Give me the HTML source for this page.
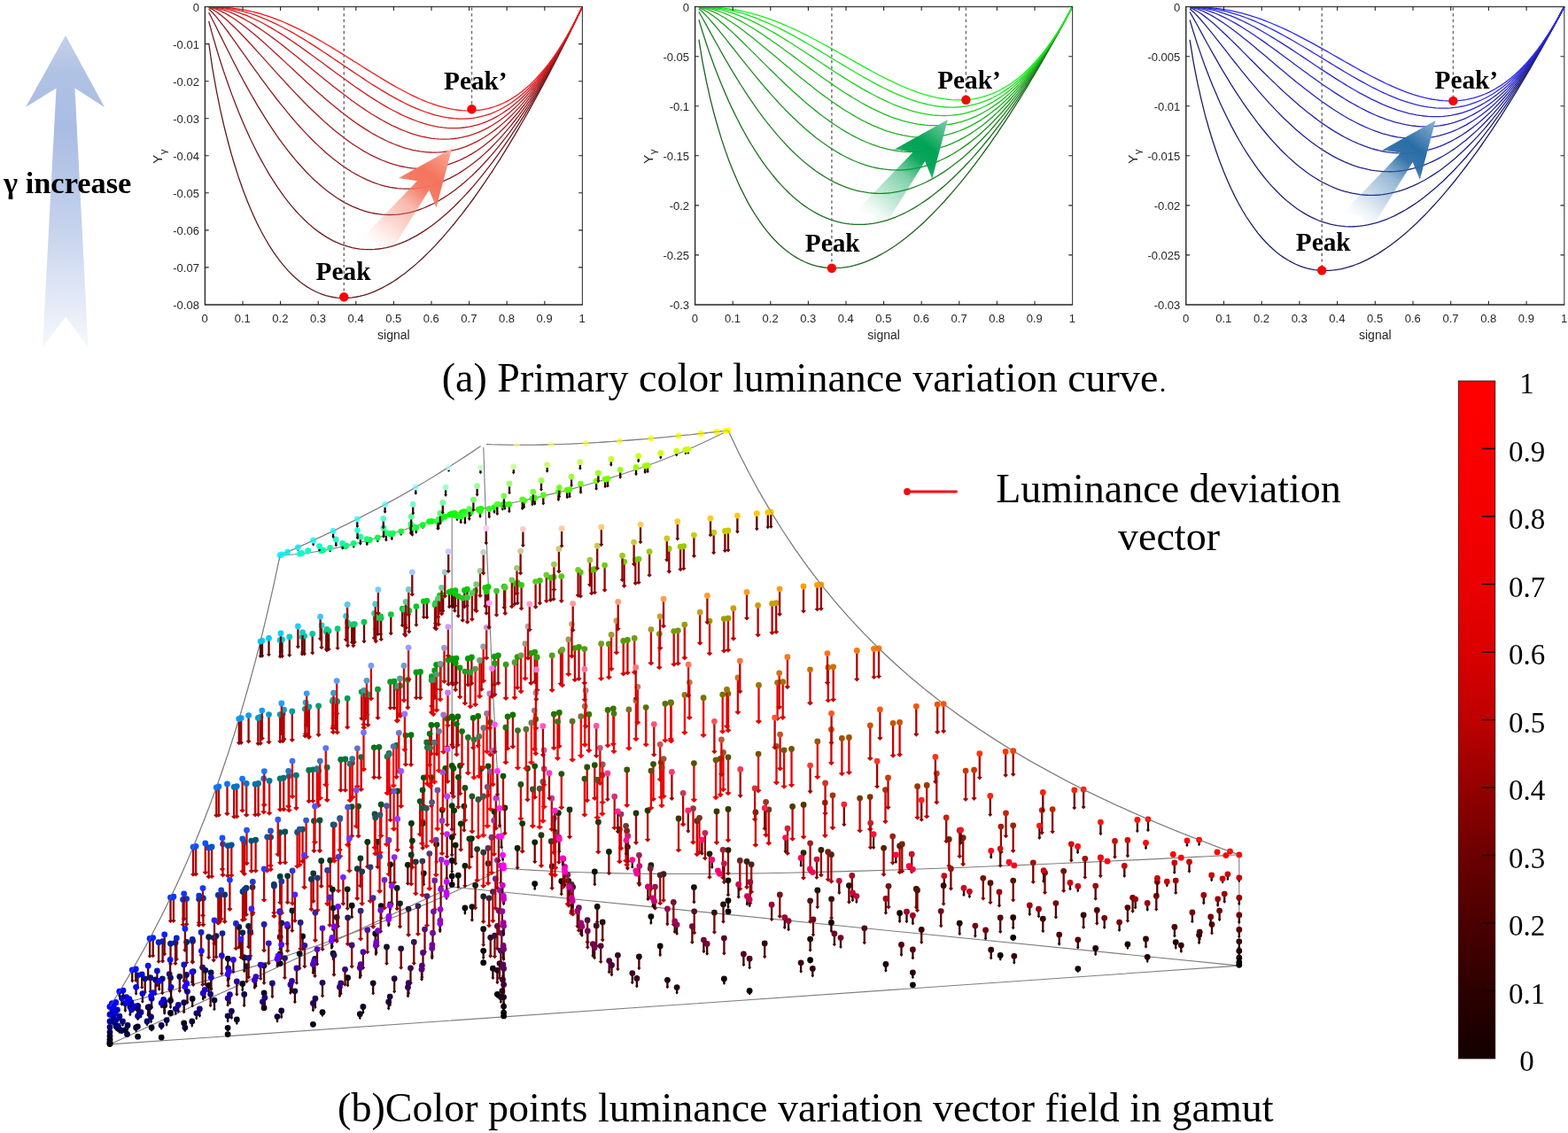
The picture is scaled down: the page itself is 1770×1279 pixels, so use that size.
<!DOCTYPE html>
<html lang="en">
<head>
<meta charset="utf-8">
<title>Luminance variation</title>
<style>html,body{margin:0;padding:0;background:#fff}body{width:1770px;height:1279px;overflow:hidden}svg{display:block}</style>
</head>
<body>
<svg width="1770" height="1279" viewBox="0 0 1770 1279" role="img" aria-label="Primary color luminance variation curves and luminance deviation vector field in gamut">
<defs>
<linearGradient id="gA" gradientUnits="userSpaceOnUse" x1="0" y1="40" x2="0" y2="392"><stop offset="0" stop-color="#c3d1ea"/><stop offset="0.12" stop-color="#b0c2e4"/><stop offset="0.3" stop-color="#a9bce3"/><stop offset="0.6" stop-color="#c4d1ec"/><stop offset="0.85" stop-color="#e3e9f6"/><stop offset="1" stop-color="#f6f8fc"/></linearGradient>
<linearGradient id="gar" gradientUnits="userSpaceOnUse" x1="420.5" y1="282.8" x2="510.2" y2="167.6"><stop offset="0" stop-color="#f4745c" stop-opacity="0"/><stop offset="0.1" stop-color="#f4745c" stop-opacity="0.06"/><stop offset="0.45" stop-color="#f4745c" stop-opacity="0.5"/><stop offset="0.62" stop-color="#f4745c" stop-opacity="0.95"/><stop offset="0.74" stop-color="#f4745c" stop-opacity="1"/><stop offset="1" stop-color="#f9b0a0" stop-opacity="1"/></linearGradient>
<linearGradient id="gag" gradientUnits="userSpaceOnUse" x1="980.2" y1="250.3" x2="1069.9" y2="135.1"><stop offset="0" stop-color="#00a254" stop-opacity="0"/><stop offset="0.1" stop-color="#00a254" stop-opacity="0.06"/><stop offset="0.45" stop-color="#00a254" stop-opacity="0.5"/><stop offset="0.62" stop-color="#00a254" stop-opacity="0.95"/><stop offset="0.74" stop-color="#00a254" stop-opacity="1"/><stop offset="1" stop-color="#7fcfa6" stop-opacity="1"/></linearGradient>
<linearGradient id="gab" gradientUnits="userSpaceOnUse" x1="1530.8" y1="251.2" x2="1620.5" y2="136"><stop offset="0" stop-color="#2a6da6" stop-opacity="0"/><stop offset="0.1" stop-color="#2a6da6" stop-opacity="0.06"/><stop offset="0.45" stop-color="#2a6da6" stop-opacity="0.5"/><stop offset="0.62" stop-color="#2a6da6" stop-opacity="0.95"/><stop offset="0.74" stop-color="#2a6da6" stop-opacity="1"/><stop offset="1" stop-color="#8fb3d2" stop-opacity="1"/></linearGradient>
<linearGradient id="gC" x1="0" y1="1" x2="0" y2="0"><stop offset="0" stop-color="rgb(18,0,0)"/><stop offset="0.1" stop-color="rgb(45,0,0)"/><stop offset="0.2" stop-color="rgb(75,0,0)"/><stop offset="0.3" stop-color="rgb(108,0,0)"/><stop offset="0.4" stop-color="rgb(148,0,0)"/><stop offset="0.5" stop-color="rgb(190,0,0)"/><stop offset="0.6" stop-color="rgb(218,0,0)"/><stop offset="0.7" stop-color="rgb(234,0,0)"/><stop offset="0.8" stop-color="rgb(244,0,0)"/><stop offset="0.9" stop-color="rgb(250,0,0)"/><stop offset="1" stop-color="rgb(255,0,0)"/></linearGradient>
</defs>
<rect width="1770" height="1279" fill="#fff"/>
<path d="M74,40 L118,121 L84.5,99.5 L99.5,392 L74,357.5 L48,392 L63.5,99.5 L29,121 Z" fill="url(#gA)"/>
<text x="4" y="218" font-family="'Liberation Serif', serif" font-weight="bold" font-size="34.4">γ increase</text>
<g>
<polyline points="235.7,48.77 239.9,77.55 244.2,101.64 248.4,122.7 252.7,141.51 257,158.51 261.2,174.01 265.5,188.24 269.7,201.34 274,213.45 278.3,224.66 282.5,235.06 286.8,244.71 291,253.67 295.3,262 299.6,269.73 303.8,276.9 308.1,283.54 312.3,289.69 316.6,295.36 320.9,300.59 325.1,305.39 329.4,309.79 333.6,313.8 337.9,317.43 342.2,320.71 346.4,323.64 350.7,326.24 354.9,328.53 359.2,330.5 363.5,332.18 367.7,333.56 372,334.67 376.2,335.51 380.5,336.08 384.8,336.4 389,336.47 393.3,336.3 397.5,335.89 401.8,335.26 406.1,334.4 410.3,333.32 414.6,332.03 418.8,330.53 423.1,328.83 427.4,326.93 431.6,324.84 435.9,322.55 440.1,320.08 444.4,317.43 448.7,314.6 452.9,311.59 457.2,308.41 461.4,305.06 465.7,301.55 470,297.87 474.2,294.04 478.5,290.05 482.7,285.9 487,281.6 491.3,277.15 495.5,272.56 499.8,267.82 504,262.94 508.3,257.92 512.6,252.77 516.8,247.47 521.1,242.05 525.3,236.49 529.6,230.8 533.9,224.99 538.1,219.05 542.4,212.98 546.6,206.8 550.9,200.49 555.2,194.06 559.4,187.51 563.7,180.85 567.9,174.08 572.2,167.19 576.5,160.19 580.7,153.08 585,145.86 589.2,138.53 593.5,131.1 597.8,123.56 602,115.91 606.3,108.17 610.5,100.32 614.8,92.37 619.1,84.32 623.3,76.18 627.6,67.94 631.8,59.6 636.1,51.16 640.4,42.63 644.6,34.01 648.9,25.3 653.1,16.49 657.4,7.6" fill="none" stroke="rgb(98,26,30)" stroke-width="1.3"/>
<polyline points="235.7,23.99 239.9,39.59 244.2,54.24 248.4,68.07 252.7,81.15 257,93.57 261.2,105.37 265.5,116.6 269.7,127.29 274,137.48 278.3,147.19 282.5,156.45 286.8,165.27 291,173.67 295.3,181.67 299.6,189.29 303.8,196.54 308.1,203.43 312.3,209.96 316.6,216.16 320.9,222.04 325.1,227.59 329.4,232.83 333.6,237.77 337.9,242.41 342.2,246.76 346.4,250.83 350.7,254.62 354.9,258.14 359.2,261.4 363.5,264.4 367.7,267.14 372,269.63 376.2,271.87 380.5,273.87 384.8,275.64 389,277.17 393.3,278.47 397.5,279.54 401.8,280.39 406.1,281.03 410.3,281.44 414.6,281.64 418.8,281.63 423.1,281.42 427.4,281 431.6,280.38 435.9,279.55 440.1,278.54 444.4,277.32 448.7,275.92 452.9,274.32 457.2,272.54 461.4,270.57 465.7,268.42 470,266.09 474.2,263.58 478.5,260.89 482.7,258.03 487,254.99 491.3,251.78 495.5,248.4 499.8,244.85 504,241.14 508.3,237.26 512.6,233.22 516.8,229.01 521.1,224.64 525.3,220.12 529.6,215.44 533.9,210.6 538.1,205.6 542.4,200.45 546.6,195.15 550.9,189.7 555.2,184.1 559.4,178.35 563.7,172.45 567.9,166.41 572.2,160.22 576.5,153.89 580.7,147.42 585,140.8 589.2,134.04 593.5,127.15 597.8,120.11 602,112.94 606.3,105.63 610.5,98.18 614.8,90.6 619.1,82.89 623.3,75.04 627.6,67.07 631.8,58.96 636.1,50.72 640.4,42.35 644.6,33.85 648.9,25.23 653.1,16.48 657.4,7.6" fill="none" stroke="rgb(113,26,30)" stroke-width="1.3"/>
<polyline points="235.7,14.12 239.9,22.23 244.2,30.73 248.4,39.36 252.7,48 257,56.57 261.2,65.04 265.5,73.37 269.7,81.55 274,89.55 278.3,97.37 282.5,105 286.8,112.44 291,119.68 295.3,126.71 299.6,133.54 303.8,140.16 308.1,146.57 312.3,152.77 316.6,158.76 320.9,164.54 325.1,170.11 329.4,175.47 333.6,180.62 337.9,185.55 342.2,190.28 346.4,194.79 350.7,199.1 354.9,203.2 359.2,207.09 363.5,210.77 367.7,214.25 372,217.52 376.2,220.58 380.5,223.44 384.8,226.1 389,228.56 393.3,230.81 397.5,232.86 401.8,234.72 406.1,236.37 410.3,237.82 414.6,239.08 418.8,240.14 423.1,241 427.4,241.67 431.6,242.15 435.9,242.43 440.1,242.51 444.4,242.41 448.7,242.11 452.9,241.63 457.2,240.95 461.4,240.08 465.7,239.03 470,237.79 474.2,236.36 478.5,234.75 482.7,232.95 487,230.96 491.3,228.8 495.5,226.45 499.8,223.91 504,221.2 508.3,218.3 512.6,215.22 516.8,211.97 521.1,208.53 525.3,204.92 529.6,201.13 533.9,197.16 538.1,193.01 542.4,188.69 546.6,184.19 550.9,179.52 555.2,174.67 559.4,169.66 563.7,164.46 567.9,159.1 572.2,153.56 576.5,147.85 580.7,141.98 585,135.93 589.2,129.71 593.5,123.32 597.8,116.77 602,110.04 606.3,103.15 610.5,96.1 614.8,88.87 619.1,81.48 623.3,73.93 627.6,66.21 631.8,58.33 636.1,50.28 640.4,42.07 644.6,33.69 648.9,25.16 653.1,16.46 657.4,7.6" fill="none" stroke="rgb(129,26,30)" stroke-width="1.3"/>
<polyline points="235.7,10.2 239.9,14.29 244.2,19.07 248.4,24.29 252.7,29.79 257,35.5 261.2,41.35 265.5,47.29 269.7,53.28 274,59.31 278.3,65.33 282.5,71.34 286.8,77.31 291,83.24 295.3,89.1 299.6,94.89 303.8,100.6 308.1,106.22 312.3,111.74 316.6,117.16 320.9,122.46 325.1,127.65 329.4,132.72 333.6,137.65 337.9,142.46 342.2,147.13 346.4,151.67 350.7,156.06 354.9,160.3 359.2,164.4 363.5,168.34 367.7,172.14 372,175.77 376.2,179.25 380.5,182.57 384.8,185.72 389,188.71 393.3,191.54 397.5,194.2 401.8,196.69 406.1,199 410.3,201.15 414.6,203.13 418.8,204.93 423.1,206.55 427.4,208 431.6,209.27 435.9,210.37 440.1,211.28 444.4,212.01 448.7,212.56 452.9,212.94 457.2,213.12 461.4,213.13 465.7,212.95 470,212.59 474.2,212.04 478.5,211.3 482.7,210.38 487,209.27 491.3,207.98 495.5,206.49 499.8,204.82 504,202.96 508.3,200.91 512.6,198.67 516.8,196.24 521.1,193.62 525.3,190.8 529.6,187.8 533.9,184.61 538.1,181.22 542.4,177.64 546.6,173.87 550.9,169.91 555.2,165.75 559.4,161.4 563.7,156.86 567.9,152.12 572.2,147.19 576.5,142.07 580.7,136.75 585,131.23 589.2,125.53 593.5,119.62 597.8,113.52 602,107.23 606.3,100.74 610.5,94.06 614.8,87.18 619.1,80.1 623.3,72.83 627.6,65.36 631.8,57.7 636.1,49.84 640.4,41.79 644.6,33.53 648.9,25.09 653.1,16.44 657.4,7.6" fill="none" stroke="rgb(145,26,30)" stroke-width="1.3"/>
<polyline points="235.7,8.63 239.9,10.66 244.2,13.29 248.4,16.36 252.7,19.79 257,23.49 261.2,27.43 265.5,31.55 269.7,35.82 274,40.22 278.3,44.73 282.5,49.31 286.8,53.96 291,58.65 295.3,63.37 299.6,68.11 303.8,72.85 308.1,77.59 312.3,82.31 316.6,87.01 320.9,91.67 325.1,96.29 329.4,100.85 333.6,105.36 337.9,109.81 342.2,114.18 346.4,118.48 350.7,122.69 354.9,126.81 359.2,130.84 363.5,134.78 367.7,138.61 372,142.33 376.2,145.94 380.5,149.43 384.8,152.8 389,156.05 393.3,159.18 397.5,162.17 401.8,165.02 406.1,167.74 410.3,170.32 414.6,172.76 418.8,175.05 423.1,177.19 427.4,179.17 431.6,181.01 435.9,182.68 440.1,184.2 444.4,185.55 448.7,186.74 452.9,187.76 457.2,188.62 461.4,189.3 465.7,189.81 470,190.14 474.2,190.3 478.5,190.27 482.7,190.07 487,189.69 491.3,189.11 495.5,188.36 499.8,187.41 504,186.28 508.3,184.95 512.6,183.43 516.8,181.72 521.1,179.81 525.3,177.7 529.6,175.39 533.9,172.89 538.1,170.18 542.4,167.27 546.6,164.15 550.9,160.83 555.2,157.3 559.4,153.57 563.7,149.62 567.9,145.47 572.2,141.1 576.5,136.52 580.7,131.72 585,126.71 589.2,121.48 593.5,116.04 597.8,110.38 602,104.49 606.3,98.39 610.5,92.07 614.8,85.52 619.1,78.75 623.3,71.75 627.6,64.53 631.8,57.09 636.1,49.41 640.4,41.51 644.6,33.38 648.9,25.02 653.1,16.42 657.4,7.6" fill="none" stroke="rgb(161,26,30)" stroke-width="1.3"/>
<polyline points="235.7,8.01 239.9,9 244.2,10.42 248.4,12.2 252.7,14.3 257,16.65 261.2,19.25 265.5,22.05 269.7,25.04 274,28.18 278.3,31.48 282.5,34.89 286.8,38.42 291,42.05 295.3,45.76 299.6,49.54 303.8,53.38 308.1,57.27 312.3,61.2 316.6,65.15 320.9,69.13 325.1,73.11 329.4,77.1 333.6,81.09 337.9,85.06 342.2,89.01 346.4,92.93 350.7,96.82 354.9,100.67 359.2,104.47 363.5,108.22 367.7,111.91 372,115.53 376.2,119.09 380.5,122.57 384.8,125.97 389,129.28 393.3,132.51 397.5,135.64 401.8,138.66 406.1,141.59 410.3,144.4 414.6,147.11 418.8,149.69 423.1,152.16 427.4,154.49 431.6,156.7 435.9,158.78 440.1,160.72 444.4,162.52 448.7,164.17 452.9,165.68 457.2,167.03 461.4,168.23 465.7,169.27 470,170.15 474.2,170.87 478.5,171.42 482.7,171.8 487,172 491.3,172.03 495.5,171.88 499.8,171.54 504,171.02 508.3,170.31 512.6,169.41 516.8,168.32 521.1,167.02 525.3,165.53 529.6,163.84 533.9,161.95 538.1,159.84 542.4,157.53 546.6,155 550.9,152.27 555.2,149.31 559.4,146.13 563.7,142.74 567.9,139.12 572.2,135.27 576.5,131.2 580.7,126.89 585,122.35 589.2,117.58 593.5,112.57 597.8,107.32 602,101.83 606.3,96.1 610.5,90.12 614.8,83.89 619.1,77.42 623.3,70.69 627.6,63.71 631.8,56.48 636.1,48.98 640.4,41.23 644.6,33.22 648.9,24.95 653.1,16.41 657.4,7.6" fill="none" stroke="rgb(176,26,30)" stroke-width="1.3"/>
<polyline points="235.7,7.76 239.9,8.24 244.2,9 248.4,10.02 252.7,11.28 257,12.76 261.2,14.44 265.5,16.32 269.7,18.37 274,20.59 278.3,22.95 282.5,25.46 286.8,28.1 291,30.85 295.3,33.71 299.6,36.67 303.8,39.72 308.1,42.85 312.3,46.05 316.6,49.31 320.9,52.63 325.1,56 329.4,59.4 333.6,62.84 337.9,66.3 342.2,69.78 346.4,73.27 350.7,76.77 354.9,80.26 359.2,83.74 363.5,87.21 367.7,90.65 372,94.07 376.2,97.45 380.5,100.8 384.8,104.09 389,107.34 393.3,110.53 397.5,113.66 401.8,116.72 406.1,119.7 410.3,122.61 414.6,125.44 418.8,128.18 423.1,130.82 427.4,133.36 431.6,135.8 435.9,138.14 440.1,140.36 444.4,142.46 448.7,144.44 452.9,146.3 457.2,148.02 461.4,149.61 465.7,151.05 470,152.36 474.2,153.51 478.5,154.51 482.7,155.35 487,156.03 491.3,156.55 495.5,156.9 499.8,157.07 504,157.07 508.3,156.88 512.6,156.51 516.8,155.94 521.1,155.19 525.3,154.24 529.6,153.08 533.9,151.73 538.1,150.16 542.4,148.38 546.6,146.39 550.9,144.18 555.2,141.74 559.4,139.08 563.7,136.19 567.9,133.06 572.2,129.7 576.5,126.1 580.7,122.25 585,118.16 589.2,113.81 593.5,109.21 597.8,104.36 602,99.24 606.3,93.87 610.5,88.22 614.8,82.3 619.1,76.11 623.3,69.65 627.6,62.9 631.8,55.88 636.1,48.56 640.4,40.96 644.6,33.07 648.9,24.88 653.1,16.39 657.4,7.6" fill="none" stroke="rgb(192,26,30)" stroke-width="1.3"/>
<polyline points="235.7,7.67 239.9,7.89 244.2,8.29 248.4,8.87 252.7,9.62 257,10.54 261.2,11.62 265.5,12.86 269.7,14.26 274,15.79 278.3,17.47 282.5,19.29 286.8,21.23 291,23.29 295.3,25.47 299.6,27.75 303.8,30.14 308.1,32.61 312.3,35.18 316.6,37.83 320.9,40.56 325.1,43.35 329.4,46.21 333.6,49.12 337.9,52.09 342.2,55.1 346.4,58.14 350.7,61.22 354.9,64.32 359.2,67.45 363.5,70.58 367.7,73.73 372,76.87 376.2,80.01 380.5,83.15 384.8,86.26 389,89.35 393.3,92.42 397.5,95.45 401.8,98.45 406.1,101.39 410.3,104.29 414.6,107.14 418.8,109.92 423.1,112.63 427.4,115.27 431.6,117.84 435.9,120.32 440.1,122.71 444.4,125 448.7,127.2 452.9,129.29 457.2,131.27 461.4,133.14 465.7,134.89 470,136.51 474.2,137.99 478.5,139.35 482.7,140.56 487,141.62 491.3,142.53 495.5,143.28 499.8,143.88 504,144.3 508.3,144.56 512.6,144.63 516.8,144.53 521.1,144.23 525.3,143.75 529.6,143.07 533.9,142.19 538.1,141.1 542.4,139.8 546.6,138.28 550.9,136.54 555.2,134.58 559.4,132.38 563.7,129.95 567.9,127.28 572.2,124.37 576.5,121.21 580.7,117.79 585,114.11 589.2,110.17 593.5,105.96 597.8,101.48 602,96.73 606.3,91.69 610.5,86.36 614.8,80.75 619.1,74.83 623.3,68.62 627.6,62.11 631.8,55.28 636.1,48.14 640.4,40.69 644.6,32.91 648.9,24.81 653.1,16.37 657.4,7.6" fill="none" stroke="rgb(208,26,30)" stroke-width="1.3"/>
<polyline points="235.7,7.63 239.9,7.73 244.2,7.94 248.4,8.27 252.7,8.71 257,9.27 261.2,9.96 265.5,10.78 269.7,11.71 274,12.77 278.3,13.95 282.5,15.25 286.8,16.66 291,18.19 295.3,19.83 299.6,21.57 303.8,23.41 308.1,25.35 312.3,27.39 316.6,29.51 320.9,31.72 325.1,34.01 329.4,36.38 333.6,38.81 337.9,41.32 342.2,43.88 346.4,46.5 350.7,49.17 354.9,51.88 359.2,54.64 363.5,57.43 367.7,60.25 372,63.1 376.2,65.96 380.5,68.84 384.8,71.72 389,74.61 393.3,77.5 397.5,80.37 401.8,83.23 406.1,86.08 410.3,88.89 414.6,91.68 418.8,94.42 423.1,97.13 427.4,99.78 431.6,102.39 435.9,104.93 440.1,107.4 444.4,109.81 448.7,112.13 452.9,114.37 457.2,116.53 461.4,118.59 465.7,120.54 470,122.39 474.2,124.13 478.5,125.75 482.7,127.24 487,128.6 491.3,129.83 495.5,130.91 499.8,131.85 504,132.63 508.3,133.25 512.6,133.7 516.8,133.99 521.1,134.09 525.3,134.01 529.6,133.74 533.9,133.28 538.1,132.61 542.4,131.73 546.6,130.64 550.9,129.33 555.2,127.8 559.4,126.03 563.7,124.02 567.9,121.77 572.2,119.27 576.5,116.52 580.7,113.5 585,110.22 589.2,106.66 593.5,102.82 597.8,98.69 602,94.28 606.3,89.57 610.5,84.55 614.8,79.22 619.1,73.58 623.3,67.61 627.6,61.32 631.8,54.7 636.1,47.73 640.4,40.42 644.6,32.76 648.9,24.74 653.1,16.35 657.4,7.6" fill="none" stroke="rgb(224,26,30)" stroke-width="1.3"/>
<polyline points="235.7,7.61 239.9,7.66 244.2,7.77 248.4,7.95 252.7,8.21 257,8.55 261.2,8.99 265.5,9.52 269.7,10.14 274,10.86 278.3,11.68 282.5,12.61 286.8,13.63 291,14.75 295.3,15.97 299.6,17.28 303.8,18.69 308.1,20.2 312.3,21.8 316.6,23.48 320.9,25.25 325.1,27.11 329.4,29.05 333.6,31.06 337.9,33.15 342.2,35.31 346.4,37.54 350.7,39.82 354.9,42.17 359.2,44.57 363.5,47.02 367.7,49.52 372,52.06 376.2,54.63 380.5,57.24 384.8,59.87 389,62.53 393.3,65.2 397.5,67.88 401.8,70.57 406.1,73.26 410.3,75.94 414.6,78.62 418.8,81.28 423.1,83.91 427.4,86.52 431.6,89.1 435.9,91.64 440.1,94.13 444.4,96.58 448.7,98.96 452.9,101.28 457.2,103.54 461.4,105.72 465.7,107.81 470,109.82 474.2,111.74 478.5,113.55 482.7,115.26 487,116.85 491.3,118.32 495.5,119.67 499.8,120.88 504,121.95 508.3,122.88 512.6,123.65 516.8,124.26 521.1,124.7 525.3,124.97 529.6,125.06 533.9,124.95 538.1,124.66 542.4,124.16 546.6,123.45 550.9,122.52 555.2,121.38 559.4,120 563.7,118.38 567.9,116.51 572.2,114.4 576.5,112.02 580.7,109.38 585,106.46 589.2,103.26 593.5,99.77 597.8,95.99 602,91.9 606.3,87.5 610.5,82.77 614.8,77.73 619.1,72.34 623.3,66.62 627.6,60.55 631.8,54.12 636.1,47.32 640.4,40.15 644.6,32.6 648.9,24.67 653.1,16.34 657.4,7.6" fill="none" stroke="rgb(240,26,30)" stroke-width="1.3"/>
<path d="M510.2,167.6 L492.5,234.3 L484.4,214.6 L435,294 L426.7,274.9 L406.1,271.6 L470.9,204.2 L449.9,201.1Z" fill="url(#gar)"/>
<line x1="388.3" y1="8.6" x2="388.3" y2="335.3" stroke="#6e6e6e" stroke-width="1.5" stroke-dasharray="3.2 3.4"/>
<line x1="532.5" y1="8.6" x2="532.5" y2="123.3" stroke="#6e6e6e" stroke-width="1.5" stroke-dasharray="3.2 3.4"/>
<circle cx="388.3" cy="335.3" r="5.2" fill="#f60505"/>
<circle cx="532.5" cy="123.3" r="5.2" fill="#f60505"/>
<text x="356.6" y="315.8" font-family="'Liberation Serif', serif" font-weight="bold" font-size="29.3">Peak</text>
<text x="501" y="100.8" font-family="'Liberation Serif', serif" font-weight="bold" font-size="29.3">Peak’</text>
<path d="M231.4,7.6H657.4V344" fill="none" stroke="#3a3a3a" stroke-width="1.1"/>
<path d="M231.4,7.1V344H657.9" fill="none" stroke="#262626" stroke-width="1.4"/>
<path d="M274,344v-4.3M274,7.6v4.3M316.6,344v-4.3M316.6,7.6v4.3M359.2,344v-4.3M359.2,7.6v4.3M401.8,344v-4.3M401.8,7.6v4.3M444.4,344v-4.3M444.4,7.6v4.3M487,344v-4.3M487,7.6v4.3M529.6,344v-4.3M529.6,7.6v4.3M572.2,344v-4.3M572.2,7.6v4.3M614.8,344v-4.3M614.8,7.6v4.3M231.4,49.6h4.3M657.4,49.6h-4.3M231.4,91.7h4.3M657.4,91.7h-4.3M231.4,133.8h4.3M657.4,133.8h-4.3M231.4,175.8h4.3M657.4,175.8h-4.3M231.4,217.8h4.3M657.4,217.8h-4.3M231.4,259.9h4.3M657.4,259.9h-4.3M231.4,301.9h4.3M657.4,301.9h-4.3" stroke="#262626" stroke-width="1.1" fill="none"/>
<g font-family="'Liberation Sans', sans-serif" font-size="13" fill="#262626">
<text x="231.2" y="363.6" text-anchor="middle">0</text>
<text x="273.8" y="363.6" text-anchor="middle">0.1</text>
<text x="316.4" y="363.6" text-anchor="middle">0.2</text>
<text x="359" y="363.6" text-anchor="middle">0.3</text>
<text x="401.6" y="363.6" text-anchor="middle">0.4</text>
<text x="444.2" y="363.6" text-anchor="middle">0.5</text>
<text x="486.8" y="363.6" text-anchor="middle">0.6</text>
<text x="529.4" y="363.6" text-anchor="middle">0.7</text>
<text x="572" y="363.6" text-anchor="middle">0.8</text>
<text x="614.6" y="363.6" text-anchor="middle">0.9</text>
<text x="657.2" y="363.6" text-anchor="middle">1</text>
<text x="224.9" y="13" text-anchor="end">0</text>
<text x="224.9" y="55" text-anchor="end">-0.01</text>
<text x="224.9" y="97.1" text-anchor="end">-0.02</text>
<text x="224.9" y="139.2" text-anchor="end">-0.03</text>
<text x="224.9" y="181.2" text-anchor="end">-0.04</text>
<text x="224.9" y="223.2" text-anchor="end">-0.05</text>
<text x="224.9" y="265.3" text-anchor="end">-0.06</text>
<text x="224.9" y="307.3" text-anchor="end">-0.07</text>
<text x="224.9" y="349.4" text-anchor="end">-0.08</text>
</g>
<text x="444.4" y="383" text-anchor="middle" font-family="'Liberation Sans', sans-serif" font-size="14" fill="#262626">signal</text>
<text transform="translate(183.4,184.8) rotate(-90)" font-family="'Liberation Sans', sans-serif" font-size="15" fill="#262626">Y<tspan dy="4.5" dx="0.5" font-size="11.5">γ</tspan></text>
</g>
<g>
<polyline points="788.9,44.53 793.1,70.35 797.4,91.97 801.6,110.86 805.9,127.73 810.2,142.98 814.4,156.89 818.7,169.65 822.9,181.4 827.2,192.26 831.5,202.32 835.7,211.65 840,220.31 844.2,228.35 848.5,235.82 852.8,242.75 857,249.18 861.3,255.14 865.5,260.66 869.8,265.75 874.1,270.44 878.3,274.75 882.6,278.69 886.8,282.28 891.1,285.54 895.4,288.48 899.6,291.12 903.9,293.45 908.1,295.5 912.4,297.27 916.7,298.77 920.9,300.02 925.2,301.01 929.4,301.76 933.7,302.28 938,302.56 942.2,302.63 946.5,302.47 950.7,302.11 955,301.54 959.3,300.77 963.5,299.8 967.8,298.64 972,297.3 976.3,295.77 980.6,294.07 984.8,292.19 989.1,290.14 993.3,287.92 997.6,285.54 1001.9,283 1006.1,280.31 1010.4,277.45 1014.6,274.45 1018.9,271.3 1023.2,268 1027.4,264.56 1031.7,260.98 1035.9,257.26 1040.2,253.4 1044.5,249.41 1048.7,245.29 1053,241.04 1057.2,236.66 1061.5,232.16 1065.8,227.53 1070,222.79 1074.3,217.92 1078.5,212.93 1082.8,207.83 1087.1,202.62 1091.3,197.29 1095.6,191.85 1099.8,186.29 1104.1,180.64 1108.4,174.87 1112.6,169 1116.9,163.02 1121.1,156.94 1125.4,150.76 1129.7,144.48 1133.9,138.11 1138.2,131.63 1142.4,125.06 1146.7,118.39 1151,111.62 1155.2,104.77 1159.5,97.82 1163.7,90.78 1168,83.65 1172.3,76.43 1176.5,69.12 1180.8,61.73 1185,54.25 1189.3,46.68 1193.6,39.03 1197.8,31.29 1202.1,23.48 1206.3,15.58 1210.6,7.6" fill="none" stroke="rgb(28,98,30)" stroke-width="1.3"/>
<polyline points="788.9,22.3 793.1,36.29 797.4,49.44 801.6,61.84 805.9,73.58 810.2,84.72 814.4,95.31 818.7,105.38 822.9,114.97 827.2,124.11 831.5,132.82 835.7,141.13 840,149.04 844.2,156.58 848.5,163.76 852.8,170.59 857,177.09 861.3,183.27 865.5,189.14 869.8,194.7 874.1,199.97 878.3,204.95 882.6,209.65 886.8,214.08 891.1,218.24 895.4,222.15 899.6,225.8 903.9,229.2 908.1,232.36 912.4,235.28 916.7,237.97 920.9,240.43 925.2,242.66 929.4,244.67 933.7,246.47 938,248.05 942.2,249.42 946.5,250.59 950.7,251.56 955,252.32 959.3,252.89 963.5,253.26 967.8,253.44 972,253.43 976.3,253.24 980.6,252.86 984.8,252.3 989.1,251.57 993.3,250.65 997.6,249.56 1001.9,248.3 1006.1,246.87 1010.4,245.28 1014.6,243.51 1018.9,241.58 1023.2,239.49 1027.4,237.24 1031.7,234.82 1035.9,232.26 1040.2,229.53 1044.5,226.65 1048.7,223.62 1053,220.44 1057.2,217.1 1061.5,213.62 1065.8,210 1070,206.22 1074.3,202.31 1078.5,198.25 1082.8,194.05 1087.1,189.7 1091.3,185.22 1095.6,180.61 1099.8,175.85 1104.1,170.96 1108.4,165.94 1112.6,160.78 1116.9,155.49 1121.1,150.07 1125.4,144.52 1129.7,138.84 1133.9,133.03 1138.2,127.09 1142.4,121.03 1146.7,114.84 1151,108.53 1155.2,102.1 1159.5,95.54 1163.7,88.86 1168,82.06 1172.3,75.14 1176.5,68.1 1180.8,60.95 1185,53.67 1189.3,46.28 1193.6,38.77 1197.8,31.15 1202.1,23.41 1206.3,15.56 1210.6,7.6" fill="none" stroke="rgb(28,113,30)" stroke-width="1.3"/>
<polyline points="788.9,13.45 793.1,20.72 797.4,28.35 801.6,36.09 805.9,43.84 810.2,51.53 814.4,59.13 818.7,66.6 822.9,73.94 827.2,81.12 831.5,88.13 835.7,94.98 840,101.65 844.2,108.14 848.5,114.45 852.8,120.58 857,126.52 861.3,132.27 865.5,137.83 869.8,143.21 874.1,148.39 878.3,153.39 882.6,158.19 886.8,162.81 891.1,167.24 895.4,171.48 899.6,175.53 903.9,179.39 908.1,183.07 912.4,186.56 916.7,189.86 920.9,192.98 925.2,195.91 929.4,198.66 933.7,201.23 938,203.61 942.2,205.82 946.5,207.84 950.7,209.68 955,211.34 959.3,212.82 963.5,214.13 967.8,215.26 972,216.21 976.3,216.98 980.6,217.58 984.8,218.01 989.1,218.26 993.3,218.34 997.6,218.24 1001.9,217.98 1006.1,217.54 1010.4,216.93 1014.6,216.16 1018.9,215.21 1023.2,214.1 1027.4,212.82 1031.7,211.37 1035.9,209.76 1040.2,207.98 1044.5,206.03 1048.7,203.92 1053,201.65 1057.2,199.21 1061.5,196.62 1065.8,193.86 1070,190.93 1074.3,187.85 1078.5,184.61 1082.8,181.21 1087.1,177.65 1091.3,173.93 1095.6,170.05 1099.8,166.02 1104.1,161.83 1108.4,157.48 1112.6,152.98 1116.9,148.32 1121.1,143.51 1125.4,138.54 1129.7,133.42 1133.9,128.15 1138.2,122.72 1142.4,117.14 1146.7,111.41 1151,105.53 1155.2,99.5 1159.5,93.32 1163.7,86.99 1168,80.51 1172.3,73.88 1176.5,67.1 1180.8,60.18 1185,53.11 1189.3,45.89 1193.6,38.52 1197.8,31.01 1202.1,23.35 1206.3,15.55 1210.6,7.6" fill="none" stroke="rgb(28,129,30)" stroke-width="1.3"/>
<polyline points="788.9,9.93 793.1,13.6 797.4,17.89 801.6,22.57 805.9,27.51 810.2,32.63 814.4,37.87 818.7,43.2 822.9,48.58 827.2,53.99 831.5,59.39 835.7,64.78 840,70.14 844.2,75.45 848.5,80.71 852.8,85.91 857,91.03 861.3,96.07 865.5,101.03 869.8,105.88 874.1,110.64 878.3,115.3 882.6,119.84 886.8,124.27 891.1,128.58 895.4,132.77 899.6,136.84 903.9,140.78 908.1,144.59 912.4,148.26 916.7,151.8 920.9,155.2 925.2,158.46 929.4,161.58 933.7,164.56 938,167.39 942.2,170.07 946.5,172.61 950.7,174.99 955,177.23 959.3,179.31 963.5,181.23 967.8,183 972,184.62 976.3,186.08 980.6,187.38 984.8,188.52 989.1,189.5 993.3,190.32 997.6,190.97 1001.9,191.47 1006.1,191.8 1010.4,191.97 1014.6,191.98 1018.9,191.82 1023.2,191.49 1027.4,191 1031.7,190.34 1035.9,189.51 1040.2,188.52 1044.5,187.35 1048.7,186.02 1053,184.52 1057.2,182.85 1061.5,181.01 1065.8,179 1070,176.82 1074.3,174.47 1078.5,171.95 1082.8,169.26 1087.1,166.39 1091.3,163.35 1095.6,160.14 1099.8,156.76 1104.1,153.2 1108.4,149.48 1112.6,145.57 1116.9,141.5 1121.1,137.25 1125.4,132.82 1129.7,128.23 1133.9,123.46 1138.2,118.51 1142.4,113.39 1146.7,108.09 1151,102.62 1155.2,96.98 1159.5,91.16 1163.7,85.16 1168,78.99 1172.3,72.64 1176.5,66.12 1180.8,59.42 1185,52.55 1189.3,45.49 1193.6,38.27 1197.8,30.87 1202.1,23.29 1206.3,15.53 1210.6,7.6" fill="none" stroke="rgb(28,145,30)" stroke-width="1.3"/>
<polyline points="788.9,8.53 793.1,10.34 797.4,12.7 801.6,15.46 805.9,18.53 810.2,21.86 814.4,25.39 818.7,29.08 822.9,32.92 827.2,36.87 831.5,40.91 835.7,45.02 840,49.19 844.2,53.39 848.5,57.63 852.8,61.88 857,66.14 861.3,70.39 865.5,74.62 869.8,78.83 874.1,83.02 878.3,87.16 882.6,91.26 886.8,95.3 891.1,99.29 895.4,103.21 899.6,107.06 903.9,110.84 908.1,114.54 912.4,118.16 916.7,121.69 920.9,125.12 925.2,128.46 929.4,131.7 933.7,134.83 938,137.86 942.2,140.77 946.5,143.58 950.7,146.26 955,148.82 959.3,151.26 963.5,153.58 967.8,155.76 972,157.81 976.3,159.73 980.6,161.52 984.8,163.16 989.1,164.66 993.3,166.02 997.6,167.24 1001.9,168.3 1006.1,169.22 1010.4,169.99 1014.6,170.6 1018.9,171.05 1023.2,171.35 1027.4,171.49 1031.7,171.47 1035.9,171.29 1040.2,170.95 1044.5,170.43 1048.7,169.75 1053,168.91 1057.2,167.89 1061.5,166.7 1065.8,165.34 1070,163.8 1074.3,162.08 1078.5,160.19 1082.8,158.13 1087.1,155.88 1091.3,153.45 1095.6,150.84 1099.8,148.04 1104.1,145.06 1108.4,141.9 1112.6,138.55 1116.9,135.01 1121.1,131.28 1125.4,127.36 1129.7,123.25 1133.9,118.95 1138.2,114.45 1142.4,109.76 1146.7,104.88 1151,99.8 1155.2,94.52 1159.5,89.05 1163.7,83.37 1168,77.5 1172.3,71.43 1176.5,65.15 1180.8,58.67 1185,51.99 1189.3,45.11 1193.6,38.02 1197.8,30.72 1202.1,23.22 1206.3,15.52 1210.6,7.6" fill="none" stroke="rgb(28,161,30)" stroke-width="1.3"/>
<polyline points="788.9,7.97 793.1,8.85 797.4,10.13 801.6,11.73 805.9,13.61 810.2,15.72 814.4,18.05 818.7,20.56 822.9,23.24 827.2,26.07 831.5,29.02 835.7,32.09 840,35.25 844.2,38.5 848.5,41.83 852.8,45.22 857,48.67 861.3,52.16 865.5,55.68 869.8,59.23 874.1,62.8 878.3,66.37 882.6,69.95 886.8,73.52 891.1,77.09 895.4,80.63 899.6,84.15 903.9,87.64 908.1,91.09 912.4,94.5 916.7,97.86 920.9,101.17 925.2,104.43 929.4,107.61 933.7,110.74 938,113.79 942.2,116.76 946.5,119.65 950.7,122.46 955,125.18 959.3,127.8 963.5,130.32 967.8,132.75 972,135.07 976.3,137.28 980.6,139.38 984.8,141.36 989.1,143.22 993.3,144.96 997.6,146.57 1001.9,148.06 1006.1,149.41 1010.4,150.62 1014.6,151.7 1018.9,152.63 1023.2,153.42 1027.4,154.07 1031.7,154.56 1035.9,154.9 1040.2,155.08 1044.5,155.11 1048.7,154.97 1053,154.67 1057.2,154.2 1061.5,153.56 1065.8,152.76 1070,151.78 1074.3,150.62 1078.5,149.28 1082.8,147.76 1087.1,146.06 1091.3,144.17 1095.6,142.1 1099.8,139.83 1104.1,137.38 1108.4,134.73 1112.6,131.88 1116.9,128.83 1121.1,125.58 1125.4,122.13 1129.7,118.48 1133.9,114.61 1138.2,110.54 1142.4,106.26 1146.7,101.77 1151,97.06 1155.2,92.13 1159.5,86.99 1163.7,81.63 1168,76.04 1172.3,70.23 1176.5,64.2 1180.8,57.94 1185,51.45 1189.3,44.73 1193.6,37.77 1197.8,30.58 1202.1,23.16 1206.3,15.5 1210.6,7.6" fill="none" stroke="rgb(28,176,30)" stroke-width="1.3"/>
<polyline points="788.9,7.75 793.1,8.17 797.4,8.86 801.6,9.77 805.9,10.9 810.2,12.23 814.4,13.74 818.7,15.42 822.9,17.26 827.2,19.25 831.5,21.37 835.7,23.62 840,25.99 844.2,28.46 848.5,31.02 852.8,33.68 857,36.41 861.3,39.22 865.5,42.09 869.8,45.02 874.1,48 878.3,51.02 882.6,54.07 886.8,57.15 891.1,60.26 895.4,63.38 899.6,66.51 903.9,69.65 908.1,72.78 912.4,75.9 916.7,79.01 920.9,82.1 925.2,85.17 929.4,88.2 933.7,91.2 938,94.16 942.2,97.08 946.5,99.94 950.7,102.74 955,105.49 959.3,108.17 963.5,110.78 967.8,113.31 972,115.77 976.3,118.14 980.6,120.42 984.8,122.61 989.1,124.7 993.3,126.7 997.6,128.58 1001.9,130.36 1006.1,132.02 1010.4,133.57 1014.6,134.99 1018.9,136.29 1023.2,137.46 1027.4,138.49 1031.7,139.39 1035.9,140.15 1040.2,140.76 1044.5,141.22 1048.7,141.53 1053,141.69 1057.2,141.68 1061.5,141.52 1065.8,141.18 1070,140.68 1074.3,140 1078.5,139.15 1082.8,138.11 1087.1,136.89 1091.3,135.49 1095.6,133.89 1099.8,132.11 1104.1,130.12 1108.4,127.94 1112.6,125.55 1116.9,122.95 1121.1,120.15 1125.4,117.13 1129.7,113.9 1133.9,110.45 1138.2,106.78 1142.4,102.88 1146.7,98.76 1151,94.4 1155.2,89.81 1159.5,84.99 1163.7,79.92 1168,74.62 1172.3,69.06 1176.5,63.26 1180.8,57.21 1185,50.91 1189.3,44.35 1193.6,37.53 1197.8,30.44 1202.1,23.1 1206.3,15.48 1210.6,7.6" fill="none" stroke="rgb(28,192,30)" stroke-width="1.3"/>
<polyline points="788.9,7.66 793.1,7.86 797.4,8.22 801.6,8.74 805.9,9.41 810.2,10.24 814.4,11.21 818.7,12.32 822.9,13.57 827.2,14.95 831.5,16.46 835.7,18.09 840,19.83 844.2,21.68 848.5,23.63 852.8,25.68 857,27.82 861.3,30.04 865.5,32.34 869.8,34.72 874.1,37.17 878.3,39.67 882.6,42.24 886.8,44.85 891.1,47.51 895.4,50.21 899.6,52.94 903.9,55.7 908.1,58.49 912.4,61.29 916.7,64.1 920.9,66.92 925.2,69.74 929.4,72.56 933.7,75.37 938,78.17 942.2,80.94 946.5,83.69 950.7,86.41 955,89.1 959.3,91.74 963.5,94.34 967.8,96.89 972,99.39 976.3,101.82 980.6,104.19 984.8,106.49 989.1,108.72 993.3,110.86 997.6,112.92 1001.9,114.89 1006.1,116.77 1010.4,118.55 1014.6,120.22 1018.9,121.79 1023.2,123.24 1027.4,124.57 1031.7,125.79 1035.9,126.87 1040.2,127.83 1044.5,128.64 1048.7,129.32 1053,129.85 1057.2,130.23 1061.5,130.46 1065.8,130.53 1070,130.43 1074.3,130.17 1078.5,129.74 1082.8,129.13 1087.1,128.33 1091.3,127.36 1095.6,126.19 1099.8,124.83 1104.1,123.27 1108.4,121.51 1112.6,119.54 1116.9,117.36 1121.1,114.97 1125.4,112.35 1129.7,109.51 1133.9,106.45 1138.2,103.15 1142.4,99.62 1146.7,95.84 1151,91.82 1155.2,87.55 1159.5,83.03 1163.7,78.26 1168,73.22 1172.3,67.91 1176.5,62.34 1180.8,56.5 1185,50.37 1189.3,43.97 1193.6,37.28 1197.8,30.31 1202.1,23.04 1206.3,15.47 1210.6,7.6" fill="none" stroke="rgb(28,208,30)" stroke-width="1.3"/>
<polyline points="788.9,7.62 793.1,7.72 797.4,7.91 801.6,8.2 805.9,8.6 810.2,9.1 814.4,9.72 818.7,10.45 822.9,11.29 827.2,12.24 831.5,13.3 835.7,14.46 840,15.73 844.2,17.1 848.5,18.57 852.8,20.13 857,21.78 861.3,23.53 865.5,25.35 869.8,27.26 874.1,29.24 878.3,31.29 882.6,33.42 886.8,35.6 891.1,37.85 895.4,40.15 899.6,42.49 903.9,44.89 908.1,47.33 912.4,49.8 916.7,52.3 920.9,54.83 925.2,57.38 929.4,59.95 933.7,62.54 938,65.12 942.2,67.72 946.5,70.3 950.7,72.88 955,75.45 959.3,78 963.5,80.53 967.8,83.02 972,85.49 976.3,87.91 980.6,90.3 984.8,92.63 989.1,94.91 993.3,97.13 997.6,99.29 1001.9,101.37 1006.1,103.39 1010.4,105.32 1014.6,107.16 1018.9,108.92 1023.2,110.58 1027.4,112.14 1031.7,113.59 1035.9,114.93 1040.2,116.15 1044.5,117.25 1048.7,118.22 1053,119.06 1057.2,119.76 1061.5,120.32 1065.8,120.73 1070,120.98 1074.3,121.07 1078.5,121 1082.8,120.76 1087.1,120.34 1091.3,119.74 1095.6,118.96 1099.8,117.98 1104.1,116.8 1108.4,115.43 1112.6,113.84 1116.9,112.04 1121.1,110.02 1125.4,107.78 1129.7,105.31 1133.9,102.6 1138.2,99.65 1142.4,96.46 1146.7,93.02 1151,89.32 1155.2,85.36 1159.5,81.13 1163.7,76.63 1168,71.85 1172.3,66.79 1176.5,61.44 1180.8,55.79 1185,49.85 1189.3,43.6 1193.6,37.04 1197.8,30.17 1202.1,22.97 1206.3,15.45 1210.6,7.6" fill="none" stroke="rgb(28,224,30)" stroke-width="1.3"/>
<polyline points="788.9,7.61 793.1,7.65 797.4,7.75 801.6,7.91 805.9,8.15 810.2,8.46 814.4,8.85 818.7,9.32 822.9,9.88 827.2,10.53 831.5,11.26 835.7,12.09 840,13.01 844.2,14.01 848.5,15.1 852.8,16.28 857,17.55 861.3,18.9 865.5,20.33 869.8,21.85 874.1,23.44 878.3,25.1 882.6,26.84 886.8,28.65 891.1,30.52 895.4,32.46 899.6,34.46 903.9,36.51 908.1,38.61 912.4,40.77 916.7,42.97 920.9,45.21 925.2,47.48 929.4,49.79 933.7,52.13 938,54.49 942.2,56.87 946.5,59.27 950.7,61.68 955,64.09 959.3,66.5 963.5,68.91 967.8,71.31 972,73.69 976.3,76.06 980.6,78.4 984.8,80.71 989.1,82.99 993.3,85.23 997.6,87.42 1001.9,89.56 1006.1,91.64 1010.4,93.66 1014.6,95.62 1018.9,97.5 1023.2,99.3 1027.4,101.02 1031.7,102.65 1035.9,104.18 1040.2,105.61 1044.5,106.93 1048.7,108.14 1053,109.22 1057.2,110.18 1061.5,111.01 1065.8,111.71 1070,112.25 1074.3,112.65 1078.5,112.89 1082.8,112.97 1087.1,112.88 1091.3,112.61 1095.6,112.16 1099.8,111.53 1104.1,110.7 1108.4,109.67 1112.6,108.43 1116.9,106.98 1121.1,105.31 1125.4,103.41 1129.7,101.28 1133.9,98.9 1138.2,96.29 1142.4,93.42 1146.7,90.29 1151,86.89 1155.2,83.22 1159.5,79.27 1163.7,75.04 1168,70.51 1172.3,65.68 1176.5,60.55 1180.8,55.1 1185,49.33 1189.3,43.23 1193.6,36.8 1197.8,30.03 1202.1,22.91 1206.3,15.44 1210.6,7.6" fill="none" stroke="rgb(28,240,30)" stroke-width="1.3"/>
<path d="M1069.9,135.1 L1052.2,201.8 L1044.1,182.1 L994.7,261.5 L986.4,242.4 L965.8,239.1 L1030.6,171.7 L1009.6,168.6Z" fill="url(#gag)"/>
<line x1="938.9" y1="8.6" x2="938.9" y2="302.7" stroke="#6e6e6e" stroke-width="1.5" stroke-dasharray="3.2 3.4"/>
<line x1="1090.4" y1="8.6" x2="1090.4" y2="112.7" stroke="#6e6e6e" stroke-width="1.5" stroke-dasharray="3.2 3.4"/>
<circle cx="938.9" cy="302.7" r="5.2" fill="#f60505"/>
<circle cx="1090.4" cy="112.7" r="5.2" fill="#f60505"/>
<text x="908.8" y="284" font-family="'Liberation Serif', serif" font-weight="bold" font-size="29.3">Peak</text>
<text x="1058.2" y="99.8" font-family="'Liberation Serif', serif" font-weight="bold" font-size="29.3">Peak’</text>
<path d="M784.6,7.6H1210.6V344" fill="none" stroke="#3a3a3a" stroke-width="1.1"/>
<path d="M784.6,7.1V344H1211.1" fill="none" stroke="#262626" stroke-width="1.4"/>
<path d="M827.2,344v-4.3M827.2,7.6v4.3M869.8,344v-4.3M869.8,7.6v4.3M912.4,344v-4.3M912.4,7.6v4.3M955,344v-4.3M955,7.6v4.3M997.6,344v-4.3M997.6,7.6v4.3M1040.2,344v-4.3M1040.2,7.6v4.3M1082.8,344v-4.3M1082.8,7.6v4.3M1125.4,344v-4.3M1125.4,7.6v4.3M1168,344v-4.3M1168,7.6v4.3M784.6,63.7h4.3M1210.6,63.7h-4.3M784.6,119.7h4.3M1210.6,119.7h-4.3M784.6,175.8h4.3M1210.6,175.8h-4.3M784.6,231.9h4.3M1210.6,231.9h-4.3M784.6,287.9h4.3M1210.6,287.9h-4.3" stroke="#262626" stroke-width="1.1" fill="none"/>
<g font-family="'Liberation Sans', sans-serif" font-size="13" fill="#262626">
<text x="784.4" y="363.6" text-anchor="middle">0</text>
<text x="827" y="363.6" text-anchor="middle">0.1</text>
<text x="869.6" y="363.6" text-anchor="middle">0.2</text>
<text x="912.2" y="363.6" text-anchor="middle">0.3</text>
<text x="954.8" y="363.6" text-anchor="middle">0.4</text>
<text x="997.4" y="363.6" text-anchor="middle">0.5</text>
<text x="1040" y="363.6" text-anchor="middle">0.6</text>
<text x="1082.6" y="363.6" text-anchor="middle">0.7</text>
<text x="1125.2" y="363.6" text-anchor="middle">0.8</text>
<text x="1167.8" y="363.6" text-anchor="middle">0.9</text>
<text x="1210.4" y="363.6" text-anchor="middle">1</text>
<text x="778.1" y="13" text-anchor="end">0</text>
<text x="778.1" y="69.1" text-anchor="end">-0.05</text>
<text x="778.1" y="125.1" text-anchor="end">-0.1</text>
<text x="778.1" y="181.2" text-anchor="end">-0.15</text>
<text x="778.1" y="237.3" text-anchor="end">-0.2</text>
<text x="778.1" y="293.3" text-anchor="end">-0.25</text>
<text x="778.1" y="349.4" text-anchor="end">-0.3</text>
</g>
<text x="997.6" y="383" text-anchor="middle" font-family="'Liberation Sans', sans-serif" font-size="14" fill="#262626">signal</text>
<text transform="translate(736.6,184.8) rotate(-90)" font-family="'Liberation Sans', sans-serif" font-size="15" fill="#262626">Y<tspan dy="4.5" dx="0.5" font-size="11.5">γ</tspan></text>
</g>
<g>
<polyline points="1343.1,44.88 1347.3,70.94 1351.6,92.77 1355.9,111.84 1360.1,128.87 1364.4,144.26 1368.7,158.31 1373,171.19 1377.2,183.05 1381.5,194.02 1385.8,204.17 1390,213.59 1394.3,222.33 1398.6,230.45 1402.8,237.99 1407.1,244.99 1411.4,251.48 1415.7,257.49 1419.9,263.06 1424.2,268.2 1428.5,272.94 1432.7,277.29 1437,281.27 1441.3,284.9 1445.5,288.19 1449.8,291.15 1454.1,293.81 1458.4,296.17 1462.6,298.23 1466.9,300.02 1471.2,301.54 1475.4,302.8 1479.7,303.8 1484,304.56 1488.2,305.08 1492.5,305.37 1496.8,305.43 1501.1,305.28 1505.3,304.91 1509.6,304.33 1513.9,303.55 1518.1,302.58 1522.4,301.41 1526.7,300.05 1531,298.51 1535.2,296.79 1539.5,294.9 1543.8,292.83 1548,290.59 1552.3,288.19 1556.6,285.62 1560.8,282.9 1565.1,280.02 1569.4,276.99 1573.7,273.81 1577.9,270.48 1582.2,267 1586.5,263.39 1590.7,259.63 1595,255.74 1599.3,251.71 1603.5,247.55 1607.8,243.26 1612.1,238.84 1616.3,234.3 1620.6,229.63 1624.9,224.83 1629.2,219.92 1633.4,214.89 1637.7,209.74 1642,204.47 1646.2,199.09 1650.5,193.6 1654.8,187.99 1659,182.28 1663.3,176.46 1667.6,170.53 1671.9,164.5 1676.1,158.36 1680.4,152.13 1684.7,145.79 1688.9,139.35 1693.2,132.81 1697.5,126.17 1701.8,119.44 1706,112.61 1710.3,105.69 1714.6,98.67 1718.8,91.57 1723.1,84.37 1727.4,77.08 1731.6,69.71 1735.9,62.24 1740.2,54.69 1744.4,47.05 1748.7,39.33 1753,31.52 1757.3,23.63 1761.5,15.66 1765.8,7.6" fill="none" stroke="rgb(30,30,100)" stroke-width="1.3"/>
<polyline points="1343.1,22.44 1347.3,36.57 1351.6,49.84 1355.9,62.36 1360.1,74.21 1364.4,85.46 1368.7,96.14 1373,106.31 1377.2,116 1381.5,125.22 1385.8,134.02 1390,142.4 1394.3,150.38 1398.6,158 1402.8,165.24 1407.1,172.14 1411.4,178.71 1415.7,184.94 1419.9,190.86 1424.2,196.48 1428.5,201.8 1432.7,206.82 1437,211.57 1441.3,216.04 1445.5,220.25 1449.8,224.19 1454.1,227.87 1458.4,231.31 1462.6,234.5 1466.9,237.44 1471.2,240.16 1475.4,242.64 1479.7,244.89 1484,246.93 1488.2,248.74 1492.5,250.34 1496.8,251.72 1501.1,252.9 1505.3,253.87 1509.6,254.65 1513.9,255.22 1518.1,255.59 1522.4,255.78 1526.7,255.77 1531,255.57 1535.2,255.19 1539.5,254.63 1543.8,253.89 1548,252.96 1552.3,251.87 1556.6,250.59 1560.8,249.15 1565.1,247.53 1569.4,245.75 1573.7,243.81 1577.9,241.69 1582.2,239.42 1586.5,236.98 1590.7,234.39 1595,231.64 1599.3,228.73 1603.5,225.67 1607.8,222.46 1612.1,219.1 1616.3,215.58 1620.6,211.92 1624.9,208.11 1629.2,204.16 1633.4,200.06 1637.7,195.82 1642,191.44 1646.2,186.91 1650.5,182.25 1654.8,177.45 1659,172.51 1663.3,167.44 1667.6,162.24 1671.9,156.89 1676.1,151.42 1680.4,145.82 1684.7,140.08 1688.9,134.22 1693.2,128.23 1697.5,122.11 1701.8,115.86 1706,109.49 1710.3,103 1714.6,96.38 1718.8,89.63 1723.1,82.77 1727.4,75.78 1731.6,68.68 1735.9,61.45 1740.2,54.11 1744.4,46.65 1748.7,39.07 1753,31.37 1757.3,23.56 1761.5,15.64 1765.8,7.6" fill="none" stroke="rgb(31,31,115)" stroke-width="1.3"/>
<polyline points="1343.1,13.51 1347.3,20.85 1351.6,28.55 1355.9,36.36 1360.1,44.19 1364.4,51.95 1368.7,59.62 1373,67.16 1377.2,74.57 1381.5,81.81 1385.8,88.9 1390,95.81 1394.3,102.54 1398.6,109.1 1402.8,115.47 1407.1,121.65 1411.4,127.65 1415.7,133.45 1419.9,139.07 1424.2,144.5 1428.5,149.73 1432.7,154.77 1437,159.62 1441.3,164.28 1445.5,168.75 1449.8,173.03 1454.1,177.12 1458.4,181.02 1462.6,184.74 1466.9,188.26 1471.2,191.59 1475.4,194.74 1479.7,197.7 1484,200.48 1488.2,203.07 1492.5,205.48 1496.8,207.7 1501.1,209.74 1505.3,211.6 1509.6,213.28 1513.9,214.78 1518.1,216.09 1522.4,217.23 1526.7,218.19 1531,218.97 1535.2,219.58 1539.5,220.01 1543.8,220.26 1548,220.34 1552.3,220.25 1556.6,219.98 1560.8,219.54 1565.1,218.92 1569.4,218.14 1573.7,217.19 1577.9,216.06 1582.2,214.77 1586.5,213.31 1590.7,211.68 1595,209.88 1599.3,207.92 1603.5,205.79 1607.8,203.5 1612.1,201.04 1616.3,198.41 1620.6,195.63 1624.9,192.68 1629.2,189.57 1633.4,186.29 1637.7,182.86 1642,179.27 1646.2,175.51 1650.5,171.6 1654.8,167.52 1659,163.29 1663.3,158.91 1667.6,154.36 1671.9,149.66 1676.1,144.8 1680.4,139.79 1684.7,134.62 1688.9,129.29 1693.2,123.82 1697.5,118.18 1701.8,112.4 1706,106.46 1710.3,100.38 1714.6,94.14 1718.8,87.74 1723.1,81.2 1727.4,74.51 1731.6,67.67 1735.9,60.68 1740.2,53.54 1744.4,46.25 1748.7,38.81 1753,31.23 1757.3,23.5 1761.5,15.62 1765.8,7.6" fill="none" stroke="rgb(33,33,130)" stroke-width="1.3"/>
<polyline points="1343.1,9.95 1347.3,13.66 1351.6,17.99 1355.9,22.71 1360.1,27.7 1364.4,32.87 1368.7,38.16 1373,43.54 1377.2,48.97 1381.5,54.43 1385.8,59.88 1390,65.32 1394.3,70.73 1398.6,76.1 1402.8,81.41 1407.1,86.65 1411.4,91.83 1415.7,96.91 1419.9,101.91 1424.2,106.82 1428.5,111.62 1432.7,116.32 1437,120.91 1441.3,125.38 1445.5,129.73 1449.8,133.96 1454.1,138.07 1458.4,142.04 1462.6,145.89 1466.9,149.6 1471.2,153.17 1475.4,156.61 1479.7,159.9 1484,163.05 1488.2,166.05 1492.5,168.91 1496.8,171.62 1501.1,174.18 1505.3,176.58 1509.6,178.84 1513.9,180.94 1518.1,182.88 1522.4,184.67 1526.7,186.3 1531,187.77 1535.2,189.09 1539.5,190.24 1543.8,191.23 1548,192.05 1552.3,192.72 1556.6,193.22 1560.8,193.55 1565.1,193.72 1569.4,193.73 1573.7,193.57 1577.9,193.24 1582.2,192.74 1586.5,192.07 1590.7,191.24 1595,190.24 1599.3,189.06 1603.5,187.72 1607.8,186.2 1612.1,184.52 1616.3,182.66 1620.6,180.63 1624.9,178.43 1629.2,176.06 1633.4,173.51 1637.7,170.79 1642,167.9 1646.2,164.83 1650.5,161.59 1654.8,158.18 1659,154.59 1663.3,150.82 1667.6,146.88 1671.9,142.77 1676.1,138.48 1680.4,134.02 1684.7,129.37 1688.9,124.56 1693.2,119.56 1697.5,114.39 1701.8,109.05 1706,103.53 1710.3,97.83 1714.6,91.95 1718.8,85.9 1723.1,79.67 1727.4,73.26 1731.6,66.67 1735.9,59.91 1740.2,52.97 1744.4,45.86 1748.7,38.56 1753,31.09 1757.3,23.44 1761.5,15.61 1765.8,7.6" fill="none" stroke="rgb(34,34,146)" stroke-width="1.3"/>
<polyline points="1343.1,8.54 1347.3,10.37 1351.6,12.75 1355.9,15.54 1360.1,18.64 1364.4,21.99 1368.7,25.56 1373,29.29 1377.2,33.16 1381.5,37.15 1385.8,41.22 1390,45.37 1394.3,49.58 1398.6,53.83 1402.8,58.1 1407.1,62.4 1411.4,66.69 1415.7,70.98 1419.9,75.26 1424.2,79.51 1428.5,83.73 1432.7,87.91 1437,92.05 1441.3,96.13 1445.5,100.16 1449.8,104.12 1454.1,108.01 1458.4,111.83 1462.6,115.56 1466.9,119.21 1471.2,122.77 1475.4,126.24 1479.7,129.61 1484,132.88 1488.2,136.04 1492.5,139.1 1496.8,142.04 1501.1,144.87 1505.3,147.58 1509.6,150.17 1513.9,152.63 1518.1,154.96 1522.4,157.17 1526.7,159.24 1531,161.18 1535.2,162.98 1539.5,164.64 1543.8,166.16 1548,167.53 1552.3,168.75 1556.6,169.83 1560.8,170.76 1565.1,171.53 1569.4,172.15 1573.7,172.61 1577.9,172.91 1582.2,173.05 1586.5,173.03 1590.7,172.85 1595,172.5 1599.3,171.98 1603.5,171.3 1607.8,170.44 1612.1,169.41 1616.3,168.21 1620.6,166.83 1624.9,165.28 1629.2,163.55 1633.4,161.65 1637.7,159.56 1642,157.29 1646.2,154.84 1650.5,152.2 1654.8,149.38 1659,146.37 1663.3,143.17 1667.6,139.79 1671.9,136.22 1676.1,132.45 1680.4,128.5 1684.7,124.35 1688.9,120.01 1693.2,115.47 1697.5,110.73 1701.8,105.8 1706,100.68 1710.3,95.35 1714.6,89.82 1718.8,84.09 1723.1,78.16 1727.4,72.03 1731.6,65.7 1735.9,59.16 1740.2,52.41 1744.4,45.46 1748.7,38.31 1753,30.94 1757.3,23.37 1761.5,15.59 1765.8,7.6" fill="none" stroke="rgb(36,36,161)" stroke-width="1.3"/>
<polyline points="1343.1,7.97 1347.3,8.87 1351.6,10.16 1355.9,11.77 1360.1,13.66 1364.4,15.8 1368.7,18.15 1373,20.69 1377.2,23.39 1381.5,26.24 1385.8,29.22 1390,32.32 1394.3,35.51 1398.6,38.8 1402.8,42.16 1407.1,45.58 1411.4,49.06 1415.7,52.58 1419.9,56.14 1424.2,59.72 1428.5,63.32 1432.7,66.93 1437,70.54 1441.3,74.15 1445.5,77.75 1449.8,81.32 1454.1,84.88 1458.4,88.4 1462.6,91.88 1466.9,95.33 1471.2,98.72 1475.4,102.06 1479.7,105.35 1484,108.57 1488.2,111.72 1492.5,114.8 1496.8,117.8 1501.1,120.72 1505.3,123.55 1509.6,126.29 1513.9,128.94 1518.1,131.49 1522.4,133.94 1526.7,136.28 1531,138.51 1535.2,140.63 1539.5,142.63 1543.8,144.51 1548,146.26 1552.3,147.89 1556.6,149.39 1560.8,150.76 1565.1,151.98 1569.4,153.07 1573.7,154.01 1577.9,154.81 1582.2,155.46 1586.5,155.96 1590.7,156.3 1595,156.48 1599.3,156.51 1603.5,156.37 1607.8,156.07 1612.1,155.59 1616.3,154.95 1620.6,154.14 1624.9,153.15 1629.2,151.98 1633.4,150.63 1637.7,149.09 1642,147.38 1646.2,145.47 1650.5,143.38 1654.8,141.09 1659,138.61 1663.3,135.93 1667.6,133.06 1671.9,129.98 1676.1,126.7 1680.4,123.22 1684.7,119.53 1688.9,115.63 1693.2,111.52 1697.5,107.2 1701.8,102.66 1706,97.91 1710.3,92.94 1714.6,87.75 1718.8,82.33 1723.1,76.69 1727.4,70.83 1731.6,64.74 1735.9,58.42 1740.2,51.86 1744.4,45.08 1748.7,38.06 1753,30.8 1757.3,23.31 1761.5,15.57 1765.8,7.6" fill="none" stroke="rgb(37,37,176)" stroke-width="1.3"/>
<polyline points="1343.1,7.75 1347.3,8.18 1351.6,8.87 1355.9,9.79 1360.1,10.93 1364.4,12.27 1368.7,13.8 1373,15.5 1377.2,17.36 1381.5,19.36 1385.8,21.51 1390,23.78 1394.3,26.16 1398.6,28.66 1402.8,31.25 1407.1,33.93 1411.4,36.69 1415.7,39.52 1419.9,42.42 1424.2,45.38 1428.5,48.38 1432.7,51.43 1437,54.51 1441.3,57.63 1445.5,60.76 1449.8,63.91 1454.1,67.07 1458.4,70.24 1462.6,73.4 1466.9,76.55 1471.2,79.69 1475.4,82.81 1479.7,85.91 1484,88.97 1488.2,92 1492.5,94.99 1496.8,97.93 1501.1,100.81 1505.3,103.65 1509.6,106.42 1513.9,109.12 1518.1,111.76 1522.4,114.32 1526.7,116.79 1531,119.19 1535.2,121.49 1539.5,123.7 1543.8,125.82 1548,127.83 1552.3,129.73 1556.6,131.53 1560.8,133.21 1565.1,134.77 1569.4,136.2 1573.7,137.51 1577.9,138.69 1582.2,139.74 1586.5,140.64 1590.7,141.41 1595,142.02 1599.3,142.49 1603.5,142.81 1607.8,142.96 1612.1,142.96 1616.3,142.79 1620.6,142.45 1624.9,141.94 1629.2,141.26 1633.4,140.4 1637.7,139.35 1642,138.12 1646.2,136.71 1650.5,135.1 1654.8,133.29 1659,131.29 1663.3,129.08 1667.6,126.67 1671.9,124.05 1676.1,121.22 1680.4,118.17 1684.7,114.91 1688.9,111.43 1693.2,107.72 1697.5,103.79 1701.8,99.62 1706,95.23 1710.3,90.59 1714.6,85.72 1718.8,80.61 1723.1,75.25 1727.4,69.65 1731.6,63.79 1735.9,57.68 1740.2,51.32 1744.4,44.7 1748.7,37.81 1753,30.66 1757.3,23.25 1761.5,15.56 1765.8,7.6" fill="none" stroke="rgb(39,39,192)" stroke-width="1.3"/>
<polyline points="1343.1,7.66 1347.3,7.86 1351.6,8.23 1355.9,8.75 1360.1,9.43 1364.4,10.26 1368.7,11.24 1373,12.37 1377.2,13.63 1381.5,15.02 1385.8,16.54 1390,18.19 1394.3,19.94 1398.6,21.81 1402.8,23.78 1407.1,25.85 1411.4,28.01 1415.7,30.25 1419.9,32.58 1424.2,34.98 1428.5,37.45 1432.7,39.98 1437,42.57 1441.3,45.2 1445.5,47.89 1449.8,50.61 1454.1,53.37 1458.4,56.16 1462.6,58.97 1466.9,61.8 1471.2,64.64 1475.4,67.49 1479.7,70.33 1484,73.18 1488.2,76.01 1492.5,78.84 1496.8,81.64 1501.1,84.41 1505.3,87.16 1509.6,89.87 1513.9,92.54 1518.1,95.17 1522.4,97.74 1526.7,100.26 1531,102.72 1535.2,105.11 1539.5,107.43 1543.8,109.68 1548,111.84 1552.3,113.92 1556.6,115.91 1560.8,117.81 1565.1,119.6 1569.4,121.29 1573.7,122.87 1577.9,124.34 1582.2,125.69 1586.5,126.91 1590.7,128.01 1595,128.97 1599.3,129.79 1603.5,130.48 1607.8,131.01 1612.1,131.4 1616.3,131.63 1620.6,131.7 1624.9,131.6 1629.2,131.34 1633.4,130.9 1637.7,130.28 1642,129.48 1646.2,128.5 1650.5,127.32 1654.8,125.94 1659,124.37 1663.3,122.59 1667.6,120.6 1671.9,118.4 1676.1,115.99 1680.4,113.35 1684.7,110.48 1688.9,107.39 1693.2,104.06 1697.5,100.49 1701.8,96.68 1706,92.62 1710.3,88.31 1714.6,83.75 1718.8,78.93 1723.1,73.84 1727.4,68.49 1731.6,62.86 1735.9,56.96 1740.2,50.78 1744.4,44.32 1748.7,37.57 1753,30.52 1757.3,23.18 1761.5,15.54 1765.8,7.6" fill="none" stroke="rgb(40,40,207)" stroke-width="1.3"/>
<polyline points="1343.1,7.62 1347.3,7.72 1351.6,7.91 1355.9,8.2 1360.1,8.6 1364.4,9.12 1368.7,9.74 1373,10.48 1377.2,11.32 1381.5,12.28 1385.8,13.35 1390,14.53 1394.3,15.81 1398.6,17.19 1402.8,18.67 1407.1,20.25 1411.4,21.92 1415.7,23.68 1419.9,25.52 1424.2,27.44 1428.5,29.44 1432.7,31.52 1437,33.66 1441.3,35.87 1445.5,38.13 1449.8,40.45 1454.1,42.83 1458.4,45.24 1462.6,47.7 1466.9,50.2 1471.2,52.73 1475.4,55.28 1479.7,57.86 1484,60.45 1488.2,63.06 1492.5,65.67 1496.8,68.29 1501.1,70.9 1505.3,73.5 1509.6,76.1 1513.9,78.67 1518.1,81.22 1522.4,83.74 1526.7,86.23 1531,88.68 1535.2,91.08 1539.5,93.44 1543.8,95.74 1548,97.98 1552.3,100.16 1556.6,102.27 1560.8,104.3 1565.1,106.25 1569.4,108.11 1573.7,109.88 1577.9,111.56 1582.2,113.13 1586.5,114.6 1590.7,115.95 1595,117.18 1599.3,118.29 1603.5,119.27 1607.8,120.12 1612.1,120.83 1616.3,121.39 1620.6,121.8 1624.9,122.06 1629.2,122.15 1633.4,122.08 1637.7,121.84 1642,121.41 1646.2,120.81 1650.5,120.01 1654.8,119.03 1659,117.84 1663.3,116.45 1667.6,114.85 1671.9,113.03 1676.1,111 1680.4,108.73 1684.7,106.24 1688.9,103.5 1693.2,100.53 1697.5,97.31 1701.8,93.83 1706,90.1 1710.3,86.1 1714.6,81.83 1718.8,77.28 1723.1,72.46 1727.4,67.35 1731.6,61.95 1735.9,56.25 1740.2,50.25 1744.4,43.94 1748.7,37.32 1753,30.38 1757.3,23.12 1761.5,15.53 1765.8,7.6" fill="none" stroke="rgb(42,42,222)" stroke-width="1.3"/>
<polyline points="1343.1,7.61 1347.3,7.66 1351.6,7.75 1355.9,7.92 1360.1,8.15 1364.4,8.46 1368.7,8.86 1373,9.34 1377.2,9.9 1381.5,10.55 1385.8,11.3 1390,12.13 1394.3,13.06 1398.6,14.07 1402.8,15.18 1407.1,16.37 1411.4,17.65 1415.7,19.01 1419.9,20.46 1424.2,21.98 1428.5,23.59 1432.7,25.27 1437,27.02 1441.3,28.85 1445.5,30.74 1449.8,32.7 1454.1,34.71 1458.4,36.78 1462.6,38.91 1466.9,41.08 1471.2,43.3 1475.4,45.56 1479.7,47.86 1484,50.19 1488.2,52.56 1492.5,54.94 1496.8,57.34 1501.1,59.76 1505.3,62.19 1509.6,64.63 1513.9,67.06 1518.1,69.49 1522.4,71.91 1526.7,74.32 1531,76.71 1535.2,79.07 1539.5,81.41 1543.8,83.71 1548,85.97 1552.3,88.18 1556.6,90.34 1560.8,92.44 1565.1,94.48 1569.4,96.46 1573.7,98.35 1577.9,100.17 1582.2,101.91 1586.5,103.55 1590.7,105.1 1595,106.54 1599.3,107.87 1603.5,109.09 1607.8,110.19 1612.1,111.16 1616.3,112 1620.6,112.7 1624.9,113.25 1629.2,113.65 1633.4,113.89 1637.7,113.97 1642,113.88 1646.2,113.61 1650.5,113.16 1654.8,112.52 1659,111.68 1663.3,110.64 1667.6,109.39 1671.9,107.92 1676.1,106.23 1680.4,104.32 1684.7,102.17 1688.9,99.77 1693.2,97.13 1697.5,94.23 1701.8,91.07 1706,87.65 1710.3,83.94 1714.6,79.95 1718.8,75.68 1723.1,71.11 1727.4,66.23 1731.6,61.05 1735.9,55.55 1740.2,49.73 1744.4,43.57 1748.7,37.08 1753,30.24 1757.3,23.06 1761.5,15.51 1765.8,7.6" fill="none" stroke="rgb(44,44,238)" stroke-width="1.3"/>
<path d="M1620.5,136 L1602.8,202.7 L1594.7,183 L1545.3,262.4 L1537,243.3 L1516.4,240 L1581.2,172.6 L1560.2,169.5Z" fill="url(#gab)"/>
<line x1="1492.2" y1="8.6" x2="1492.2" y2="305.3" stroke="#6e6e6e" stroke-width="1.5" stroke-dasharray="3.2 3.4"/>
<line x1="1640.4" y1="8.6" x2="1640.4" y2="113.9" stroke="#6e6e6e" stroke-width="1.5" stroke-dasharray="3.2 3.4"/>
<circle cx="1492.2" cy="305.3" r="5.2" fill="#f60505"/>
<circle cx="1640.4" cy="113.9" r="5.2" fill="#f60505"/>
<text x="1462.8" y="282.8" font-family="'Liberation Serif', serif" font-weight="bold" font-size="29.3">Peak</text>
<text x="1619.5" y="99.8" font-family="'Liberation Serif', serif" font-weight="bold" font-size="29.3">Peak’</text>
<path d="M1338.8,7.6H1765.8V344" fill="none" stroke="#3a3a3a" stroke-width="1.1"/>
<path d="M1338.8,7.1V344H1766.3" fill="none" stroke="#262626" stroke-width="1.4"/>
<path d="M1381.5,344v-4.3M1381.5,7.6v4.3M1424.2,344v-4.3M1424.2,7.6v4.3M1466.9,344v-4.3M1466.9,7.6v4.3M1509.6,344v-4.3M1509.6,7.6v4.3M1552.3,344v-4.3M1552.3,7.6v4.3M1595,344v-4.3M1595,7.6v4.3M1637.7,344v-4.3M1637.7,7.6v4.3M1680.4,344v-4.3M1680.4,7.6v4.3M1723.1,344v-4.3M1723.1,7.6v4.3M1338.8,63.7h4.3M1765.8,63.7h-4.3M1338.8,119.7h4.3M1765.8,119.7h-4.3M1338.8,175.8h4.3M1765.8,175.8h-4.3M1338.8,231.9h4.3M1765.8,231.9h-4.3M1338.8,287.9h4.3M1765.8,287.9h-4.3" stroke="#262626" stroke-width="1.1" fill="none"/>
<g font-family="'Liberation Sans', sans-serif" font-size="13" fill="#262626">
<text x="1338.6" y="363.6" text-anchor="middle">0</text>
<text x="1381.3" y="363.6" text-anchor="middle">0.1</text>
<text x="1424" y="363.6" text-anchor="middle">0.2</text>
<text x="1466.7" y="363.6" text-anchor="middle">0.3</text>
<text x="1509.4" y="363.6" text-anchor="middle">0.4</text>
<text x="1552.1" y="363.6" text-anchor="middle">0.5</text>
<text x="1594.8" y="363.6" text-anchor="middle">0.6</text>
<text x="1637.5" y="363.6" text-anchor="middle">0.7</text>
<text x="1680.2" y="363.6" text-anchor="middle">0.8</text>
<text x="1722.9" y="363.6" text-anchor="middle">0.9</text>
<text x="1765.6" y="363.6" text-anchor="middle">1</text>
<text x="1332.3" y="13" text-anchor="end">0</text>
<text x="1332.3" y="69.1" text-anchor="end">-0.005</text>
<text x="1332.3" y="125.1" text-anchor="end">-0.01</text>
<text x="1332.3" y="181.2" text-anchor="end">-0.015</text>
<text x="1332.3" y="237.3" text-anchor="end">-0.02</text>
<text x="1332.3" y="293.3" text-anchor="end">-0.025</text>
<text x="1332.3" y="349.4" text-anchor="end">-0.03</text>
</g>
<text x="1552.3" y="383" text-anchor="middle" font-family="'Liberation Sans', sans-serif" font-size="14" fill="#262626">signal</text>
<text transform="translate(1283.8,184.8) rotate(-90)" font-family="'Liberation Sans', sans-serif" font-size="15" fill="#262626">Y<tspan dy="4.5" dx="0.5" font-size="11.5">γ</tspan></text>
</g>
<text x="498.8" y="441.5" font-family="'Liberation Serif', serif" font-size="46">(a) Primary color luminance variation curve<tspan font-size="30" dx="1.5">.</tspan></text>
<text x="909.3" y="1265.7" text-anchor="middle" font-family="'Liberation Serif', serif" font-size="46">(b)Color points luminance variation vector field in gamut</text>
<line x1="1024" y1="555" x2="1079.5" y2="555" stroke="#f40a14" stroke-width="2.8" stroke-linecap="round"/>
<circle cx="1024" cy="555" r="3.9" fill="#f40a14"/>
<text x="1319" y="567" text-anchor="middle" font-family="'Liberation Serif', serif" font-size="46">Luminance deviation</text>
<text x="1319.5" y="621.2" text-anchor="middle" font-family="'Liberation Serif', serif" font-size="46">vector</text>
<rect x="1646.4" y="430.0" width="41.4" height="765" fill="url(#gC)" stroke="#2a0000" stroke-width="0.8"/>
<path d="M1687.8,1118.5h-15M1687.8,1042h-15M1687.8,965.5h-15M1687.8,889h-15M1687.8,812.5h-15M1687.8,736h-15M1687.8,659.5h-15M1687.8,583h-15M1687.8,506.5h-15" stroke="#120000" stroke-width="1.3" fill="none"/>
<g font-family="'Liberation Serif', serif" font-size="33" fill="#000">
<text x="1723.5" y="1209.2" text-anchor="middle">0</text>
<text x="1723.5" y="1132.7" text-anchor="middle">0.1</text>
<text x="1723.5" y="1056.2" text-anchor="middle">0.2</text>
<text x="1723.5" y="979.7" text-anchor="middle">0.3</text>
<text x="1723.5" y="903.2" text-anchor="middle">0.4</text>
<text x="1723.5" y="826.7" text-anchor="middle">0.5</text>
<text x="1723.5" y="750.2" text-anchor="middle">0.6</text>
<text x="1723.5" y="673.7" text-anchor="middle">0.7</text>
<text x="1723.5" y="597.2" text-anchor="middle">0.8</text>
<text x="1723.5" y="520.7" text-anchor="middle">0.9</text>
<text x="1723.5" y="444.2" text-anchor="middle">1</text>
</g>
<g fill="none" stroke="#7e7e7e" stroke-width="1.1"><path d="M124,1178.9 L510.2,1001.2 L1398.8,1090.1 Z"/><path d="M1398.8,1090.1 L1398.8,964.9"/><path d="M510.2,1001.2 L510.2,580"/><path d="M124,1178.9 L124,1136.4"/><polyline points="510.2,580 510.1,580 509.7,580.2 508.9,580.4 507.8,580.8 506.2,581.4 504.3,582.1 502,582.9 499.2,583.8 496.1,584.9 492.6,586.1 488.7,587.4 484.5,588.8 479.9,590.3 475,591.9 469.9,593.6 464.4,595.4 458.8,597.2 452.9,599 446.9,600.9 440.6,602.7 434.3,604.6 427.9,606.4 421.4,608.3 414.8,610.1 408.2,611.8 401.6,613.5 395,615.1 388.4,616.6 381.9,618 375.4,619.4 369,620.7 362.7,621.8 356.5,622.8 350.4,623.8 344.4,624.6 338.5,625.2 332.7,625.8 327.1,626.2 321.6,626.5 316.2,626.7"/><polyline points="510.2,580 510.3,580 510.9,579.9 511.8,579.7 513.2,579.5 515.1,579.2 517.5,578.8 520.5,578.3 523.9,577.7 527.9,577.1 532.4,576.3 537.4,575.4 542.9,574.4 549,573.3 555.5,572.1 562.4,570.7 569.9,569.3 577.8,567.7 586,566 594.7,564.1 603.7,562.1 613.1,559.9 622.8,557.6 632.8,555.2 643,552.6 653.5,549.8 664.1,546.8 675,543.7 686,540.4 697.1,537 708.4,533.3 719.7,529.5 731.1,525.4 742.5,521.2 754,516.8 765.4,512.2 776.8,507.3 788.2,502.3 799.5,497.1 810.8,491.6 822,485.9"/><polyline points="1398.8,964.9 1398.1,964.9 1395.5,965 1390.9,965.3 1383.9,965.6 1374.7,966.1 1363.2,966.7 1349.3,967.4 1333.3,968.2 1315.2,969.1 1295.2,970.1 1273.4,971.1 1250,972.2 1225.3,973.4 1199.4,974.5 1172.5,975.7 1144.8,976.9 1116.6,978 1088,979.2 1059.3,980.2 1030.4,981.3 1001.7,982.2 973.2,983.1 945,983.9 917.3,984.6 890.1,985.2 863.5,985.7 837.6,986.1 812.3,986.3 787.8,986.5 764.1,986.5 741.1,986.4 718.9,986.2 697.5,985.9 676.8,985.4 656.9,984.8 637.8,984.2 619.5,983.3 601.8,982.4 584.9,981.3 568.6,980.2"/><polyline points="568.6,980.2 552.6,988.1 536.5,995.8 520.3,1003.3 504,1010.6 487.7,1017.7 471.4,1024.6 455,1031.3 438.7,1037.8 422.5,1044.1 406.3,1050.2 390.2,1056.1 374.3,1061.8 358.6,1067.3 343.2,1072.6 327.9,1077.6 313,1082.5 298.4,1087.2 284.2,1091.6 270.4,1095.8 257.1,1099.8 244.2,1103.7 231.9,1107.2 220.1,1110.6 208.9,1113.8 198.3,1116.7 188.4,1119.5 179.1,1122 170.6,1124.3 162.7,1126.4 155.6,1128.2 149.2,1129.9 143.5,1131.4 138.6,1132.6 134.5,1133.7 131,1134.6 128.3,1135.3 126.3,1135.8 125,1136.1 124.2,1136.3 124,1136.4"/><polyline points="568.6,980.2 568.6,980 568.5,979.5 568.5,978.4 568.4,976.9 568.2,974.9 568,972.2 567.8,969.1 567.5,965.3 567.2,960.9 566.9,955.9 566.5,950.2 566,944 565.6,937.1 565.1,929.5 564.5,921.3 564,912.5 563.4,902.9 562.7,892.8 562.1,881.9 561.4,870.4 560.7,858.3 560,845.5 559.2,832 558.5,817.8 557.7,803 556.9,787.5 556.1,771.4 555.3,754.6 554.5,737.2 553.7,719 552.9,700.3 552.1,680.8 551.3,660.7 550.4,639.9 549.6,618.5 548.8,596.4 548,573.7 547.2,550.2 546.5,526.2 545.7,501.4"/><polyline points="124,1136.4 124.2,1136.2 124.6,1135.6 125.3,1134.4 126.4,1132.6 127.9,1130.2 129.8,1127.2 132.1,1123.5 134.8,1119.2 137.9,1114.2 141.4,1108.5 145.2,1102 149.3,1094.9 153.8,1087.1 158.6,1078.6 163.7,1069.4 169.1,1059.5 174.6,1049 180.4,1037.7 186.4,1025.8 192.5,1013.2 198.8,999.9 205.2,986 211.6,971.4 218.1,956.2 224.6,940.3 231.2,923.8 237.7,906.6 244.3,888.9 250.7,870.5 257.2,851.4 263.5,831.8 269.8,811.5 276,790.6 282.1,769 288.1,746.9 294,724.1 299.7,700.7 305.3,676.7 310.8,652 316.2,626.7"/><polyline points="316.2,626.7 316.3,626.7 316.6,626.5 317.2,626.3 318.1,625.9 319.2,625.4 320.7,624.8 322.5,624 324.6,623.1 327,622 329.8,620.8 333,619.4 336.4,617.8 340.2,616.1 344.4,614.3 348.9,612.2 353.7,610 358.8,607.6 364.3,605.1 370,602.3 376.1,599.4 382.5,596.3 389.1,593.1 396.1,589.6 403.3,586 410.7,582.1 418.4,578.1 426.4,573.9 434.6,569.5 442.9,564.9 451.5,560.2 460.3,555.2 469.3,550 478.4,544.6 487.6,539.1 497,533.3 506.6,527.3 516.2,521.1 526,514.8 535.8,508.2 545.7,501.4"/><polyline points="545.7,501.4 554.9,501.8 564.3,502 573.8,502.2 583.3,502.3 592.9,502.3 602.6,502.2 612.4,502.1 622.2,501.8 632,501.5 641.8,501.2 651.6,500.7 661.3,500.2 671,499.7 680.6,499.1 690.1,498.5 699.4,497.8 708.6,497.1 717.6,496.4 726.4,495.7 734.9,495 743.1,494.2 751.1,493.5 758.7,492.7 766,492 772.8,491.3 779.3,490.7 785.4,490 791.1,489.4 796.2,488.9 801,488.3 805.2,487.9 809,487.4 812.2,487.1 815,486.7 817.3,486.5 819.1,486.3 820.4,486.1 821.4,486 821.8,486 822,485.9"/><polyline points="822,485.9 833.3,509.9 845.2,533.2 857.5,555.9 870.3,577.9 883.7,599.3 897.6,620.1 912,640.3 926.9,659.8 942.4,678.8 958.4,697.1 975,714.9 992,732 1009.6,748.5 1027.7,764.5 1046.2,779.8 1065.1,794.6 1084.4,808.7 1103.9,822.3 1123.8,835.3 1143.7,847.7 1163.7,859.5 1183.7,870.6 1203.5,881.2 1223.1,891.2 1242.3,900.5 1260.9,909.2 1278.8,917.3 1296,924.8 1312.1,931.6 1327.2,937.7 1341,943.3 1353.6,948.1 1364.6,952.3 1374.2,955.9 1382.2,958.9 1388.5,961.2 1393.3,962.9 1396.5,964.1 1398.3,964.7 1398.8,964.9"/></g>
<g stroke-width="2.3" stroke-linecap="butt">
<path d="M510.2,909.6V936.71" stroke="rgb(144,0,0)"/><path d="M507.37,935.74q2.83,-1.95 5.66,0l-2.83,2.93z" fill="rgb(144,0,0)"/><circle cx="510.2" cy="909.6" r="3.4" fill="rgb(0,55,0)"/>
<path d="M510.2,809V841.26" stroke="rgb(173,0,0)"/><path d="M507.08,840.23q3.12,-2.07 6.24,0l-3.12,3.11z" fill="rgb(173,0,0)"/><circle cx="510.2" cy="809" r="3.4" fill="rgb(0,116,0)"/>
<path d="M510.2,998.6V1000.11" stroke="rgb(6,0,0)"/><circle cx="510.2" cy="998.6" r="3.4" fill="rgb(0,2,0)"/>
<path d="M510.2,989V994.78" stroke="rgb(29,0,0)"/><path d="M508.8,994.06q1.4,-1.44 2.8,0l-1.4,2.16z" fill="rgb(29,0,0)"/><circle cx="510.2" cy="989" r="3.4" fill="rgb(0,7,0)"/>
<path d="M510.2,971.4V984.27" stroke="rgb(64,0,0)"/><path d="M508.19,983.46q2.01,-1.63 4.02,0l-2.01,2.44z" fill="rgb(64,0,0)"/><circle cx="510.2" cy="971.4" r="3.4" fill="rgb(0,18,0)"/>
<path d="M510.2,945.1V965.58" stroke="rgb(105,0,0)"/><path d="M507.76,964.68q2.45,-1.8 4.89,0l-2.45,2.7z" fill="rgb(105,0,0)"/><circle cx="510.2" cy="945.1" r="3.4" fill="rgb(0,34,0)"/>
<path d="M510.2,864.3V895.86" stroke="rgb(169,0,0)"/><path d="M507.12,894.83q3.08,-2.06 6.16,0l-3.08,3.08z" fill="rgb(169,0,0)"/><circle cx="510.2" cy="864.3" r="3.4" fill="rgb(0,83,0)"/>
<path d="M510.2,743.4V771.26" stroke="rgb(148,0,0)"/><path d="M507.33,770.28q2.87,-1.97 5.74,0l-2.87,2.96z" fill="rgb(148,0,0)"/><circle cx="510.2" cy="743.4" r="3.4" fill="rgb(0,156,0)"/>
<path d="M510.2,667.1V684.26" stroke="rgb(87,0,0)"/><path d="M507.95,683.4q2.26,-1.72 4.51,0l-2.26,2.59z" fill="rgb(87,0,0)"/><circle cx="510.2" cy="667.1" r="3.4" fill="rgb(0,202,0)"/>
<circle cx="510.2" cy="580" r="3.4" fill="rgb(0,255,0)"/>
<circle cx="513.2" cy="579.5" r="3.4" fill="rgb(2,255,0)"/>
<path d="M514,666.7V684.4" stroke="rgb(90,0,0)"/><path d="M511.72,683.54q2.29,-1.74 4.57,0l-2.29,2.61z" fill="rgb(90,0,0)"/><circle cx="514" cy="666.7" r="3.4" fill="rgb(2,202,0)"/>
<path d="M515.1,743.1V771.52" stroke="rgb(151,0,0)"/><path d="M512.22,770.53q2.9,-1.98 5.8,0l-2.9,2.98z" fill="rgb(151,0,0)"/><circle cx="515.1" cy="743.1" r="3.4" fill="rgb(2,156,0)"/>
<path d="M516.8,808.9V841.69" stroke="rgb(177,0,0)"/><path d="M513.64,840.64q3.15,-2.08 6.3,0l-3.15,3.13z" fill="rgb(177,0,0)"/><circle cx="516.8" cy="808.9" r="3.4" fill="rgb(2,116,0)"/>
<path d="M519.4,864.4V896.54" stroke="rgb(173,0,0)"/><path d="M516.32,895.51q3.11,-2.07 6.23,0l-3.11,3.1z" fill="rgb(173,0,0)"/><circle cx="519.4" cy="864.4" r="3.4" fill="rgb(2,83,0)"/>
<circle cx="507.8" cy="580.8" r="3.4" fill="rgb(0,255,2)"/>
<path d="M523.9,910.1V937.85" stroke="rgb(147,0,0)"/><path d="M521.05,936.87q2.86,-1.97 5.72,0l-2.86,2.95z" fill="rgb(147,0,0)"/><circle cx="523.9" cy="910.1" r="3.4" fill="rgb(2,55,0)"/>
<path d="M523.9,577.7V579.44" stroke="rgb(7,0,0)"/><circle cx="523.9" cy="577.7" r="3.4" fill="rgb(7,255,0)"/>
<path d="M507.1,668.3V685.59" stroke="rgb(88,0,0)"/><path d="M504.86,684.73q2.27,-1.73 4.53,0l-2.27,2.59z" fill="rgb(88,0,0)"/><circle cx="507.1" cy="668.3" r="3.4" fill="rgb(0,202,2)"/>
<circle cx="510.8" cy="580.3" r="3.4" fill="rgb(2,255,2)"/>
<path d="M527.4,665.2V684.44" stroke="rgb(99,0,0)"/><path d="M525.04,683.55q2.37,-1.77 4.75,0l-2.37,2.66z" fill="rgb(99,0,0)"/><circle cx="527.4" cy="665.2" r="3.4" fill="rgb(7,202,0)"/>
<path d="M510.9,667.9V685.73" stroke="rgb(91,0,0)"/><path d="M508.62,684.86q2.3,-1.74 4.6,0l-2.3,2.61z" fill="rgb(91,0,0)"/><circle cx="510.9" cy="667.9" r="3.4" fill="rgb(2,202,2)"/>
<path d="M506.2,745V773.01" stroke="rgb(149,0,0)"/><path d="M503.34,772.03q2.88,-1.98 5.76,0l-2.88,2.96z" fill="rgb(149,0,0)"/><circle cx="506.2" cy="745" r="3.4" fill="rgb(0,156,2)"/>
<path d="M532.4,946.6V967.56" stroke="rgb(109,0,0)"/><path d="M529.91,966.65q2.48,-1.81 4.96,0l-2.48,2.72z" fill="rgb(109,0,0)"/><circle cx="532.4" cy="946.6" r="3.4" fill="rgb(2,34,0)"/>
<path d="M532.4,742V771.94" stroke="rgb(160,0,0)"/><path d="M529.39,770.93q2.99,-2.02 5.98,0l-2.99,3.03z" fill="rgb(160,0,0)"/><circle cx="532.4" cy="742" r="3.4" fill="rgb(7,156,0)"/>
<path d="M511.1,744.7V773.26" stroke="rgb(152,0,0)"/><path d="M508.21,772.26q2.91,-1.99 5.83,0l-2.91,2.98z" fill="rgb(152,0,0)"/><circle cx="511.1" cy="744.7" r="3.4" fill="rgb(2,156,2)"/>
<path d="M504.9,811.2V843.63" stroke="rgb(175,0,0)"/><path d="M501.75,842.59q3.13,-2.08 6.26,0l-3.13,3.11z" fill="rgb(175,0,0)"/><circle cx="504.9" cy="811.2" r="3.4" fill="rgb(0,116,2)"/>
<path d="M521.4,578.6V580.42" stroke="rgb(8,0,0)"/><circle cx="521.4" cy="578.6" r="3.4" fill="rgb(7,255,2)"/>
<path d="M539.7,808.4V842.67" stroke="rgb(186,0,0)"/><path d="M536.47,841.61q3.24,-2.12 6.48,0l-3.24,3.18z" fill="rgb(186,0,0)"/><circle cx="539.7" cy="808.4" r="3.4" fill="rgb(7,116,0)"/>
<path d="M511.4,811.1V844.02" stroke="rgb(178,0,0)"/><path d="M508.26,842.98q3.16,-2.09 6.33,0l-3.16,3.13z" fill="rgb(178,0,0)"/><circle cx="511.4" cy="811.1" r="3.4" fill="rgb(2,116,2)"/>
<path d="M524.3,666.3V685.73" stroke="rgb(100,0,0)"/><path d="M521.88,684.84q2.39,-1.78 4.77,0l-2.39,2.66z" fill="rgb(100,0,0)"/><circle cx="524.3" cy="666.3" r="3.4" fill="rgb(7,202,2)"/>
<path d="M542.9,574.4V577.84" stroke="rgb(16,0,0)"/><path d="M541.99,577.41q0.94,-0.86 1.88,0l-0.94,1.29z" fill="rgb(16,0,0)"/><circle cx="542.9" cy="574.4" r="3.4" fill="rgb(18,255,0)"/>
<path d="M502.8,867.5V899.19" stroke="rgb(170,0,0)"/><path d="M499.69,898.16q3.09,-2.06 6.18,0l-3.09,3.09z" fill="rgb(170,0,0)"/><circle cx="502.8" cy="867.5" r="3.4" fill="rgb(0,83,2)"/>
<path d="M528.3,743.5V773.62" stroke="rgb(161,0,0)"/><path d="M525.28,772.61q3,-2.02 6,0l-3,3.04z" fill="rgb(161,0,0)"/><circle cx="528.3" cy="743.5" r="3.4" fill="rgb(7,156,2)"/>
<path d="M551.1,864.8V898.4" stroke="rgb(182,0,0)"/><path d="M547.87,897.35q3.2,-2.1 6.4,0l-3.2,3.16z" fill="rgb(182,0,0)"/><circle cx="551.1" cy="864.8" r="3.4" fill="rgb(7,83,0)"/>
<path d="M551.1,662.4V683.69" stroke="rgb(110,0,0)"/><path d="M548.58,682.78q2.5,-1.82 4.99,0l-2.5,2.73z" fill="rgb(110,0,0)"/><circle cx="551.1" cy="662.4" r="3.4" fill="rgb(18,202,0)"/>
<path d="M551.1,974.7V988.12" stroke="rgb(67,0,0)"/><path d="M549.03,987.3q2.04,-1.64 4.08,0l-2.04,2.46z" fill="rgb(67,0,0)"/><circle cx="551.1" cy="974.7" r="3.4" fill="rgb(2,18,0)"/>
<path d="M511.9,867.5V899.83" stroke="rgb(174,0,0)"/><path d="M508.78,898.79q3.12,-2.07 6.25,0l-3.12,3.11z" fill="rgb(174,0,0)"/><circle cx="511.9" cy="867.5" r="3.4" fill="rgb(2,83,2)"/>
<path d="M540.4,575.2V578.79" stroke="rgb(17,0,0)"/><path d="M539.4,578.34q0.97,-0.9 1.94,0l-0.97,1.35z" fill="rgb(17,0,0)"/><circle cx="540.4" cy="575.2" r="3.4" fill="rgb(18,255,2)"/>
<path d="M499.2,914.3V941.69" stroke="rgb(145,0,0)"/><path d="M496.38,940.71q2.84,-1.96 5.68,0l-2.84,2.94z" fill="rgb(145,0,0)"/><circle cx="499.2" cy="914.3" r="3.4" fill="rgb(0,55,2)"/>
<circle cx="499.2" cy="583.8" r="3.4" fill="rgb(0,255,7)"/>
<path d="M562.4,739.8V771.83" stroke="rgb(172,0,0)"/><path d="M559.34,770.8q3.11,-2.07 6.22,0l-3.11,3.1z" fill="rgb(172,0,0)"/><circle cx="562.4" cy="739.8" r="3.4" fill="rgb(18,156,0)"/>
<path d="M534.2,810.4V844.92" stroke="rgb(187,0,0)"/><path d="M530.92,843.85q3.25,-2.12 6.5,0l-3.25,3.19z" fill="rgb(187,0,0)"/><circle cx="534.2" cy="810.4" r="3.4" fill="rgb(7,116,2)"/>
<path d="M502.2,583.3V584.33" stroke="rgb(4,0,0)"/><circle cx="502.2" cy="583.3" r="3.4" fill="rgb(2,255,7)"/>
<path d="M547.8,663.4V684.93" stroke="rgb(111,0,0)"/><path d="M545.32,684.01q2.51,-1.82 5.01,0l-2.51,2.74z" fill="rgb(111,0,0)"/><circle cx="547.8" cy="663.4" r="3.4" fill="rgb(18,202,2)"/>
<path d="M569.9,569.3V574.57" stroke="rgb(26,0,0)"/><path d="M568.58,573.9q1.31,-1.32 2.62,0l-1.31,1.98z" fill="rgb(26,0,0)"/><circle cx="569.9" cy="569.3" r="3.4" fill="rgb(34,255,0)"/>
<path d="M569.9,911.9V941.14" stroke="rgb(156,0,0)"/><path d="M566.93,940.14q2.95,-2 5.9,0l-2.95,3z" fill="rgb(156,0,0)"/><circle cx="569.9" cy="911.9" r="3.4" fill="rgb(7,55,0)"/>
<path d="M512.7,581.4V583.72" stroke="rgb(10,0,0)"/><circle cx="512.7" cy="581.4" r="3.4" fill="rgb(7,255,7)"/>
<path d="M512.7,914.8V942.71" stroke="rgb(148,0,0)"/><path d="M509.84,941.72q2.87,-1.97 5.75,0l-2.87,2.96z" fill="rgb(148,0,0)"/><circle cx="512.7" cy="914.8" r="3.4" fill="rgb(2,55,2)"/>
<path d="M496.5,672.2V690.06" stroke="rgb(91,0,0)"/><path d="M494.17,689.19q2.3,-1.74 4.59,0l-2.3,2.61z" fill="rgb(91,0,0)"/><circle cx="496.5" cy="672.2" r="3.4" fill="rgb(0,202,7)"/>
<path d="M500.2,671.8V690.16" stroke="rgb(94,0,0)"/><path d="M497.86,689.29q2.33,-1.75 4.66,0l-2.33,2.63z" fill="rgb(94,0,0)"/><circle cx="500.2" cy="671.8" r="3.4" fill="rgb(2,202,7)"/>
<path d="M578.9,807V843.47" stroke="rgb(199,0,0)"/><path d="M575.55,842.39q3.36,-2.17 6.72,0l-3.36,3.25z" fill="rgb(199,0,0)"/><circle cx="578.9" cy="807" r="3.4" fill="rgb(18,116,0)"/>
<path d="M558.2,741.2V773.42" stroke="rgb(174,0,0)"/><path d="M555.08,772.39q3.12,-2.07 6.24,0l-3.12,3.11z" fill="rgb(174,0,0)"/><circle cx="558.2" cy="741.2" r="3.4" fill="rgb(18,156,2)"/>
<path d="M567.3,570V575.47" stroke="rgb(27,0,0)"/><path d="M565.91,574.78q1.34,-1.36 2.68,0l-1.34,2.04z" fill="rgb(27,0,0)"/><circle cx="567.3" cy="570" r="3.4" fill="rgb(34,255,2)"/>
<path d="M543.2,867.7V901.5" stroke="rgb(183,0,0)"/><path d="M540.02,900.45q3.21,-2.11 6.42,0l-3.21,3.16z" fill="rgb(183,0,0)"/><circle cx="543.2" cy="867.7" r="3.4" fill="rgb(7,83,2)"/>
<path d="M584.2,657.9V681.44" stroke="rgb(123,0,0)"/><path d="M581.53,680.5q2.63,-1.87 5.25,0l-2.63,2.81z" fill="rgb(123,0,0)"/><circle cx="584.2" cy="657.9" r="3.4" fill="rgb(34,202,0)"/>
<path d="M513.3,670.1V690.06" stroke="rgb(102,0,0)"/><path d="M510.92,689.16q2.42,-1.79 4.83,0l-2.42,2.68z" fill="rgb(102,0,0)"/><circle cx="513.3" cy="670.1" r="3.4" fill="rgb(7,202,7)"/>
<path d="M531.4,577.9V581.97" stroke="rgb(19,0,0)"/><path d="M530.39,581.46q1.05,-1 2.11,0l-1.05,1.51z" fill="rgb(19,0,0)"/><circle cx="531.4" cy="577.9" r="3.4" fill="rgb(18,255,7)"/>
<path d="M492.6,953V973.6" stroke="rgb(107,0,0)"/><path d="M490.12,972.7q2.46,-1.81 4.91,0l-2.46,2.71z" fill="rgb(107,0,0)"/><circle cx="492.6" cy="953" r="3.4" fill="rgb(0,34,2)"/>
<path d="M492.6,750.3V778.85" stroke="rgb(152,0,0)"/><path d="M489.67,777.85q2.91,-1.99 5.82,0l-2.91,2.98z" fill="rgb(152,0,0)"/><circle cx="492.6" cy="750.3" r="3.4" fill="rgb(0,156,7)"/>
<path d="M497.4,749.9V779.04" stroke="rgb(155,0,0)"/><path d="M494.43,778.04q2.94,-2 5.89,0l-2.94,3z" fill="rgb(155,0,0)"/><circle cx="497.4" cy="749.9" r="3.4" fill="rgb(2,156,7)"/>
<path d="M580.8,658.8V682.6" stroke="rgb(124,0,0)"/><path d="M578.16,681.66q2.64,-1.88 5.27,0l-2.64,2.82z" fill="rgb(124,0,0)"/><circle cx="580.8" cy="658.8" r="3.4" fill="rgb(34,202,2)"/>
<path d="M573.1,809V845.56" stroke="rgb(200,0,0)"/><path d="M569.75,844.48q3.37,-2.17 6.74,0l-3.37,3.26z" fill="rgb(200,0,0)"/><circle cx="573.1" cy="809" r="3.4" fill="rgb(18,116,2)"/>
<path d="M603.7,997.6V1003.87" stroke="rgb(31,0,0)"/><path d="M602.24,1003.13q1.49,-1.47 2.98,0l-1.49,2.21z" fill="rgb(31,0,0)"/><circle cx="603.7" cy="997.6" r="3.4" fill="rgb(2,7,0)"/>
<path d="M603.7,950.8V973.38" stroke="rgb(117,0,0)"/><path d="M601.16,972.46q2.57,-1.85 5.13,0l-2.57,2.77z" fill="rgb(117,0,0)"/><circle cx="603.7" cy="950.8" r="3.4" fill="rgb(7,34,0)"/>
<path d="M603.7,864.8V900.55" stroke="rgb(195,0,0)"/><path d="M600.41,899.47q3.32,-2.15 6.64,0l-3.32,3.23z" fill="rgb(195,0,0)"/><circle cx="603.7" cy="864.8" r="3.4" fill="rgb(18,83,0)"/>
<path d="M603.7,562.1V569.24" stroke="rgb(36,0,0)"/><path d="M602.1,568.5q1.63,-1.49 3.27,0l-1.63,2.24z" fill="rgb(36,0,0)"/><circle cx="603.7" cy="562.1" r="3.4" fill="rgb(55,255,0)"/>
<path d="M603.7,736.1V770.4" stroke="rgb(186,0,0)"/><path d="M600.49,769.34q3.24,-2.12 6.48,0l-3.24,3.18z" fill="rgb(186,0,0)"/><circle cx="603.7" cy="736.1" r="3.4" fill="rgb(34,156,0)"/>
<path d="M536.6,667V689.06" stroke="rgb(114,0,0)"/><path d="M534.01,688.15q2.54,-1.84 5.07,0l-2.54,2.76z" fill="rgb(114,0,0)"/><circle cx="536.6" cy="667" r="3.4" fill="rgb(18,202,7)"/>
<path d="M514.2,954.1V975.29" stroke="rgb(110,0,0)"/><path d="M511.71,974.39q2.49,-1.82 4.98,0l-2.49,2.73z" fill="rgb(110,0,0)"/><circle cx="514.2" cy="954.1" r="3.4" fill="rgb(2,34,2)"/>
<path d="M514.2,748.6V779.23" stroke="rgb(164,0,0)"/><path d="M511.17,778.21q3.03,-2.04 6.06,0l-3.03,3.05z" fill="rgb(164,0,0)"/><circle cx="514.2" cy="748.6" r="3.4" fill="rgb(7,156,7)"/>
<path d="M601,562.8V570.12" stroke="rgb(37,0,0)"/><path d="M599.35,569.37q1.67,-1.5 3.33,0l-1.67,2.25z" fill="rgb(37,0,0)"/><circle cx="601" cy="562.8" r="3.4" fill="rgb(55,255,2)"/>
<path d="M558,916.2V945.62" stroke="rgb(157,0,0)"/><path d="M555.08,944.62q2.96,-2.01 5.92,0l-2.96,3.01z" fill="rgb(157,0,0)"/><circle cx="558" cy="916.2" r="3.4" fill="rgb(7,55,2)"/>
<path d="M558,572.6V578.48" stroke="rgb(29,0,0)"/><path d="M556.61,577.75q1.42,-1.47 2.85,0l-1.42,2.2z" fill="rgb(29,0,0)"/><circle cx="558" cy="572.6" r="3.4" fill="rgb(34,255,7)"/>
<path d="M486.9,818.5V851.44" stroke="rgb(178,0,0)"/><path d="M483.77,850.4q3.16,-2.09 6.32,0l-3.16,3.13z" fill="rgb(178,0,0)"/><circle cx="486.9" cy="818.5" r="3.4" fill="rgb(0,116,7)"/>
<path d="M599.3,737.4V771.87" stroke="rgb(187,0,0)"/><path d="M596.05,770.81q3.25,-2.12 6.5,0l-3.25,3.19z" fill="rgb(187,0,0)"/><circle cx="599.3" cy="737.4" r="3.4" fill="rgb(34,156,2)"/>
<path d="M493.3,818.3V851.76" stroke="rgb(181,0,0)"/><path d="M490.09,850.7q3.19,-2.1 6.39,0l-3.19,3.15z" fill="rgb(181,0,0)"/><circle cx="493.3" cy="818.3" r="3.4" fill="rgb(2,116,7)"/>
<path d="M625,651.4V676.94" stroke="rgb(135,0,0)"/><path d="M622.24,675.98q2.74,-1.92 5.48,0l-2.74,2.88z" fill="rgb(135,0,0)"/><circle cx="625" cy="651.4" r="3.4" fill="rgb(55,202,0)"/>
<path d="M484.5,588.8V589.99" stroke="rgb(5,0,0)"/><circle cx="484.5" cy="588.8" r="3.4" fill="rgb(0,255,18)"/>
<path d="M487.4,588.3V589.9" stroke="rgb(7,0,0)"/><circle cx="487.4" cy="588.3" r="3.4" fill="rgb(2,255,18)"/>
<path d="M631.3,804.5V843.15" stroke="rgb(212,0,0)"/><path d="M627.82,842.04q3.49,-2.22 6.98,0l-3.49,3.33z" fill="rgb(212,0,0)"/><circle cx="631.3" cy="804.5" r="3.4" fill="rgb(34,116,0)"/>
<path d="M595.5,867.4V903.37" stroke="rgb(196,0,0)"/><path d="M592.13,902.29q3.33,-2.16 6.67,0l-3.33,3.24z" fill="rgb(196,0,0)"/><circle cx="595.5" cy="867.4" r="3.4" fill="rgb(18,83,2)"/>
<path d="M621.5,652.2V678.01" stroke="rgb(136,0,0)"/><path d="M618.75,677.05q2.75,-1.92 5.5,0l-2.75,2.88z" fill="rgb(136,0,0)"/><circle cx="621.5" cy="652.2" r="3.4" fill="rgb(55,202,2)"/>
<path d="M543.6,746V778.73" stroke="rgb(177,0,0)"/><path d="M540.42,777.69q3.15,-2.08 6.3,0l-3.15,3.13z" fill="rgb(177,0,0)"/><circle cx="543.6" cy="746" r="3.4" fill="rgb(18,156,7)"/>
<path d="M497.6,586.3V589.17" stroke="rgb(13,0,0)"/><circle cx="497.6" cy="586.3" r="3.4" fill="rgb(7,255,18)"/>
<path d="M569.1,662.2V686.48" stroke="rgb(127,0,0)"/><path d="M566.44,685.54q2.67,-1.89 5.33,0l-2.67,2.83z" fill="rgb(127,0,0)"/><circle cx="569.1" cy="662.2" r="3.4" fill="rgb(34,202,7)"/>
<path d="M515.4,817.3V852.35" stroke="rgb(190,0,0)"/><path d="M512.16,851.28q3.28,-2.14 6.56,0l-3.28,3.2z" fill="rgb(190,0,0)"/><circle cx="515.4" cy="817.3" r="3.4" fill="rgb(7,116,7)"/>
<path d="M643,552.6V561.02" stroke="rgb(42,0,0)"/><path d="M641.23,560.26q1.76,-1.52 3.52,0l-1.76,2.29z" fill="rgb(42,0,0)"/><circle cx="643" cy="552.6" r="3.4" fill="rgb(83,255,0)"/>
<path d="M643,914V945.33" stroke="rgb(168,0,0)"/><path d="M639.92,944.31q3.07,-2.05 6.14,0l-3.07,3.08z" fill="rgb(168,0,0)"/><circle cx="643" cy="914" r="3.4" fill="rgb(18,55,0)"/>
<path d="M591.5,565.1V573.01" stroke="rgb(39,0,0)"/><path d="M589.77,572.26q1.73,-1.51 3.45,0l-1.73,2.27z" fill="rgb(39,0,0)"/><circle cx="591.5" cy="565.1" r="3.4" fill="rgb(55,255,7)"/>
<path d="M625.3,806.2V845.05" stroke="rgb(214,0,0)"/><path d="M621.77,843.93q3.5,-2.22 7,0l-3.5,3.34z" fill="rgb(214,0,0)"/><circle cx="625.3" cy="806.2" r="3.4" fill="rgb(34,116,2)"/>
<path d="M640.2,553.2V561.83" stroke="rgb(43,0,0)"/><path d="M638.42,561.06q1.77,-1.53 3.54,0l-1.77,2.29z" fill="rgb(43,0,0)"/><circle cx="640.2" cy="553.2" r="3.4" fill="rgb(83,255,2)"/>
<path d="M653.5,730.5V766.79" stroke="rgb(198,0,0)"/><path d="M650.1,765.71q3.36,-2.17 6.71,0l-3.36,3.25z" fill="rgb(198,0,0)"/><circle cx="653.5" cy="730.5" r="3.4" fill="rgb(55,156,0)"/>
<path d="M516,582.6V587.22" stroke="rgb(22,0,0)"/><path d="M514.8,586.64q1.17,-1.15 2.34,0l-1.17,1.73z" fill="rgb(22,0,0)"/><circle cx="516" cy="582.6" r="3.4" fill="rgb(18,255,18)"/>
<path d="M478.3,985.8V998.87" stroke="rgb(65,0,0)"/><path d="M476.29,998.05q2.02,-1.63 4.04,0l-2.02,2.44z" fill="rgb(65,0,0)"/><circle cx="478.3" cy="985.8" r="3.4" fill="rgb(0,18,2)"/>
<path d="M478.3,877.8V910.01" stroke="rgb(174,0,0)"/><path d="M475.19,908.97q3.12,-2.07 6.24,0l-3.12,3.11z" fill="rgb(174,0,0)"/><circle cx="478.3" cy="877.8" r="3.4" fill="rgb(0,83,7)"/>
<path d="M478.3,678.8V697.35" stroke="rgb(95,0,0)"/><path d="M475.97,696.47q2.34,-1.76 4.67,0l-2.34,2.64z" fill="rgb(95,0,0)"/><circle cx="478.3" cy="678.8" r="3.4" fill="rgb(0,202,18)"/>
<path d="M481.9,678.3V697.41" stroke="rgb(98,0,0)"/><path d="M479.56,696.52q2.37,-1.77 4.74,0l-2.37,2.65z" fill="rgb(98,0,0)"/><circle cx="481.9" cy="678.3" r="3.4" fill="rgb(2,202,18)"/>
<path d="M487.1,877.7V910.48" stroke="rgb(177,0,0)"/><path d="M483.93,909.44q3.15,-2.08 6.31,0l-3.15,3.13z" fill="rgb(177,0,0)"/><circle cx="487.1" cy="877.7" r="3.4" fill="rgb(2,83,7)"/>
<path d="M648.9,731.6V768.13" stroke="rgb(199,0,0)"/><path d="M645.51,767.04q3.37,-2.17 6.73,0l-3.37,3.26z" fill="rgb(199,0,0)"/><circle cx="648.9" cy="731.6" r="3.4" fill="rgb(55,156,2)"/>
<path d="M494.7,676.5V697.13" stroke="rgb(106,0,0)"/><path d="M492.24,696.23q2.46,-1.8 4.91,0l-2.46,2.71z" fill="rgb(106,0,0)"/><circle cx="494.7" cy="676.5" r="3.4" fill="rgb(7,202,18)"/>
<path d="M671.3,983.9V998.84" stroke="rgb(75,0,0)"/><path d="M669.21,998q2.13,-1.67 4.26,0l-2.13,2.51z" fill="rgb(75,0,0)"/><circle cx="671.3" cy="983.9" r="3.4" fill="rgb(7,18,0)"/>
<path d="M671.3,863.7V901.75" stroke="rgb(208,0,0)"/><path d="M667.89,900.65q3.45,-2.2 6.9,0l-3.45,3.31z" fill="rgb(208,0,0)"/><circle cx="671.3" cy="863.7" r="3.4" fill="rgb(34,83,0)"/>
<path d="M671.3,642.5V669.43" stroke="rgb(142,0,0)"/><path d="M668.53,668.45q2.81,-1.95 5.63,0l-2.81,2.92z" fill="rgb(142,0,0)"/><circle cx="671.3" cy="642.5" r="3.4" fill="rgb(83,202,0)"/>
<path d="M584.1,957.5V980.21" stroke="rgb(118,0,0)"/><path d="M581.48,979.28q2.58,-1.85 5.15,0l-2.58,2.78z" fill="rgb(118,0,0)"/><circle cx="584.1" cy="957.5" r="3.4" fill="rgb(7,34,2)"/>
<path d="M584.1,741.7V776.78" stroke="rgb(190,0,0)"/><path d="M580.77,775.71q3.28,-2.14 6.56,0l-3.28,3.2z" fill="rgb(190,0,0)"/><circle cx="584.1" cy="741.7" r="3.4" fill="rgb(34,156,7)"/>
<path d="M553.5,815.4V852.49" stroke="rgb(203,0,0)"/><path d="M550.09,851.4q3.4,-2.18 6.8,0l-3.4,3.28z" fill="rgb(203,0,0)"/><circle cx="553.5" cy="815.4" r="3.4" fill="rgb(18,116,7)"/>
<path d="M609.4,655.3V681.59" stroke="rgb(139,0,0)"/><path d="M606.6,680.62q2.78,-1.93 5.56,0l-2.78,2.9z" fill="rgb(139,0,0)"/><circle cx="609.4" cy="655.3" r="3.4" fill="rgb(55,202,7)"/>
<path d="M542,577V583.58" stroke="rgb(33,0,0)"/><path d="M540.5,582.84q1.54,-1.48 3.08,0l-1.54,2.22z" fill="rgb(33,0,0)"/><circle cx="542" cy="577" r="3.4" fill="rgb(34,255,18)"/>
<path d="M667.8,643.3V670.4" stroke="rgb(143,0,0)"/><path d="M664.94,669.43q2.83,-1.95 5.65,0l-2.83,2.93z" fill="rgb(143,0,0)"/><circle cx="667.8" cy="643.3" r="3.4" fill="rgb(83,202,2)"/>
<path d="M630.4,917.7V949.25" stroke="rgb(169,0,0)"/><path d="M627.3,948.22q3.08,-2.06 6.16,0l-3.08,3.08z" fill="rgb(169,0,0)"/><circle cx="630.4" cy="917.7" r="3.4" fill="rgb(18,55,2)"/>
<path d="M630.4,555.3V564.49" stroke="rgb(45,0,0)"/><path d="M628.58,563.72q1.8,-1.54 3.6,0l-1.8,2.31z" fill="rgb(45,0,0)"/><circle cx="630.4" cy="555.3" r="3.4" fill="rgb(83,255,7)"/>
<path d="M686,540.4V549.09" stroke="rgb(43,0,0)"/><path d="M684.22,548.33q1.77,-1.53 3.54,0l-1.77,2.29z" fill="rgb(43,0,0)"/><circle cx="686" cy="540.4" r="3.4" fill="rgb(116,255,0)"/>
<path d="M517.3,988.2V1001.77" stroke="rgb(68,0,0)"/><path d="M515.24,1000.95q2.05,-1.64 4.1,0l-2.05,2.46z" fill="rgb(68,0,0)"/><circle cx="517.3" cy="988.2" r="3.4" fill="rgb(2,18,2)"/>
<path d="M517.3,877.3V911.6" stroke="rgb(186,0,0)"/><path d="M514.05,910.54q3.24,-2.12 6.48,0l-3.24,3.18z" fill="rgb(186,0,0)"/><circle cx="517.3" cy="877.3" r="3.4" fill="rgb(7,83,7)"/>
<path d="M517.3,673.1V695.83" stroke="rgb(118,0,0)"/><path d="M514.72,694.91q2.58,-1.85 5.16,0l-2.58,2.78z" fill="rgb(118,0,0)"/><circle cx="517.3" cy="673.1" r="3.4" fill="rgb(18,202,18)"/>
<path d="M692.3,800V840.68" stroke="rgb(225,0,0)"/><path d="M688.74,839.54q3.61,-2.27 7.21,0l-3.61,3.4z" fill="rgb(225,0,0)"/><circle cx="692.3" cy="800" r="3.4" fill="rgb(55,116,0)"/>
<path d="M683.1,541V549.83" stroke="rgb(44,0,0)"/><path d="M681.35,549.06q1.78,-1.53 3.56,0l-1.78,2.3z" fill="rgb(44,0,0)"/><circle cx="683.1" cy="541" r="3.4" fill="rgb(116,255,2)"/>
<path d="M469.9,759V788.24" stroke="rgb(156,0,0)"/><path d="M466.91,787.24q2.95,-2 5.9,0l-2.95,3.01z" fill="rgb(156,0,0)"/><circle cx="469.9" cy="759" r="3.4" fill="rgb(0,156,18)"/>
<path d="M662.7,866V904.22" stroke="rgb(209,0,0)"/><path d="M659.24,903.12q3.46,-2.21 6.93,0l-3.46,3.31z" fill="rgb(209,0,0)"/><circle cx="662.7" cy="866" r="3.4" fill="rgb(34,83,2)"/>
<path d="M474.5,758.5V788.36" stroke="rgb(159,0,0)"/><path d="M471.49,787.35q2.98,-2.02 5.97,0l-2.98,3.03z" fill="rgb(159,0,0)"/><circle cx="474.5" cy="758.5" r="3.4" fill="rgb(2,156,18)"/>
<path d="M574.9,569.2V577.77" stroke="rgb(43,0,0)"/><path d="M573.16,577.01q1.77,-1.53 3.53,0l-1.77,2.29z" fill="rgb(43,0,0)"/><circle cx="574.9" cy="569.2" r="3.4" fill="rgb(55,255,18)"/>
<path d="M708.4,956.1V980.73" stroke="rgb(129,0,0)"/><path d="M705.69,979.78q2.69,-1.9 5.37,0l-2.69,2.85z" fill="rgb(129,0,0)"/><circle cx="708.4" cy="956.1" r="3.4" fill="rgb(18,34,0)"/>
<path d="M708.4,722.5V760.14" stroke="rgb(206,0,0)"/><path d="M704.95,759.04q3.43,-2.2 6.86,0l-3.43,3.29z" fill="rgb(206,0,0)"/><circle cx="708.4" cy="722.5" r="3.4" fill="rgb(83,156,0)"/>
<path d="M686.1,801.5V842.35" stroke="rgb(226,0,0)"/><path d="M682.49,841.21q3.62,-2.27 7.23,0l-3.62,3.41z" fill="rgb(226,0,0)"/><circle cx="686.1" cy="801.5" r="3.4" fill="rgb(55,116,2)"/>
<path d="M490.7,756.9V788.28" stroke="rgb(168,0,0)"/><path d="M487.61,787.25q3.07,-2.05 6.14,0l-3.07,3.08z" fill="rgb(168,0,0)"/><circle cx="490.7" cy="756.9" r="3.4" fill="rgb(7,156,18)"/>
<path d="M549.1,667.8V692.84" stroke="rgb(131,0,0)"/><path d="M546.37,691.88q2.71,-1.91 5.41,0l-2.71,2.86z" fill="rgb(131,0,0)"/><circle cx="549.1" cy="667.8" r="3.4" fill="rgb(34,202,18)"/>
<path d="M633,735.5V772.57" stroke="rgb(202,0,0)"/><path d="M629.64,771.47q3.4,-2.18 6.79,0l-3.4,3.27z" fill="rgb(202,0,0)"/><circle cx="633" cy="735.5" r="3.4" fill="rgb(55,156,7)"/>
<path d="M604.7,811.9V851.32" stroke="rgb(217,0,0)"/><path d="M601.16,850.2q3.53,-2.24 7.06,0l-3.53,3.36z" fill="rgb(217,0,0)"/><circle cx="604.7" cy="811.9" r="3.4" fill="rgb(34,116,7)"/>
<path d="M655.3,646.1V673.64" stroke="rgb(146,0,0)"/><path d="M652.44,672.66q2.86,-1.96 5.71,0l-2.86,2.95z" fill="rgb(146,0,0)"/><circle cx="655.3" cy="646.1" r="3.4" fill="rgb(83,202,7)"/>
<path d="M464.4,929.4V957.25" stroke="rgb(148,0,0)"/><path d="M461.56,956.26q2.87,-1.97 5.74,0l-2.87,2.96z" fill="rgb(148,0,0)"/><circle cx="464.4" cy="929.4" r="3.4" fill="rgb(0,55,7)"/>
<path d="M464.4,595.4V597.18" stroke="rgb(8,0,0)"/><circle cx="464.4" cy="595.4" r="3.4" fill="rgb(0,255,34)"/>
<path d="M721,631.1V658.16" stroke="rgb(143,0,0)"/><path d="M718.14,657.19q2.83,-1.95 5.65,0l-2.83,2.93z" fill="rgb(143,0,0)"/><circle cx="721" cy="631.1" r="3.4" fill="rgb(116,202,0)"/>
<path d="M703.7,723.5V761.32" stroke="rgb(207,0,0)"/><path d="M700.25,760.22q3.44,-2.2 6.88,0l-3.44,3.3z" fill="rgb(207,0,0)"/><circle cx="703.7" cy="723.5" r="3.4" fill="rgb(83,156,2)"/>
<path d="M673.1,542.9V552.24" stroke="rgb(47,0,0)"/><path d="M671.29,551.47q1.81,-1.55 3.62,0l-1.81,2.32z" fill="rgb(47,0,0)"/><circle cx="673.1" cy="542.9" r="3.4" fill="rgb(116,255,7)"/>
<path d="M467.2,594.8V597.04" stroke="rgb(10,0,0)"/><circle cx="467.2" cy="594.8" r="3.4" fill="rgb(2,255,34)"/>
<path d="M568,876.1V912.57" stroke="rgb(199,0,0)"/><path d="M564.61,911.49q3.36,-2.17 6.73,0l-3.36,3.25z" fill="rgb(199,0,0)"/><circle cx="568" cy="876.1" r="3.4" fill="rgb(18,83,7)"/>
<path d="M477.2,929.5V957.94" stroke="rgb(151,0,0)"/><path d="M474.26,956.94q2.9,-1.98 5.81,0l-2.9,2.98z" fill="rgb(151,0,0)"/><circle cx="477.2" cy="929.5" r="3.4" fill="rgb(2,55,7)"/>
<path d="M477.2,592.7V596.18" stroke="rgb(16,0,0)"/><path d="M476.21,595.74q0.95,-0.88 1.9,0l-0.95,1.31z" fill="rgb(16,0,0)"/><circle cx="477.2" cy="592.7" r="3.4" fill="rgb(7,255,34)"/>
<path d="M717.3,631.8V659.04" stroke="rgb(144,0,0)"/><path d="M714.5,658.06q2.84,-1.96 5.67,0l-2.84,2.94z" fill="rgb(144,0,0)"/><circle cx="717.3" cy="631.8" r="3.4" fill="rgb(116,202,2)"/>
<path d="M731.1,915V948.58" stroke="rgb(182,0,0)"/><path d="M727.9,947.53q3.2,-2.1 6.4,0l-3.2,3.16z" fill="rgb(182,0,0)"/><circle cx="731.1" cy="915" r="3.4" fill="rgb(34,55,0)"/>
<path d="M731.1,525.4V532.8" stroke="rgb(37,0,0)"/><path d="M729.43,532.05q1.67,-1.5 3.34,0l-1.67,2.25z" fill="rgb(37,0,0)"/><circle cx="731.1" cy="525.4" r="3.4" fill="rgb(156,255,0)"/>
<path d="M519.1,753.8V787.31" stroke="rgb(181,0,0)"/><path d="M515.88,786.26q3.19,-2.1 6.39,0l-3.19,3.15z" fill="rgb(181,0,0)"/><circle cx="519.1" cy="753.8" r="3.4" fill="rgb(18,156,18)"/>
<path d="M613.3,559V568.85" stroke="rgb(49,0,0)"/><path d="M611.43,568.07q1.84,-1.56 3.68,0l-1.84,2.34z" fill="rgb(49,0,0)"/><circle cx="613.3" cy="559" r="3.4" fill="rgb(83,255,18)"/>
<path d="M728.2,525.9V533.46" stroke="rgb(38,0,0)"/><path d="M726.51,532.71q1.7,-1.5 3.4,0l-1.7,2.26z" fill="rgb(38,0,0)"/><circle cx="728.2" cy="525.9" r="3.4" fill="rgb(156,255,2)"/>
<path d="M494.9,588.7V593.97" stroke="rgb(26,0,0)"/><path d="M493.6,593.31q1.3,-1.31 2.59,0l-1.3,1.96z" fill="rgb(26,0,0)"/><circle cx="494.9" cy="588.7" r="3.4" fill="rgb(18,255,34)"/>
<path d="M588.6,660.4V687.44" stroke="rgb(143,0,0)"/><path d="M585.74,686.46q2.82,-1.95 5.64,0l-2.82,2.93z" fill="rgb(143,0,0)"/><circle cx="588.6" cy="660.4" r="3.4" fill="rgb(55,202,18)"/>
<path d="M746.3,860.7V900.67" stroke="rgb(220,0,0)"/><path d="M742.77,899.54q3.57,-2.25 7.13,0l-3.57,3.38z" fill="rgb(220,0,0)"/><circle cx="746.3" cy="860.7" r="3.4" fill="rgb(55,83,0)"/>
<path d="M457.9,830.1V863.72" stroke="rgb(182,0,0)"/><path d="M454.74,862.67q3.2,-2.1 6.4,0l-3.2,3.16z" fill="rgb(182,0,0)"/><circle cx="457.9" cy="830.1" r="3.4" fill="rgb(0,116,18)"/>
<path d="M464,829.7V863.9" stroke="rgb(185,0,0)"/><path d="M460.75,862.84q3.23,-2.12 6.47,0l-3.23,3.18z" fill="rgb(185,0,0)"/><circle cx="464" cy="829.7" r="3.4" fill="rgb(2,116,18)"/>
<path d="M757.2,793V835.02" stroke="rgb(233,0,0)"/><path d="M753.56,833.87q3.68,-2.3 7.36,0l-3.68,3.44z" fill="rgb(233,0,0)"/><circle cx="757.2" cy="793" r="3.4" fill="rgb(83,116,0)"/>
<path d="M520.2,929.8V959.75" stroke="rgb(160,0,0)"/><path d="M517.21,958.74q2.99,-2.02 5.98,0l-2.99,3.03z" fill="rgb(160,0,0)"/><circle cx="520.2" cy="929.8" r="3.4" fill="rgb(7,55,7)"/>
<path d="M520.2,582.7V590.11" stroke="rgb(37,0,0)"/><path d="M518.53,589.36q1.67,-1.5 3.34,0l-1.67,2.25z" fill="rgb(37,0,0)"/><circle cx="520.2" cy="582.7" r="3.4" fill="rgb(34,255,34)"/>
<path d="M558.4,749V784.73" stroke="rgb(195,0,0)"/><path d="M555.07,783.65q3.32,-2.15 6.65,0l-3.32,3.23z" fill="rgb(195,0,0)"/><circle cx="558.4" cy="749" r="3.4" fill="rgb(34,156,18)"/>
<path d="M704.6,634.1V661.92" stroke="rgb(147,0,0)"/><path d="M701.76,660.94q2.87,-1.97 5.73,0l-2.87,2.95z" fill="rgb(147,0,0)"/><circle cx="704.6" cy="634.1" r="3.4" fill="rgb(116,202,7)"/>
<path d="M718,918V951.85" stroke="rgb(183,0,0)"/><path d="M714.82,950.8q3.21,-2.11 6.42,0l-3.21,3.16z" fill="rgb(183,0,0)"/><circle cx="718" cy="918" r="3.4" fill="rgb(34,55,2)"/>
<path d="M718,527.5V535.62" stroke="rgb(40,0,0)"/><path d="M716.3,534.86q1.74,-1.52 3.47,0l-1.74,2.27z" fill="rgb(40,0,0)"/><circle cx="718" cy="527.5" r="3.4" fill="rgb(156,255,7)"/>
<path d="M687.4,726.9V765.27" stroke="rgb(210,0,0)"/><path d="M683.98,764.16q3.47,-2.21 6.94,0l-3.47,3.32z" fill="rgb(210,0,0)"/><circle cx="687.4" cy="726.9" r="3.4" fill="rgb(83,156,7)"/>
<path d="M687.4,961.5V986.31" stroke="rgb(130,0,0)"/><path d="M684.75,985.36q2.7,-1.9 5.4,0l-2.7,2.85z" fill="rgb(130,0,0)"/><circle cx="687.4" cy="961.5" r="3.4" fill="rgb(18,34,2)"/>
<path d="M765.4,711.8V749.61" stroke="rgb(207,0,0)"/><path d="M761.97,748.51q3.44,-2.2 6.88,0l-3.44,3.3z" fill="rgb(207,0,0)"/><circle cx="765.4" cy="711.8" r="3.4" fill="rgb(116,156,0)"/>
<path d="M454.2,687.2V706.54" stroke="rgb(99,0,0)"/><path d="M451.84,705.66q2.38,-1.77 4.76,0l-2.38,2.66z" fill="rgb(99,0,0)"/><circle cx="454.2" cy="687.2" r="3.4" fill="rgb(0,202,34)"/>
<path d="M737.5,862.6V902.78" stroke="rgb(222,0,0)"/><path d="M733.93,901.65q3.58,-2.25 7.15,0l-3.58,3.38z" fill="rgb(222,0,0)"/><circle cx="737.5" cy="862.6" r="3.4" fill="rgb(55,83,2)"/>
<path d="M485.1,828.3V864.05" stroke="rgb(195,0,0)"/><path d="M481.76,862.97q3.32,-2.15 6.64,0l-3.32,3.23z" fill="rgb(195,0,0)"/><circle cx="485.1" cy="828.3" r="3.4" fill="rgb(7,116,18)"/>
<path d="M664.8,806.5V847.89" stroke="rgb(229,0,0)"/><path d="M661.12,846.75q3.65,-2.28 7.29,0l-3.65,3.42z" fill="rgb(229,0,0)"/><circle cx="664.8" cy="806.5" r="3.4" fill="rgb(55,116,7)"/>
<path d="M457.7,686.7V706.54" stroke="rgb(102,0,0)"/><path d="M455.27,705.65q2.41,-1.79 4.83,0l-2.41,2.68z" fill="rgb(102,0,0)"/><circle cx="457.7" cy="686.7" r="3.4" fill="rgb(2,202,34)"/>
<path d="M771.8,616.6V642.43" stroke="rgb(136,0,0)"/><path d="M769.01,641.47q2.75,-1.92 5.5,0l-2.75,2.89z" fill="rgb(136,0,0)"/><circle cx="771.8" cy="616.6" r="3.4" fill="rgb(156,202,0)"/>
<path d="M750.9,794.3V836.47" stroke="rgb(234,0,0)"/><path d="M747.23,835.32q3.69,-2.3 7.38,0l-3.69,3.45z" fill="rgb(234,0,0)"/><circle cx="750.9" cy="794.3" r="3.4" fill="rgb(83,116,2)"/>
<path d="M655.5,546.1V556.18" stroke="rgb(50,0,0)"/><path d="M653.69,555.4q1.85,-1.56 3.71,0l-1.85,2.34z" fill="rgb(50,0,0)"/><circle cx="655.5" cy="546.1" r="3.4" fill="rgb(116,255,18)"/>
<path d="M760.7,712.6V750.65" stroke="rgb(208,0,0)"/><path d="M757.23,749.55q3.45,-2.2 6.9,0l-3.45,3.31z" fill="rgb(208,0,0)"/><circle cx="760.7" cy="712.6" r="3.4" fill="rgb(116,156,2)"/>
<path d="M776.8,507.3V511.81" stroke="rgb(22,0,0)"/><path d="M775.68,511.25q1.15,-1.12 2.29,0l-1.15,1.68z" fill="rgb(22,0,0)"/><circle cx="776.8" cy="507.3" r="3.4" fill="rgb(202,255,0)"/>
<path d="M469.9,684.6V706.05" stroke="rgb(111,0,0)"/><path d="M467.42,705.14q2.5,-1.82 5,0l-2.5,2.73z" fill="rgb(111,0,0)"/><circle cx="469.9" cy="684.6" r="3.4" fill="rgb(7,202,34)"/>
<path d="M768.1,617.2V643.21" stroke="rgb(137,0,0)"/><path d="M765.35,642.24q2.76,-1.93 5.53,0l-2.76,2.89z" fill="rgb(137,0,0)"/><circle cx="768.1" cy="617.2" r="3.4" fill="rgb(156,202,2)"/>
<path d="M633.8,994.7V1009.85" stroke="rgb(76,0,0)"/><path d="M631.63,1009.01q2.14,-1.68 4.28,0l-2.14,2.52z" fill="rgb(76,0,0)"/><circle cx="633.8" cy="994.7" r="3.4" fill="rgb(7,18,2)"/>
<path d="M633.8,650.6V678.94" stroke="rgb(150,0,0)"/><path d="M630.88,677.95q2.9,-1.98 5.79,0l-2.9,2.97z" fill="rgb(150,0,0)"/><circle cx="633.8" cy="650.6" r="3.4" fill="rgb(83,202,18)"/>
<path d="M633.8,873.6V912.32" stroke="rgb(213,0,0)"/><path d="M630.28,911.21q3.49,-2.22 6.98,0l-3.49,3.33z" fill="rgb(213,0,0)"/><circle cx="633.8" cy="873.6" r="3.4" fill="rgb(34,83,7)"/>
<path d="M773.9,507.7V512.37" stroke="rgb(22,0,0)"/><path d="M772.76,511.79q1.18,-1.16 2.35,0l-1.18,1.74z" fill="rgb(22,0,0)"/><circle cx="773.9" cy="507.7" r="3.4" fill="rgb(202,255,2)"/>
<path d="M552.2,574.5V583.85" stroke="rgb(46,0,0)"/><path d="M550.41,583.08q1.81,-1.55 3.62,0l-1.81,2.32z" fill="rgb(46,0,0)"/><circle cx="552.2" cy="574.5" r="3.4" fill="rgb(55,255,34)"/>
<path d="M491.6,680.9V704.38" stroke="rgb(123,0,0)"/><path d="M489,703.45q2.62,-1.87 5.24,0l-2.62,2.81z" fill="rgb(123,0,0)"/><circle cx="491.6" cy="680.9" r="3.4" fill="rgb(18,202,34)"/>
<path d="M521.5,825.6V863.44" stroke="rgb(207,0,0)"/><path d="M518.07,862.34q3.44,-2.2 6.89,0l-3.44,3.3z" fill="rgb(207,0,0)"/><circle cx="521.5" cy="825.6" r="3.4" fill="rgb(18,116,18)"/>
<path d="M606.3,742V779.77" stroke="rgb(207,0,0)"/><path d="M602.83,778.67q3.44,-2.2 6.87,0l-3.44,3.3z" fill="rgb(207,0,0)"/><circle cx="606.3" cy="742" r="3.4" fill="rgb(55,156,18)"/>
<path d="M763.7,509.1V514.19" stroke="rgb(25,0,0)"/><path d="M762.46,513.56q1.26,-1.27 2.52,0l-1.26,1.9z" fill="rgb(25,0,0)"/><circle cx="763.7" cy="509.1" r="3.4" fill="rgb(202,255,7)"/>
<path d="M755.3,619.3V645.75" stroke="rgb(140,0,0)"/><path d="M752.53,644.78q2.79,-1.94 5.58,0l-2.79,2.91z" fill="rgb(140,0,0)"/><circle cx="755.3" cy="619.3" r="3.4" fill="rgb(156,202,7)"/>
<path d="M700.2,530.3V539.14" stroke="rgb(44,0,0)"/><path d="M698.41,538.37q1.78,-1.53 3.56,0l-1.78,2.3z" fill="rgb(44,0,0)"/><circle cx="700.2" cy="530.3" r="3.4" fill="rgb(156,255,18)"/>
<path d="M589.7,563.8V574.42" stroke="rgb(53,0,0)"/><path d="M587.84,573.64q1.89,-1.58 3.77,0l-1.89,2.36z" fill="rgb(53,0,0)"/><circle cx="589.7" cy="563.8" r="3.4" fill="rgb(83,255,34)"/>
<path d="M589.7,929.6V961.68" stroke="rgb(172,0,0)"/><path d="M586.62,960.65q3.11,-2.07 6.22,0l-3.11,3.1z" fill="rgb(172,0,0)"/><circle cx="589.7" cy="929.6" r="3.4" fill="rgb(18,55,7)"/>
<path d="M522.3,675.1V700.87" stroke="rgb(136,0,0)"/><path d="M519.51,699.91q2.75,-1.92 5.5,0l-2.75,2.88z" fill="rgb(136,0,0)"/><circle cx="522.3" cy="675.1" r="3.4" fill="rgb(34,202,34)"/>
<path d="M744.3,715.6V754.1" stroke="rgb(211,0,0)"/><path d="M740.79,752.99q3.48,-2.22 6.96,0l-3.48,3.33z" fill="rgb(211,0,0)"/><circle cx="744.3" cy="715.6" r="3.4" fill="rgb(116,156,7)"/>
<path d="M682.6,638.1V666.64" stroke="rgb(152,0,0)"/><path d="M679.7,665.65q2.91,-1.99 5.82,0l-2.91,2.98z" fill="rgb(152,0,0)"/><circle cx="682.6" cy="638.1" r="3.4" fill="rgb(116,202,18)"/>
<path d="M822,1016.6V1024.38" stroke="rgb(39,0,0)"/><path d="M820.26,1023.62q1.72,-1.51 3.44,0l-1.72,2.26z" fill="rgb(39,0,0)"/><circle cx="822" cy="1016.6" r="3.4" fill="rgb(7,7,0)"/>
<path d="M822,993.8V1010.78" stroke="rgb(87,0,0)"/><path d="M819.73,1009.92q2.25,-1.72 4.5,0l-2.25,2.58z" fill="rgb(87,0,0)"/><circle cx="822" cy="993.8" r="3.4" fill="rgb(18,18,0)"/>
<path d="M822,959.6V986.53" stroke="rgb(142,0,0)"/><path d="M819.16,985.56q2.82,-1.95 5.63,0l-2.82,2.92z" fill="rgb(142,0,0)"/><circle cx="822" cy="959.6" r="3.4" fill="rgb(34,34,0)"/>
<path d="M822,913.5V949.09" stroke="rgb(194,0,0)"/><path d="M818.66,948.02q3.31,-2.15 6.63,0l-3.31,3.22z" fill="rgb(194,0,0)"/><circle cx="822" cy="913.5" r="3.4" fill="rgb(55,55,0)"/>
<path d="M822,854.8V896.09" stroke="rgb(228,0,0)"/><path d="M818.34,894.95q3.64,-2.28 7.28,0l-3.64,3.42z" fill="rgb(228,0,0)"/><circle cx="822" cy="854.8" r="3.4" fill="rgb(83,83,0)"/>
<path d="M822,783.1V825.26" stroke="rgb(234,0,0)"/><path d="M818.29,824.11q3.69,-2.3 7.38,0l-3.69,3.45z" fill="rgb(234,0,0)"/><circle cx="822" cy="783.1" r="3.4" fill="rgb(116,116,0)"/>
<path d="M822,697.9V734.46" stroke="rgb(199,0,0)"/><path d="M818.61,733.37q3.37,-2.17 6.73,0l-3.37,3.26z" fill="rgb(199,0,0)"/><circle cx="822" cy="697.9" r="3.4" fill="rgb(156,156,0)"/>
<path d="M822,599V621.59" stroke="rgb(117,0,0)"/><path d="M819.41,620.67q2.57,-1.85 5.14,0l-2.57,2.77z" fill="rgb(117,0,0)"/><circle cx="822" cy="599" r="3.4" fill="rgb(202,202,0)"/>
<path d="M822,1029V1030.95" stroke="rgb(8,0,0)"/><circle cx="822" cy="1029" r="3.4" fill="rgb(2,2,0)"/>
<circle cx="822" cy="485.9" r="3.4" fill="rgb(255,255,0)"/>
<path d="M729.2,798.6V841.26" stroke="rgb(237,0,0)"/><path d="M725.49,840.11q3.72,-2.31 7.44,0l-3.72,3.47z" fill="rgb(237,0,0)"/><circle cx="729.2" cy="798.6" r="3.4" fill="rgb(83,116,7)"/>
<circle cx="819.1" cy="486.3" r="3.4" fill="rgb(255,255,2)"/>
<path d="M570.9,821.2V861.29" stroke="rgb(221,0,0)"/><path d="M567.34,860.16q3.57,-2.25 7.15,0l-3.57,3.38z" fill="rgb(221,0,0)"/><circle cx="570.9" cy="821.2" r="3.4" fill="rgb(34,116,18)"/>
<path d="M818.4,599.5V622.27" stroke="rgb(119,0,0)"/><path d="M815.78,621.34q2.58,-1.85 5.16,0l-2.58,2.78z" fill="rgb(119,0,0)"/><circle cx="818.4" cy="599.5" r="3.4" fill="rgb(202,202,2)"/>
<path d="M440.6,1020.8V1026.67" stroke="rgb(30,0,0)"/><path d="M439.22,1025.94q1.43,-1.47 2.86,0l-1.43,2.2z" fill="rgb(30,0,0)"/><circle cx="440.6" cy="1020.8" r="3.4" fill="rgb(0,7,2)"/>
<path d="M440.6,975.9V997.05" stroke="rgb(109,0,0)"/><path d="M438.16,996.14q2.49,-1.82 4.97,0l-2.49,2.73z" fill="rgb(109,0,0)"/><circle cx="440.6" cy="975.9" r="3.4" fill="rgb(0,34,7)"/>
<path d="M440.6,893.3V926.27" stroke="rgb(178,0,0)"/><path d="M437.49,925.23q3.16,-2.09 6.33,0l-3.16,3.13z" fill="rgb(178,0,0)"/><circle cx="440.6" cy="893.3" r="3.4" fill="rgb(0,83,18)"/>
<path d="M440.6,769.7V799.79" stroke="rgb(161,0,0)"/><path d="M437.65,798.78q3,-2.02 5.99,0l-3,3.03z" fill="rgb(161,0,0)"/><circle cx="440.6" cy="769.7" r="3.4" fill="rgb(0,156,34)"/>
<path d="M440.6,602.7V605.08" stroke="rgb(10,0,0)"/><circle cx="440.6" cy="602.7" r="3.4" fill="rgb(0,255,55)"/>
<path d="M817.3,698.6V735.36" stroke="rgb(200,0,0)"/><path d="M813.92,734.27q3.38,-2.18 6.76,0l-3.38,3.26z" fill="rgb(200,0,0)"/><circle cx="817.3" cy="698.6" r="3.4" fill="rgb(156,156,2)"/>
<path d="M443.3,602.1V604.9" stroke="rgb(13,0,0)"/><circle cx="443.3" cy="602.1" r="3.4" fill="rgb(2,255,55)"/>
<path d="M445,769.2V799.82" stroke="rgb(164,0,0)"/><path d="M441.98,798.8q3.03,-2.03 6.06,0l-3.03,3.05z" fill="rgb(164,0,0)"/><circle cx="445" cy="769.2" r="3.4" fill="rgb(2,156,34)"/>
<path d="M448.8,893V926.52" stroke="rgb(181,0,0)"/><path d="M445.63,925.47q3.19,-2.1 6.39,0l-3.19,3.15z" fill="rgb(181,0,0)"/><circle cx="448.8" cy="893" r="3.4" fill="rgb(2,83,18)"/>
<path d="M815.7,784.1V826.5" stroke="rgb(235,0,0)"/><path d="M812.01,825.35q3.7,-2.31 7.4,0l-3.7,3.46z" fill="rgb(235,0,0)"/><circle cx="815.7" cy="784.1" r="3.4" fill="rgb(116,116,2)"/>
<path d="M452.8,599.8V603.88" stroke="rgb(19,0,0)"/><path d="M451.74,603.37q1.06,-1.01 2.12,0l-1.06,1.52z" fill="rgb(19,0,0)"/><circle cx="452.8" cy="599.8" r="3.4" fill="rgb(7,255,55)"/>
<path d="M560.5,667.1V694.85" stroke="rgb(147,0,0)"/><path d="M557.67,693.86q2.87,-1.97 5.73,0l-2.87,2.95z" fill="rgb(147,0,0)"/><circle cx="560.5" cy="667.1" r="3.4" fill="rgb(55,202,34)"/>
<path d="M659.8,732.6V771.67" stroke="rgb(215,0,0)"/><path d="M656.3,770.56q3.51,-2.23 7.02,0l-3.51,3.34z" fill="rgb(215,0,0)"/><circle cx="659.8" cy="732.6" r="3.4" fill="rgb(83,156,18)"/>
<path d="M813.2,856.4V897.85" stroke="rgb(230,0,0)"/><path d="M809.56,896.7q3.65,-2.28 7.3,0l-3.65,3.43z" fill="rgb(230,0,0)"/><circle cx="813.2" cy="856.4" r="3.4" fill="rgb(83,83,2)"/>
<path d="M631.3,550.3V561.21" stroke="rgb(54,0,0)"/><path d="M629.38,560.42q1.9,-1.58 3.79,0l-1.9,2.37z" fill="rgb(54,0,0)"/><circle cx="631.3" cy="550.3" r="3.4" fill="rgb(116,255,34)"/>
<path d="M707.7,869V909.7" stroke="rgb(225,0,0)"/><path d="M704.14,908.56q3.61,-2.27 7.21,0l-3.61,3.4z" fill="rgb(225,0,0)"/><circle cx="707.7" cy="869" r="3.4" fill="rgb(55,83,7)"/>
<path d="M460.3,767.3V799.42" stroke="rgb(173,0,0)"/><path d="M457.23,798.39q3.12,-2.07 6.23,0l-3.12,3.1z" fill="rgb(173,0,0)"/><circle cx="460.3" cy="767.3" r="3.4" fill="rgb(7,156,34)"/>
<path d="M460.3,976.3V997.99" stroke="rgb(113,0,0)"/><path d="M457.83,997.07q2.52,-1.83 5.04,0l-2.52,2.74z" fill="rgb(113,0,0)"/><circle cx="460.3" cy="976.3" r="3.4" fill="rgb(2,34,7)"/>
<path d="M469.8,595.6V601.39" stroke="rgb(29,0,0)"/><path d="M468.37,600.67q1.41,-1.45 2.82,0l-1.41,2.17z" fill="rgb(29,0,0)"/><circle cx="469.8" cy="595.6" r="3.4" fill="rgb(18,255,55)"/>
<path d="M745.8,511.5V517.16" stroke="rgb(28,0,0)"/><path d="M744.38,516.45q1.38,-1.41 2.76,0l-1.38,2.12z" fill="rgb(28,0,0)"/><circle cx="745.8" cy="511.5" r="3.4" fill="rgb(202,255,18)"/>
<circle cx="809" cy="487.4" r="3.4" fill="rgb(255,255,7)"/>
<path d="M809,915.9V951.74" stroke="rgb(195,0,0)"/><path d="M805.64,950.67q3.33,-2.15 6.65,0l-3.33,3.23z" fill="rgb(195,0,0)"/><circle cx="809" cy="915.9" r="3.4" fill="rgb(55,55,2)"/>
<path d="M477.1,891.8V926.89" stroke="rgb(190,0,0)"/><path d="M473.8,925.82q3.28,-2.14 6.57,0l-3.28,3.21z" fill="rgb(190,0,0)"/><circle cx="477.1" cy="891.8" r="3.4" fill="rgb(7,83,18)"/>
<path d="M805.7,601.2V624.49" stroke="rgb(122,0,0)"/><path d="M803.04,623.56q2.61,-1.87 5.22,0l-2.61,2.8z" fill="rgb(122,0,0)"/><circle cx="805.7" cy="601.2" r="3.4" fill="rgb(202,202,7)"/>
<path d="M487.3,763.7V797.91" stroke="rgb(186,0,0)"/><path d="M484.1,796.85q3.24,-2.12 6.47,0l-3.24,3.18z" fill="rgb(186,0,0)"/><circle cx="487.3" cy="763.7" r="3.4" fill="rgb(18,156,34)"/>
<path d="M494.1,589.2V597.26" stroke="rgb(40,0,0)"/><path d="M492.32,596.5q1.73,-1.51 3.47,0l-1.73,2.27z" fill="rgb(40,0,0)"/><circle cx="494.1" cy="589.2" r="3.4" fill="rgb(34,255,55)"/>
<path d="M733.1,622.7V649.9" stroke="rgb(144,0,0)"/><path d="M730.23,648.92q2.83,-1.96 5.67,0l-2.83,2.93z" fill="rgb(144,0,0)"/><circle cx="733.1" cy="622.7" r="3.4" fill="rgb(156,202,18)"/>
<path d="M801,963.8V990.86" stroke="rgb(143,0,0)"/><path d="M798.14,989.89q2.83,-1.95 5.65,0l-2.83,2.93z" fill="rgb(143,0,0)"/><circle cx="801" cy="963.8" r="3.4" fill="rgb(34,34,2)"/>
<path d="M801,701.1V738.34" stroke="rgb(204,0,0)"/><path d="M797.56,737.25q3.41,-2.19 6.82,0l-3.41,3.28z" fill="rgb(204,0,0)"/><circle cx="801" cy="701.1" r="3.4" fill="rgb(156,156,7)"/>
<path d="M604.6,656.6V685.65" stroke="rgb(155,0,0)"/><path d="M601.7,684.65q2.94,-2 5.88,0l-2.94,3z" fill="rgb(155,0,0)"/><circle cx="604.6" cy="656.6" r="3.4" fill="rgb(83,202,34)"/>
<path d="M629.5,814.6V856.74" stroke="rgb(233,0,0)"/><path d="M625.77,855.59q3.69,-2.3 7.37,0l-3.69,3.45z" fill="rgb(233,0,0)"/><circle cx="629.5" cy="814.6" r="3.4" fill="rgb(55,116,18)"/>
<path d="M870.3,577.9V595.04" stroke="rgb(87,0,0)"/><path d="M868.09,594.18q2.26,-1.72 4.51,0l-2.26,2.59z" fill="rgb(87,0,0)"/><circle cx="870.3" cy="577.9" r="3.4" fill="rgb(255,202,0)"/>
<path d="M675.4,928V962.34" stroke="rgb(186,0,0)"/><path d="M672.15,961.28q3.24,-2.12 6.48,0l-3.24,3.18z" fill="rgb(186,0,0)"/><circle cx="675.4" cy="928" r="3.4" fill="rgb(34,55,7)"/>
<path d="M675.4,534V543.6" stroke="rgb(47,0,0)"/><path d="M673.57,542.83q1.82,-1.55 3.64,0l-1.82,2.33z" fill="rgb(47,0,0)"/><circle cx="675.4" cy="534" r="3.4" fill="rgb(156,255,34)"/>
<path d="M876.2,680.7V714.02" stroke="rgb(180,0,0)"/><path d="M873.03,712.97q3.18,-2.1 6.37,0l-3.18,3.15z" fill="rgb(180,0,0)"/><circle cx="876.2" cy="680.7" r="3.4" fill="rgb(202,156,0)"/>
<path d="M866.8,578.3V595.64" stroke="rgb(88,0,0)"/><path d="M864.53,594.77q2.27,-1.73 4.53,0l-2.27,2.59z" fill="rgb(88,0,0)"/><circle cx="866.8" cy="578.3" r="3.4" fill="rgb(255,202,2)"/>
<path d="M524.9,977.3V1000.51" stroke="rgb(121,0,0)"/><path d="M522.33,999.58q2.61,-1.87 5.21,0l-2.61,2.8z" fill="rgb(121,0,0)"/><circle cx="524.9" cy="977.3" r="3.4" fill="rgb(7,34,7)"/>
<path d="M524.9,1025V1031.44" stroke="rgb(32,0,0)"/><path d="M523.41,1030.7q1.52,-1.48 3.04,0l-1.52,2.22z" fill="rgb(32,0,0)"/><circle cx="524.9" cy="1025" r="3.4" fill="rgb(2,7,2)"/>
<path d="M524.9,758.1V794.58" stroke="rgb(199,0,0)"/><path d="M521.57,793.49q3.37,-2.17 6.73,0l-3.37,3.26z" fill="rgb(199,0,0)"/><circle cx="524.9" cy="758.1" r="3.4" fill="rgb(34,156,34)"/>
<path d="M524.9,889.4V926.61" stroke="rgb(203,0,0)"/><path d="M521.53,925.52q3.4,-2.19 6.81,0l-3.4,3.28z" fill="rgb(203,0,0)"/><circle cx="524.9" cy="889.4" r="3.4" fill="rgb(18,83,18)"/>
<path d="M524.9,580.5V590.51" stroke="rgb(50,0,0)"/><path d="M523.08,589.73q1.85,-1.56 3.7,0l-1.85,2.34z" fill="rgb(50,0,0)"/><circle cx="524.9" cy="580.5" r="3.4" fill="rgb(55,255,55)"/>
<path d="M794.1,787.7V830.59" stroke="rgb(238,0,0)"/><path d="M790.35,829.44q3.73,-2.32 7.46,0l-3.73,3.48z" fill="rgb(238,0,0)"/><circle cx="794.1" cy="787.7" r="3.4" fill="rgb(116,116,7)"/>
<path d="M716.2,720.5V759.71" stroke="rgb(216,0,0)"/><path d="M712.65,758.59q3.52,-2.23 7.05,0l-3.52,3.35z" fill="rgb(216,0,0)"/><circle cx="716.2" cy="720.5" r="3.4" fill="rgb(116,156,18)"/>
<path d="M883.7,769.7V810.63" stroke="rgb(226,0,0)"/><path d="M880.08,809.49q3.62,-2.27 7.23,0l-3.62,3.41z" fill="rgb(226,0,0)"/><circle cx="883.7" cy="769.7" r="3.4" fill="rgb(156,116,0)"/>
<path d="M871.6,681.3V714.8" stroke="rgb(181,0,0)"/><path d="M868.44,713.75q3.19,-2.1 6.39,0l-3.19,3.15z" fill="rgb(181,0,0)"/><circle cx="871.6" cy="681.3" r="3.4" fill="rgb(202,156,2)"/>
<path d="M791.1,489.4V490.59" stroke="rgb(5,0,0)"/><circle cx="791.1" cy="489.4" r="3.4" fill="rgb(255,255,18)"/>
<path d="M893.5,845.5V887.01" stroke="rgb(230,0,0)"/><path d="M889.9,885.87q3.65,-2.29 7.3,0l-3.65,3.43z" fill="rgb(230,0,0)"/><circle cx="893.5" cy="845.5" r="3.4" fill="rgb(116,83,0)"/>
<path d="M877.6,770.6V811.67" stroke="rgb(227,0,0)"/><path d="M873.97,810.53q3.63,-2.28 7.26,0l-3.63,3.41z" fill="rgb(227,0,0)"/><circle cx="877.6" cy="770.6" r="3.4" fill="rgb(156,116,2)"/>
<path d="M426.4,696.4V716.41" stroke="rgb(103,0,0)"/><path d="M424.02,715.52q2.42,-1.79 4.84,0l-2.42,2.69z" fill="rgb(103,0,0)"/><circle cx="426.4" cy="696.4" r="3.4" fill="rgb(0,202,55)"/>
<path d="M429.7,695.8V716.35" stroke="rgb(106,0,0)"/><path d="M427.25,715.44q2.45,-1.8 4.9,0l-2.45,2.7z" fill="rgb(106,0,0)"/><circle cx="429.7" cy="695.8" r="3.4" fill="rgb(2,202,55)"/>
<path d="M652.6,643.3V672.62" stroke="rgb(156,0,0)"/><path d="M649.66,671.62q2.95,-2 5.9,0l-2.95,3.01z" fill="rgb(156,0,0)"/><circle cx="652.6" cy="643.3" r="3.4" fill="rgb(116,202,34)"/>
<path d="M854.3,579.7V597.56" stroke="rgb(91,0,0)"/><path d="M852.02,596.69q2.3,-1.74 4.59,0l-2.3,2.61z" fill="rgb(91,0,0)"/><circle cx="854.3" cy="579.7" r="3.4" fill="rgb(255,202,7)"/>
<path d="M561.3,569.2V580.52" stroke="rgb(56,0,0)"/><path d="M559.36,579.72q1.92,-1.59 3.85,0l-1.92,2.39z" fill="rgb(56,0,0)"/><circle cx="561.3" cy="569.2" r="3.4" fill="rgb(83,255,55)"/>
<path d="M783.4,1001.6V1018.79" stroke="rgb(88,0,0)"/><path d="M781.18,1017.93q2.26,-1.73 4.52,0l-2.26,2.59z" fill="rgb(88,0,0)"/><circle cx="783.4" cy="1001.6" r="3.4" fill="rgb(18,18,2)"/>
<path d="M783.4,861.6V903.65" stroke="rgb(233,0,0)"/><path d="M779.76,902.5q3.68,-2.3 7.36,0l-3.68,3.45z" fill="rgb(233,0,0)"/><circle cx="783.4" cy="861.6" r="3.4" fill="rgb(83,83,7)"/>
<path d="M783.4,604.1V628.1" stroke="rgb(126,0,0)"/><path d="M780.79,627.16q2.65,-1.88 5.3,0l-2.65,2.82z" fill="rgb(126,0,0)"/><circle cx="783.4" cy="604.1" r="3.4" fill="rgb(202,202,18)"/>
<path d="M441.3,693.6V715.64" stroke="rgb(115,0,0)"/><path d="M438.72,714.72q2.54,-1.84 5.08,0l-2.54,2.76z" fill="rgb(115,0,0)"/><circle cx="441.3" cy="693.6" r="3.4" fill="rgb(7,202,55)"/>
<path d="M720.7,514.7V521.02" stroke="rgb(32,0,0)"/><path d="M719.17,520.29q1.51,-1.48 3.01,0l-1.51,2.21z" fill="rgb(32,0,0)"/><circle cx="720.7" cy="514.7" r="3.4" fill="rgb(202,255,34)"/>
<path d="M907.1,908.5V945.46" stroke="rgb(202,0,0)"/><path d="M903.72,944.37q3.39,-2.18 6.78,0l-3.39,3.27z" fill="rgb(202,0,0)"/><circle cx="907.1" cy="908.5" r="3.4" fill="rgb(83,55,0)"/>
<path d="M571.1,750.2V788.74" stroke="rgb(211,0,0)"/><path d="M567.6,787.63q3.48,-2.22 6.96,0l-3.48,3.32z" fill="rgb(211,0,0)"/><circle cx="571.1" cy="750.2" r="3.4" fill="rgb(55,156,34)"/>
<path d="M885.1,846.8V888.47" stroke="rgb(231,0,0)"/><path d="M881.41,887.32q3.66,-2.29 7.33,0l-3.66,3.43z" fill="rgb(231,0,0)"/><circle cx="885.1" cy="846.8" r="3.4" fill="rgb(116,83,2)"/>
<path d="M693,805.6V848.97" stroke="rgb(242,0,0)"/><path d="M689.19,847.8q3.76,-2.33 7.52,0l-3.76,3.49z" fill="rgb(242,0,0)"/><circle cx="693" cy="805.6" r="3.4" fill="rgb(83,116,18)"/>
<path d="M461.8,689.4V713.58" stroke="rgb(127,0,0)"/><path d="M459.15,712.64q2.66,-1.89 5.32,0l-2.66,2.83z" fill="rgb(127,0,0)"/><circle cx="461.8" cy="689.4" r="3.4" fill="rgb(18,202,55)"/>
<path d="M422.3,843.8V878.23" stroke="rgb(187,0,0)"/><path d="M419.06,877.17q3.25,-2.12 6.49,0l-3.25,3.18z" fill="rgb(187,0,0)"/><circle cx="422.3" cy="843.8" r="3.4" fill="rgb(0,116,34)"/>
<path d="M855.6,683.3V717.35" stroke="rgb(184,0,0)"/><path d="M852.42,716.3q3.22,-2.11 6.45,0l-3.22,3.17z" fill="rgb(184,0,0)"/><circle cx="855.6" cy="683.3" r="3.4" fill="rgb(202,156,7)"/>
<path d="M427.9,843.3V878.27" stroke="rgb(190,0,0)"/><path d="M424.63,877.21q3.28,-2.13 6.56,0l-3.28,3.2z" fill="rgb(190,0,0)"/><circle cx="427.9" cy="843.3" r="3.4" fill="rgb(2,116,34)"/>
<path d="M587.9,885.4V924.79" stroke="rgb(217,0,0)"/><path d="M584.39,923.68q3.53,-2.24 7.07,0l-3.53,3.36z" fill="rgb(217,0,0)"/><circle cx="587.9" cy="885.4" r="3.4" fill="rgb(34,83,18)"/>
<path d="M772.8,705.2V743.19" stroke="rgb(208,0,0)"/><path d="M769.4,742.09q3.45,-2.2 6.9,0l-3.45,3.31z" fill="rgb(208,0,0)"/><circle cx="772.8" cy="705.2" r="3.4" fill="rgb(156,156,18)"/>
<path d="M601.8,555.2V566.69" stroke="rgb(58,0,0)"/><path d="M599.86,565.9q1.94,-1.6 3.87,0l-1.94,2.39z" fill="rgb(58,0,0)"/><circle cx="601.8" cy="555.2" r="3.4" fill="rgb(116,255,55)"/>
<path d="M926.9,659.8V687.71" stroke="rgb(148,0,0)"/><path d="M924.04,686.72q2.87,-1.97 5.74,0l-2.87,2.96z" fill="rgb(148,0,0)"/><circle cx="926.9" cy="659.8" r="3.4" fill="rgb(255,156,0)"/>
<path d="M926.9,959.5V988.44" stroke="rgb(154,0,0)"/><path d="M923.98,987.45q2.93,-2 5.86,0l-2.93,2.99z" fill="rgb(154,0,0)"/><circle cx="926.9" cy="959.5" r="3.4" fill="rgb(55,34,0)"/>
<path d="M447.5,841.4V877.94" stroke="rgb(199,0,0)"/><path d="M444.17,876.85q3.37,-2.17 6.73,0l-3.37,3.26z" fill="rgb(199,0,0)"/><circle cx="447.5" cy="841.4" r="3.4" fill="rgb(7,116,34)"/>
<path d="M491,683.1V709.54" stroke="rgb(140,0,0)"/><path d="M488.19,708.57q2.79,-1.94 5.58,0l-2.79,2.91z" fill="rgb(140,0,0)"/><circle cx="491" cy="683.1" r="3.4" fill="rgb(34,202,55)"/>
<path d="M894.6,910.5V947.58" stroke="rgb(203,0,0)"/><path d="M891.23,946.48q3.4,-2.18 6.8,0l-3.4,3.28z" fill="rgb(203,0,0)"/><circle cx="894.6" cy="910.5" r="3.4" fill="rgb(83,55,2)"/>
<path d="M702.5,627.2V655.15" stroke="rgb(148,0,0)"/><path d="M699.67,654.16q2.88,-1.97 5.76,0l-2.88,2.96z" fill="rgb(148,0,0)"/><circle cx="702.5" cy="627.2" r="3.4" fill="rgb(156,202,34)"/>
<path d="M856.5,773.5V815.13" stroke="rgb(230,0,0)"/><path d="M852.8,813.99q3.66,-2.29 7.32,0l-3.66,3.43z" fill="rgb(230,0,0)"/><circle cx="856.5" cy="773.5" r="3.4" fill="rgb(156,116,7)"/>
<path d="M922.5,660.3V688.37" stroke="rgb(149,0,0)"/><path d="M919.62,687.39q2.88,-1.98 5.76,0l-2.88,2.96z" fill="rgb(149,0,0)"/><circle cx="922.5" cy="660.3" r="3.4" fill="rgb(255,156,2)"/>
<path d="M623.2,739.9V779.68" stroke="rgb(219,0,0)"/><path d="M619.63,778.56q3.56,-2.25 7.11,0l-3.56,3.37z" fill="rgb(219,0,0)"/><circle cx="623.2" cy="739.9" r="3.4" fill="rgb(83,156,34)"/>
<path d="M623.2,977.9V1003.22" stroke="rgb(133,0,0)"/><path d="M620.45,1002.27q2.73,-1.91 5.45,0l-2.73,2.87z" fill="rgb(133,0,0)"/><circle cx="623.2" cy="977.9" r="3.4" fill="rgb(18,34,7)"/>
<path d="M766,924V960.33" stroke="rgb(198,0,0)"/><path d="M762.6,959.24q3.36,-2.17 6.71,0l-3.36,3.25z" fill="rgb(198,0,0)"/><circle cx="766" cy="924" r="3.4" fill="rgb(55,55,7)"/>
<path d="M766,492V493.83" stroke="rgb(8,0,0)"/><circle cx="766" cy="492" r="3.4" fill="rgb(255,255,34)"/>
<path d="M940.7,752.8V790.46" stroke="rgb(206,0,0)"/><path d="M937.22,789.36q3.43,-2.2 6.87,0l-3.43,3.3z" fill="rgb(206,0,0)"/><circle cx="940.7" cy="752.8" r="3.4" fill="rgb(202,116,0)"/>
<path d="M832.4,582.1V600.66" stroke="rgb(95,0,0)"/><path d="M830.08,599.78q2.34,-1.76 4.67,0l-2.34,2.64z" fill="rgb(95,0,0)"/><circle cx="832.4" cy="582.1" r="3.4" fill="rgb(255,202,18)"/>
<path d="M481.7,837.9V876.51" stroke="rgb(212,0,0)"/><path d="M478.18,875.41q3.49,-2.22 6.97,0l-3.49,3.33z" fill="rgb(212,0,0)"/><circle cx="481.7" cy="837.9" r="3.4" fill="rgb(18,116,34)"/>
<path d="M527.6,674.4V702.85" stroke="rgb(151,0,0)"/><path d="M524.72,701.86q2.9,-1.98 5.81,0l-2.9,2.98z" fill="rgb(151,0,0)"/><circle cx="527.6" cy="674.4" r="3.4" fill="rgb(55,202,55)"/>
<path d="M414.8,950.4V979.02" stroke="rgb(152,0,0)"/><path d="M411.89,978.03q2.91,-1.99 5.82,0l-2.91,2.98z" fill="rgb(152,0,0)"/><circle cx="414.8" cy="950.4" r="3.4" fill="rgb(0,55,18)"/>
<path d="M414.8,610.1V612.77" stroke="rgb(12,0,0)"/><circle cx="414.8" cy="610.1" r="3.4" fill="rgb(0,255,83)"/>
<path d="M934.8,753.5V791.34" stroke="rgb(208,0,0)"/><path d="M931.37,790.24q3.44,-2.2 6.89,0l-3.44,3.3z" fill="rgb(208,0,0)"/><circle cx="934.8" cy="753.5" r="3.4" fill="rgb(202,116,2)"/>
<path d="M417.3,609.4V612.55" stroke="rgb(14,0,0)"/><circle cx="417.3" cy="609.4" r="3.4" fill="rgb(2,255,83)"/>
<path d="M645.1,538.2V548.46" stroke="rgb(51,0,0)"/><path d="M643.23,547.67q1.86,-1.57 3.72,0l-1.86,2.35z" fill="rgb(51,0,0)"/><circle cx="645.1" cy="538.2" r="3.4" fill="rgb(156,255,55)"/>
<path d="M426.3,950.2V979.31" stroke="rgb(155,0,0)"/><path d="M423.34,978.31q2.94,-2 5.89,0l-2.94,3z" fill="rgb(155,0,0)"/><circle cx="426.3" cy="950.2" r="3.4" fill="rgb(2,55,18)"/>
<path d="M426.3,606.9V611.37" stroke="rgb(21,0,0)"/><path d="M425.15,610.82q1.13,-1.11 2.27,0l-1.13,1.66z" fill="rgb(21,0,0)"/><circle cx="426.3" cy="606.9" r="3.4" fill="rgb(7,255,83)"/>
<path d="M757.6,793.6V837.19" stroke="rgb(243,0,0)"/><path d="M753.84,836.02q3.77,-2.33 7.55,0l-3.77,3.5z" fill="rgb(243,0,0)"/><circle cx="757.6" cy="793.6" r="3.4" fill="rgb(116,116,18)"/>
<path d="M958.4,999.6V1018.87" stroke="rgb(99,0,0)"/><path d="M956.04,1017.98q2.38,-1.77 4.76,0l-2.38,2.66z" fill="rgb(99,0,0)"/><circle cx="958.4" cy="999.6" r="3.4" fill="rgb(34,18,0)"/>
<path d="M958.4,832.5V872.69" stroke="rgb(222,0,0)"/><path d="M954.84,871.56q3.58,-2.26 7.16,0l-3.58,3.38z" fill="rgb(222,0,0)"/><circle cx="958.4" cy="832.5" r="3.4" fill="rgb(156,83,0)"/>
<path d="M659.9,879.1V920.49" stroke="rgb(229,0,0)"/><path d="M656.25,919.34q3.65,-2.28 7.3,0l-3.65,3.43z" fill="rgb(229,0,0)"/><circle cx="659.9" cy="879.1" r="3.4" fill="rgb(55,83,18)"/>
<path d="M907,962.6V991.73" stroke="rgb(155,0,0)"/><path d="M904.09,990.73q2.94,-2 5.88,0l-2.94,3z" fill="rgb(155,0,0)"/><circle cx="907" cy="962.6" r="3.4" fill="rgb(55,34,2)"/>
<path d="M907,662V690.55" stroke="rgb(152,0,0)"/><path d="M904.12,689.55q2.91,-1.99 5.82,0l-2.91,2.98z" fill="rgb(152,0,0)"/><circle cx="907" cy="662" r="3.4" fill="rgb(255,156,7)"/>
<path d="M856.1,851.1V893.27" stroke="rgb(234,0,0)"/><path d="M852.38,892.12q3.69,-2.3 7.39,0l-3.69,3.45z" fill="rgb(234,0,0)"/><circle cx="856.1" cy="851.1" r="3.4" fill="rgb(116,83,7)"/>
<path d="M442.3,602.5V608.67" stroke="rgb(31,0,0)"/><path d="M440.86,607.93q1.48,-1.47 2.96,0l-1.48,2.21z" fill="rgb(31,0,0)"/><circle cx="442.3" cy="602.5" r="3.4" fill="rgb(18,255,83)"/>
<path d="M827.9,686.7V721.49" stroke="rgb(189,0,0)"/><path d="M824.65,720.43q3.27,-2.13 6.53,0l-3.27,3.2z" fill="rgb(189,0,0)"/><circle cx="827.9" cy="686.7" r="3.4" fill="rgb(202,156,18)"/>
<path d="M752.8,607.9V632.64" stroke="rgb(130,0,0)"/><path d="M750.09,631.69q2.69,-1.9 5.39,0l-2.69,2.85z" fill="rgb(130,0,0)"/><circle cx="752.8" cy="607.9" r="3.4" fill="rgb(202,202,34)"/>
<path d="M528.4,832.4V873.27" stroke="rgb(226,0,0)"/><path d="M524.78,872.14q3.62,-2.27 7.23,0l-3.62,3.41z" fill="rgb(226,0,0)"/><circle cx="528.4" cy="832.4" r="3.4" fill="rgb(34,116,34)"/>
<path d="M570.2,663.2V692.91" stroke="rgb(159,0,0)"/><path d="M567.2,691.9q2.98,-2.01 5.96,0l-2.98,3.02z" fill="rgb(159,0,0)"/><circle cx="570.2" cy="663.2" r="3.4" fill="rgb(83,202,55)"/>
<path d="M950.4,833.5V873.89" stroke="rgb(223,0,0)"/><path d="M946.81,872.76q3.59,-2.26 7.18,0l-3.59,3.39z" fill="rgb(223,0,0)"/><circle cx="950.4" cy="833.5" r="3.4" fill="rgb(156,83,2)"/>
<path d="M678.6,726.7V766.74" stroke="rgb(221,0,0)"/><path d="M675.01,765.61q3.57,-2.25 7.13,0l-3.57,3.38z" fill="rgb(221,0,0)"/><circle cx="678.6" cy="726.7" r="3.4" fill="rgb(116,156,34)"/>
<path d="M465.4,949.1V979.79" stroke="rgb(164,0,0)"/><path d="M462.38,978.77q3.03,-2.04 6.06,0l-3.03,3.05z" fill="rgb(164,0,0)"/><circle cx="465.4" cy="949.1" r="3.4" fill="rgb(7,55,18)"/>
<path d="M465.4,595.7V604.17" stroke="rgb(42,0,0)"/><path d="M463.65,603.4q1.76,-1.53 3.52,0l-1.76,2.29z" fill="rgb(42,0,0)"/><circle cx="465.4" cy="595.7" r="3.4" fill="rgb(34,255,83)"/>
<path d="M689.8,518.2V525.25" stroke="rgb(35,0,0)"/><path d="M688.21,524.5q1.62,-1.49 3.23,0l-1.62,2.24z" fill="rgb(35,0,0)"/><circle cx="689.8" cy="518.2" r="3.4" fill="rgb(202,255,55)"/>
<path d="M408.2,781.1V811.8" stroke="rgb(165,0,0)"/><path d="M405.17,810.79q3.04,-2.04 6.07,0l-3.04,3.06z" fill="rgb(165,0,0)"/><circle cx="408.2" cy="781.1" r="3.4" fill="rgb(0,156,55)"/>
<path d="M412.3,780.5V811.74" stroke="rgb(168,0,0)"/><path d="M409.19,810.72q3.07,-2.05 6.13,0l-3.07,3.08z" fill="rgb(168,0,0)"/><circle cx="412.3" cy="780.5" r="3.4" fill="rgb(2,156,55)"/>
<path d="M982.2,899.6V936.74" stroke="rgb(203,0,0)"/><path d="M978.83,935.65q3.4,-2.18 6.8,0l-3.4,3.28z" fill="rgb(203,0,0)"/><circle cx="982.2" cy="899.6" r="3.4" fill="rgb(116,55,0)"/>
<path d="M914.5,755.8V794.24" stroke="rgb(211,0,0)"/><path d="M911.04,793.14q3.47,-2.21 6.95,0l-3.47,3.32z" fill="rgb(211,0,0)"/><circle cx="914.5" cy="755.8" r="3.4" fill="rgb(202,116,7)"/>
<path d="M494.9,586.5V596.93" stroke="rgb(52,0,0)"/><path d="M493,596.15q1.87,-1.57 3.75,0l-1.87,2.36z" fill="rgb(52,0,0)"/><circle cx="494.9" cy="586.5" r="3.4" fill="rgb(55,255,83)"/>
<path d="M426.5,778.2V811.04" stroke="rgb(177,0,0)"/><path d="M423.37,809.99q3.15,-2.09 6.31,0l-3.15,3.13z" fill="rgb(177,0,0)"/><circle cx="426.5" cy="778.2" r="3.4" fill="rgb(7,156,55)"/>
<path d="M992,732V764.21" stroke="rgb(173,0,0)"/><path d="M988.93,763.18q3.12,-2.07 6.24,0l-3.12,3.11z" fill="rgb(173,0,0)"/><circle cx="992" cy="732" r="3.4" fill="rgb(255,116,0)"/>
<path d="M616.8,649.1V679.09" stroke="rgb(160,0,0)"/><path d="M613.86,678.08q2.99,-2.02 5.98,0l-2.99,3.03z" fill="rgb(160,0,0)"/><circle cx="616.8" cy="649.1" r="3.4" fill="rgb(116,202,55)"/>
<path d="M584.5,824.6V867.47" stroke="rgb(238,0,0)"/><path d="M580.74,866.32q3.73,-2.32 7.46,0l-3.73,3.48z" fill="rgb(238,0,0)"/><circle cx="584.5" cy="824.6" r="3.4" fill="rgb(55,116,34)"/>
<path d="M451.7,774.1V808.99" stroke="rgb(190,0,0)"/><path d="M448.47,807.92q3.28,-2.13 6.55,0l-3.28,3.2z" fill="rgb(190,0,0)"/><circle cx="451.7" cy="774.1" r="3.4" fill="rgb(18,156,55)"/>
<path d="M970.6,901.1V938.42" stroke="rgb(204,0,0)"/><path d="M967.2,937.33q3.41,-2.19 6.82,0l-3.41,3.28z" fill="rgb(204,0,0)"/><circle cx="970.6" cy="901.1" r="3.4" fill="rgb(116,55,2)"/>
<path d="M802,585.2V604.55" stroke="rgb(99,0,0)"/><path d="M799.61,603.66q2.38,-1.77 4.76,0l-2.38,2.66z" fill="rgb(99,0,0)"/><circle cx="802" cy="585.2" r="3.4" fill="rgb(255,202,34)"/>
<path d="M986.5,732.5V764.96" stroke="rgb(175,0,0)"/><path d="M983.41,763.92q3.13,-2.08 6.26,0l-3.13,3.11z" fill="rgb(175,0,0)"/><circle cx="986.5" cy="732.5" r="3.4" fill="rgb(255,116,2)"/>
<path d="M820.5,778.4V820.71" stroke="rgb(235,0,0)"/><path d="M816.81,819.56q3.7,-2.3 7.4,0l-3.7,3.46z" fill="rgb(235,0,0)"/><circle cx="820.5" cy="778.4" r="3.4" fill="rgb(156,116,18)"/>
<path d="M529.8,946.8V979.62" stroke="rgb(177,0,0)"/><path d="M526.61,978.57q3.15,-2.08 6.31,0l-3.15,3.13z" fill="rgb(177,0,0)"/><circle cx="529.8" cy="946.8" r="3.4" fill="rgb(18,55,18)"/>
<path d="M529.8,574.6V586.38" stroke="rgb(59,0,0)"/><path d="M527.82,585.58q1.95,-1.6 3.9,0l-1.95,2.4z" fill="rgb(59,0,0)"/><circle cx="529.8" cy="574.6" r="3.4" fill="rgb(83,255,83)"/>
<path d="M852.9,916.9V954.49" stroke="rgb(206,0,0)"/><path d="M849.45,953.39q3.43,-2.2 6.86,0l-3.43,3.29z" fill="rgb(206,0,0)"/><circle cx="852.9" cy="916.9" r="3.4" fill="rgb(83,55,7)"/>
<path d="M734.9,870.1V912.79" stroke="rgb(237,0,0)"/><path d="M731.15,911.63q3.72,-2.31 7.44,0l-3.72,3.47z" fill="rgb(237,0,0)"/><circle cx="734.9" cy="870.1" r="3.4" fill="rgb(83,83,18)"/>
<path d="M734.9,710.6V749.27" stroke="rgb(213,0,0)"/><path d="M731.38,748.16q3.49,-2.22 6.99,0l-3.49,3.33z" fill="rgb(213,0,0)"/><circle cx="734.9" cy="710.6" r="3.4" fill="rgb(156,156,34)"/>
<path d="M734.9,1034.6V1042.58" stroke="rgb(40,0,0)"/><path d="M733.14,1041.83q1.73,-1.51 3.47,0l-1.73,2.27z" fill="rgb(40,0,0)"/><circle cx="734.9" cy="1034.6" r="3.4" fill="rgb(7,7,2)"/>
<path d="M734.9,976.7V1004.29" stroke="rgb(146,0,0)"/><path d="M732.01,1003.31q2.86,-1.97 5.71,0l-2.86,2.95z" fill="rgb(146,0,0)"/><circle cx="734.9" cy="976.7" r="3.4" fill="rgb(34,34,7)"/>
<path d="M734.9,495V497.31" stroke="rgb(10,0,0)"/><circle cx="734.9" cy="495" r="3.4" fill="rgb(255,255,55)"/>
<path d="M880.1,664.8V694.06" stroke="rgb(156,0,0)"/><path d="M877.12,693.06q2.95,-2 5.9,0l-2.95,3.01z" fill="rgb(156,0,0)"/><circle cx="880.1" cy="664.8" r="3.4" fill="rgb(255,156,18)"/>
<path d="M487.1,767.7V804.93" stroke="rgb(203,0,0)"/><path d="M483.72,803.84q3.41,-2.19 6.81,0l-3.41,3.28z" fill="rgb(203,0,0)"/><circle cx="487.1" cy="767.7" r="3.4" fill="rgb(34,156,55)"/>
<path d="M922.8,1005V1024.46" stroke="rgb(100,0,0)"/><path d="M920.39,1023.57q2.39,-1.78 4.78,0l-2.39,2.67z" fill="rgb(100,0,0)"/><circle cx="922.8" cy="1005" r="3.4" fill="rgb(34,18,2)"/>
<path d="M922.8,836.9V877.84" stroke="rgb(226,0,0)"/><path d="M919.16,876.71q3.62,-2.27 7.24,0l-3.62,3.41z" fill="rgb(226,0,0)"/><circle cx="922.8" cy="836.9" r="3.4" fill="rgb(156,83,7)"/>
<path d="M1015.6,955V985.17" stroke="rgb(162,0,0)"/><path d="M1012.59,984.15q3.01,-2.03 6.01,0l-3.01,3.04z" fill="rgb(162,0,0)"/><circle cx="1015.6" cy="955" r="3.4" fill="rgb(83,34,0)"/>
<path d="M1015.6,1030.7V1040.62" stroke="rgb(49,0,0)"/><path d="M1013.75,1039.84q1.84,-1.56 3.69,0l-1.84,2.34z" fill="rgb(49,0,0)"/><circle cx="1015.6" cy="1030.7" r="3.4" fill="rgb(18,7,0)"/>
<path d="M1015.6,815.5V852.55" stroke="rgb(202,0,0)"/><path d="M1012.2,851.45q3.39,-2.18 6.79,0l-3.39,3.27z" fill="rgb(202,0,0)"/><circle cx="1015.6" cy="815.5" r="3.4" fill="rgb(202,83,0)"/>
<path d="M665.9,632.2V660.82" stroke="rgb(152,0,0)"/><path d="M662.94,659.83q2.92,-1.99 5.83,0l-2.92,2.98z" fill="rgb(152,0,0)"/><circle cx="665.9" cy="632.2" r="3.4" fill="rgb(156,202,55)"/>
<path d="M568.9,560V571.94" stroke="rgb(60,0,0)"/><path d="M566.95,571.14q1.96,-1.61 3.92,0l-1.96,2.41z" fill="rgb(60,0,0)"/><circle cx="568.9" cy="560" r="3.4" fill="rgb(116,255,83)"/>
<path d="M646.1,814.2V858.39" stroke="rgb(246,0,0)"/><path d="M642.34,857.21q3.81,-2.35 7.61,0l-3.81,3.52z" fill="rgb(246,0,0)"/><circle cx="646.1" cy="814.2" r="3.4" fill="rgb(83,116,34)"/>
<path d="M1008.1,816.3V853.53" stroke="rgb(203,0,0)"/><path d="M1004.72,852.44q3.41,-2.19 6.81,0l-3.41,3.28z" fill="rgb(203,0,0)"/><circle cx="1008.1" cy="816.3" r="3.4" fill="rgb(202,83,2)"/>
<path d="M967.3,734.5V767.38" stroke="rgb(178,0,0)"/><path d="M964.13,766.34q3.16,-2.09 6.32,0l-3.16,3.13z" fill="rgb(178,0,0)"/><circle cx="967.3" cy="734.5" r="3.4" fill="rgb(255,116,7)"/>
<path d="M397.2,1022.2V1035.73" stroke="rgb(68,0,0)"/><path d="M395.15,1034.91q2.05,-1.64 4.1,0l-2.05,2.46z" fill="rgb(68,0,0)"/><circle cx="397.2" cy="1022.2" r="3.4" fill="rgb(0,18,7)"/>
<path d="M397.2,705.3V725.74" stroke="rgb(105,0,0)"/><path d="M394.76,724.84q2.45,-1.8 4.89,0l-2.45,2.7z" fill="rgb(105,0,0)"/><circle cx="397.2" cy="705.3" r="3.4" fill="rgb(0,202,83)"/>
<path d="M397.2,910.6V944.37" stroke="rgb(182,0,0)"/><path d="M394,943.32q3.21,-2.11 6.41,0l-3.21,3.16z" fill="rgb(182,0,0)"/><circle cx="397.2" cy="910.6" r="3.4" fill="rgb(0,83,34)"/>
<path d="M400.2,704.6V725.62" stroke="rgb(108,0,0)"/><path d="M397.76,724.71q2.48,-1.81 4.95,0l-2.48,2.72z" fill="rgb(108,0,0)"/><circle cx="400.2" cy="704.6" r="3.4" fill="rgb(2,202,83)"/>
<path d="M531,759V798.2" stroke="rgb(215,0,0)"/><path d="M527.43,797.09q3.52,-2.23 7.04,0l-3.52,3.35z" fill="rgb(215,0,0)"/><circle cx="531" cy="759" r="3.4" fill="rgb(55,156,55)"/>
<path d="M404.6,910.1V944.41" stroke="rgb(186,0,0)"/><path d="M401.34,943.35q3.24,-2.12 6.48,0l-3.24,3.18z" fill="rgb(186,0,0)"/><circle cx="404.6" cy="910.1" r="3.4" fill="rgb(2,83,34)"/>
<path d="M411,702.2V724.7" stroke="rgb(117,0,0)"/><path d="M408.44,723.78q2.56,-1.85 5.13,0l-2.56,2.77z" fill="rgb(117,0,0)"/><circle cx="411" cy="702.2" r="3.4" fill="rgb(7,202,83)"/>
<path d="M790.2,691.2V726.69" stroke="rgb(193,0,0)"/><path d="M786.85,725.61q3.31,-2.15 6.62,0l-3.31,3.22z" fill="rgb(193,0,0)"/><circle cx="790.2" cy="691.2" r="3.4" fill="rgb(202,156,34)"/>
<path d="M611,942.7V977.77" stroke="rgb(190,0,0)"/><path d="M607.76,976.7q3.28,-2.14 6.56,0l-3.28,3.2z" fill="rgb(190,0,0)"/><circle cx="611" cy="942.7" r="3.4" fill="rgb(34,55,18)"/>
<path d="M611,542.4V553.06" stroke="rgb(53,0,0)"/><path d="M609.15,552.27q1.89,-1.58 3.77,0l-1.89,2.36z" fill="rgb(53,0,0)"/><circle cx="611" cy="542.4" r="3.4" fill="rgb(156,255,83)"/>
<path d="M879.7,759.8V798.93" stroke="rgb(215,0,0)"/><path d="M876.16,797.81q3.52,-2.23 7.03,0l-3.52,3.35z" fill="rgb(215,0,0)"/><circle cx="879.7" cy="759.8" r="3.4" fill="rgb(202,116,18)"/>
<path d="M997.6,957.3V987.65" stroke="rgb(163,0,0)"/><path d="M994.57,986.64q3.02,-2.03 6.03,0l-3.02,3.04z" fill="rgb(163,0,0)"/><circle cx="997.6" cy="957.3" r="3.4" fill="rgb(83,34,2)"/>
<path d="M430.2,908.2V944.05" stroke="rgb(195,0,0)"/><path d="M426.91,942.97q3.33,-2.15 6.65,0l-3.33,3.23z" fill="rgb(195,0,0)"/><circle cx="430.2" cy="908.2" r="3.4" fill="rgb(7,83,34)"/>
<path d="M430.2,697.7V722.3" stroke="rgb(129,0,0)"/><path d="M427.55,721.35q2.69,-1.9 5.37,0l-2.69,2.85z" fill="rgb(129,0,0)"/><circle cx="430.2" cy="697.7" r="3.4" fill="rgb(18,202,83)"/>
<path d="M430.2,1022.6V1036.71" stroke="rgb(71,0,0)"/><path d="M428.15,1035.89q2.08,-1.65 4.16,0l-2.08,2.48z" fill="rgb(71,0,0)"/><circle cx="430.2" cy="1022.6" r="3.4" fill="rgb(2,18,7)"/>
<path d="M715.6,612.1V637.53" stroke="rgb(134,0,0)"/><path d="M712.88,636.57q2.73,-1.92 5.47,0l-2.73,2.87z" fill="rgb(134,0,0)"/><circle cx="715.6" cy="612.1" r="3.4" fill="rgb(202,202,55)"/>
<path d="M1046.2,886.5V922.33" stroke="rgb(195,0,0)"/><path d="M1042.86,921.25q3.33,-2.15 6.65,0l-3.33,3.23z" fill="rgb(195,0,0)"/><circle cx="1046.2" cy="886.5" r="3.4" fill="rgb(156,55,0)"/>
<path d="M808.1,858V900.9" stroke="rgb(239,0,0)"/><path d="M804.37,899.74q3.73,-2.32 7.47,0l-3.73,3.48z" fill="rgb(239,0,0)"/><circle cx="808.1" cy="858" r="3.4" fill="rgb(116,83,18)"/>
<path d="M457.6,690.8V717.75" stroke="rgb(142,0,0)"/><path d="M454.83,716.77q2.82,-1.95 5.63,0l-2.82,2.92z" fill="rgb(142,0,0)"/><circle cx="457.6" cy="690.8" r="3.4" fill="rgb(34,202,83)"/>
<path d="M581,747.7V788.17" stroke="rgb(223,0,0)"/><path d="M577.36,787.04q3.59,-2.26 7.19,0l-3.59,3.39z" fill="rgb(223,0,0)"/><circle cx="581" cy="747.7" r="3.4" fill="rgb(83,156,55)"/>
<path d="M709.9,800.9V845.32" stroke="rgb(248,0,0)"/><path d="M706.09,844.14q3.82,-2.35 7.63,0l-3.82,3.53z" fill="rgb(248,0,0)"/><circle cx="709.9" cy="800.9" r="3.4" fill="rgb(116,116,34)"/>
<path d="M474.1,904.6V942.55" stroke="rgb(208,0,0)"/><path d="M470.7,941.45q3.45,-2.2 6.9,0l-3.45,3.3z" fill="rgb(208,0,0)"/><circle cx="474.1" cy="904.6" r="3.4" fill="rgb(18,83,34)"/>
<path d="M654.9,521.7V529.2" stroke="rgb(37,0,0)"/><path d="M653.23,528.45q1.69,-1.5 3.38,0l-1.69,2.25z" fill="rgb(37,0,0)"/><circle cx="654.9" cy="521.7" r="3.4" fill="rgb(202,255,83)"/>
<path d="M931.3,906.1V943.95" stroke="rgb(207,0,0)"/><path d="M927.9,942.85q3.44,-2.2 6.88,0l-3.44,3.3z" fill="rgb(207,0,0)"/><circle cx="931.3" cy="906.1" r="3.4" fill="rgb(116,55,7)"/>
<path d="M1035.6,887.7V923.67" stroke="rgb(196,0,0)"/><path d="M1032.27,922.59q3.34,-2.16 6.68,0l-3.34,3.24z" fill="rgb(196,0,0)"/><circle cx="1035.6" cy="887.7" r="3.4" fill="rgb(156,55,2)"/>
<path d="M982.3,819V856.77" stroke="rgb(207,0,0)"/><path d="M978.84,855.67q3.44,-2.2 6.87,0l-3.44,3.3z" fill="rgb(207,0,0)"/><circle cx="982.3" cy="819" r="3.4" fill="rgb(202,83,7)"/>
<path d="M1065.1,794.6V826.11" stroke="rgb(169,0,0)"/><path d="M1062.02,825.08q3.08,-2.06 6.16,0l-3.08,3.08z" fill="rgb(169,0,0)"/><circle cx="1065.1" cy="794.6" r="3.4" fill="rgb(255,83,0)"/>
<path d="M1065.1,999.7V1020.95" stroke="rgb(110,0,0)"/><path d="M1062.61,1020.04q2.49,-1.82 4.99,0l-2.49,2.73z" fill="rgb(110,0,0)"/><circle cx="1065.1" cy="999.7" r="3.4" fill="rgb(55,18,0)"/>
<path d="M492.3,681.6V710.44" stroke="rgb(154,0,0)"/><path d="M489.38,709.45q2.93,-1.99 5.86,0l-2.93,2.99z" fill="rgb(154,0,0)"/><circle cx="492.3" cy="681.6" r="3.4" fill="rgb(55,202,83)"/>
<path d="M843,972.5V1002.13" stroke="rgb(158,0,0)"/><path d="M840.07,1001.12q2.97,-2.01 5.94,0l-2.97,3.02z" fill="rgb(158,0,0)"/><circle cx="843" cy="972.5" r="3.4" fill="rgb(55,34,7)"/>
<path d="M843,668.4V698.44" stroke="rgb(161,0,0)"/><path d="M840.04,697.43q3,-2.02 5.99,0l-3,3.03z" fill="rgb(161,0,0)"/><circle cx="843" cy="668.4" r="3.4" fill="rgb(255,156,34)"/>
<path d="M388.4,616.6V619.37" stroke="rgb(12,0,0)"/><circle cx="388.4" cy="616.6" r="3.4" fill="rgb(0,255,116)"/>
<path d="M764.8,588.7V608.69" stroke="rgb(103,0,0)"/><path d="M762.38,607.8q2.42,-1.79 4.84,0l-2.42,2.69z" fill="rgb(103,0,0)"/><circle cx="764.8" cy="588.7" r="3.4" fill="rgb(255,202,55)"/>
<path d="M390.8,615.9V619.12" stroke="rgb(15,0,0)"/><path d="M389.89,618.71q0.89,-0.81 1.79,0l-0.89,1.21z" fill="rgb(15,0,0)"/><circle cx="390.8" cy="615.9" r="3.4" fill="rgb(2,255,116)"/>
<path d="M399.2,613.3V617.8" stroke="rgb(22,0,0)"/><path d="M398.02,617.24q1.15,-1.12 2.29,0l-1.15,1.68z" fill="rgb(22,0,0)"/><circle cx="399.2" cy="613.3" r="3.4" fill="rgb(7,255,116)"/>
<path d="M1058.2,795.2V826.93" stroke="rgb(170,0,0)"/><path d="M1055.14,825.9q3.09,-2.06 6.18,0l-3.09,3.09z" fill="rgb(170,0,0)"/><circle cx="1058.2" cy="795.2" r="3.4" fill="rgb(255,83,2)"/>
<path d="M634.8,733.5V774.22" stroke="rgb(225,0,0)"/><path d="M631.15,773.09q3.61,-2.27 7.21,0l-3.61,3.4z" fill="rgb(225,0,0)"/><circle cx="634.8" cy="733.5" r="3.4" fill="rgb(116,156,55)"/>
<path d="M934,737.6V771.29" stroke="rgb(182,0,0)"/><path d="M930.82,770.24q3.2,-2.1 6.4,0l-3.2,3.16z" fill="rgb(182,0,0)"/><circle cx="934" cy="737.6" r="3.4" fill="rgb(255,116,18)"/>
<path d="M414.2,608.6V614.87" stroke="rgb(31,0,0)"/><path d="M412.72,614.13q1.49,-1.47 2.98,0l-1.49,2.21z" fill="rgb(31,0,0)"/><circle cx="414.2" cy="608.6" r="3.4" fill="rgb(18,255,116)"/>
<path d="M699.4,497.8V500.55" stroke="rgb(12,0,0)"/><circle cx="699.4" cy="497.8" r="3.4" fill="rgb(255,255,83)"/>
<path d="M699.4,936.2V973.23" stroke="rgb(202,0,0)"/><path d="M696.04,972.14q3.4,-2.18 6.79,0l-3.4,3.27z" fill="rgb(202,0,0)"/><circle cx="699.4" cy="936.2" r="3.4" fill="rgb(55,55,18)"/>
<path d="M532.9,1023.6V1039.18" stroke="rgb(79,0,0)"/><path d="M530.72,1038.34q2.17,-1.69 4.34,0l-2.17,2.53z" fill="rgb(79,0,0)"/><circle cx="532.9" cy="1023.6" r="3.4" fill="rgb(7,18,7)"/>
<path d="M532.9,669.6V699.79" stroke="rgb(161,0,0)"/><path d="M529.88,698.78q3,-2.02 6.01,0l-3,3.04z" fill="rgb(161,0,0)"/><circle cx="532.9" cy="669.6" r="3.4" fill="rgb(83,202,83)"/>
<path d="M532.9,899V939.15" stroke="rgb(222,0,0)"/><path d="M529.31,938.02q3.58,-2.26 7.15,0l-3.58,3.38z" fill="rgb(222,0,0)"/><circle cx="532.9" cy="899" r="3.4" fill="rgb(34,83,34)"/>
<path d="M435.9,601.5V610.02" stroke="rgb(42,0,0)"/><path d="M434.14,609.25q1.76,-1.53 3.53,0l-1.76,2.29z" fill="rgb(42,0,0)"/><circle cx="435.9" cy="601.5" r="3.4" fill="rgb(34,255,116)"/>
<path d="M1087.2,945.7V976.09" stroke="rgb(163,0,0)"/><path d="M1084.14,975.08q3.02,-2.03 6.03,0l-3.02,3.05z" fill="rgb(163,0,0)"/><circle cx="1087.2" cy="945.7" r="3.4" fill="rgb(116,34,0)"/>
<path d="M384.7,857.5V892.62" stroke="rgb(191,0,0)"/><path d="M381.42,891.55q3.29,-2.14 6.57,0l-3.29,3.21z" fill="rgb(191,0,0)"/><circle cx="384.7" cy="857.5" r="3.4" fill="rgb(0,116,55)"/>
<path d="M772.9,784.5V827.63" stroke="rgb(240,0,0)"/><path d="M769.11,826.47q3.74,-2.32 7.49,0l-3.74,3.48z" fill="rgb(240,0,0)"/><circle cx="772.9" cy="784.5" r="3.4" fill="rgb(156,116,34)"/>
<path d="M876.5,842.5V884.15" stroke="rgb(231,0,0)"/><path d="M872.84,883.01q3.66,-2.29 7.32,0l-3.66,3.43z" fill="rgb(231,0,0)"/><circle cx="876.5" cy="842.5" r="3.4" fill="rgb(156,83,18)"/>
<path d="M389.8,856.9V892.54" stroke="rgb(194,0,0)"/><path d="M386.47,891.46q3.32,-2.15 6.63,0l-3.32,3.23z" fill="rgb(194,0,0)"/><circle cx="389.8" cy="856.9" r="3.4" fill="rgb(2,116,55)"/>
<path d="M407.7,854.6V891.78" stroke="rgb(203,0,0)"/><path d="M404.27,890.69q3.4,-2.19 6.81,0l-3.4,3.28z" fill="rgb(203,0,0)"/><circle cx="407.7" cy="854.6" r="3.4" fill="rgb(7,116,55)"/>
<path d="M463.7,591.8V602.34" stroke="rgb(52,0,0)"/><path d="M461.87,601.55q1.88,-1.57 3.76,0l-1.88,2.36z" fill="rgb(52,0,0)"/><circle cx="463.7" cy="591.8" r="3.4" fill="rgb(55,255,116)"/>
<path d="M577.8,654.8V685.21" stroke="rgb(163,0,0)"/><path d="M574.77,684.2q3.02,-2.03 6.03,0l-3.02,3.04z" fill="rgb(163,0,0)"/><circle cx="577.8" cy="654.8" r="3.4" fill="rgb(116,202,83)"/>
<path d="M690.1,716.4V755.76" stroke="rgb(217,0,0)"/><path d="M686.56,754.64q3.53,-2.24 7.06,0l-3.53,3.36z" fill="rgb(217,0,0)"/><circle cx="690.1" cy="716.4" r="3.4" fill="rgb(156,156,55)"/>
<path d="M1099.6,869.2V901.8" stroke="rgb(176,0,0)"/><path d="M1096.43,900.76q3.14,-2.08 6.29,0l-3.14,3.12z" fill="rgb(176,0,0)"/><circle cx="1099.6" cy="869.2" r="3.4" fill="rgb(202,55,0)"/>
<path d="M439,850.3V889.62" stroke="rgb(216,0,0)"/><path d="M435.47,888.51q3.53,-2.23 7.05,0l-3.53,3.35z" fill="rgb(216,0,0)"/><circle cx="439" cy="850.3" r="3.4" fill="rgb(18,116,55)"/>
<path d="M1034.3,1003.4V1024.87" stroke="rgb(111,0,0)"/><path d="M1031.82,1023.96q2.5,-1.82 5.01,0l-2.5,2.74z" fill="rgb(111,0,0)"/><circle cx="1034.3" cy="1003.4" r="3.4" fill="rgb(55,18,2)"/>
<path d="M1034.3,797.3V829.58" stroke="rgb(174,0,0)"/><path d="M1031.2,828.55q3.12,-2.07 6.24,0l-3.12,3.11z" fill="rgb(174,0,0)"/><circle cx="1034.3" cy="797.3" r="3.4" fill="rgb(255,83,7)"/>
<path d="M601.4,890.9V933.09" stroke="rgb(234,0,0)"/><path d="M597.66,931.94q3.69,-2.3 7.38,0l-3.69,3.45z" fill="rgb(234,0,0)"/><circle cx="601.4" cy="890.9" r="3.4" fill="rgb(55,83,34)"/>
<path d="M496.9,579.4V591.27" stroke="rgb(59,0,0)"/><path d="M494.97,590.47q1.95,-1.6 3.91,0l-1.95,2.4z" fill="rgb(59,0,0)"/><circle cx="496.9" cy="579.4" r="3.4" fill="rgb(83,255,116)"/>
<path d="M1071.3,947.4V977.99" stroke="rgb(164,0,0)"/><path d="M1068.24,976.97q3.03,-2.03 6.06,0l-3.03,3.05z" fill="rgb(164,0,0)"/><circle cx="1071.3" cy="947.4" r="3.4" fill="rgb(116,34,2)"/>
<path d="M999.5,891.6V928.09" stroke="rgb(199,0,0)"/><path d="M996.11,927q3.37,-2.17 6.73,0l-3.37,3.26z" fill="rgb(199,0,0)"/><circle cx="999.5" cy="891.6" r="3.4" fill="rgb(156,55,7)"/>
<path d="M1090.1,870.1V902.88" stroke="rgb(177,0,0)"/><path d="M1086.9,901.84q3.15,-2.09 6.31,0l-3.15,3.13z" fill="rgb(177,0,0)"/><circle cx="1090.1" cy="870.1" r="3.4" fill="rgb(202,55,2)"/>
<path d="M625.4,637.1V666.16" stroke="rgb(155,0,0)"/><path d="M622.46,665.16q2.94,-2 5.88,0l-2.94,3z" fill="rgb(155,0,0)"/><circle cx="625.4" cy="637.1" r="3.4" fill="rgb(156,202,83)"/>
<path d="M482.3,843.8V885.4" stroke="rgb(230,0,0)"/><path d="M478.67,884.25q3.66,-2.29 7.31,0l-3.66,3.43z" fill="rgb(230,0,0)"/><circle cx="482.3" cy="843.8" r="3.4" fill="rgb(34,116,55)"/>
<path d="M534.4,564.2V576.26" stroke="rgb(60,0,0)"/><path d="M532.43,575.46q1.96,-1.61 3.93,0l-1.96,2.41z" fill="rgb(60,0,0)"/><circle cx="534.4" cy="564.2" r="3.4" fill="rgb(116,255,116)"/>
<path d="M832.9,764.9V804.74" stroke="rgb(220,0,0)"/><path d="M829.38,803.62q3.56,-2.25 7.12,0l-3.56,3.37z" fill="rgb(220,0,0)"/><circle cx="832.9" cy="764.9" r="3.4" fill="rgb(202,116,34)"/>
<path d="M786.8,926.7V965.07" stroke="rgb(210,0,0)"/><path d="M783.32,963.97q3.47,-2.21 6.94,0l-3.47,3.32z" fill="rgb(210,0,0)"/><circle cx="786.8" cy="926.7" r="3.4" fill="rgb(83,55,18)"/>
<path d="M745.1,696V732.22" stroke="rgb(197,0,0)"/><path d="M741.77,731.14q3.35,-2.16 6.7,0l-3.35,3.24z" fill="rgb(197,0,0)"/><circle cx="745.1" cy="696" r="3.4" fill="rgb(202,156,55)"/>
<path d="M938.4,1041.4V1051.54" stroke="rgb(50,0,0)"/><path d="M936.59,1050.76q1.85,-1.56 3.71,0l-1.85,2.34z" fill="rgb(50,0,0)"/><circle cx="938.4" cy="1041.4" r="3.4" fill="rgb(18,7,2)"/>
<path d="M938.4,964.7V995.64" stroke="rgb(166,0,0)"/><path d="M935.4,994.62q3.05,-2.04 6.09,0l-3.05,3.06z" fill="rgb(166,0,0)"/><circle cx="938.4" cy="964.7" r="3.4" fill="rgb(83,34,7)"/>
<path d="M938.4,823.5V861.96" stroke="rgb(211,0,0)"/><path d="M934.96,860.86q3.48,-2.21 6.95,0l-3.48,3.32z" fill="rgb(211,0,0)"/><circle cx="938.4" cy="823.5" r="3.4" fill="rgb(202,83,18)"/>
<path d="M375.4,1004.1V1025.99" stroke="rgb(113,0,0)"/><path d="M372.91,1025.08q2.53,-1.83 5.06,0l-2.53,2.75z" fill="rgb(113,0,0)"/><circle cx="375.4" cy="1004.1" r="3.4" fill="rgb(0,34,18)"/>
<path d="M375.4,791.6V822.75" stroke="rgb(167,0,0)"/><path d="M372.38,821.73q3.06,-2.05 6.12,0l-3.06,3.07z" fill="rgb(167,0,0)"/><circle cx="375.4" cy="791.6" r="3.4" fill="rgb(0,156,83)"/>
<path d="M575,546V556.77" stroke="rgb(53,0,0)"/><path d="M573.14,555.98q1.89,-1.58 3.78,0l-1.89,2.37z" fill="rgb(53,0,0)"/><circle cx="575" cy="546" r="3.4" fill="rgb(156,255,116)"/>
<path d="M379.1,790.9V822.62" stroke="rgb(170,0,0)"/><path d="M376.05,821.59q3.09,-2.06 6.18,0l-3.09,3.09z" fill="rgb(170,0,0)"/><circle cx="379.1" cy="790.9" r="3.4" fill="rgb(2,156,83)"/>
<path d="M674.2,1023.5V1041.27" stroke="rgb(90,0,0)"/><path d="M671.94,1040.4q2.29,-1.74 4.58,0l-2.29,2.61z" fill="rgb(90,0,0)"/><circle cx="674.2" cy="1023.5" r="3.4" fill="rgb(18,18,7)"/>
<path d="M674.2,880.1V923.63" stroke="rgb(242,0,0)"/><path d="M670.47,922.46q3.77,-2.33 7.53,0l-3.77,3.5z" fill="rgb(242,0,0)"/><circle cx="674.2" cy="880.1" r="3.4" fill="rgb(83,83,34)"/>
<path d="M674.2,616.2V642.09" stroke="rgb(136,0,0)"/><path d="M671.48,641.13q2.76,-1.93 5.52,0l-2.76,2.89z" fill="rgb(136,0,0)"/><circle cx="674.2" cy="616.2" r="3.4" fill="rgb(202,202,83)"/>
<path d="M535,834.9V878.43" stroke="rgb(242,0,0)"/><path d="M531.25,877.27q3.77,-2.33 7.54,0l-3.77,3.5z" fill="rgb(242,0,0)"/><circle cx="535" cy="834.9" r="3.4" fill="rgb(55,116,55)"/>
<path d="M392.2,1003.8V1026.2" stroke="rgb(117,0,0)"/><path d="M389.66,1025.28q2.56,-1.85 5.12,0l-2.56,2.77z" fill="rgb(117,0,0)"/><circle cx="392.2" cy="1003.8" r="3.4" fill="rgb(2,34,18)"/>
<path d="M392.2,788.4V821.65" stroke="rgb(180,0,0)"/><path d="M389.04,820.6q3.18,-2.1 6.36,0l-3.18,3.14z" fill="rgb(180,0,0)"/><circle cx="392.2" cy="788.4" r="3.4" fill="rgb(7,156,83)"/>
<path d="M415.4,783.8V819.15" stroke="rgb(192,0,0)"/><path d="M412.13,818.07q3.3,-2.14 6.6,0l-3.3,3.22z" fill="rgb(192,0,0)"/><circle cx="415.4" cy="783.8" r="3.4" fill="rgb(18,156,83)"/>
<path d="M1143.7,1058.3V1061.53" stroke="rgb(15,0,0)"/><path d="M1142.81,1061.12q0.9,-0.81 1.8,0l-0.9,1.21z" fill="rgb(15,0,0)"/><circle cx="1143.7" cy="1058.3" r="3.4" fill="rgb(7,2,0)"/>
<path d="M1143.7,1035.7V1047.87" stroke="rgb(61,0,0)"/><path d="M1141.73,1047.07q1.97,-1.61 3.95,0l-1.97,2.42z" fill="rgb(61,0,0)"/><circle cx="1143.7" cy="1035.7" r="3.4" fill="rgb(34,7,0)"/>
<path d="M1143.7,994.1V1016.67" stroke="rgb(117,0,0)"/><path d="M1141.14,1015.74q2.57,-1.85 5.14,0l-2.57,2.77z" fill="rgb(117,0,0)"/><circle cx="1143.7" cy="994.1" r="3.4" fill="rgb(83,18,0)"/>
<path d="M1143.7,847.7V874.83" stroke="rgb(144,0,0)"/><path d="M1140.88,873.85q2.83,-1.95 5.66,0l-2.83,2.93z" fill="rgb(144,0,0)"/><circle cx="1143.7" cy="847.7" r="3.4" fill="rgb(255,55,0)"/>
<path d="M1143.7,931.8V960.94" stroke="rgb(155,0,0)"/><path d="M1140.76,959.94q2.94,-2 5.89,0l-2.94,3z" fill="rgb(155,0,0)"/><circle cx="1143.7" cy="931.8" r="3.4" fill="rgb(156,34,0)"/>
<path d="M798.4,672.4V703.09" stroke="rgb(165,0,0)"/><path d="M795.35,702.08q3.04,-2.04 6.07,0l-3.04,3.06z" fill="rgb(165,0,0)"/><circle cx="798.4" cy="672.4" r="3.4" fill="rgb(255,156,55)"/>
<path d="M617.7,524.7V532.3" stroke="rgb(38,0,0)"/><path d="M616,531.54q1.7,-1.5 3.4,0l-1.7,2.26z" fill="rgb(38,0,0)"/><circle cx="617.7" cy="524.7" r="3.4" fill="rgb(202,255,116)"/>
<path d="M888.9,741.7V776.14" stroke="rgb(187,0,0)"/><path d="M885.63,775.07q3.25,-2.12 6.49,0l-3.25,3.18z" fill="rgb(187,0,0)"/><circle cx="888.9" cy="741.7" r="3.4" fill="rgb(255,116,34)"/>
<path d="M448.2,1002.4V1026.36" stroke="rgb(125,0,0)"/><path d="M445.59,1025.42q2.65,-1.88 5.29,0l-2.65,2.82z" fill="rgb(125,0,0)"/><circle cx="448.2" cy="1002.4" r="3.4" fill="rgb(7,34,18)"/>
<path d="M448.2,776.8V814.45" stroke="rgb(206,0,0)"/><path d="M444.81,813.35q3.43,-2.2 6.86,0l-3.43,3.29z" fill="rgb(206,0,0)"/><circle cx="448.2" cy="776.8" r="3.4" fill="rgb(34,156,83)"/>
<path d="M723,592.1V612.5" stroke="rgb(105,0,0)"/><path d="M720.55,611.6q2.45,-1.8 4.89,0l-2.45,2.7z" fill="rgb(105,0,0)"/><circle cx="723" cy="592.1" r="3.4" fill="rgb(255,202,83)"/>
<path d="M1057.3,873.1V906.42" stroke="rgb(180,0,0)"/><path d="M1054.13,905.37q3.18,-2.1 6.37,0l-3.18,3.15z" fill="rgb(180,0,0)"/><circle cx="1057.3" cy="873.1" r="3.4" fill="rgb(202,55,7)"/>
<path d="M593.9,823.2V868.09" stroke="rgb(251,0,0)"/><path d="M590.06,866.91q3.84,-2.36 7.69,0l-3.84,3.54z" fill="rgb(251,0,0)"/><circle cx="593.9" cy="823.2" r="3.4" fill="rgb(83,116,55)"/>
<path d="M1135.2,848.4V875.7" stroke="rgb(145,0,0)"/><path d="M1132.37,874.72q2.84,-1.96 5.68,0l-2.84,2.94z" fill="rgb(145,0,0)"/><circle cx="1135.2" cy="848.4" r="3.4" fill="rgb(255,55,2)"/>
<path d="M867.8,914V952.55" stroke="rgb(212,0,0)"/><path d="M864.35,951.44q3.48,-2.22 6.97,0l-3.48,3.33z" fill="rgb(212,0,0)"/><circle cx="867.8" cy="914" r="3.4" fill="rgb(116,55,18)"/>
<path d="M993.4,800.9V833.84" stroke="rgb(178,0,0)"/><path d="M990.22,832.8q3.16,-2.09 6.33,0l-3.16,3.13z" fill="rgb(178,0,0)"/><circle cx="993.4" cy="800.9" r="3.4" fill="rgb(255,83,18)"/>
<path d="M747,866.4V910.08" stroke="rgb(243,0,0)"/><path d="M743.24,908.91q3.78,-2.34 7.56,0l-3.78,3.5z" fill="rgb(243,0,0)"/><circle cx="747" cy="866.4" r="3.4" fill="rgb(116,83,34)"/>
<path d="M1129.9,933.1V962.41" stroke="rgb(156,0,0)"/><path d="M1126.95,961.4q2.95,-2 5.91,0l-2.95,3.01z" fill="rgb(156,0,0)"/><circle cx="1129.9" cy="933.1" r="3.4" fill="rgb(156,34,2)"/>
<path d="M661.3,500.2V503.02" stroke="rgb(12,0,0)"/><circle cx="661.3" cy="500.2" r="3.4" fill="rgb(255,255,116)"/>
<path d="M489.2,767.3V806.95" stroke="rgb(218,0,0)"/><path d="M485.7,805.82q3.54,-2.24 7.09,0l-3.54,3.36z" fill="rgb(218,0,0)"/><circle cx="489.2" cy="767.3" r="3.4" fill="rgb(55,156,83)"/>
<path d="M368.3,713V733.5" stroke="rgb(106,0,0)"/><path d="M365.89,732.6q2.45,-1.8 4.9,0l-2.45,2.7z" fill="rgb(106,0,0)"/><circle cx="368.3" cy="713" r="3.4" fill="rgb(0,202,116)"/>
<path d="M371.1,712.3V733.33" stroke="rgb(109,0,0)"/><path d="M368.66,732.43q2.48,-1.81 4.96,0l-2.48,2.72z" fill="rgb(109,0,0)"/><circle cx="371.1" cy="712.3" r="3.4" fill="rgb(2,202,116)"/>
<path d="M381.1,709.7V732.25" stroke="rgb(117,0,0)"/><path d="M378.49,731.33q2.57,-1.85 5.14,0l-2.57,2.77z" fill="rgb(117,0,0)"/><circle cx="381.1" cy="709.7" r="3.4" fill="rgb(7,202,116)"/>
<path d="M398.8,704.8V729.54" stroke="rgb(129,0,0)"/><path d="M396.15,728.6q2.69,-1.9 5.38,0l-2.69,2.85z" fill="rgb(129,0,0)"/><circle cx="398.8" cy="704.8" r="3.4" fill="rgb(18,202,116)"/>
<path d="M655.8,808.7V853.76" stroke="rgb(252,0,0)"/><path d="M651.93,852.58q3.86,-2.37 7.71,0l-3.86,3.55z" fill="rgb(252,0,0)"/><circle cx="655.8" cy="808.7" r="3.4" fill="rgb(116,116,55)"/>
<path d="M1118,996.7V1019.47" stroke="rgb(119,0,0)"/><path d="M1115.44,1018.54q2.58,-1.85 5.16,0l-2.58,2.78z" fill="rgb(119,0,0)"/><circle cx="1118" cy="996.7" r="3.4" fill="rgb(83,18,2)"/>
<path d="M536.6,999.5V1025.56" stroke="rgb(137,0,0)"/><path d="M533.8,1024.6q2.77,-1.93 5.54,0l-2.77,2.9z" fill="rgb(137,0,0)"/><circle cx="536.6" cy="999.5" r="3.4" fill="rgb(18,34,18)"/>
<path d="M536.6,755.1V796.04" stroke="rgb(226,0,0)"/><path d="M532.95,794.9q3.62,-2.27 7.24,0l-3.62,3.41z" fill="rgb(226,0,0)"/><circle cx="536.6" cy="755.1" r="3.4" fill="rgb(83,156,83)"/>
<path d="M1018.3,953V984.15" stroke="rgb(167,0,0)"/><path d="M1015.2,983.13q3.06,-2.05 6.12,0l-3.06,3.07z" fill="rgb(167,0,0)"/><circle cx="1018.3" cy="953" r="3.4" fill="rgb(116,34,7)"/>
<path d="M424.3,697.6V724.57" stroke="rgb(143,0,0)"/><path d="M421.49,723.59q2.82,-1.95 5.64,0l-2.82,2.93z" fill="rgb(143,0,0)"/><circle cx="424.3" cy="697.6" r="3.4" fill="rgb(34,202,116)"/>
<path d="M456.7,687.8V716.73" stroke="rgb(154,0,0)"/><path d="M453.8,715.73q2.93,-2 5.87,0l-2.93,2.99z" fill="rgb(154,0,0)"/><circle cx="456.7" cy="687.8" r="3.4" fill="rgb(55,202,116)"/>
<path d="M816.5,1020.9V1040.95" stroke="rgb(103,0,0)"/><path d="M814.05,1040.05q2.42,-1.79 4.84,0l-2.42,2.69z" fill="rgb(103,0,0)"/><circle cx="816.5" cy="1020.9" r="3.4" fill="rgb(34,18,7)"/>
<path d="M816.5,849.4V891.82" stroke="rgb(235,0,0)"/><path d="M812.76,890.67q3.7,-2.31 7.41,0l-3.7,3.46z" fill="rgb(235,0,0)"/><circle cx="816.5" cy="849.4" r="3.4" fill="rgb(156,83,34)"/>
<path d="M588.1,740V781.16" stroke="rgb(227,0,0)"/><path d="M584.47,780.03q3.63,-2.28 7.26,0l-3.63,3.42z" fill="rgb(227,0,0)"/><circle cx="588.1" cy="740" r="3.4" fill="rgb(116,156,83)"/>
<path d="M1105.8,850.7V878.56" stroke="rgb(148,0,0)"/><path d="M1102.94,877.57q2.87,-1.97 5.74,0l-2.87,2.96z" fill="rgb(148,0,0)"/><circle cx="1105.8" cy="850.7" r="3.4" fill="rgb(255,55,7)"/>
<path d="M1188.1,913.6V939.52" stroke="rgb(137,0,0)"/><path d="M1185.37,938.55q2.76,-1.93 5.52,0l-2.76,2.89z" fill="rgb(137,0,0)"/><circle cx="1188.1" cy="913.6" r="3.4" fill="rgb(202,34,0)"/>
<path d="M362.7,971.7V1001.09" stroke="rgb(156,0,0)"/><path d="M359.78,1000.09q2.96,-2.01 5.91,0l-2.96,3.01z" fill="rgb(156,0,0)"/><circle cx="362.7" cy="971.7" r="3.4" fill="rgb(0,55,34)"/>
<path d="M362.7,621.8V624.21" stroke="rgb(11,0,0)"/><circle cx="362.7" cy="621.8" r="3.4" fill="rgb(0,255,156)"/>
<path d="M940,897.8V935.04" stroke="rgb(204,0,0)"/><path d="M936.56,933.94q3.41,-2.19 6.82,0l-3.41,3.28z" fill="rgb(204,0,0)"/><circle cx="940" cy="897.8" r="3.4" fill="rgb(156,55,18)"/>
<path d="M364.9,621.1V623.92" stroke="rgb(13,0,0)"/><circle cx="364.9" cy="621.1" r="3.4" fill="rgb(2,255,156)"/>
<path d="M717.9,791.1V834.86" stroke="rgb(244,0,0)"/><path d="M714.15,833.69q3.78,-2.34 7.56,0l-3.78,3.51z" fill="rgb(244,0,0)"/><circle cx="717.9" cy="791.1" r="3.4" fill="rgb(156,116,55)"/>
<path d="M372.7,971.2V1001.06" stroke="rgb(160,0,0)"/><path d="M369.69,1000.05q2.99,-2.02 5.98,0l-2.99,3.03z" fill="rgb(160,0,0)"/><circle cx="372.7" cy="971.2" r="3.4" fill="rgb(2,55,34)"/>
<path d="M372.7,618.4V622.49" stroke="rgb(20,0,0)"/><path d="M371.6,621.98q1.07,-1.03 2.15,0l-1.07,1.54z" fill="rgb(20,0,0)"/><circle cx="372.7" cy="618.4" r="3.4" fill="rgb(7,255,156)"/>
<path d="M495,675.2V705.46" stroke="rgb(162,0,0)"/><path d="M491.99,704.45q3.01,-2.03 6.02,0l-3.01,3.04z" fill="rgb(162,0,0)"/><circle cx="495" cy="675.2" r="3.4" fill="rgb(83,202,116)"/>
<path d="M386.7,613.4V619.28" stroke="rgb(29,0,0)"/><path d="M385.24,618.55q1.42,-1.46 2.84,0l-1.42,2.19z" fill="rgb(29,0,0)"/><circle cx="386.7" cy="613.4" r="3.4" fill="rgb(18,255,156)"/>
<path d="M406.9,969V1000.44" stroke="rgb(169,0,0)"/><path d="M403.8,999.42q3.08,-2.05 6.15,0l-3.08,3.08z" fill="rgb(169,0,0)"/><circle cx="406.9" cy="969" r="3.4" fill="rgb(7,55,34)"/>
<path d="M406.9,606V614.13" stroke="rgb(40,0,0)"/><path d="M405.14,613.37q1.74,-1.52 3.48,0l-1.74,2.27z" fill="rgb(40,0,0)"/><circle cx="406.9" cy="606" r="3.4" fill="rgb(34,255,156)"/>
<path d="M641.8,994.4V1022.76" stroke="rgb(151,0,0)"/><path d="M638.92,1021.77q2.9,-1.98 5.8,0l-2.9,2.97z" fill="rgb(151,0,0)"/><circle cx="641.8" cy="994.4" r="3.4" fill="rgb(34,34,18)"/>
<path d="M641.8,721.9V761.77" stroke="rgb(219,0,0)"/><path d="M638.26,760.64q3.56,-2.25 7.11,0l-3.56,3.37z" fill="rgb(219,0,0)"/><circle cx="641.8" cy="721.9" r="3.4" fill="rgb(156,156,83)"/>
<path d="M1176.2,914.6V940.67" stroke="rgb(138,0,0)"/><path d="M1173.43,939.7q2.77,-1.93 5.54,0l-2.77,2.9z" fill="rgb(138,0,0)"/><circle cx="1176.2" cy="914.6" r="3.4" fill="rgb(202,34,2)"/>
<path d="M1200.7,983.3V1006.14" stroke="rgb(119,0,0)"/><path d="M1198.14,1005.21q2.58,-1.85 5.16,0l-2.58,2.78z" fill="rgb(119,0,0)"/><circle cx="1200.7" cy="983.3" r="3.4" fill="rgb(116,18,0)"/>
<path d="M537.7,659.7V690.21" stroke="rgb(163,0,0)"/><path d="M534.71,689.2q3.02,-2.03 6.04,0l-3.02,3.05z" fill="rgb(163,0,0)"/><circle cx="537.7" cy="659.7" r="3.4" fill="rgb(116,202,116)"/>
<path d="M433,596V606.08" stroke="rgb(50,0,0)"/><path d="M431.11,605.29q1.85,-1.56 3.71,0l-1.85,2.34z" fill="rgb(50,0,0)"/><circle cx="433" cy="596" r="3.4" fill="rgb(55,255,156)"/>
<path d="M880.6,829.1V868.32" stroke="rgb(216,0,0)"/><path d="M877.1,867.21q3.52,-2.23 7.04,0l-3.52,3.35z" fill="rgb(216,0,0)"/><circle cx="880.6" cy="829.1" r="3.4" fill="rgb(202,83,34)"/>
<path d="M778.3,770.3V810.85" stroke="rgb(224,0,0)"/><path d="M774.65,809.72q3.6,-2.26 7.2,0l-3.6,3.4z" fill="rgb(224,0,0)"/><circle cx="778.3" cy="770.3" r="3.4" fill="rgb(202,116,55)"/>
<path d="M464.2,583.2V594.56" stroke="rgb(57,0,0)"/><path d="M462.3,593.77q1.93,-1.59 3.86,0l-1.93,2.39z" fill="rgb(57,0,0)"/><circle cx="464.2" cy="583.2" r="3.4" fill="rgb(83,255,156)"/>
<path d="M464.2,964.9V998.49" stroke="rgb(181,0,0)"/><path d="M461.03,997.44q3.2,-2.1 6.39,0l-3.2,3.15z" fill="rgb(181,0,0)"/><circle cx="464.2" cy="964.9" r="3.4" fill="rgb(18,55,34)"/>
<path d="M1083.2,1042.2V1054.58" stroke="rgb(62,0,0)"/><path d="M1081.24,1053.77q1.98,-1.61 3.97,0l-1.98,2.42z" fill="rgb(62,0,0)"/><circle cx="1083.2" cy="1042.2" r="3.4" fill="rgb(34,7,2)"/>
<path d="M1083.2,937.4V967.2" stroke="rgb(159,0,0)"/><path d="M1080.24,966.19q2.98,-2.02 5.97,0l-2.98,3.02z" fill="rgb(159,0,0)"/><circle cx="1083.2" cy="937.4" r="3.4" fill="rgb(156,34,7)"/>
<path d="M583.5,641.3V670.45" stroke="rgb(155,0,0)"/><path d="M580.55,669.45q2.95,-2 5.89,0l-2.95,3z" fill="rgb(155,0,0)"/><circle cx="583.5" cy="641.3" r="3.4" fill="rgb(156,202,116)"/>
<path d="M695.9,700.7V737.32" stroke="rgb(200,0,0)"/><path d="M692.56,736.23q3.37,-2.17 6.75,0l-3.37,3.26z" fill="rgb(200,0,0)"/><circle cx="695.9" cy="700.7" r="3.4" fill="rgb(202,156,83)"/>
<path d="M499.8,567.4V579.05" stroke="rgb(58,0,0)"/><path d="M497.84,578.26q1.94,-1.6 3.88,0l-1.94,2.4z" fill="rgb(58,0,0)"/><circle cx="499.8" cy="567.4" r="3.4" fill="rgb(116,255,156)"/>
<path d="M1002.5,878V912.03" stroke="rgb(184,0,0)"/><path d="M999.3,910.97q3.23,-2.11 6.45,0l-3.23,3.17z" fill="rgb(184,0,0)"/><circle cx="1002.5" cy="878" r="3.4" fill="rgb(202,55,18)"/>
<path d="M1179.5,985.2V1008.2" stroke="rgb(120,0,0)"/><path d="M1176.94,1007.27q2.59,-1.86 5.18,0l-2.59,2.79z" fill="rgb(120,0,0)"/><circle cx="1179.5" cy="985.2" r="3.4" fill="rgb(116,18,2)"/>
<path d="M630.9,619.7V645.67" stroke="rgb(137,0,0)"/><path d="M628.15,644.71q2.76,-1.93 5.53,0l-2.76,2.89z" fill="rgb(137,0,0)"/><circle cx="630.9" cy="619.7" r="3.4" fill="rgb(202,202,116)"/>
<path d="M1223.1,891.2V911.63" stroke="rgb(105,0,0)"/><path d="M1220.65,910.73q2.45,-1.8 4.89,0l-2.45,2.7z" fill="rgb(105,0,0)"/><circle cx="1223.1" cy="891.2" r="3.4" fill="rgb(255,34,0)"/>
<path d="M1223.1,1033V1047.23" stroke="rgb(71,0,0)"/><path d="M1221.01,1046.4q2.09,-1.66 4.17,0l-2.09,2.48z" fill="rgb(71,0,0)"/><circle cx="1223.1" cy="1033" r="3.4" fill="rgb(55,7,0)"/>
<path d="M538.6,958.6V994.44" stroke="rgb(195,0,0)"/><path d="M535.3,993.36q3.33,-2.15 6.65,0l-3.33,3.23z" fill="rgb(195,0,0)"/><circle cx="538.6" cy="958.6" r="3.4" fill="rgb(34,55,34)"/>
<path d="M538.6,548.7V559.04" stroke="rgb(51,0,0)"/><path d="M536.77,558.25q1.87,-1.57 3.73,0l-1.87,2.35z" fill="rgb(51,0,0)"/><circle cx="538.6" cy="548.7" r="3.4" fill="rgb(156,255,156)"/>
<path d="M835.3,746.1V781.21" stroke="rgb(191,0,0)"/><path d="M832.01,780.15q3.29,-2.14 6.57,0l-3.29,3.21z" fill="rgb(191,0,0)"/><circle cx="835.3" cy="746.1" r="3.4" fill="rgb(255,116,55)"/>
<path d="M354.5,926.7V961.12" stroke="rgb(187,0,0)"/><path d="M351.22,960.06q3.25,-2.12 6.49,0l-3.25,3.18z" fill="rgb(187,0,0)"/><circle cx="354.5" cy="926.7" r="3.4" fill="rgb(0,83,55)"/>
<path d="M361,926V960.99" stroke="rgb(190,0,0)"/><path d="M357.69,959.93q3.28,-2.13 6.56,0l-3.28,3.2z" fill="rgb(190,0,0)"/><circle cx="361" cy="926" r="3.4" fill="rgb(2,83,55)"/>
<path d="M749,986.7V1017" stroke="rgb(162,0,0)"/><path d="M746,1015.98q3.01,-2.03 6.02,0l-3.01,3.04z" fill="rgb(162,0,0)"/><circle cx="749" cy="986.7" r="3.4" fill="rgb(55,34,18)"/>
<path d="M749,676.2V707.33" stroke="rgb(167,0,0)"/><path d="M745.95,706.31q3.06,-2.05 6.12,0l-3.06,3.07z" fill="rgb(167,0,0)"/><circle cx="749" cy="676.2" r="3.4" fill="rgb(255,156,83)"/>
<path d="M938.6,1014.9V1036.86" stroke="rgb(114,0,0)"/><path d="M936.03,1035.94q2.53,-1.84 5.07,0l-2.53,2.75z" fill="rgb(114,0,0)"/><circle cx="938.6" cy="1014.9" r="3.4" fill="rgb(55,18,7)"/>
<path d="M938.6,805.3V839.07" stroke="rgb(182,0,0)"/><path d="M935.36,838.02q3.21,-2.11 6.41,0l-3.21,3.16z" fill="rgb(182,0,0)"/><circle cx="938.6" cy="805.3" r="3.4" fill="rgb(255,83,34)"/>
<path d="M383.7,923.6V960.06" stroke="rgb(199,0,0)"/><path d="M380.3,958.97q3.37,-2.17 6.73,0l-3.37,3.26z" fill="rgb(199,0,0)"/><circle cx="383.7" cy="923.6" r="3.4" fill="rgb(7,83,55)"/>
<path d="M579.8,526.9V534.01" stroke="rgb(35,0,0)"/><path d="M578.13,533.26q1.63,-1.49 3.26,0l-1.63,2.24z" fill="rgb(35,0,0)"/><circle cx="579.8" cy="526.9" r="3.4" fill="rgb(202,255,156)"/>
<path d="M1212.8,891.9V912.55" stroke="rgb(107,0,0)"/><path d="M1210.35,911.64q2.46,-1.81 4.91,0l-2.46,2.71z" fill="rgb(107,0,0)"/><circle cx="1212.8" cy="891.9" r="3.4" fill="rgb(255,34,2)"/>
<path d="M678.8,594.9V615.39" stroke="rgb(106,0,0)"/><path d="M676.33,614.48q2.45,-1.8 4.9,0l-2.45,2.7z" fill="rgb(106,0,0)"/><circle cx="678.8" cy="594.9" r="3.4" fill="rgb(255,202,116)"/>
<path d="M423,919V957.59" stroke="rgb(212,0,0)"/><path d="M419.48,956.48q3.49,-2.22 6.97,0l-3.49,3.33z" fill="rgb(212,0,0)"/><circle cx="423" cy="919" r="3.4" fill="rgb(18,83,55)"/>
<path d="M622.2,949.7V987.55" stroke="rgb(207,0,0)"/><path d="M618.76,986.45q3.44,-2.2 6.88,0l-3.44,3.3z" fill="rgb(207,0,0)"/><circle cx="622.2" cy="949.7" r="3.4" fill="rgb(55,55,34)"/>
<path d="M622.2,501.8V504.25" stroke="rgb(11,0,0)"/><circle cx="622.2" cy="501.8" r="3.4" fill="rgb(255,255,156)"/>
<path d="M1055.9,854.5V883.09" stroke="rgb(152,0,0)"/><path d="M1053.03,882.1q2.91,-1.99 5.82,0l-2.91,2.98z" fill="rgb(152,0,0)"/><circle cx="1055.9" cy="854.5" r="3.4" fill="rgb(255,55,18)"/>
<path d="M1242.3,968V989.48" stroke="rgb(111,0,0)"/><path d="M1239.75,988.57q2.51,-1.82 5.01,0l-2.51,2.74z" fill="rgb(111,0,0)"/><circle cx="1242.3" cy="968" r="3.4" fill="rgb(156,18,0)"/>
<path d="M1135.5,917.8V944.43" stroke="rgb(141,0,0)"/><path d="M1132.66,943.46q2.8,-1.94 5.6,0l-2.8,2.91z" fill="rgb(141,0,0)"/><circle cx="1135.5" cy="917.8" r="3.4" fill="rgb(202,34,7)"/>
<path d="M476.4,912V952.91" stroke="rgb(226,0,0)"/><path d="M472.77,951.78q3.62,-2.27 7.23,0l-3.62,3.41z" fill="rgb(226,0,0)"/><circle cx="476.4" cy="912" r="3.4" fill="rgb(34,83,55)"/>
<path d="M348.7,869.5V905.07" stroke="rgb(193,0,0)"/><path d="M345.36,903.99q3.31,-2.15 6.62,0l-3.31,3.22z" fill="rgb(193,0,0)"/><circle cx="348.7" cy="869.5" r="3.4" fill="rgb(0,116,83)"/>
<path d="M353.2,868.8V904.9" stroke="rgb(197,0,0)"/><path d="M349.88,903.81q3.34,-2.16 6.68,0l-3.34,3.24z" fill="rgb(197,0,0)"/><circle cx="353.2" cy="868.8" r="3.4" fill="rgb(2,116,83)"/>
<path d="M848.2,975.8V1007.45" stroke="rgb(170,0,0)"/><path d="M845.11,1006.42q3.09,-2.06 6.17,0l-3.09,3.09z" fill="rgb(170,0,0)"/><circle cx="848.2" cy="975.8" r="3.4" fill="rgb(83,34,18)"/>
<path d="M369.2,866.2V903.81" stroke="rgb(206,0,0)"/><path d="M365.81,902.71q3.43,-2.2 6.86,0l-3.43,3.29z" fill="rgb(206,0,0)"/><circle cx="369.2" cy="866.2" r="3.4" fill="rgb(7,116,83)"/>
<path d="M539.9,902.5V945.38" stroke="rgb(238,0,0)"/><path d="M536.21,944.22q3.73,-2.32 7.46,0l-3.73,3.48z" fill="rgb(238,0,0)"/><circle cx="539.9" cy="902.5" r="3.4" fill="rgb(55,83,55)"/>
<path d="M1224.8,969.3V991.04" stroke="rgb(112,0,0)"/><path d="M1222.28,990.12q2.52,-1.83 5.03,0l-2.52,2.74z" fill="rgb(112,0,0)"/><circle cx="1224.8" cy="969.3" r="3.4" fill="rgb(156,18,2)"/>
<path d="M707.6,938V977.14" stroke="rgb(215,0,0)"/><path d="M704.1,976.02q3.52,-2.23 7.03,0l-3.52,3.35z" fill="rgb(215,0,0)"/><circle cx="707.6" cy="938" r="3.4" fill="rgb(83,55,34)"/>
<path d="M397.5,861.3V901.08" stroke="rgb(219,0,0)"/><path d="M393.94,899.96q3.55,-2.24 7.1,0l-3.55,3.37z" fill="rgb(219,0,0)"/><circle cx="397.5" cy="861.3" r="3.4" fill="rgb(18,116,83)"/>
<path d="M1035.5,1005V1028.28" stroke="rgb(122,0,0)"/><path d="M1032.87,1027.35q2.61,-1.87 5.22,0l-2.61,2.8z" fill="rgb(122,0,0)"/><circle cx="1035.5" cy="1005" r="3.4" fill="rgb(83,18,7)"/>
<path d="M437,854.1V896.07" stroke="rgb(233,0,0)"/><path d="M433.29,894.92q3.68,-2.3 7.36,0l-3.68,3.45z" fill="rgb(233,0,0)"/><circle cx="437" cy="854.1" r="3.4" fill="rgb(34,116,83)"/>
<path d="M1177.3,1037.2V1051.58" stroke="rgb(72,0,0)"/><path d="M1175.25,1050.75q2.1,-1.66 4.2,0l-2.1,2.49z" fill="rgb(72,0,0)"/><circle cx="1177.3" cy="1037.2" r="3.4" fill="rgb(55,7,2)"/>
<path d="M1177.3,894.4V915.53" stroke="rgb(109,0,0)"/><path d="M1174.86,914.63q2.49,-1.82 4.97,0l-2.49,2.73z" fill="rgb(109,0,0)"/><circle cx="1177.3" cy="894.4" r="3.4" fill="rgb(255,34,7)"/>
<path d="M609.1,890.2V934.37" stroke="rgb(246,0,0)"/><path d="M605.34,933.2q3.81,-2.35 7.61,0l-3.81,3.52z" fill="rgb(246,0,0)"/><circle cx="609.1" cy="890.2" r="3.4" fill="rgb(83,83,55)"/>
<path d="M485.6,844.2V888.17" stroke="rgb(245,0,0)"/><path d="M481.83,887q3.8,-2.34 7.59,0l-3.8,3.51z" fill="rgb(245,0,0)"/><circle cx="485.6" cy="844.2" r="3.4" fill="rgb(55,116,83)"/>
<path d="M1272.9,1024.6V1040.07" stroke="rgb(78,0,0)"/><path d="M1270.76,1039.22q2.16,-1.69 4.32,0l-2.16,2.53z" fill="rgb(78,0,0)"/><circle cx="1272.9" cy="1024.6" r="3.4" fill="rgb(83,7,0)"/>
<path d="M1272.9,948.4V966.69" stroke="rgb(94,0,0)"/><path d="M1270.6,965.81q2.32,-1.75 4.65,0l-2.32,2.63z" fill="rgb(94,0,0)"/><circle cx="1272.9" cy="948.4" r="3.4" fill="rgb(202,18,0)"/>
<path d="M1272.9,1066V1070.95" stroke="rgb(24,0,0)"/><path d="M1271.68,1070.33q1.24,-1.24 2.49,0l-1.24,1.86z" fill="rgb(24,0,0)"/><circle cx="1272.9" cy="1066" r="3.4" fill="rgb(18,2,0)"/>
<path d="M344.4,800.3V831.53" stroke="rgb(168,0,0)"/><path d="M341.33,830.5q3.06,-2.05 6.13,0l-3.06,3.07z" fill="rgb(168,0,0)"/><circle cx="344.4" cy="800.3" r="3.4" fill="rgb(0,156,116)"/>
<path d="M347.7,799.5V831.33" stroke="rgb(171,0,0)"/><path d="M344.64,830.3q3.1,-2.06 6.19,0l-3.1,3.09z" fill="rgb(171,0,0)"/><circle cx="347.7" cy="799.5" r="3.4" fill="rgb(2,156,116)"/>
<path d="M359.6,796.8V830.16" stroke="rgb(180,0,0)"/><path d="M356.39,829.12q3.18,-2.1 6.37,0l-3.18,3.15z" fill="rgb(180,0,0)"/><circle cx="359.6" cy="796.8" r="3.4" fill="rgb(7,156,116)"/>
<path d="M789.5,923.3V962.57" stroke="rgb(216,0,0)"/><path d="M785.97,961.45q3.53,-2.23 7.05,0l-3.53,3.35z" fill="rgb(216,0,0)"/><circle cx="789.5" cy="923.3" r="3.4" fill="rgb(116,55,34)"/>
<path d="M934.7,961.7V993.49" stroke="rgb(171,0,0)"/><path d="M931.65,992.46q3.1,-2.06 6.2,0l-3.1,3.09z" fill="rgb(171,0,0)"/><circle cx="934.7" cy="961.7" r="3.4" fill="rgb(116,34,18)"/>
<path d="M380.7,791.9V827.3" stroke="rgb(193,0,0)"/><path d="M377.38,826.23q3.3,-2.15 6.61,0l-3.3,3.22z" fill="rgb(193,0,0)"/><circle cx="380.7" cy="791.9" r="3.4" fill="rgb(18,156,116)"/>
<path d="M540.8,831.5V876.79" stroke="rgb(253,0,0)"/><path d="M536.98,875.6q3.87,-2.37 7.74,0l-3.87,3.56z" fill="rgb(253,0,0)"/><circle cx="540.8" cy="831.5" r="3.4" fill="rgb(83,116,83)"/>
<path d="M679.9,874.9V919.31" stroke="rgb(248,0,0)"/><path d="M676.11,918.13q3.82,-2.35 7.63,0l-3.82,3.53z" fill="rgb(248,0,0)"/><circle cx="679.9" cy="874.9" r="3.4" fill="rgb(116,83,55)"/>
<path d="M410.7,784.4V822.1" stroke="rgb(206,0,0)"/><path d="M407.29,821q3.43,-2.2 6.87,0l-3.43,3.3z" fill="rgb(206,0,0)"/><circle cx="410.7" cy="784.4" r="3.4" fill="rgb(34,156,116)"/>
<path d="M448.6,774.3V813.97" stroke="rgb(219,0,0)"/><path d="M445.06,812.85q3.55,-2.24 7.1,0l-3.55,3.37z" fill="rgb(219,0,0)"/><circle cx="448.6" cy="774.3" r="3.4" fill="rgb(55,156,116)"/>
<path d="M1258.5,949.4V967.89" stroke="rgb(95,0,0)"/><path d="M1256.12,967.01q2.33,-1.76 4.67,0l-2.33,2.63z" fill="rgb(95,0,0)"/><circle cx="1258.5" cy="949.4" r="3.4" fill="rgb(202,18,2)"/>
<path d="M599.9,815.9V861.37" stroke="rgb(255,0,0)"/><path d="M595.99,860.18q3.88,-2.38 7.76,0l-3.88,3.57z" fill="rgb(255,0,0)"/><circle cx="599.9" cy="815.9" r="3.4" fill="rgb(116,116,83)"/>
<path d="M341.1,718.9V738.97" stroke="rgb(103,0,0)"/><path d="M338.69,738.07q2.42,-1.79 4.85,0l-2.42,2.69z" fill="rgb(103,0,0)"/><circle cx="341.1" cy="718.9" r="3.4" fill="rgb(0,202,156)"/>
<path d="M343.7,718.1V738.76" stroke="rgb(106,0,0)"/><path d="M341.21,737.86q2.46,-1.8 4.91,0l-2.46,2.71z" fill="rgb(106,0,0)"/><circle cx="343.7" cy="718.1" r="3.4" fill="rgb(2,202,156)"/>
<path d="M352.7,715.4V737.55" stroke="rgb(115,0,0)"/><path d="M350.19,736.63q2.54,-1.84 5.09,0l-2.54,2.76z" fill="rgb(115,0,0)"/><circle cx="352.7" cy="715.4" r="3.4" fill="rgb(7,202,156)"/>
<path d="M864.6,905.3V943.28" stroke="rgb(208,0,0)"/><path d="M861.18,942.18q3.45,-2.21 6.91,0l-3.45,3.31z" fill="rgb(208,0,0)"/><circle cx="864.6" cy="905.3" r="3.4" fill="rgb(156,55,34)"/>
<path d="M492.8,761.3V802.35" stroke="rgb(227,0,0)"/><path d="M489.17,801.22q3.62,-2.27 7.25,0l-3.62,3.41z" fill="rgb(227,0,0)"/><circle cx="492.8" cy="761.3" r="3.4" fill="rgb(83,156,116)"/>
<path d="M369,710.3V734.6" stroke="rgb(127,0,0)"/><path d="M366.35,733.66q2.66,-1.89 5.33,0l-2.66,2.83z" fill="rgb(127,0,0)"/><circle cx="369" cy="710.3" r="3.4" fill="rgb(18,202,156)"/>
<path d="M749.1,856.6V899.64" stroke="rgb(239,0,0)"/><path d="M745.33,898.48q3.74,-2.32 7.48,0l-3.74,3.48z" fill="rgb(239,0,0)"/><circle cx="749.1" cy="856.6" r="3.4" fill="rgb(156,83,55)"/>
<path d="M1109.8,991.3V1014.79" stroke="rgb(123,0,0)"/><path d="M1107.2,1013.85q2.62,-1.87 5.24,0l-2.62,2.81z" fill="rgb(123,0,0)"/><circle cx="1109.8" cy="991.3" r="3.4" fill="rgb(116,18,7)"/>
<path d="M392.5,702.8V729.29" stroke="rgb(140,0,0)"/><path d="M389.67,728.32q2.79,-1.94 5.59,0l-2.79,2.91z" fill="rgb(140,0,0)"/><circle cx="392.5" cy="702.8" r="3.4" fill="rgb(34,202,156)"/>
<path d="M1296,924.8V937.61" stroke="rgb(64,0,0)"/><path d="M1293.94,936.8q2.01,-1.63 4.02,0l-2.01,2.44z" fill="rgb(64,0,0)"/><circle cx="1296" cy="924.8" r="3.4" fill="rgb(255,18,0)"/>
<path d="M1007.7,944.1V974.6" stroke="rgb(163,0,0)"/><path d="M1004.71,973.58q3.02,-2.03 6.05,0l-3.02,3.05z" fill="rgb(163,0,0)"/><circle cx="1007.7" cy="944.1" r="3.4" fill="rgb(156,34,18)"/>
<path d="M660.2,797.2V841.4" stroke="rgb(246,0,0)"/><path d="M656.39,840.23q3.81,-2.35 7.61,0l-3.81,3.52z" fill="rgb(246,0,0)"/><circle cx="660.2" cy="797.2" r="3.4" fill="rgb(156,116,83)"/>
<path d="M541.5,745.5V786.71" stroke="rgb(228,0,0)"/><path d="M537.87,785.57q3.64,-2.28 7.27,0l-3.64,3.42z" fill="rgb(228,0,0)"/><circle cx="541.5" cy="745.5" r="3.4" fill="rgb(116,156,116)"/>
<path d="M422.5,692.5V721.02" stroke="rgb(152,0,0)"/><path d="M419.6,720.03q2.91,-1.99 5.82,0l-2.91,2.98z" fill="rgb(152,0,0)"/><circle cx="422.5" cy="692.5" r="3.4" fill="rgb(55,202,156)"/>
<path d="M338.5,625.2V626.77" stroke="rgb(6,0,0)"/><circle cx="338.5" cy="625.2" r="3.4" fill="rgb(0,255,202)"/>
<path d="M340.5,624.5V626.45" stroke="rgb(8,0,0)"/><circle cx="340.5" cy="624.5" r="3.4" fill="rgb(2,255,202)"/>
<path d="M458.2,679.4V709.25" stroke="rgb(159,0,0)"/><path d="M455.25,708.24q2.98,-2.02 5.97,0l-2.98,3.02z" fill="rgb(159,0,0)"/><circle cx="458.2" cy="679.4" r="3.4" fill="rgb(83,202,156)"/>
<path d="M347.7,621.7V624.93" stroke="rgb(15,0,0)"/><path d="M346.76,624.53q0.9,-0.81 1.79,0l-0.9,1.21z" fill="rgb(15,0,0)"/><circle cx="347.7" cy="621.7" r="3.4" fill="rgb(7,255,202)"/>
<path d="M360.6,616.6V621.56" stroke="rgb(24,0,0)"/><path d="M359.31,620.94q1.24,-1.24 2.48,0l-1.24,1.86z" fill="rgb(24,0,0)"/><circle cx="360.6" cy="616.6" r="3.4" fill="rgb(18,255,202)"/>
<path d="M814.4,835V874.85" stroke="rgb(220,0,0)"/><path d="M810.83,873.73q3.56,-2.25 7.12,0l-3.56,3.37z" fill="rgb(220,0,0)"/><circle cx="814.4" cy="835" r="3.4" fill="rgb(202,83,55)"/>
<path d="M592.9,726.6V766.51" stroke="rgb(220,0,0)"/><path d="M589.39,765.39q3.56,-2.25 7.12,0l-3.56,3.37z" fill="rgb(220,0,0)"/><circle cx="592.9" cy="726.6" r="3.4" fill="rgb(156,156,116)"/>
<path d="M1238.3,1027.4V1043.05" stroke="rgb(79,0,0)"/><path d="M1236.08,1042.2q2.17,-1.69 4.34,0l-2.17,2.54z" fill="rgb(79,0,0)"/><circle cx="1238.3" cy="1027.4" r="3.4" fill="rgb(83,7,2)"/>
<path d="M379.3,608.9V615.97" stroke="rgb(35,0,0)"/><path d="M377.66,615.23q1.61,-1.49 3.23,0l-1.61,2.24z" fill="rgb(35,0,0)"/><circle cx="379.3" cy="608.9" r="3.4" fill="rgb(34,255,202)"/>
<path d="M931.6,884V918.78" stroke="rgb(189,0,0)"/><path d="M928.31,917.71q3.27,-2.13 6.54,0l-3.27,3.2z" fill="rgb(189,0,0)"/><circle cx="931.6" cy="884" r="3.4" fill="rgb(202,55,34)"/>
<path d="M498.5,663.4V693.44" stroke="rgb(160,0,0)"/><path d="M495.48,692.43q2.99,-2.02 5.99,0l-2.99,3.03z" fill="rgb(160,0,0)"/><circle cx="498.5" cy="663.4" r="3.4" fill="rgb(116,202,156)"/>
<path d="M719.8,775.3V816.36" stroke="rgb(227,0,0)"/><path d="M716.16,815.22q3.62,-2.27 7.25,0l-3.62,3.41z" fill="rgb(227,0,0)"/><circle cx="719.8" cy="775.3" r="3.4" fill="rgb(202,116,83)"/>
<path d="M1305.3,1011.4V1027.08" stroke="rgb(79,0,0)"/><path d="M1303.14,1026.23q2.17,-1.69 4.35,0l-2.17,2.54z" fill="rgb(79,0,0)"/><circle cx="1305.3" cy="1011.4" r="3.4" fill="rgb(116,7,0)"/>
<path d="M1283.9,925.5V938.55" stroke="rgb(65,0,0)"/><path d="M1281.85,937.74q2.02,-1.63 4.04,0l-2.02,2.44z" fill="rgb(65,0,0)"/><circle cx="1283.9" cy="925.5" r="3.4" fill="rgb(255,18,2)"/>
<path d="M403.5,598.6V607.62" stroke="rgb(45,0,0)"/><path d="M401.74,606.85q1.79,-1.54 3.58,0l-1.79,2.31z" fill="rgb(45,0,0)"/><circle cx="403.5" cy="598.6" r="3.4" fill="rgb(55,255,202)"/>
<path d="M432.8,585.4V595.74" stroke="rgb(51,0,0)"/><path d="M430.9,594.96q1.87,-1.57 3.73,0l-1.87,2.35z" fill="rgb(51,0,0)"/><circle cx="432.8" cy="585.4" r="3.4" fill="rgb(83,255,202)"/>
<path d="M645.5,704.6V741.27" stroke="rgb(200,0,0)"/><path d="M642.09,740.19q3.38,-2.18 6.76,0l-3.38,3.26z" fill="rgb(200,0,0)"/><circle cx="645.5" cy="704.6" r="3.4" fill="rgb(202,156,116)"/>
<path d="M542,644.4V673.09" stroke="rgb(153,0,0)"/><path d="M539.09,672.09q2.92,-1.99 5.84,0l-2.92,2.99z" fill="rgb(153,0,0)"/><circle cx="542" cy="644.4" r="3.4" fill="rgb(156,202,156)"/>
<path d="M1068.2,923V950.32" stroke="rgb(145,0,0)"/><path d="M1065.31,949.34q2.84,-1.96 5.68,0l-2.84,2.94z" fill="rgb(145,0,0)"/><circle cx="1068.2" cy="923" r="3.4" fill="rgb(202,34,18)"/>
<path d="M466.2,569.3V579.83" stroke="rgb(52,0,0)"/><path d="M464.36,579.04q1.88,-1.57 3.75,0l-1.88,2.36z" fill="rgb(52,0,0)"/><circle cx="466.2" cy="569.3" r="3.4" fill="rgb(116,255,202)"/>
<path d="M874.6,810.1V844.46" stroke="rgb(187,0,0)"/><path d="M871.36,843.4q3.25,-2.12 6.49,0l-3.25,3.18z" fill="rgb(187,0,0)"/><circle cx="874.6" cy="810.1" r="3.4" fill="rgb(255,83,55)"/>
<path d="M777.1,750.2V785.77" stroke="rgb(193,0,0)"/><path d="M773.79,784.7q3.31,-2.15 6.62,0l-3.31,3.22z" fill="rgb(193,0,0)"/><circle cx="777.1" cy="750.2" r="3.4" fill="rgb(255,116,83)"/>
<path d="M1166.3,973.8V996.06" stroke="rgb(115,0,0)"/><path d="M1163.76,995.14q2.55,-1.84 5.09,0l-2.55,2.76z" fill="rgb(115,0,0)"/><circle cx="1166.3" cy="973.8" r="3.4" fill="rgb(156,18,7)"/>
<path d="M587.6,622.2V647.7" stroke="rgb(134,0,0)"/><path d="M584.85,646.74q2.74,-1.92 5.47,0l-2.74,2.88z" fill="rgb(134,0,0)"/><circle cx="587.6" cy="622.2" r="3.4" fill="rgb(202,202,156)"/>
<path d="M697.7,679.3V710.51" stroke="rgb(168,0,0)"/><path d="M694.63,709.49q3.06,-2.05 6.13,0l-3.06,3.07z" fill="rgb(168,0,0)"/><circle cx="697.7" cy="679.3" r="3.4" fill="rgb(255,156,116)"/>
<path d="M503.1,550.1V559.36" stroke="rgb(46,0,0)"/><path d="M501.28,558.59q1.8,-1.54 3.61,0l-1.8,2.31z" fill="rgb(46,0,0)"/><circle cx="503.1" cy="550.1" r="3.4" fill="rgb(156,255,202)"/>
<path d="M990.1,859.2V888.58" stroke="rgb(156,0,0)"/><path d="M987.15,887.58q2.96,-2.01 5.91,0l-2.96,3.01z" fill="rgb(156,0,0)"/><circle cx="990.1" cy="859.2" r="3.4" fill="rgb(255,55,34)"/>
<path d="M634.1,596.7V616.8" stroke="rgb(103,0,0)"/><path d="M631.65,615.91q2.42,-1.79 4.85,0l-2.42,2.69z" fill="rgb(103,0,0)"/><circle cx="634.1" cy="596.7" r="3.4" fill="rgb(255,202,156)"/>
<path d="M542.4,527.8V533.86" stroke="rgb(30,0,0)"/><path d="M540.95,533.13q1.45,-1.47 2.9,0l-1.45,2.2z" fill="rgb(30,0,0)"/><circle cx="542.4" cy="527.8" r="3.4" fill="rgb(202,255,202)"/>
<path d="M583.3,502.3V503.82" stroke="rgb(6,0,0)"/><circle cx="583.3" cy="502.3" r="3.4" fill="rgb(255,255,202)"/>
<path d="M1117.8,898.4V920.24" stroke="rgb(113,0,0)"/><path d="M1115.25,919.33q2.53,-1.83 5.06,0l-2.53,2.75z" fill="rgb(113,0,0)"/><circle cx="1117.8" cy="898.4" r="3.4" fill="rgb(255,34,18)"/>
<path d="M1327.2,1063.6V1070.62" stroke="rgb(35,0,0)"/><path d="M1325.58,1069.87q1.61,-1.49 3.23,0l-1.61,2.24z" fill="rgb(35,0,0)"/><circle cx="1327.2" cy="1063.6" r="3.4" fill="rgb(34,2,0)"/>
<path d="M1327.2,994.1V1008.46" stroke="rgb(72,0,0)"/><path d="M1325.09,1007.63q2.1,-1.66 4.2,0l-2.1,2.49z" fill="rgb(72,0,0)"/><circle cx="1327.2" cy="994.1" r="3.4" fill="rgb(156,7,0)"/>
<path d="M1278.6,1013.3V1029.21" stroke="rgb(80,0,0)"/><path d="M1276.45,1028.37q2.18,-1.7 4.37,0l-2.18,2.54z" fill="rgb(80,0,0)"/><circle cx="1278.6" cy="1013.3" r="3.4" fill="rgb(116,7,2)"/>
<path d="M1209.3,952.8V971.78" stroke="rgb(97,0,0)"/><path d="M1206.97,970.89q2.36,-1.77 4.73,0l-2.36,2.65z" fill="rgb(97,0,0)"/><circle cx="1209.3" cy="952.8" r="3.4" fill="rgb(202,18,7)"/>
<path d="M1242.4,928.1V941.61" stroke="rgb(68,0,0)"/><path d="M1240.36,940.79q2.05,-1.64 4.1,0l-2.05,2.46z" fill="rgb(68,0,0)"/><circle cx="1242.4" cy="928.1" r="3.4" fill="rgb(255,18,7)"/>
<path d="M1342.5,972.9V984.12" stroke="rgb(56,0,0)"/><path d="M1340.58,983.33q1.92,-1.59 3.83,0l-1.92,2.38z" fill="rgb(56,0,0)"/><circle cx="1342.5" cy="972.9" r="3.4" fill="rgb(202,7,0)"/>
<path d="M1306.3,995.5V1010.05" stroke="rgb(73,0,0)"/><path d="M1304.16,1009.21q2.11,-1.67 4.22,0l-2.11,2.5z" fill="rgb(73,0,0)"/><circle cx="1306.3" cy="995.5" r="3.4" fill="rgb(156,7,2)"/>
<path d="M1353.6,948.1V953.87" stroke="rgb(29,0,0)"/><path d="M1352.15,953.15q1.4,-1.44 2.8,0l-1.4,2.16z" fill="rgb(29,0,0)"/><circle cx="1353.6" cy="948.1" r="3.4" fill="rgb(255,7,0)"/>
<path d="M1353.6,1055.6V1064.67" stroke="rgb(45,0,0)"/><path d="M1351.76,1063.91q1.79,-1.54 3.58,0l-1.79,2.31z" fill="rgb(45,0,0)"/><circle cx="1353.6" cy="1055.6" r="3.4" fill="rgb(55,2,0)"/>
<path d="M1325.8,974V985.34" stroke="rgb(57,0,0)"/><path d="M1323.85,984.54q1.93,-1.59 3.85,0l-1.93,2.39z" fill="rgb(57,0,0)"/><circle cx="1325.8" cy="974" r="3.4" fill="rgb(202,7,2)"/>
<path d="M1340,948.9V954.8" stroke="rgb(30,0,0)"/><path d="M1338.52,954.07q1.43,-1.47 2.86,0l-1.43,2.2z" fill="rgb(30,0,0)"/><circle cx="1340" cy="948.9" r="3.4" fill="rgb(255,7,2)"/>
<path d="M1368,1043.6V1053.97" stroke="rgb(51,0,0)"/><path d="M1366.11,1053.19q1.87,-1.57 3.73,0l-1.87,2.35z" fill="rgb(51,0,0)"/><circle cx="1368" cy="1043.6" r="3.4" fill="rgb(83,2,0)"/>
<path d="M1376.6,1028.1V1038.61" stroke="rgb(52,0,0)"/><path d="M1374.74,1037.82q1.88,-1.57 3.76,0l-1.88,2.36z" fill="rgb(52,0,0)"/><circle cx="1376.6" cy="1028.1" r="3.4" fill="rgb(116,2,0)"/>
<path d="M1382.2,1009.1V1018.35" stroke="rgb(46,0,0)"/><path d="M1380.35,1017.58q1.8,-1.54 3.61,0l-1.8,2.31z" fill="rgb(46,0,0)"/><circle cx="1382.2" cy="1009.1" r="3.4" fill="rgb(156,2,0)"/>
<path d="M1385.9,986.8V992.86" stroke="rgb(30,0,0)"/><path d="M1384.44,992.13q1.45,-1.47 2.9,0l-1.45,2.2z" fill="rgb(30,0,0)"/><circle cx="1385.9" cy="986.8" r="3.4" fill="rgb(202,2,0)"/>
<path d="M1388.5,961.2V962.7" stroke="rgb(6,0,0)"/><circle cx="1388.5" cy="961.2" r="3.4" fill="rgb(255,2,0)"/>
<circle cx="1398.8" cy="1089.3" r="3.4" fill="rgb(2,0,0)"/>
<path d="M1398.8,1086.4V1088.16" stroke="rgb(7,0,0)"/><circle cx="1398.8" cy="1086.4" r="3.4" fill="rgb(7,0,0)"/>
<path d="M1398.8,1049.4V1057.84" stroke="rgb(42,0,0)"/><path d="M1397.03,1057.08q1.76,-1.52 3.52,0l-1.76,2.29z" fill="rgb(42,0,0)"/><circle cx="1398.8" cy="1049.4" r="3.4" fill="rgb(83,0,0)"/>
<path d="M1398.8,990.8V995.25" stroke="rgb(22,0,0)"/><path d="M1397.64,994.69q1.15,-1.12 2.29,0l-1.15,1.68z" fill="rgb(22,0,0)"/><circle cx="1398.8" cy="990.8" r="3.4" fill="rgb(202,0,0)"/>
<circle cx="1398.8" cy="964.9" r="3.4" fill="rgb(255,0,0)"/>
<path d="M1398.8,1081.2V1084.66" stroke="rgb(16,0,0)"/><path d="M1397.85,1084.23q0.94,-0.86 1.88,0l-0.94,1.29z" fill="rgb(16,0,0)"/><circle cx="1398.8" cy="1081.2" r="3.4" fill="rgb(18,0,0)"/>
<path d="M1398.8,1073.4V1078.69" stroke="rgb(26,0,0)"/><path d="M1397.48,1078.03q1.31,-1.32 2.62,0l-1.31,1.98z" fill="rgb(26,0,0)"/><circle cx="1398.8" cy="1073.4" r="3.4" fill="rgb(34,0,0)"/>
<path d="M1398.8,1062.8V1069.99" stroke="rgb(36,0,0)"/><path d="M1397.15,1069.24q1.63,-1.49 3.27,0l-1.63,2.24z" fill="rgb(36,0,0)"/><circle cx="1398.8" cy="1062.8" r="3.4" fill="rgb(55,0,0)"/>
<path d="M1398.8,1032.9V1041.61" stroke="rgb(43,0,0)"/><path d="M1397.01,1040.85q1.77,-1.53 3.54,0l-1.77,2.29z" fill="rgb(43,0,0)"/><circle cx="1398.8" cy="1032.9" r="3.4" fill="rgb(116,0,0)"/>
<path d="M1398.8,1013.4V1020.8" stroke="rgb(37,0,0)"/><path d="M1397.12,1020.05q1.67,-1.5 3.34,0l-1.67,2.25z" fill="rgb(37,0,0)"/><circle cx="1398.8" cy="1013.4" r="3.4" fill="rgb(156,0,0)"/>
<path d="M1374,961.9V963.63" stroke="rgb(7,0,0)"/><circle cx="1374" cy="961.9" r="3.4" fill="rgb(255,2,2)"/>
<path d="M1367.7,987.9V994.08" stroke="rgb(31,0,0)"/><path d="M1366.21,993.35q1.48,-1.47 2.97,0l-1.48,2.21z" fill="rgb(31,0,0)"/><circle cx="1367.7" cy="987.9" r="3.4" fill="rgb(202,2,2)"/>
<path d="M1358.8,1010.5V1019.95" stroke="rgb(47,0,0)"/><path d="M1357.02,1019.18q1.81,-1.55 3.63,0l-1.81,2.32z" fill="rgb(47,0,0)"/><circle cx="1358.8" cy="1010.5" r="3.4" fill="rgb(156,2,2)"/>
<path d="M1345.9,1030V1040.76" stroke="rgb(53,0,0)"/><path d="M1343.96,1039.97q1.89,-1.58 3.78,0l-1.89,2.37z" fill="rgb(53,0,0)"/><circle cx="1345.9" cy="1030" r="3.4" fill="rgb(116,2,2)"/>
<path d="M1325.9,1046.5V1057" stroke="rgb(52,0,0)"/><path d="M1324.04,1056.21q1.88,-1.57 3.75,0l-1.88,2.36z" fill="rgb(52,0,0)"/><circle cx="1325.9" cy="1046.5" r="3.4" fill="rgb(83,2,2)"/>
<path d="M1293.5,1059.9V1069.16" stroke="rgb(46,0,0)"/><path d="M1291.66,1068.39q1.8,-1.54 3.6,0l-1.8,2.31z" fill="rgb(46,0,0)"/><circle cx="1293.5" cy="1059.9" r="3.4" fill="rgb(55,2,2)"/>
<path d="M1293.5,951.5V957.88" stroke="rgb(32,0,0)"/><path d="M1291.95,957.15q1.52,-1.48 3.03,0l-1.52,2.22z" fill="rgb(32,0,0)"/><circle cx="1293.5" cy="951.5" r="3.4" fill="rgb(255,7,7)"/>
<path d="M1269.3,977.4V989.28" stroke="rgb(59,0,0)"/><path d="M1267.32,988.47q1.96,-1.6 3.91,0l-1.96,2.41z" fill="rgb(59,0,0)"/><circle cx="1269.3" cy="977.4" r="3.4" fill="rgb(202,7,7)"/>
<path d="M1236.7,1000.1V1015.15" stroke="rgb(76,0,0)"/><path d="M1234.56,1014.31q2.14,-1.68 4.28,0l-2.14,2.52z" fill="rgb(76,0,0)"/><circle cx="1236.7" cy="1000.1" r="3.4" fill="rgb(156,7,7)"/>
<path d="M1236.7,1070.5V1077.76" stroke="rgb(36,0,0)"/><path d="M1235.06,1077.01q1.65,-1.5 3.29,0l-1.65,2.24z" fill="rgb(36,0,0)"/><circle cx="1236.7" cy="1070.5" r="3.4" fill="rgb(34,2,2)"/>
<path d="M1191.9,1019.6V1035.98" stroke="rgb(83,0,0)"/><path d="M1189.72,1035.12q2.21,-1.71 4.43,0l-2.21,2.56z" fill="rgb(83,0,0)"/><circle cx="1191.9" cy="1019.6" r="3.4" fill="rgb(116,7,7)"/>
<path d="M1173.4,932.1V946.39" stroke="rgb(72,0,0)"/><path d="M1171.28,945.56q2.09,-1.66 4.18,0l-2.09,2.49z" fill="rgb(72,0,0)"/><circle cx="1173.4" cy="932.1" r="3.4" fill="rgb(255,18,18)"/>
<path d="M1129.2,1036V1052.23" stroke="rgb(82,0,0)"/><path d="M1127.01,1051.38q2.2,-1.7 4.4,0l-2.2,2.55z" fill="rgb(82,0,0)"/><circle cx="1129.2" cy="1036" r="3.4" fill="rgb(83,7,7)"/>
<path d="M1129.2,958.1V977.79" stroke="rgb(101,0,0)"/><path d="M1126.81,976.9q2.4,-1.78 4.81,0l-2.4,2.68z" fill="rgb(101,0,0)"/><circle cx="1129.2" cy="958.1" r="3.4" fill="rgb(202,18,18)"/>
<path d="M1129.2,1078.4V1083.52" stroke="rgb(25,0,0)"/><path d="M1127.94,1082.88q1.27,-1.28 2.55,0l-1.27,1.92z" fill="rgb(25,0,0)"/><circle cx="1129.2" cy="1078.4" r="3.4" fill="rgb(18,2,2)"/>
<path d="M1073.4,980.7V1003.67" stroke="rgb(119,0,0)"/><path d="M1070.85,1002.75q2.59,-1.86 5.18,0l-2.59,2.79z" fill="rgb(119,0,0)"/><circle cx="1073.4" cy="980.7" r="3.4" fill="rgb(156,18,18)"/>
<path d="M1040.2,1049.5V1064.41" stroke="rgb(75,0,0)"/><path d="M1038.12,1063.57q2.13,-1.67 4.26,0l-2.13,2.51z" fill="rgb(75,0,0)"/><circle cx="1040.2" cy="1049.5" r="3.4" fill="rgb(55,7,7)"/>
<path d="M1040.2,903.2V925.86" stroke="rgb(118,0,0)"/><path d="M1037.67,924.93q2.57,-1.85 5.14,0l-2.57,2.78z" fill="rgb(118,0,0)"/><circle cx="1040.2" cy="903.2" r="3.4" fill="rgb(255,34,34)"/>
<path d="M1003,1000.3V1024.51" stroke="rgb(127,0,0)"/><path d="M1000.3,1023.56q2.66,-1.89 5.32,0l-2.66,2.83z" fill="rgb(127,0,0)"/><circle cx="1003" cy="1000.3" r="3.4" fill="rgb(116,18,18)"/>
<path d="M982.7,929.1V957.26" stroke="rgb(149,0,0)"/><path d="M979.78,956.27q2.89,-1.98 5.77,0l-2.89,2.97z" fill="rgb(149,0,0)"/><circle cx="982.7" cy="929.1" r="3.4" fill="rgb(202,34,34)"/>
<path d="M914.6,1083.7V1087.1" stroke="rgb(16,0,0)"/><path d="M913.7,1086.67q0.93,-0.85 1.86,0l-0.93,1.27z" fill="rgb(16,0,0)"/><circle cx="914.6" cy="1083.7" r="3.4" fill="rgb(7,2,2)"/>
<path d="M914.6,1060.1V1073.03" stroke="rgb(65,0,0)"/><path d="M912.62,1072.22q2.01,-1.63 4.03,0l-2.01,2.44z" fill="rgb(65,0,0)"/><circle cx="914.6" cy="1060.1" r="3.4" fill="rgb(34,7,7)"/>
<path d="M914.6,1016.8V1040.77" stroke="rgb(126,0,0)"/><path d="M911.98,1039.83q2.65,-1.88 5.3,0l-2.65,2.82z" fill="rgb(126,0,0)"/><circle cx="914.6" cy="1016.8" r="3.4" fill="rgb(83,18,18)"/>
<path d="M914.6,951.8V983.15" stroke="rgb(168,0,0)"/><path d="M911.56,982.13q3.07,-2.05 6.14,0l-3.07,3.08z" fill="rgb(168,0,0)"/><circle cx="914.6" cy="951.8" r="3.4" fill="rgb(156,34,34)"/>
<path d="M914.6,864.1V894.13" stroke="rgb(160,0,0)"/><path d="M911.63,893.12q2.99,-2.02 5.99,0l-2.99,3.03z" fill="rgb(160,0,0)"/><circle cx="914.6" cy="864.1" r="3.4" fill="rgb(255,55,55)"/>
<path d="M852.1,890V925.54" stroke="rgb(193,0,0)"/><path d="M848.8,924.46q3.31,-2.15 6.62,0l-3.31,3.22z" fill="rgb(193,0,0)"/><circle cx="852.1" cy="890" r="3.4" fill="rgb(202,55,55)"/>
<path d="M835.3,971.4V1003.99" stroke="rgb(176,0,0)"/><path d="M832.21,1002.95q3.14,-2.08 6.29,0l-3.14,3.12z" fill="rgb(176,0,0)"/><circle cx="835.3" cy="971.4" r="3.4" fill="rgb(116,34,34)"/>
<path d="M806.4,1030.2V1052.96" stroke="rgb(118,0,0)"/><path d="M803.86,1052.03q2.58,-1.85 5.15,0l-2.58,2.78z" fill="rgb(118,0,0)"/><circle cx="806.4" cy="1030.2" r="3.4" fill="rgb(55,18,18)"/>
<path d="M806.4,814.3V849.19" stroke="rgb(189,0,0)"/><path d="M803.17,848.12q3.27,-2.13 6.54,0l-3.27,3.2z" fill="rgb(189,0,0)"/><circle cx="806.4" cy="814.3" r="3.4" fill="rgb(255,83,83)"/>
<path d="M782.5,912.7V951.43" stroke="rgb(212,0,0)"/><path d="M778.98,950.32q3.49,-2.22 6.98,0l-3.49,3.33z" fill="rgb(212,0,0)"/><circle cx="782.5" cy="912.7" r="3.4" fill="rgb(156,55,55)"/>
<path d="M745.2,1068V1078.65" stroke="rgb(53,0,0)"/><path d="M743.32,1077.87q1.88,-1.57 3.77,0l-1.88,2.36z" fill="rgb(53,0,0)"/><circle cx="745.2" cy="1068" r="3.4" fill="rgb(18,7,7)"/>
<path d="M745.2,987.8V1020.25" stroke="rgb(175,0,0)"/><path d="M742.08,1019.21q3.13,-2.08 6.26,0l-3.13,3.11z" fill="rgb(175,0,0)"/><circle cx="745.2" cy="987.8" r="3.4" fill="rgb(83,34,34)"/>
<path d="M745.2,840.3V880.59" stroke="rgb(222,0,0)"/><path d="M741.62,879.46q3.58,-2.26 7.17,0l-3.58,3.39z" fill="rgb(222,0,0)"/><circle cx="745.2" cy="840.3" r="3.4" fill="rgb(202,83,83)"/>
<path d="M717.7,753.5V789.11" stroke="rgb(194,0,0)"/><path d="M714.43,788.04q3.31,-2.15 6.63,0l-3.31,3.22z" fill="rgb(194,0,0)"/><circle cx="717.7" cy="753.5" r="3.4" fill="rgb(255,116,116)"/>
<path d="M706.6,932.3V972.26" stroke="rgb(220,0,0)"/><path d="M703.01,971.14q3.57,-2.25 7.13,0l-3.57,3.38z" fill="rgb(220,0,0)"/><circle cx="706.6" cy="932.3" r="3.4" fill="rgb(116,55,55)"/>
<path d="M680.2,863V906.48" stroke="rgb(242,0,0)"/><path d="M676.44,905.31q3.77,-2.33 7.54,0l-3.77,3.5z" fill="rgb(242,0,0)"/><circle cx="680.2" cy="863" r="3.4" fill="rgb(156,83,83)"/>
<path d="M680.2,1040.9V1061.58" stroke="rgb(107,0,0)"/><path d="M677.75,1060.68q2.46,-1.81 4.92,0l-2.46,2.71z" fill="rgb(107,0,0)"/><circle cx="680.2" cy="1040.9" r="3.4" fill="rgb(34,18,18)"/>
<path d="M661.1,779.4V820.52" stroke="rgb(227,0,0)"/><path d="M657.51,819.38q3.63,-2.28 7.26,0l-3.63,3.41z" fill="rgb(227,0,0)"/><circle cx="661.1" cy="779.4" r="3.4" fill="rgb(202,116,116)"/>
<path d="M646.7,681.3V712.08" stroke="rgb(165,0,0)"/><path d="M643.7,711.06q3.04,-2.04 6.08,0l-3.04,3.06z" fill="rgb(165,0,0)"/><circle cx="646.7" cy="681.3" r="3.4" fill="rgb(255,156,156)"/>
<path d="M646.7,1001.3V1032.43" stroke="rgb(167,0,0)"/><path d="M643.68,1031.41q3.06,-2.05 6.11,0l-3.06,3.07z" fill="rgb(167,0,0)"/><circle cx="646.7" cy="1001.3" r="3.4" fill="rgb(55,34,34)"/>
<path d="M626.5,948.7V988.52" stroke="rgb(219,0,0)"/><path d="M622.93,987.4q3.55,-2.25 7.11,0l-3.55,3.37z" fill="rgb(219,0,0)"/><circle cx="626.5" cy="948.7" r="3.4" fill="rgb(83,55,55)"/>
<path d="M612.9,882.5V927.31" stroke="rgb(250,0,0)"/><path d="M609.11,926.13q3.84,-2.36 7.68,0l-3.84,3.54z" fill="rgb(250,0,0)"/><circle cx="612.9" cy="882.5" r="3.4" fill="rgb(116,83,83)"/>
<path d="M603.3,802.1V846.4" stroke="rgb(247,0,0)"/><path d="M599.47,845.23q3.81,-2.35 7.62,0l-3.81,3.52z" fill="rgb(247,0,0)"/><circle cx="603.3" cy="802.1" r="3.4" fill="rgb(156,116,116)"/>
<path d="M596,707.2V743.48" stroke="rgb(198,0,0)"/><path d="M592.68,742.4q3.35,-2.16 6.71,0l-3.35,3.25z" fill="rgb(198,0,0)"/><circle cx="596" cy="707.2" r="3.4" fill="rgb(202,156,156)"/>
<path d="M590.4,597.3V616.31" stroke="rgb(97,0,0)"/><path d="M588.04,615.43q2.36,-1.77 4.72,0l-2.36,2.65z" fill="rgb(97,0,0)"/><circle cx="590.4" cy="597.3" r="3.4" fill="rgb(255,202,202)"/>
<path d="M545.7,1086.7V1088.82" stroke="rgb(9,0,0)"/><circle cx="545.7" cy="1086.7" r="3.4" fill="rgb(2,2,2)"/>
<path d="M545.7,1073.3V1081.84" stroke="rgb(42,0,0)"/><path d="M543.93,1081.08q1.76,-1.53 3.53,0l-1.76,2.29z" fill="rgb(42,0,0)"/><circle cx="545.7" cy="1073.3" r="3.4" fill="rgb(7,7,7)"/>
<path d="M545.7,1048.7V1067.19" stroke="rgb(94,0,0)"/><path d="M543.37,1066.31q2.33,-1.75 4.66,0l-2.33,2.63z" fill="rgb(94,0,0)"/><circle cx="545.7" cy="1048.7" r="3.4" fill="rgb(18,18,18)"/>
<path d="M545.7,1011.9V1041.05" stroke="rgb(155,0,0)"/><path d="M542.76,1040.05q2.94,-2 5.88,0l-2.94,3z" fill="rgb(155,0,0)"/><circle cx="545.7" cy="1011.9" r="3.4" fill="rgb(34,34,34)"/>
<path d="M545.7,962.2V1000.7" stroke="rgb(211,0,0)"/><path d="M542.22,999.59q3.48,-2.22 6.96,0l-3.48,3.32z" fill="rgb(211,0,0)"/><circle cx="545.7" cy="962.2" r="3.4" fill="rgb(55,55,55)"/>
<path d="M545.7,821.7V867.23" stroke="rgb(255,0,0)"/><path d="M541.81,866.04q3.89,-2.38 7.77,0l-3.89,3.57z" fill="rgb(255,0,0)"/><circle cx="545.7" cy="821.7" r="3.4" fill="rgb(116,116,116)"/>
<path d="M545.7,729.9V769.36" stroke="rgb(217,0,0)"/><path d="M542.16,768.24q3.54,-2.24 7.07,0l-3.54,3.36z" fill="rgb(217,0,0)"/><circle cx="545.7" cy="729.9" r="3.4" fill="rgb(156,156,156)"/>
<circle cx="545.7" cy="501.4" r="3.4" fill="rgb(255,255,255)"/>
<path d="M545.7,899V943.57" stroke="rgb(249,0,0)"/><path d="M541.87,942.39q3.83,-2.36 7.66,0l-3.83,3.54z" fill="rgb(249,0,0)"/><circle cx="545.7" cy="899" r="3.4" fill="rgb(83,83,83)"/>
<path d="M545.7,623.3V647.71" stroke="rgb(128,0,0)"/><path d="M543.02,646.76q2.68,-1.89 5.35,0l-2.68,2.84z" fill="rgb(128,0,0)"/><circle cx="545.7" cy="623.3" r="3.4" fill="rgb(202,202,202)"/>
<path d="M506.6,527.3V531.8" stroke="rgb(22,0,0)"/><path d="M505.42,531.24q1.15,-1.12 2.29,0l-1.15,1.68z" fill="rgb(22,0,0)"/><circle cx="506.6" cy="527.3" r="3.4" fill="rgb(202,255,255)"/>
<path d="M502.3,645.9V673.59" stroke="rgb(146,0,0)"/><path d="M499.46,672.61q2.86,-1.97 5.72,0l-2.86,2.95z" fill="rgb(146,0,0)"/><circle cx="502.3" cy="645.9" r="3.4" fill="rgb(156,202,202)"/>
<path d="M497,749.4V790.19" stroke="rgb(225,0,0)"/><path d="M493.43,789.05q3.61,-2.27 7.22,0l-3.61,3.4z" fill="rgb(225,0,0)"/><circle cx="497" cy="749.4" r="3.4" fill="rgb(116,156,156)"/>
<path d="M490.3,838.1V883.48" stroke="rgb(254,0,0)"/><path d="M486.44,882.29q3.87,-2.37 7.75,0l-3.87,3.56z" fill="rgb(254,0,0)"/><circle cx="490.3" cy="838.1" r="3.4" fill="rgb(83,116,116)"/>
<path d="M481.4,912.4V955.74" stroke="rgb(241,0,0)"/><path d="M477.69,954.57q3.76,-2.33 7.51,0l-3.76,3.49z" fill="rgb(241,0,0)"/><circle cx="481.4" cy="912.4" r="3.4" fill="rgb(55,83,83)"/>
<path d="M469.3,972.8V1009.3" stroke="rgb(199,0,0)"/><path d="M465.89,1008.22q3.37,-2.17 6.73,0l-3.37,3.25z" fill="rgb(199,0,0)"/><circle cx="469.3" cy="972.8" r="3.4" fill="rgb(34,55,55)"/>
<path d="M469.3,550V557.37" stroke="rgb(37,0,0)"/><path d="M467.59,556.62q1.67,-1.5 3.34,0l-1.67,2.25z" fill="rgb(37,0,0)"/><circle cx="469.3" cy="550" r="3.4" fill="rgb(156,255,255)"/>
<path d="M461.3,665.5V694.41" stroke="rgb(154,0,0)"/><path d="M458.36,693.41q2.93,-2 5.87,0l-2.93,2.99z" fill="rgb(154,0,0)"/><circle cx="461.3" cy="665.5" r="3.4" fill="rgb(116,202,202)"/>
<path d="M451.5,765.9V806.43" stroke="rgb(224,0,0)"/><path d="M447.94,805.3q3.6,-2.26 7.2,0l-3.6,3.4z" fill="rgb(224,0,0)"/><circle cx="451.5" cy="765.9" r="3.4" fill="rgb(83,156,156)"/>
<path d="M451.5,1019.8V1046.64" stroke="rgb(142,0,0)"/><path d="M448.72,1045.67q2.81,-1.95 5.63,0l-2.81,2.92z" fill="rgb(142,0,0)"/><circle cx="451.5" cy="1019.8" r="3.4" fill="rgb(18,34,34)"/>
<path d="M439.3,851.6V895.65" stroke="rgb(246,0,0)"/><path d="M435.53,894.47q3.8,-2.34 7.6,0l-3.8,3.52z" fill="rgb(246,0,0)"/><circle cx="439.3" cy="851.6" r="3.4" fill="rgb(55,116,116)"/>
<path d="M434.6,569.5V578.19" stroke="rgb(43,0,0)"/><path d="M432.79,577.43q1.77,-1.53 3.54,0l-1.77,2.29z" fill="rgb(43,0,0)"/><circle cx="434.6" cy="569.5" r="3.4" fill="rgb(116,255,255)"/>
<path d="M423.7,923V964.34" stroke="rgb(229,0,0)"/><path d="M420.07,963.2q3.64,-2.28 7.28,0l-3.64,3.42z" fill="rgb(229,0,0)"/><circle cx="423.7" cy="923" r="3.4" fill="rgb(34,83,83)"/>
<path d="M423.7,1054V1070.35" stroke="rgb(83,0,0)"/><path d="M421.5,1069.5q2.21,-1.71 4.42,0l-2.21,2.56z" fill="rgb(83,0,0)"/><circle cx="423.7" cy="1054" r="3.4" fill="rgb(7,18,18)"/>
<path d="M423.7,681.9V710.65" stroke="rgb(153,0,0)"/><path d="M420.79,709.66q2.92,-1.99 5.84,0l-2.92,2.99z" fill="rgb(153,0,0)"/><circle cx="423.7" cy="681.9" r="3.4" fill="rgb(83,202,202)"/>
<path d="M410.7,779.3V818.59" stroke="rgb(216,0,0)"/><path d="M407.2,817.48q3.52,-2.23 7.05,0l-3.52,3.35z" fill="rgb(216,0,0)"/><circle cx="410.7" cy="779.3" r="3.4" fill="rgb(55,156,156)"/>
<path d="M403.3,980.7V1014.89" stroke="rgb(185,0,0)"/><path d="M400.03,1013.83q3.24,-2.12 6.47,0l-3.24,3.18z" fill="rgb(185,0,0)"/><circle cx="403.3" cy="980.7" r="3.4" fill="rgb(18,55,55)"/>
<path d="M403.3,586V594.43" stroke="rgb(42,0,0)"/><path d="M401.5,593.67q1.76,-1.52 3.52,0l-1.76,2.29z" fill="rgb(42,0,0)"/><circle cx="403.3" cy="586" r="3.4" fill="rgb(83,255,255)"/>
<path d="M395,862.2V904.24" stroke="rgb(233,0,0)"/><path d="M391.36,903.09q3.68,-2.3 7.37,0l-3.68,3.45z" fill="rgb(233,0,0)"/><circle cx="395" cy="862.2" r="3.4" fill="rgb(34,116,116)"/>
<path d="M390.6,695.4V722.81" stroke="rgb(145,0,0)"/><path d="M387.79,721.83q2.85,-1.96 5.69,0l-2.85,2.94z" fill="rgb(145,0,0)"/><circle cx="390.6" cy="695.4" r="3.4" fill="rgb(55,202,202)"/>
<path d="M376.1,930.9V969.91" stroke="rgb(215,0,0)"/><path d="M372.58,968.8q3.51,-2.23 7.02,0l-3.51,3.34z" fill="rgb(215,0,0)"/><circle cx="376.1" cy="930.9" r="3.4" fill="rgb(18,83,83)"/>
<path d="M376.1,1076.2V1083.21" stroke="rgb(35,0,0)"/><path d="M374.49,1082.47q1.61,-1.49 3.21,0l-1.61,2.24z" fill="rgb(35,0,0)"/><circle cx="376.1" cy="1076.2" r="3.4" fill="rgb(2,7,7)"/>
<path d="M376.1,1025.1V1049.79" stroke="rgb(130,0,0)"/><path d="M373.4,1048.84q2.69,-1.9 5.38,0l-2.69,2.85z" fill="rgb(130,0,0)"/><circle cx="376.1" cy="1025.1" r="3.4" fill="rgb(7,34,34)"/>
<path d="M376.1,789.9V827.19" stroke="rgb(204,0,0)"/><path d="M372.68,826.09q3.41,-2.19 6.82,0l-3.41,3.28z" fill="rgb(204,0,0)"/><circle cx="376.1" cy="789.9" r="3.4" fill="rgb(34,156,156)"/>
<path d="M376.1,599.4V606.59" stroke="rgb(36,0,0)"/><path d="M374.46,605.84q1.63,-1.49 3.27,0l-1.63,2.24z" fill="rgb(36,0,0)"/><circle cx="376.1" cy="599.4" r="3.4" fill="rgb(55,255,255)"/>
<path d="M363,706V731.4" stroke="rgb(134,0,0)"/><path d="M360.28,730.44q2.73,-1.92 5.46,0l-2.73,2.87z" fill="rgb(134,0,0)"/><circle cx="363" cy="706" r="3.4" fill="rgb(34,202,202)"/>
<path d="M359.6,870V909.81" stroke="rgb(219,0,0)"/><path d="M356.01,908.69q3.56,-2.25 7.11,0l-3.56,3.37z" fill="rgb(219,0,0)"/><circle cx="359.6" cy="870" r="3.4" fill="rgb(18,116,116)"/>
<path d="M353.7,985.9V1018.02" stroke="rgb(173,0,0)"/><path d="M350.55,1016.99q3.11,-2.07 6.23,0l-3.11,3.1z" fill="rgb(173,0,0)"/><circle cx="353.7" cy="985.9" r="3.4" fill="rgb(7,55,55)"/>
<path d="M353.7,610V615.3" stroke="rgb(26,0,0)"/><path d="M352.36,614.64q1.31,-1.32 2.62,0l-1.31,1.98z" fill="rgb(26,0,0)"/><circle cx="353.7" cy="610" r="3.4" fill="rgb(34,255,255)"/>
<path d="M348.9,797.8V832.75" stroke="rgb(190,0,0)"/><path d="M345.58,831.69q3.28,-2.14 6.56,0l-3.28,3.2z" fill="rgb(190,0,0)"/><circle cx="348.9" cy="797.8" r="3.4" fill="rgb(18,156,156)"/>
<path d="M341.6,1056.9V1071.69" stroke="rgb(75,0,0)"/><path d="M339.46,1070.85q2.12,-1.67 4.25,0l-2.12,2.51z" fill="rgb(75,0,0)"/><circle cx="341.6" cy="1056.9" r="3.4" fill="rgb(2,18,18)"/>
<path d="M341.6,936.1V973.04" stroke="rgb(202,0,0)"/><path d="M338.19,971.95q3.39,-2.18 6.78,0l-3.39,3.27z" fill="rgb(202,0,0)"/><circle cx="341.6" cy="936.1" r="3.4" fill="rgb(7,83,83)"/>
<path d="M341.6,713.8V736.97" stroke="rgb(121,0,0)"/><path d="M338.98,736.04q2.6,-1.86 5.2,0l-2.6,2.8z" fill="rgb(121,0,0)"/><circle cx="341.6" cy="713.8" r="3.4" fill="rgb(18,202,202)"/>
<path d="M336.4,617.8V621.28" stroke="rgb(16,0,0)"/><path d="M335.5,620.85q0.94,-0.86 1.88,0l-0.94,1.29z" fill="rgb(16,0,0)"/><circle cx="336.4" cy="617.8" r="3.4" fill="rgb(18,255,255)"/>
<path d="M334.4,875.2V912.94" stroke="rgb(206,0,0)"/><path d="M330.98,911.84q3.43,-2.2 6.87,0l-3.43,3.3z" fill="rgb(206,0,0)"/><circle cx="334.4" cy="875.2" r="3.4" fill="rgb(7,116,116)"/>
<path d="M329.8,1027.9V1051.11" stroke="rgb(121,0,0)"/><path d="M327.24,1050.18q2.6,-1.86 5.21,0l-2.6,2.8z" fill="rgb(121,0,0)"/><circle cx="329.8" cy="1027.9" r="3.4" fill="rgb(2,34,34)"/>
<path d="M329.8,803V835.88" stroke="rgb(177,0,0)"/><path d="M326.68,834.83q3.16,-2.09 6.32,0l-3.16,3.13z" fill="rgb(177,0,0)"/><circle cx="329.8" cy="803" r="3.4" fill="rgb(7,156,156)"/>
<path d="M326.8,719V740.09" stroke="rgb(109,0,0)"/><path d="M324.28,739.18q2.48,-1.81 4.96,0l-2.48,2.72z" fill="rgb(109,0,0)"/><circle cx="326.8" cy="719" r="3.4" fill="rgb(7,202,202)"/>
<path d="M324.6,988.8V1019.34" stroke="rgb(164,0,0)"/><path d="M321.57,1018.32q3.03,-2.03 6.05,0l-3.03,3.05z" fill="rgb(164,0,0)"/><circle cx="324.6" cy="988.8" r="3.4" fill="rgb(2,55,55)"/>
<path d="M324.6,623.1V624.78" stroke="rgb(7,0,0)"/><circle cx="324.6" cy="623.1" r="3.4" fill="rgb(7,255,255)"/>
<path d="M321.8,938.9V974.36" stroke="rgb(193,0,0)"/><path d="M318.54,973.28q3.3,-2.14 6.61,0l-3.3,3.22z" fill="rgb(193,0,0)"/><circle cx="321.8" cy="938.9" r="3.4" fill="rgb(2,83,83)"/>
<path d="M320.2,878.1V914.25" stroke="rgb(197,0,0)"/><path d="M316.89,913.17q3.35,-2.16 6.69,0l-3.35,3.24z" fill="rgb(197,0,0)"/><circle cx="320.2" cy="878.1" r="3.4" fill="rgb(2,116,116)"/>
<path d="M319.2,805.8V837.19" stroke="rgb(168,0,0)"/><path d="M316.14,836.16q3.07,-2.05 6.14,0l-3.07,3.08z" fill="rgb(168,0,0)"/><circle cx="319.2" cy="805.8" r="3.4" fill="rgb(2,156,156)"/>
<path d="M318.5,721.9V741.4" stroke="rgb(100,0,0)"/><path d="M316.14,740.51q2.39,-1.78 4.79,0l-2.39,2.67z" fill="rgb(100,0,0)"/><circle cx="318.5" cy="721.9" r="3.4" fill="rgb(2,202,202)"/>
<circle cx="318.1" cy="625.9" r="3.4" fill="rgb(2,255,255)"/>
<path d="M316.2,939.7V974.59" stroke="rgb(189,0,0)"/><path d="M312.95,973.53q3.27,-2.13 6.54,0l-3.27,3.2z" fill="rgb(189,0,0)"/><circle cx="316.2" cy="939.7" r="3.4" fill="rgb(0,83,83)"/>
<path d="M316.2,1087.6V1089.24" stroke="rgb(7,0,0)"/><circle cx="316.2" cy="1087.6" r="3.4" fill="rgb(0,2,2)"/>
<path d="M316.2,1057.7V1071.93" stroke="rgb(72,0,0)"/><path d="M314.13,1071.1q2.09,-1.66 4.18,0l-2.09,2.49z" fill="rgb(72,0,0)"/><circle cx="316.2" cy="1057.7" r="3.4" fill="rgb(0,18,18)"/>
<path d="M316.2,1028.7V1051.35" stroke="rgb(118,0,0)"/><path d="M313.65,1050.43q2.57,-1.85 5.14,0l-2.57,2.78z" fill="rgb(118,0,0)"/><circle cx="316.2" cy="1028.7" r="3.4" fill="rgb(0,34,34)"/>
<path d="M316.2,989.5V1019.58" stroke="rgb(160,0,0)"/><path d="M313.23,1018.57q2.99,-2.02 5.99,0l-2.99,3.03z" fill="rgb(160,0,0)"/><circle cx="316.2" cy="989.5" r="3.4" fill="rgb(0,55,55)"/>
<path d="M316.2,878.9V914.49" stroke="rgb(194,0,0)"/><path d="M312.91,913.41q3.31,-2.15 6.63,0l-3.31,3.22z" fill="rgb(194,0,0)"/><circle cx="316.2" cy="878.9" r="3.4" fill="rgb(0,116,116)"/>
<path d="M316.2,806.6V837.42" stroke="rgb(165,0,0)"/><path d="M313.18,836.4q3.04,-2.04 6.08,0l-3.04,3.06z" fill="rgb(165,0,0)"/><circle cx="316.2" cy="806.6" r="3.4" fill="rgb(0,156,156)"/>
<circle cx="316.2" cy="626.7" r="3.4" fill="rgb(0,255,255)"/>
<path d="M316.2,1077V1083.47" stroke="rgb(32,0,0)"/><path d="M314.7,1082.73q1.52,-1.48 3.03,0l-1.52,2.22z" fill="rgb(32,0,0)"/><circle cx="316.2" cy="1077" r="3.4" fill="rgb(0,7,7)"/>
<path d="M316.2,722.7V741.63" stroke="rgb(97,0,0)"/><path d="M313.86,740.75q2.36,-1.77 4.72,0l-2.36,2.65z" fill="rgb(97,0,0)"/><circle cx="316.2" cy="722.7" r="3.4" fill="rgb(0,202,202)"/>
<circle cx="1383.9" cy="965.6" r="3.4" fill="rgb(255,0,2)"/>
<path d="M1380.1,991.8V996.43" stroke="rgb(22,0,0)"/><path d="M1378.95,995.85q1.18,-1.16 2.35,0l-1.18,1.74z" fill="rgb(22,0,0)"/><circle cx="1380.1" cy="991.8" r="3.4" fill="rgb(202,0,2)"/>
<path d="M1374.7,1014.8V1022.4" stroke="rgb(38,0,0)"/><path d="M1373.01,1021.65q1.7,-1.5 3.4,0l-1.7,2.26z" fill="rgb(38,0,0)"/><circle cx="1374.7" cy="1014.8" r="3.4" fill="rgb(156,0,2)"/>
<path d="M1366.7,1034.9V1043.77" stroke="rgb(44,0,0)"/><path d="M1364.91,1043q1.78,-1.53 3.56,0l-1.78,2.3z" fill="rgb(44,0,0)"/><circle cx="1366.7" cy="1034.9" r="3.4" fill="rgb(116,0,2)"/>
<path d="M1354.2,1052.2V1060.87" stroke="rgb(43,0,0)"/><path d="M1352.42,1060.1q1.77,-1.53 3.54,0l-1.77,2.29z" fill="rgb(43,0,0)"/><circle cx="1354.2" cy="1052.2" r="3.4" fill="rgb(83,0,2)"/>
<path d="M1324.3,964.5V966.62" stroke="rgb(9,0,0)"/><circle cx="1324.3" cy="964.5" r="3.4" fill="rgb(255,2,7)"/>
<path d="M1306.4,991.3V998.02" stroke="rgb(34,0,0)"/><path d="M1304.79,997.28q1.57,-1.49 3.14,0l-1.57,2.23z" fill="rgb(34,0,0)"/><circle cx="1306.4" cy="991.3" r="3.4" fill="rgb(202,2,7)"/>
<path d="M1333.3,1067.1V1074.47" stroke="rgb(37,0,0)"/><path d="M1331.65,1073.72q1.67,-1.5 3.33,0l-1.67,2.25z" fill="rgb(37,0,0)"/><circle cx="1333.3" cy="1067.1" r="3.4" fill="rgb(55,0,2)"/>
<circle cx="1333.3" cy="968.2" r="3.4" fill="rgb(255,0,7)"/>
<path d="M1281.7,1015.1V1025.05" stroke="rgb(49,0,0)"/><path d="M1279.83,1024.28q1.84,-1.56 3.69,0l-1.84,2.34z" fill="rgb(49,0,0)"/><circle cx="1281.7" cy="1015.1" r="3.4" fill="rgb(156,2,7)"/>
<path d="M1317.3,995.2V1000.27" stroke="rgb(25,0,0)"/><path d="M1316.07,999.64q1.26,-1.27 2.52,0l-1.26,1.9z" fill="rgb(25,0,0)"/><circle cx="1317.3" cy="995.2" r="3.4" fill="rgb(202,0,7)"/>
<path d="M1216.6,955.5V962.66" stroke="rgb(36,0,0)"/><path d="M1214.94,961.92q1.63,-1.49 3.27,0l-1.63,2.24z" fill="rgb(36,0,0)"/><circle cx="1216.6" cy="955.5" r="3.4" fill="rgb(255,7,18)"/>
<path d="M1178.1,982.7V995.29" stroke="rgb(63,0,0)"/><path d="M1176.06,994.48q2,-1.62 4,0l-2,2.43z" fill="rgb(63,0,0)"/><circle cx="1178.1" cy="982.7" r="3.4" fill="rgb(202,7,18)"/>
<path d="M1295.2,1080.3V1085.79" stroke="rgb(27,0,0)"/><path d="M1293.85,1085.11q1.34,-1.36 2.68,0l-1.34,2.04z" fill="rgb(27,0,0)"/><circle cx="1295.2" cy="1080.3" r="3.4" fill="rgb(34,0,2)"/>
<path d="M1295.2,1019.4V1027.5" stroke="rgb(40,0,0)"/><path d="M1293.46,1026.74q1.74,-1.52 3.47,0l-1.74,2.27z" fill="rgb(40,0,0)"/><circle cx="1295.2" cy="1019.4" r="3.4" fill="rgb(156,0,7)"/>
<path d="M1246.7,1036.3V1047.52" stroke="rgb(56,0,0)"/><path d="M1244.81,1046.73q1.92,-1.59 3.84,0l-1.92,2.38z" fill="rgb(56,0,0)"/><circle cx="1246.7" cy="1036.3" r="3.4" fill="rgb(116,2,7)"/>
<path d="M1084.6,937V952.01" stroke="rgb(76,0,0)"/><path d="M1082.51,951.17q2.14,-1.68 4.27,0l-2.14,2.51z" fill="rgb(76,0,0)"/><circle cx="1084.6" cy="937" r="3.4" fill="rgb(255,18,34)"/>
<path d="M548.8,596.4V613.54" stroke="rgb(87,0,0)"/><path d="M546.58,612.68q2.26,-1.72 4.51,0l-2.26,2.59z" fill="rgb(87,0,0)"/><circle cx="548.8" cy="596.4" r="3.4" fill="rgb(255,202,255)"/>
<path d="M597.8,681.9V711.58" stroke="rgb(159,0,0)"/><path d="M594.85,710.57q2.98,-2.01 5.95,0l-2.98,3.02z" fill="rgb(159,0,0)"/><circle cx="597.8" cy="681.9" r="3.4" fill="rgb(255,156,202)"/>
<path d="M952.8,908.1V931.41" stroke="rgb(122,0,0)"/><path d="M950.24,930.47q2.61,-1.87 5.22,0l-2.61,2.8z" fill="rgb(122,0,0)"/><circle cx="952.8" cy="908.1" r="3.4" fill="rgb(255,34,55)"/>
<path d="M506.2,622.7V645.33" stroke="rgb(117,0,0)"/><path d="M503.66,644.41q2.57,-1.85 5.14,0l-2.57,2.77z" fill="rgb(117,0,0)"/><circle cx="506.2" cy="622.7" r="3.4" fill="rgb(202,202,255)"/>
<path d="M1128,1006.9V1022.77" stroke="rgb(80,0,0)"/><path d="M1125.79,1021.92q2.18,-1.69 4.36,0l-2.18,2.54z" fill="rgb(80,0,0)"/><circle cx="1128" cy="1006.9" r="3.4" fill="rgb(156,7,18)"/>
<path d="M659.9,755.5V790.68" stroke="rgb(191,0,0)"/><path d="M656.62,789.61q3.29,-2.14 6.58,0l-3.29,3.21z" fill="rgb(191,0,0)"/><circle cx="659.9" cy="755.5" r="3.4" fill="rgb(255,116,156)"/>
<path d="M1029.2,964.2V984.73" stroke="rgb(106,0,0)"/><path d="M1026.78,983.83q2.45,-1.8 4.9,0l-2.45,2.7z" fill="rgb(106,0,0)"/><circle cx="1029.2" cy="964.2" r="3.4" fill="rgb(202,18,34)"/>
<path d="M465.3,645.8V671.59" stroke="rgb(136,0,0)"/><path d="M462.54,670.63q2.75,-1.92 5.5,0l-2.75,2.89z" fill="rgb(136,0,0)"/><circle cx="465.3" cy="645.8" r="3.4" fill="rgb(156,202,255)"/>
<path d="M835.7,868.4V898.85" stroke="rgb(163,0,0)"/><path d="M832.71,897.84q3.02,-2.03 6.04,0l-3.02,3.05z" fill="rgb(163,0,0)"/><circle cx="835.7" cy="868.4" r="3.4" fill="rgb(255,55,83)"/>
<path d="M738.3,817.6V852.53" stroke="rgb(190,0,0)"/><path d="M735,851.46q3.28,-2.13 6.55,0l-3.28,3.2z" fill="rgb(190,0,0)"/><circle cx="738.3" cy="817.6" r="3.4" fill="rgb(255,83,116)"/>
<path d="M549.2,708.3V743.48" stroke="rgb(191,0,0)"/><path d="M545.9,742.41q3.29,-2.14 6.58,0l-3.29,3.21z" fill="rgb(191,0,0)"/><circle cx="549.2" cy="708.3" r="3.4" fill="rgb(202,156,202)"/>
<path d="M1242.5,968.5V971.24" stroke="rgb(12,0,0)"/><circle cx="1242.5" cy="968.5" r="3.4" fill="rgb(255,2,18)"/>
<path d="M426.9,665.7V692.77" stroke="rgb(143,0,0)"/><path d="M424.1,691.79q2.83,-1.95 5.65,0l-2.83,2.93z" fill="rgb(143,0,0)"/><circle cx="426.9" cy="665.7" r="3.4" fill="rgb(116,202,255)"/>
<path d="M1263.6,1041.1V1050.51" stroke="rgb(47,0,0)"/><path d="M1261.76,1049.74q1.81,-1.55 3.62,0l-1.81,2.32z" fill="rgb(47,0,0)"/><circle cx="1263.6" cy="1041.1" r="3.4" fill="rgb(116,0,7)"/>
<path d="M604.9,782.1V822.72" stroke="rgb(224,0,0)"/><path d="M601.33,821.59q3.6,-2.27 7.21,0l-3.6,3.4z" fill="rgb(224,0,0)"/><circle cx="604.9" cy="782.1" r="3.4" fill="rgb(202,116,156)"/>
<path d="M501.5,731.5V769.85" stroke="rgb(211,0,0)"/><path d="M498.03,768.75q3.47,-2.21 6.95,0l-3.47,3.32z" fill="rgb(211,0,0)"/><circle cx="501.5" cy="731.5" r="3.4" fill="rgb(156,156,202)"/>
<path d="M1195.7,1055.1V1066.18" stroke="rgb(55,0,0)"/><path d="M1193.77,1065.38q1.91,-1.58 3.81,0l-1.91,2.38z" fill="rgb(55,0,0)"/><circle cx="1195.7" cy="1055.1" r="3.4" fill="rgb(83,2,7)"/>
<path d="M392.1,682.5V709.33" stroke="rgb(142,0,0)"/><path d="M389.26,708.36q2.81,-1.95 5.63,0l-2.81,2.92z" fill="rgb(142,0,0)"/><circle cx="392.1" cy="682.5" r="3.4" fill="rgb(83,202,255)"/>
<path d="M889,935.2V964.02" stroke="rgb(153,0,0)"/><path d="M886.12,963.02q2.92,-1.99 5.85,0l-2.92,2.99z" fill="rgb(153,0,0)"/><circle cx="889" cy="935.2" r="3.4" fill="rgb(202,34,55)"/>
<path d="M677.4,844.3V884.74" stroke="rgb(223,0,0)"/><path d="M673.86,883.61q3.59,-2.26 7.18,0l-3.59,3.39z" fill="rgb(223,0,0)"/><circle cx="677.4" cy="844.3" r="3.4" fill="rgb(202,83,116)"/>
<path d="M361.6,696.2V721.77" stroke="rgb(135,0,0)"/><path d="M358.9,720.81q2.74,-1.92 5.48,0l-2.74,2.88z" fill="rgb(135,0,0)"/><circle cx="361.6" cy="696.2" r="3.4" fill="rgb(55,202,255)"/>
<path d="M771.1,895.3V931.27" stroke="rgb(196,0,0)"/><path d="M767.78,930.19q3.33,-2.16 6.67,0l-3.33,3.24z" fill="rgb(196,0,0)"/><circle cx="771.1" cy="895.3" r="3.4" fill="rgb(202,55,83)"/>
<path d="M456,751.5V791.15" stroke="rgb(219,0,0)"/><path d="M452.41,790.03q3.55,-2.24 7.1,0l-3.55,3.37z" fill="rgb(219,0,0)"/><circle cx="456" cy="751.5" r="3.4" fill="rgb(116,156,202)"/>
<path d="M549.6,805.4V849.25" stroke="rgb(244,0,0)"/><path d="M545.85,848.08q3.79,-2.34 7.57,0l-3.79,3.51z" fill="rgb(244,0,0)"/><circle cx="549.6" cy="805.4" r="3.4" fill="rgb(156,116,156)"/>
<path d="M336.4,707V730.6" stroke="rgb(123,0,0)"/><path d="M333.77,729.66q2.63,-1.87 5.25,0l-2.63,2.81z" fill="rgb(123,0,0)"/><circle cx="336.4" cy="707" r="3.4" fill="rgb(34,202,255)"/>
<path d="M1250,972.2V973.38" stroke="rgb(5,0,0)"/><circle cx="1250" cy="972.2" r="3.4" fill="rgb(255,0,18)"/>
<path d="M316.9,715V736.34" stroke="rgb(110,0,0)"/><path d="M314.41,735.43q2.5,-1.82 4.99,0l-2.5,2.73z" fill="rgb(110,0,0)"/><circle cx="316.9" cy="715" r="3.4" fill="rgb(18,202,255)"/>
<path d="M413.9,768.3V807.83" stroke="rgb(217,0,0)"/><path d="M410.32,806.71q3.54,-2.24 7.07,0l-3.54,3.36z" fill="rgb(217,0,0)"/><circle cx="413.9" cy="768.3" r="3.4" fill="rgb(83,156,202)"/>
<path d="M961.8,988.5V1012.22" stroke="rgb(124,0,0)"/><path d="M959.13,1011.28q2.63,-1.88 5.26,0l-2.63,2.81z" fill="rgb(124,0,0)"/><circle cx="961.8" cy="988.5" r="3.4" fill="rgb(156,18,34)"/>
<path d="M303.5,720.4V739.59" stroke="rgb(99,0,0)"/><path d="M301.1,738.7q2.37,-1.77 4.75,0l-2.37,2.66z" fill="rgb(99,0,0)"/><circle cx="303.5" cy="720.4" r="3.4" fill="rgb(7,202,255)"/>
<path d="M296,723.3V740.97" stroke="rgb(90,0,0)"/><path d="M293.75,740.1q2.29,-1.74 4.57,0l-2.29,2.61z" fill="rgb(90,0,0)"/><circle cx="296" cy="723.3" r="3.4" fill="rgb(2,202,255)"/>
<path d="M294,724.1V741.22" stroke="rgb(87,0,0)"/><path d="M291.7,740.36q2.26,-1.72 4.51,0l-2.26,2.59z" fill="rgb(87,0,0)"/><circle cx="294" cy="724.1" r="3.4" fill="rgb(0,202,255)"/>
<path d="M614.2,867.9V911.48" stroke="rgb(243,0,0)"/><path d="M610.45,910.31q3.77,-2.33 7.54,0l-3.77,3.5z" fill="rgb(243,0,0)"/><circle cx="614.2" cy="867.9" r="3.4" fill="rgb(156,83,116)"/>
<path d="M1062.2,1028.6V1045.69" stroke="rgb(87,0,0)"/><path d="M1059.99,1044.83q2.25,-1.72 4.51,0l-2.25,2.59z" fill="rgb(87,0,0)"/><circle cx="1062.2" cy="1028.6" r="3.4" fill="rgb(116,7,18)"/>
<path d="M495.5,825.6V870.7" stroke="rgb(252,0,0)"/><path d="M491.63,869.52q3.86,-2.37 7.72,0l-3.86,3.55z" fill="rgb(252,0,0)"/><circle cx="495.5" cy="825.6" r="3.4" fill="rgb(116,116,156)"/>
<path d="M376.5,782.2V820.37" stroke="rgb(209,0,0)"/><path d="M373.03,819.27q3.46,-2.21 6.92,0l-3.46,3.31z" fill="rgb(209,0,0)"/><circle cx="376.5" cy="782.2" r="3.4" fill="rgb(55,156,202)"/>
<path d="M701,919.1V958.26" stroke="rgb(215,0,0)"/><path d="M697.52,957.14q3.52,-2.23 7.03,0l-3.52,3.35z" fill="rgb(215,0,0)"/><circle cx="701" cy="919.1" r="3.4" fill="rgb(156,55,83)"/>
<path d="M816.1,959.3V991.29" stroke="rgb(172,0,0)"/><path d="M812.98,990.25q3.11,-2.07 6.21,0l-3.11,3.1z" fill="rgb(172,0,0)"/><circle cx="816.1" cy="959.3" r="3.4" fill="rgb(156,34,55)"/>
<path d="M345.1,793.1V829.29" stroke="rgb(197,0,0)"/><path d="M341.72,828.21q3.35,-2.16 6.69,0l-3.35,3.24z" fill="rgb(197,0,0)"/><circle cx="345.1" cy="793.1" r="3.4" fill="rgb(34,156,202)"/>
<path d="M1208,996.5V1003.99" stroke="rgb(37,0,0)"/><path d="M1206.29,1003.24q1.69,-1.5 3.37,0l-1.69,2.25z" fill="rgb(37,0,0)"/><circle cx="1208" cy="996.5" r="3.4" fill="rgb(202,2,18)"/>
<path d="M444.2,842.6V887.55" stroke="rgb(251,0,0)"/><path d="M440.37,886.37q3.85,-2.36 7.7,0l-3.85,3.55z" fill="rgb(251,0,0)"/><circle cx="444.2" cy="842.6" r="3.4" fill="rgb(83,116,156)"/>
<path d="M320.5,801.2V835.11" stroke="rgb(184,0,0)"/><path d="M317.33,834.05q3.22,-2.11 6.44,0l-3.22,3.17z" fill="rgb(184,0,0)"/><circle cx="320.5" cy="801.2" r="3.4" fill="rgb(18,156,202)"/>
<path d="M550.2,888.3V933.16" stroke="rgb(251,0,0)"/><path d="M546.36,931.98q3.85,-2.36 7.69,0l-3.85,3.54z" fill="rgb(251,0,0)"/><circle cx="550.2" cy="888.3" r="3.4" fill="rgb(116,83,116)"/>
<path d="M303.5,806.6V838.41" stroke="rgb(171,0,0)"/><path d="M300.41,837.37q3.1,-2.06 6.19,0l-3.1,3.09z" fill="rgb(171,0,0)"/><circle cx="303.5" cy="806.6" r="3.4" fill="rgb(7,156,202)"/>
<path d="M294,809.5V839.81" stroke="rgb(162,0,0)"/><path d="M291.02,838.8q3.01,-2.03 6.02,0l-3.01,3.04z" fill="rgb(162,0,0)"/><circle cx="294" cy="809.5" r="3.4" fill="rgb(2,156,202)"/>
<path d="M291.4,810.4V840.08" stroke="rgb(159,0,0)"/><path d="M288.38,839.07q2.98,-2.01 5.95,0l-2.98,3.02z" fill="rgb(159,0,0)"/><circle cx="291.4" cy="810.4" r="3.4" fill="rgb(0,156,202)"/>
<path d="M397.7,856.6V900.25" stroke="rgb(243,0,0)"/><path d="M393.95,899.09q3.77,-2.33 7.55,0l-3.77,3.5z" fill="rgb(243,0,0)"/><circle cx="397.7" cy="856.6" r="3.4" fill="rgb(55,116,156)"/>
<path d="M626.9,939.8V980.25" stroke="rgb(223,0,0)"/><path d="M623.29,979.12q3.59,-2.26 7.18,0l-3.59,3.39z" fill="rgb(223,0,0)"/><circle cx="626.9" cy="939.8" r="3.4" fill="rgb(116,55,83)"/>
<path d="M357.9,867.7V909.31" stroke="rgb(231,0,0)"/><path d="M354.2,908.17q3.66,-2.29 7.32,0l-3.66,3.43z" fill="rgb(231,0,0)"/><circle cx="357.9" cy="867.7" r="3.4" fill="rgb(34,116,156)"/>
<path d="M487.6,905.6V950.25" stroke="rgb(249,0,0)"/><path d="M483.76,949.07q3.83,-2.36 7.67,0l-3.83,3.54z" fill="rgb(249,0,0)"/><circle cx="487.6" cy="905.6" r="3.4" fill="rgb(83,83,116)"/>
<path d="M880.3,1010V1035" stroke="rgb(131,0,0)"/><path d="M877.6,1034.04q2.71,-1.91 5.41,0l-2.71,2.86z" fill="rgb(131,0,0)"/><circle cx="880.3" cy="1010" r="3.4" fill="rgb(116,18,34)"/>
<path d="M1216.8,1093.6V1097.23" stroke="rgb(17,0,0)"/><path d="M1215.81,1096.78q0.97,-0.9 1.94,0l-0.97,1.35z" fill="rgb(17,0,0)"/><circle cx="1216.8" cy="1093.6" r="3.4" fill="rgb(18,0,2)"/>
<path d="M1216.8,1060.8V1070" stroke="rgb(45,0,0)"/><path d="M1214.98,1069.23q1.8,-1.54 3.6,0l-1.8,2.31z" fill="rgb(45,0,0)"/><circle cx="1216.8" cy="1060.8" r="3.4" fill="rgb(83,0,7)"/>
<path d="M1216.8,1000.4V1006.09" stroke="rgb(28,0,0)"/><path d="M1215.4,1005.38q1.38,-1.41 2.76,0l-1.38,2.12z" fill="rgb(28,0,0)"/><circle cx="1216.8" cy="1000.4" r="3.4" fill="rgb(202,0,18)"/>
<path d="M734.2,980.4V1013.67" stroke="rgb(180,0,0)"/><path d="M731.05,1012.62q3.18,-2.1 6.36,0l-3.18,3.14z" fill="rgb(180,0,0)"/><circle cx="734.2" cy="980.4" r="3.4" fill="rgb(116,34,55)"/>
<path d="M326.3,875.9V915.25" stroke="rgb(217,0,0)"/><path d="M322.73,914.13q3.53,-2.24 7.06,0l-3.53,3.35z" fill="rgb(217,0,0)"/><circle cx="326.3" cy="875.9" r="3.4" fill="rgb(18,116,156)"/>
<path d="M304.1,881.4V918.63" stroke="rgb(204,0,0)"/><path d="M300.64,917.54q3.41,-2.19 6.82,0l-3.41,3.28z" fill="rgb(204,0,0)"/><circle cx="304.1" cy="881.4" r="3.4" fill="rgb(7,116,156)"/>
<path d="M1118.7,1072.2V1081.98" stroke="rgb(48,0,0)"/><path d="M1116.88,1081.2q1.83,-1.55 3.66,0l-1.83,2.33z" fill="rgb(48,0,0)"/><circle cx="1118.7" cy="1072.2" r="3.4" fill="rgb(55,2,7)"/>
<path d="M1118.7,960.3V968.21" stroke="rgb(39,0,0)"/><path d="M1116.98,967.45q1.73,-1.51 3.46,0l-1.73,2.27z" fill="rgb(39,0,0)"/><circle cx="1118.7" cy="960.3" r="3.4" fill="rgb(255,7,34)"/>
<path d="M291.6,884.4V920.09" stroke="rgb(194,0,0)"/><path d="M288.28,919.01q3.32,-2.15 6.64,0l-3.32,3.23z" fill="rgb(194,0,0)"/><circle cx="291.6" cy="884.4" r="3.4" fill="rgb(2,116,156)"/>
<path d="M429,919.8V963.2" stroke="rgb(241,0,0)"/><path d="M425.27,962.04q3.76,-2.33 7.52,0l-3.76,3.49z" fill="rgb(241,0,0)"/><circle cx="429" cy="919.8" r="3.4" fill="rgb(55,83,116)"/>
<path d="M288.1,885.2V920.37" stroke="rgb(191,0,0)"/><path d="M284.79,919.3q3.29,-2.14 6.58,0l-3.29,3.21z" fill="rgb(191,0,0)"/><circle cx="288.1" cy="885.2" r="3.4" fill="rgb(0,116,156)"/>
<path d="M551,957.5V997.7" stroke="rgb(222,0,0)"/><path d="M547.4,996.57q3.58,-2.26 7.16,0l-3.58,3.38z" fill="rgb(222,0,0)"/><circle cx="551" cy="957.5" r="3.4" fill="rgb(83,55,83)"/>
<path d="M975.8,1047.8V1064.71" stroke="rgb(86,0,0)"/><path d="M973.54,1063.85q2.24,-1.72 4.49,0l-2.24,2.58z" fill="rgb(86,0,0)"/><circle cx="975.8" cy="1047.8" r="3.4" fill="rgb(83,7,18)"/>
<path d="M377.4,931.1V972.49" stroke="rgb(229,0,0)"/><path d="M373.78,971.35q3.65,-2.28 7.29,0l-3.65,3.42z" fill="rgb(229,0,0)"/><circle cx="377.4" cy="931.1" r="3.4" fill="rgb(34,83,116)"/>
<path d="M1162.3,1021.9V1032.58" stroke="rgb(53,0,0)"/><path d="M1160.38,1031.8q1.89,-1.58 3.77,0l-1.89,2.36z" fill="rgb(53,0,0)"/><circle cx="1162.3" cy="1021.9" r="3.4" fill="rgb(156,2,18)"/>
<path d="M645.1,998.5V1031.62" stroke="rgb(179,0,0)"/><path d="M641.89,1030.57q3.17,-2.09 6.34,0l-3.17,3.14z" fill="rgb(179,0,0)"/><circle cx="645.1" cy="998.5" r="3.4" fill="rgb(83,34,55)"/>
<path d="M335.6,939.5V978.62" stroke="rgb(215,0,0)"/><path d="M332.05,977.51q3.52,-2.23 7.03,0l-3.52,3.35z" fill="rgb(215,0,0)"/><circle cx="335.6" cy="939.5" r="3.4" fill="rgb(18,83,116)"/>
<path d="M476.8,972.1V1011.03" stroke="rgb(214,0,0)"/><path d="M473.29,1009.92q3.5,-2.23 7.01,0l-3.5,3.34z" fill="rgb(214,0,0)"/><circle cx="476.8" cy="972.1" r="3.4" fill="rgb(55,55,83)"/>
<path d="M783.7,1028.8V1053.56" stroke="rgb(130,0,0)"/><path d="M781.06,1052.61q2.69,-1.9 5.39,0l-2.69,2.85z" fill="rgb(130,0,0)"/><circle cx="783.7" cy="1028.8" r="3.4" fill="rgb(83,18,34)"/>
<path d="M305.6,945.1V982.15" stroke="rgb(202,0,0)"/><path d="M302.23,981.06q3.39,-2.18 6.79,0l-3.39,3.27z" fill="rgb(202,0,0)"/><circle cx="305.6" cy="945.1" r="3.4" fill="rgb(7,83,116)"/>
<path d="M288.6,948.2V983.69" stroke="rgb(193,0,0)"/><path d="M285.33,982.61q3.31,-2.15 6.61,0l-3.31,3.22z" fill="rgb(193,0,0)"/><circle cx="288.6" cy="948.2" r="3.4" fill="rgb(2,83,116)"/>
<path d="M283.8,949.1V983.99" stroke="rgb(190,0,0)"/><path d="M280.54,982.92q3.28,-2.13 6.55,0l-3.28,3.2z" fill="rgb(190,0,0)"/><circle cx="283.8" cy="949.1" r="3.4" fill="rgb(0,83,116)"/>
<path d="M1172.5,1026.2V1034.99" stroke="rgb(44,0,0)"/><path d="M1170.72,1034.22q1.78,-1.53 3.56,0l-1.78,2.3z" fill="rgb(44,0,0)"/><circle cx="1172.5" cy="1026.2" r="3.4" fill="rgb(156,0,18)"/>
<path d="M1065.8,988.7V1002.1" stroke="rgb(67,0,0)"/><path d="M1063.78,1001.28q2.04,-1.64 4.08,0l-2.04,2.46z" fill="rgb(67,0,0)"/><circle cx="1065.8" cy="988.7" r="3.4" fill="rgb(202,7,34)"/>
<path d="M408.7,983.8V1020.71" stroke="rgb(202,0,0)"/><path d="M405.29,1019.62q3.39,-2.18 6.78,0l-3.39,3.27z" fill="rgb(202,0,0)"/><circle cx="408.7" cy="983.8" r="3.4" fill="rgb(34,55,83)"/>
<path d="M986.1,941.7V957.42" stroke="rgb(79,0,0)"/><path d="M983.95,956.58q2.17,-1.69 4.35,0l-2.17,2.54z" fill="rgb(79,0,0)"/><circle cx="986.1" cy="941.7" r="3.4" fill="rgb(255,18,55)"/>
<path d="M552.1,1013.8V1045.56" stroke="rgb(171,0,0)"/><path d="M548.97,1044.53q3.1,-2.06 6.19,0l-3.1,3.09z" fill="rgb(171,0,0)"/><circle cx="552.1" cy="1013.8" r="3.4" fill="rgb(55,34,55)"/>
<path d="M552.1,680.8V708.67" stroke="rgb(148,0,0)"/><path d="M549.2,707.69q2.87,-1.97 5.74,0l-2.87,2.96z" fill="rgb(148,0,0)"/><circle cx="552.1" cy="680.8" r="3.4" fill="rgb(255,156,255)"/>
<path d="M1139,973.2V976.57" stroke="rgb(15,0,0)"/><path d="M1138.06,976.15q0.92,-0.83 1.83,0l-0.92,1.25z" fill="rgb(15,0,0)"/><circle cx="1139" cy="973.2" r="3.4" fill="rgb(255,2,34)"/>
<path d="M351.4,992.5V1027.18" stroke="rgb(188,0,0)"/><path d="M348.17,1026.12q3.26,-2.13 6.52,0l-3.26,3.19z" fill="rgb(188,0,0)"/><circle cx="351.4" cy="992.5" r="3.4" fill="rgb(18,55,83)"/>
<path d="M605.4,755.9V790.02" stroke="rgb(185,0,0)"/><path d="M602.2,788.96q3.23,-2.11 6.45,0l-3.23,3.17z" fill="rgb(185,0,0)"/><circle cx="605.4" cy="755.9" r="3.4" fill="rgb(255,116,202)"/>
<path d="M505.9,707.6V740.95" stroke="rgb(180,0,0)"/><path d="M502.7,739.9q3.18,-2.1 6.37,0l-3.18,3.15z" fill="rgb(180,0,0)"/><circle cx="505.9" cy="707.6" r="3.4" fill="rgb(202,156,255)"/>
<path d="M863.2,1064.9V1080.49" stroke="rgb(79,0,0)"/><path d="M860.99,1079.64q2.17,-1.69 4.34,0l-2.17,2.53z" fill="rgb(79,0,0)"/><circle cx="863.2" cy="1064.9" r="3.4" fill="rgb(55,7,18)"/>
<path d="M863.2,912.2V935.96" stroke="rgb(124,0,0)"/><path d="M860.53,935.02q2.64,-1.88 5.27,0l-2.64,2.82z" fill="rgb(124,0,0)"/><circle cx="863.2" cy="912.2" r="3.4" fill="rgb(255,34,83)"/>
<path d="M309.3,998.4V1030.97" stroke="rgb(175,0,0)"/><path d="M306.19,1029.93q3.14,-2.08 6.28,0l-3.14,3.12z" fill="rgb(175,0,0)"/><circle cx="309.3" cy="998.4" r="3.4" fill="rgb(7,55,83)"/>
<path d="M673.2,1044.9V1068.37" stroke="rgb(123,0,0)"/><path d="M670.54,1067.44q2.62,-1.87 5.24,0l-2.62,2.81z" fill="rgb(123,0,0)"/><circle cx="673.2" cy="1044.9" r="3.4" fill="rgb(55,18,34)"/>
<path d="M673.2,819.4V853.91" stroke="rgb(187,0,0)"/><path d="M669.91,852.85q3.25,-2.12 6.5,0l-3.25,3.19z" fill="rgb(187,0,0)"/><circle cx="673.2" cy="819.4" r="3.4" fill="rgb(255,83,156)"/>
<path d="M1144.8,1079.3V1087.15" stroke="rgb(39,0,0)"/><path d="M1143.12,1086.4q1.73,-1.51 3.45,0l-1.73,2.27z" fill="rgb(39,0,0)"/><circle cx="1144.8" cy="1079.3" r="3.4" fill="rgb(55,0,7)"/>
<path d="M1144.8,976.9V978.68" stroke="rgb(8,0,0)"/><circle cx="1144.8" cy="976.9" r="3.4" fill="rgb(255,0,34)"/>
<path d="M758.4,871.5V902.01" stroke="rgb(163,0,0)"/><path d="M755.35,901q3.02,-2.03 6.05,0l-3.02,3.05z" fill="rgb(163,0,0)"/><circle cx="758.4" cy="871.5" r="3.4" fill="rgb(255,55,116)"/>
<path d="M1100.9,1045.1V1057.07" stroke="rgb(60,0,0)"/><path d="M1098.89,1056.26q1.96,-1.61 3.92,0l-1.96,2.41z" fill="rgb(60,0,0)"/><circle cx="1100.9" cy="1045.1" r="3.4" fill="rgb(116,2,18)"/>
<path d="M285,1001.6V1032.67" stroke="rgb(166,0,0)"/><path d="M281.95,1031.65q3.05,-2.04 6.1,0l-3.05,3.07z" fill="rgb(166,0,0)"/><circle cx="285" cy="1001.6" r="3.4" fill="rgb(2,55,83)"/>
<path d="M278,1002.5V1033.01" stroke="rgb(163,0,0)"/><path d="M275.02,1032q3.02,-2.03 6.04,0l-3.02,3.05z" fill="rgb(163,0,0)"/><circle cx="278" cy="1002.5" r="3.4" fill="rgb(0,55,83)"/>
<path d="M461.1,1026.1V1055.89" stroke="rgb(159,0,0)"/><path d="M458.14,1054.88q2.98,-2.02 5.96,0l-2.98,3.02z" fill="rgb(159,0,0)"/><circle cx="461.1" cy="1026.1" r="3.4" fill="rgb(34,34,55)"/>
<path d="M461.1,731.1V767.67" stroke="rgb(199,0,0)"/><path d="M457.76,766.59q3.37,-2.17 6.73,0l-3.37,3.26z" fill="rgb(199,0,0)"/><circle cx="461.1" cy="731.1" r="3.4" fill="rgb(156,156,255)"/>
<path d="M552.8,783V822.53" stroke="rgb(218,0,0)"/><path d="M549.25,821.41q3.54,-2.24 7.08,0l-3.54,3.36z" fill="rgb(218,0,0)"/><circle cx="552.8" cy="783" r="3.4" fill="rgb(202,116,202)"/>
<path d="M922,970.1V991.28" stroke="rgb(110,0,0)"/><path d="M919.47,990.37q2.49,-1.82 4.98,0l-2.49,2.73z" fill="rgb(110,0,0)"/><circle cx="922" cy="970.1" r="3.4" fill="rgb(202,18,55)"/>
<path d="M418.9,751.5V789.29" stroke="rgb(207,0,0)"/><path d="M415.41,788.19q3.44,-2.2 6.88,0l-3.44,3.3z" fill="rgb(207,0,0)"/><circle cx="418.9" cy="751.5" r="3.4" fill="rgb(116,156,255)"/>
<path d="M999.9,1014.5V1031.1" stroke="rgb(84,0,0)"/><path d="M997.68,1030.24q2.22,-1.71 4.45,0l-2.22,2.57z" fill="rgb(84,0,0)"/><circle cx="999.9" cy="1014.5" r="3.4" fill="rgb(156,7,34)"/>
<path d="M999.9,1088.5V1096.2" stroke="rgb(38,0,0)"/><path d="M998.18,1095.45q1.72,-1.51 3.44,0l-1.72,2.26z" fill="rgb(38,0,0)"/><circle cx="999.9" cy="1088.5" r="3.4" fill="rgb(34,2,7)"/>
<path d="M614,846.8V886.73" stroke="rgb(220,0,0)"/><path d="M610.43,885.6q3.56,-2.25 7.13,0l-3.56,3.37z" fill="rgb(220,0,0)"/><circle cx="614" cy="846.8" r="3.4" fill="rgb(202,83,156)"/>
<path d="M500.6,806.8V849.51" stroke="rgb(237,0,0)"/><path d="M496.92,848.35q3.72,-2.31 7.45,0l-3.72,3.47z" fill="rgb(237,0,0)"/><circle cx="500.6" cy="806.8" r="3.4" fill="rgb(156,116,202)"/>
<path d="M795.9,940.3V969.51" stroke="rgb(156,0,0)"/><path d="M792.91,968.51q2.95,-2 5.9,0l-2.95,3z" fill="rgb(156,0,0)"/><circle cx="795.9" cy="940.3" r="3.4" fill="rgb(202,34,83)"/>
<path d="M693.7,899.2V935.18" stroke="rgb(196,0,0)"/><path d="M690.34,934.1q3.34,-2.16 6.68,0l-3.34,3.24z" fill="rgb(196,0,0)"/><circle cx="693.7" cy="899.2" r="3.4" fill="rgb(202,55,116)"/>
<path d="M380.2,1035.5V1063.01" stroke="rgb(146,0,0)"/><path d="M377.33,1062.02q2.85,-1.96 5.7,0l-2.85,2.95z" fill="rgb(146,0,0)"/><circle cx="380.2" cy="1035.5" r="3.4" fill="rgb(18,34,55)"/>
<path d="M380.2,768.6V806.27" stroke="rgb(206,0,0)"/><path d="M376.75,805.17q3.43,-2.2 6.86,0l-3.43,3.29z" fill="rgb(206,0,0)"/><circle cx="380.2" cy="768.6" r="3.4" fill="rgb(83,156,255)"/>
<path d="M1112.6,1049.9V1059.97" stroke="rgb(50,0,0)"/><path d="M1110.72,1059.19q1.85,-1.56 3.71,0l-1.85,2.34z" fill="rgb(50,0,0)"/><circle cx="1112.6" cy="1049.9" r="3.4" fill="rgb(116,0,18)"/>
<path d="M1088,1002.4V1010.67" stroke="rgb(41,0,0)"/><path d="M1086.2,1009.91q1.75,-1.52 3.49,0l-1.75,2.28z" fill="rgb(41,0,0)"/><circle cx="1088" cy="1002.4" r="3.4" fill="rgb(202,2,34)"/>
<path d="M346.2,782.8V819.07" stroke="rgb(198,0,0)"/><path d="M342.82,817.99q3.36,-2.17 6.71,0l-3.36,3.25z" fill="rgb(198,0,0)"/><circle cx="346.2" cy="782.8" r="3.4" fill="rgb(55,156,255)"/>
<path d="M450.3,827.3V871.4" stroke="rgb(245,0,0)"/><path d="M446.54,870.22q3.8,-2.34 7.6,0l-3.8,3.52z" fill="rgb(245,0,0)"/><circle cx="450.3" cy="827.3" r="3.4" fill="rgb(116,116,202)"/>
<path d="M553.7,1058.3V1079.84" stroke="rgb(111,0,0)"/><path d="M551.19,1078.93q2.51,-1.82 5.01,0l-2.51,2.74z" fill="rgb(111,0,0)"/><circle cx="553.7" cy="1058.3" r="3.4" fill="rgb(34,18,34)"/>
<path d="M553.7,870.9V914.05" stroke="rgb(240,0,0)"/><path d="M549.95,912.88q3.75,-2.32 7.49,0l-3.75,3.48z" fill="rgb(240,0,0)"/><circle cx="553.7" cy="870.9" r="3.4" fill="rgb(156,83,156)"/>
<path d="M317.8,1041.9V1067.32" stroke="rgb(134,0,0)"/><path d="M315.08,1066.36q2.73,-1.91 5.46,0l-2.73,2.87z" fill="rgb(134,0,0)"/><circle cx="317.8" cy="1041.9" r="3.4" fill="rgb(7,34,55)"/>
<path d="M317.8,793.9V828.19" stroke="rgb(186,0,0)"/><path d="M314.57,827.13q3.24,-2.12 6.48,0l-3.24,3.18z" fill="rgb(186,0,0)"/><circle cx="317.8" cy="793.9" r="3.4" fill="rgb(34,156,255)"/>
<path d="M1094.4,1006.3V1012.68" stroke="rgb(32,0,0)"/><path d="M1092.92,1011.94q1.51,-1.48 3.01,0l-1.51,2.21z" fill="rgb(32,0,0)"/><circle cx="1094.4" cy="1006.3" r="3.4" fill="rgb(202,0,34)"/>
<path d="M295.8,802.1V834.18" stroke="rgb(172,0,0)"/><path d="M292.71,833.14q3.11,-2.07 6.22,0l-3.11,3.1z" fill="rgb(172,0,0)"/><circle cx="295.8" cy="802.1" r="3.4" fill="rgb(18,156,255)"/>
<path d="M846.8,995.7V1020.04" stroke="rgb(128,0,0)"/><path d="M844.17,1019.1q2.67,-1.89 5.34,0l-2.67,2.84z" fill="rgb(128,0,0)"/><circle cx="846.8" cy="995.7" r="3.4" fill="rgb(156,18,55)"/>
<path d="M403.4,844.8V888.63" stroke="rgb(244,0,0)"/><path d="M399.59,887.46q3.79,-2.34 7.57,0l-3.79,3.51z" fill="rgb(244,0,0)"/><circle cx="403.4" cy="844.8" r="3.4" fill="rgb(83,116,202)"/>
<path d="M625.3,923.7V962.94" stroke="rgb(216,0,0)"/><path d="M621.77,961.82q3.52,-2.23 7.04,0l-3.52,3.35z" fill="rgb(216,0,0)"/><circle cx="625.3" cy="923.7" r="3.4" fill="rgb(156,55,116)"/>
<path d="M1011.3,964.9V973.45" stroke="rgb(43,0,0)"/><path d="M1009.53,972.68q1.77,-1.53 3.53,0l-1.77,2.29z" fill="rgb(43,0,0)"/><circle cx="1011.3" cy="964.9" r="3.4" fill="rgb(255,7,55)"/>
<path d="M280.6,1045.5V1069.35" stroke="rgb(125,0,0)"/><path d="M277.97,1068.41q2.64,-1.88 5.28,0l-2.64,2.82z" fill="rgb(125,0,0)"/><circle cx="280.6" cy="1045.5" r="3.4" fill="rgb(2,34,55)"/>
<path d="M280.6,807.6V837.58" stroke="rgb(160,0,0)"/><path d="M277.63,836.57q2.99,-2.02 5.98,0l-2.99,3.03z" fill="rgb(160,0,0)"/><circle cx="280.6" cy="807.6" r="3.4" fill="rgb(7,156,255)"/>
<path d="M272.2,810.6V839.05" stroke="rgb(151,0,0)"/><path d="M269.28,838.06q2.9,-1.98 5.8,0l-2.9,2.98z" fill="rgb(151,0,0)"/><circle cx="272.2" cy="810.6" r="3.4" fill="rgb(2,156,255)"/>
<path d="M269.8,1046.5V1069.79" stroke="rgb(122,0,0)"/><path d="M267.2,1068.86q2.61,-1.87 5.22,0l-2.61,2.8z" fill="rgb(122,0,0)"/><circle cx="269.8" cy="1046.5" r="3.4" fill="rgb(0,34,55)"/>
<path d="M269.8,811.5V839.33" stroke="rgb(148,0,0)"/><path d="M266.94,838.35q2.87,-1.97 5.74,0l-2.87,2.96z" fill="rgb(148,0,0)"/><circle cx="269.8" cy="811.5" r="3.4" fill="rgb(0,156,255)"/>
<path d="M721.4,965.3V997.78" stroke="rgb(175,0,0)"/><path d="M718.24,996.74q3.13,-2.08 6.27,0l-3.13,3.11z" fill="rgb(175,0,0)"/><circle cx="721.4" cy="965.3" r="3.4" fill="rgb(156,34,83)"/>
<path d="M721.4,1080V1093.64" stroke="rgb(68,0,0)"/><path d="M719.32,1092.82q2.05,-1.64 4.11,0l-2.05,2.46z" fill="rgb(68,0,0)"/><circle cx="721.4" cy="1080" r="3.4" fill="rgb(34,7,18)"/>
<path d="M493.9,891.9V936.3" stroke="rgb(248,0,0)"/><path d="M490.04,935.12q3.82,-2.35 7.64,0l-3.82,3.53z" fill="rgb(248,0,0)"/><circle cx="493.9" cy="891.9" r="3.4" fill="rgb(116,83,156)"/>
<path d="M361.3,859.1V901.68" stroke="rgb(236,0,0)"/><path d="M357.62,900.52q3.71,-2.31 7.42,0l-3.71,3.46z" fill="rgb(236,0,0)"/><circle cx="361.3" cy="859.1" r="3.4" fill="rgb(55,116,202)"/>
<path d="M1017.5,1066.5V1078.28" stroke="rgb(59,0,0)"/><path d="M1015.51,1077.48q1.95,-1.6 3.9,0l-1.95,2.4z" fill="rgb(59,0,0)"/><circle cx="1017.5" cy="1066.5" r="3.4" fill="rgb(83,2,18)"/>
<path d="M918,1037.9V1055.8" stroke="rgb(91,0,0)"/><path d="M915.68,1054.92q2.3,-1.74 4.6,0l-2.3,2.61z" fill="rgb(91,0,0)"/><circle cx="918" cy="1037.9" r="3.4" fill="rgb(116,7,34)"/>
<path d="M325.7,870.5V911.02" stroke="rgb(224,0,0)"/><path d="M322.11,909.89q3.6,-2.26 7.19,0l-3.6,3.39z" fill="rgb(224,0,0)"/><circle cx="325.7" cy="870.5" r="3.4" fill="rgb(34,116,202)"/>
<path d="M436.5,1069V1088.23" stroke="rgb(99,0,0)"/><path d="M434.1,1087.34q2.38,-1.77 4.75,0l-2.38,2.66z" fill="rgb(99,0,0)"/><circle cx="436.5" cy="1069" r="3.4" fill="rgb(18,18,34)"/>
<path d="M436.5,909.7V953.91" stroke="rgb(247,0,0)"/><path d="M432.67,952.74q3.81,-2.35 7.62,0l-3.81,3.52z" fill="rgb(247,0,0)"/><circle cx="436.5" cy="909.7" r="3.4" fill="rgb(83,83,156)"/>
<path d="M554.9,945.2V985.69" stroke="rgb(224,0,0)"/><path d="M551.26,984.56q3.59,-2.26 7.19,0l-3.59,3.39z" fill="rgb(224,0,0)"/><circle cx="554.9" cy="945.2" r="3.4" fill="rgb(116,55,116)"/>
<path d="M297.7,878.9V917.18" stroke="rgb(210,0,0)"/><path d="M294.26,916.07q3.47,-2.21 6.94,0l-3.47,3.32z" fill="rgb(210,0,0)"/><circle cx="297.7" cy="878.9" r="3.4" fill="rgb(18,116,202)"/>
<path d="M278.2,884.5V920.71" stroke="rgb(197,0,0)"/><path d="M274.85,919.63q3.35,-2.16 6.69,0l-3.35,3.24z" fill="rgb(197,0,0)"/><circle cx="278.2" cy="884.5" r="3.4" fill="rgb(7,116,202)"/>
<path d="M1023.5,1029.2V1040.68" stroke="rgb(57,0,0)"/><path d="M1021.52,1039.88q1.93,-1.59 3.86,0l-1.93,2.39z" fill="rgb(57,0,0)"/><circle cx="1023.5" cy="1029.2" r="3.4" fill="rgb(156,2,34)"/>
<path d="M267.3,887.6V922.26" stroke="rgb(188,0,0)"/><path d="M264.04,921.19q3.26,-2.13 6.52,0l-3.26,3.19z" fill="rgb(188,0,0)"/><circle cx="267.3" cy="887.6" r="3.4" fill="rgb(2,116,202)"/>
<path d="M264.2,888.5V922.56" stroke="rgb(185,0,0)"/><path d="M261,921.5q3.23,-2.11 6.45,0l-3.23,3.17z" fill="rgb(185,0,0)"/><circle cx="264.2" cy="888.5" r="3.4" fill="rgb(0,116,202)"/>
<path d="M886.6,945.6V961.71" stroke="rgb(82,0,0)"/><path d="M884.43,960.86q2.2,-1.7 4.4,0l-2.2,2.55z" fill="rgb(82,0,0)"/><circle cx="886.6" cy="945.6" r="3.4" fill="rgb(255,18,83)"/>
<path d="M640.8,987.5V1021.19" stroke="rgb(182,0,0)"/><path d="M637.58,1020.13q3.21,-2.11 6.41,0l-3.21,3.16z" fill="rgb(182,0,0)"/><circle cx="640.8" cy="987.5" r="3.4" fill="rgb(116,34,83)"/>
<path d="M555.3,754.6V786.84" stroke="rgb(173,0,0)"/><path d="M552.2,785.8q3.12,-2.07 6.24,0l-3.12,3.11z" fill="rgb(173,0,0)"/><circle cx="555.3" cy="754.6" r="3.4" fill="rgb(255,116,255)"/>
<path d="M383.8,924.4V967.33" stroke="rgb(239,0,0)"/><path d="M380.07,966.17q3.73,-2.32 7.47,0l-3.73,3.48z" fill="rgb(239,0,0)"/><circle cx="383.8" cy="924.4" r="3.4" fill="rgb(55,83,156)"/>
<path d="M760.3,1018.5V1044.19" stroke="rgb(135,0,0)"/><path d="M757.55,1043.23q2.74,-1.92 5.49,0l-2.74,2.88z" fill="rgb(135,0,0)"/><circle cx="760.3" cy="1018.5" r="3.4" fill="rgb(116,18,55)"/>
<path d="M1026.1,977.7V981.55" stroke="rgb(18,0,0)"/><path d="M1025.1,981.06q1.03,-0.97 2.05,0l-1.03,1.46z" fill="rgb(18,0,0)"/><circle cx="1026.1" cy="977.7" r="3.4" fill="rgb(255,2,55)"/>
<path d="M947.3,994.3V1008.37" stroke="rgb(71,0,0)"/><path d="M945.25,1007.54q2.08,-1.65 4.16,0l-2.08,2.48z" fill="rgb(71,0,0)"/><circle cx="947.3" cy="994.3" r="3.4" fill="rgb(202,7,55)"/>
<path d="M484.8,963.6V1003.86" stroke="rgb(222,0,0)"/><path d="M481.17,1002.73q3.58,-2.26 7.17,0l-3.58,3.39z" fill="rgb(222,0,0)"/><circle cx="484.8" cy="963.6" r="3.4" fill="rgb(83,55,116)"/>
<path d="M612.9,819.6V852.95" stroke="rgb(180,0,0)"/><path d="M609.74,851.9q3.19,-2.1 6.38,0l-3.19,3.15z" fill="rgb(180,0,0)"/><circle cx="612.9" cy="819.6" r="3.4" fill="rgb(255,83,202)"/>
<path d="M338.2,1076.6V1093.72" stroke="rgb(87,0,0)"/><path d="M335.91,1092.85q2.25,-1.72 4.51,0l-2.25,2.59z" fill="rgb(87,0,0)"/><circle cx="338.2" cy="1076.6" r="3.4" fill="rgb(7,18,34)"/>
<path d="M338.2,936.1V977.01" stroke="rgb(226,0,0)"/><path d="M334.54,975.88q3.62,-2.27 7.24,0l-3.62,3.41z" fill="rgb(226,0,0)"/><circle cx="338.2" cy="936.1" r="3.4" fill="rgb(34,83,156)"/>
<path d="M776.8,915V938.81" stroke="rgb(125,0,0)"/><path d="M774.21,937.87q2.64,-1.88 5.28,0l-2.64,2.82z" fill="rgb(125,0,0)"/><circle cx="776.8" cy="915" r="3.4" fill="rgb(255,34,116)"/>
<path d="M1030.4,1111.8V1113.71" stroke="rgb(8,0,0)"/><circle cx="1030.4" cy="1111.8" r="3.4" fill="rgb(7,0,2)"/>
<path d="M1030.4,1097.8V1103.71" stroke="rgb(29,0,0)"/><path d="M1028.99,1102.97q1.42,-1.47 2.85,0l-1.42,2.2z" fill="rgb(29,0,0)"/><circle cx="1030.4" cy="1097.8" r="3.4" fill="rgb(34,0,7)"/>
<path d="M1030.4,1033.4V1043" stroke="rgb(47,0,0)"/><path d="M1028.59,1042.23q1.82,-1.55 3.64,0l-1.82,2.33z" fill="rgb(47,0,0)"/><circle cx="1030.4" cy="1033.4" r="3.4" fill="rgb(156,0,34)"/>
<path d="M1030.4,1072V1081.92" stroke="rgb(49,0,0)"/><path d="M1028.57,1081.15q1.84,-1.56 3.68,0l-1.84,2.34z" fill="rgb(49,0,0)"/><circle cx="1030.4" cy="1072" r="3.4" fill="rgb(83,0,18)"/>
<path d="M1030.4,981.3V983.62" stroke="rgb(10,0,0)"/><circle cx="1030.4" cy="981.3" r="3.4" fill="rgb(255,0,55)"/>
<path d="M685.9,873V903.08" stroke="rgb(161,0,0)"/><path d="M682.88,902.06q3,-2.02 6,0l-3,3.03z" fill="rgb(161,0,0)"/><circle cx="685.9" cy="873" r="3.4" fill="rgb(255,55,156)"/>
<path d="M505.5,782V819.66" stroke="rgb(206,0,0)"/><path d="M502.09,818.57q3.43,-2.2 6.87,0l-3.43,3.3z" fill="rgb(206,0,0)"/><circle cx="505.5" cy="782" r="3.4" fill="rgb(202,116,255)"/>
<path d="M301.7,944.8V983.45" stroke="rgb(212,0,0)"/><path d="M298.17,982.34q3.49,-2.22 6.98,0l-3.49,3.33z" fill="rgb(212,0,0)"/><circle cx="301.7" cy="944.8" r="3.4" fill="rgb(18,83,156)"/>
<path d="M418.1,978.8V1017.85" stroke="rgb(214,0,0)"/><path d="M414.57,1016.73q3.51,-2.23 7.02,0l-3.51,3.34z" fill="rgb(214,0,0)"/><circle cx="418.1" cy="978.8" r="3.4" fill="rgb(55,55,116)"/>
<path d="M275.8,950.6V987.19" stroke="rgb(200,0,0)"/><path d="M272.46,986.1q3.37,-2.17 6.74,0l-3.37,3.26z" fill="rgb(200,0,0)"/><circle cx="275.8" cy="950.6" r="3.4" fill="rgb(7,83,156)"/>
<path d="M275.8,1080.9V1096.53" stroke="rgb(79,0,0)"/><path d="M273.66,1095.68q2.17,-1.69 4.33,0l-2.17,2.53z" fill="rgb(79,0,0)"/><circle cx="275.8" cy="1080.9" r="3.4" fill="rgb(2,18,34)"/>
<path d="M556.4,1006.6V1040.14" stroke="rgb(181,0,0)"/><path d="M553.19,1039.09q3.2,-2.1 6.39,0l-3.2,3.15z" fill="rgb(181,0,0)"/><circle cx="556.4" cy="1006.6" r="3.4" fill="rgb(83,34,83)"/>
<path d="M556.4,1093.2V1104.52" stroke="rgb(57,0,0)"/><path d="M554.46,1103.72q1.92,-1.59 3.85,0l-1.92,2.39z" fill="rgb(57,0,0)"/><circle cx="556.4" cy="1093.2" r="3.4" fill="rgb(18,7,18)"/>
<path d="M556.4,847.3V886.16" stroke="rgb(214,0,0)"/><path d="M552.89,885.04q3.5,-2.22 7,0l-3.5,3.34z" fill="rgb(214,0,0)"/><circle cx="556.4" cy="847.3" r="3.4" fill="rgb(202,83,202)"/>
<path d="M456.9,806V846.94" stroke="rgb(226,0,0)"/><path d="M453.25,845.8q3.62,-2.27 7.23,0l-3.62,3.41z" fill="rgb(226,0,0)"/><circle cx="456.9" cy="806" r="3.4" fill="rgb(156,116,255)"/>
<path d="M261.3,953.8V988.85" stroke="rgb(190,0,0)"/><path d="M258,987.78q3.28,-2.14 6.56,0l-3.28,3.2z" fill="rgb(190,0,0)"/><circle cx="261.3" cy="953.8" r="3.4" fill="rgb(2,83,156)"/>
<path d="M257.2,1082.2V1097.21" stroke="rgb(76,0,0)"/><path d="M255.03,1096.38q2.14,-1.68 4.27,0l-2.14,2.51z" fill="rgb(76,0,0)"/><circle cx="257.2" cy="1082.2" r="3.4" fill="rgb(0,18,34)"/>
<path d="M257.2,954.7V989.18" stroke="rgb(187,0,0)"/><path d="M253.92,988.12q3.25,-2.12 6.5,0l-3.25,3.19z" fill="rgb(187,0,0)"/><circle cx="257.2" cy="954.7" r="3.4" fill="rgb(0,83,156)"/>
<path d="M817.4,1059.1V1076.8" stroke="rgb(90,0,0)"/><path d="M815.14,1075.93q2.29,-1.74 4.57,0l-2.29,2.61z" fill="rgb(90,0,0)"/><circle cx="817.4" cy="1059.1" r="3.4" fill="rgb(83,7,34)"/>
<path d="M817.4,974.8V996.38" stroke="rgb(112,0,0)"/><path d="M814.91,995.47q2.51,-1.83 5.03,0l-2.51,2.74z" fill="rgb(112,0,0)"/><circle cx="817.4" cy="974.8" r="3.4" fill="rgb(202,18,83)"/>
<path d="M817.4,1105V1110.5" stroke="rgb(28,0,0)"/><path d="M816.06,1109.8q1.36,-1.39 2.72,0l-1.36,2.08z" fill="rgb(28,0,0)"/><circle cx="817.4" cy="1105" r="3.4" fill="rgb(18,2,7)"/>
<path d="M622.8,901.2V936.74" stroke="rgb(194,0,0)"/><path d="M619.5,935.67q3.31,-2.15 6.62,0l-3.31,3.22z" fill="rgb(194,0,0)"/><circle cx="622.8" cy="901.2" r="3.4" fill="rgb(202,55,156)"/>
<path d="M663.1,1038.7V1064.17" stroke="rgb(134,0,0)"/><path d="M660.4,1063.21q2.73,-1.92 5.47,0l-2.73,2.87z" fill="rgb(134,0,0)"/><circle cx="663.1" cy="1038.7" r="3.4" fill="rgb(83,18,55)"/>
<path d="M708.8,943.7V972.99" stroke="rgb(156,0,0)"/><path d="M705.87,971.99q2.95,-2 5.91,0l-2.95,3.01z" fill="rgb(156,0,0)"/><circle cx="708.8" cy="943.7" r="3.4" fill="rgb(202,34,116)"/>
<path d="M410.5,826.9V869.09" stroke="rgb(234,0,0)"/><path d="M406.85,867.94q3.69,-2.3 7.38,0l-3.69,3.45z" fill="rgb(234,0,0)"/><circle cx="410.5" cy="826.9" r="3.4" fill="rgb(116,116,255)"/>
<path d="M358.4,991.1V1028.07" stroke="rgb(202,0,0)"/><path d="M355.02,1026.98q3.39,-2.18 6.79,0l-3.39,3.27z" fill="rgb(202,0,0)"/><circle cx="358.4" cy="991.1" r="3.4" fill="rgb(34,55,116)"/>
<path d="M962.5,1007.8V1016.72" stroke="rgb(44,0,0)"/><path d="M960.69,1015.95q1.79,-1.54 3.57,0l-1.79,2.3z" fill="rgb(44,0,0)"/><circle cx="962.5" cy="1007.8" r="3.4" fill="rgb(202,2,55)"/>
<path d="M499.8,871.8V913.85" stroke="rgb(233,0,0)"/><path d="M496.1,912.7q3.68,-2.3 7.37,0l-3.68,3.45z" fill="rgb(233,0,0)"/><circle cx="499.8" cy="871.8" r="3.4" fill="rgb(156,83,202)"/>
<path d="M871.1,1021.2V1038.46" stroke="rgb(88,0,0)"/><path d="M868.83,1037.59q2.26,-1.73 4.53,0l-2.26,2.59z" fill="rgb(88,0,0)"/><circle cx="871.1" cy="1021.2" r="3.4" fill="rgb(156,7,55)"/>
<path d="M941.9,1054V1066.73" stroke="rgb(64,0,0)"/><path d="M939.85,1065.92q2,-1.62 4.01,0l-2,2.43z" fill="rgb(64,0,0)"/><circle cx="941.9" cy="1054" r="3.4" fill="rgb(116,2,34)"/>
<path d="M904.1,968.4V977.46" stroke="rgb(45,0,0)"/><path d="M902.35,976.69q1.79,-1.54 3.58,0l-1.79,2.31z" fill="rgb(45,0,0)"/><circle cx="904.1" cy="968.4" r="3.4" fill="rgb(255,7,83)"/>
<path d="M904.1,1086.8V1097.21" stroke="rgb(52,0,0)"/><path d="M902.27,1096.42q1.87,-1.57 3.75,0l-1.87,2.36z" fill="rgb(52,0,0)"/><circle cx="904.1" cy="1086.8" r="3.4" fill="rgb(55,2,18)"/>
<path d="M471.9,1022.8V1055.01" stroke="rgb(173,0,0)"/><path d="M468.8,1053.97q3.12,-2.07 6.24,0l-3.12,3.11z" fill="rgb(173,0,0)"/><circle cx="471.9" cy="1022.8" r="3.4" fill="rgb(55,34,83)"/>
<path d="M367.8,844.6V886.56" stroke="rgb(233,0,0)"/><path d="M364.16,885.41q3.68,-2.3 7.36,0l-3.68,3.44z" fill="rgb(233,0,0)"/><circle cx="367.8" cy="844.6" r="3.4" fill="rgb(83,116,255)"/>
<path d="M966.9,1011.6V1018.65" stroke="rgb(35,0,0)"/><path d="M965.26,1017.91q1.62,-1.49 3.23,0l-1.62,2.24z" fill="rgb(35,0,0)"/><circle cx="966.9" cy="1011.6" r="3.4" fill="rgb(202,0,55)"/>
<path d="M309.4,1000.2V1034.99" stroke="rgb(188,0,0)"/><path d="M306.12,1033.92q3.26,-2.13 6.53,0l-3.26,3.19z" fill="rgb(188,0,0)"/><circle cx="309.4" cy="1000.2" r="3.4" fill="rgb(18,55,116)"/>
<path d="M557.7,926.2V964.96" stroke="rgb(213,0,0)"/><path d="M554.21,963.85q3.5,-2.22 6.99,0l-3.5,3.33z" fill="rgb(213,0,0)"/><circle cx="557.7" cy="926.2" r="3.4" fill="rgb(156,55,156)"/>
<path d="M444.6,893.1V936.43" stroke="rgb(241,0,0)"/><path d="M440.85,935.27q3.76,-2.33 7.52,0l-3.76,3.49z" fill="rgb(241,0,0)"/><circle cx="444.6" cy="893.1" r="3.4" fill="rgb(116,83,202)"/>
<path d="M330,859.1V899.8" stroke="rgb(225,0,0)"/><path d="M326.43,898.67q3.61,-2.27 7.21,0l-3.61,3.4z" fill="rgb(225,0,0)"/><circle cx="330" cy="859.1" r="3.4" fill="rgb(55,116,255)"/>
<path d="M274,1006.5V1039.08" stroke="rgb(176,0,0)"/><path d="M270.81,1038.04q3.14,-2.08 6.29,0l-3.14,3.12z" fill="rgb(176,0,0)"/><circle cx="274" cy="1006.5" r="3.4" fill="rgb(7,55,116)"/>
<path d="M739.5,1001.1V1025.95" stroke="rgb(130,0,0)"/><path d="M736.76,1025q2.7,-1.9 5.39,0l-2.7,2.85z" fill="rgb(130,0,0)"/><circle cx="739.5" cy="1001.1" r="3.4" fill="rgb(156,18,83)"/>
<path d="M949,1058.6V1069.48" stroke="rgb(54,0,0)"/><path d="M947.11,1068.69q1.9,-1.58 3.79,0l-1.9,2.37z" fill="rgb(54,0,0)"/><circle cx="949" cy="1058.6" r="3.4" fill="rgb(116,0,34)"/>
<path d="M635.8,969.4V1001.86" stroke="rgb(175,0,0)"/><path d="M632.66,1000.82q3.14,-2.08 6.27,0l-3.14,3.12z" fill="rgb(175,0,0)"/><circle cx="635.8" cy="969.4" r="3.4" fill="rgb(156,34,116)"/>
<path d="M253.7,1009.9V1040.95" stroke="rgb(167,0,0)"/><path d="M250.67,1039.93q3.06,-2.05 6.11,0l-3.06,3.07z" fill="rgb(167,0,0)"/><circle cx="253.7" cy="1009.9" r="3.4" fill="rgb(2,55,116)"/>
<path d="M248,1010.8V1041.34" stroke="rgb(163,0,0)"/><path d="M244.94,1040.33q3.02,-2.03 6.05,0l-3.02,3.05z" fill="rgb(163,0,0)"/><circle cx="248" cy="1010.8" r="3.4" fill="rgb(0,55,116)"/>
<path d="M298.3,870.6V909.3" stroke="rgb(212,0,0)"/><path d="M294.83,908.19q3.49,-2.22 6.98,0l-3.49,3.33z" fill="rgb(212,0,0)"/><circle cx="298.3" cy="870.6" r="3.4" fill="rgb(34,116,255)"/>
<path d="M792.4,948V964.17" stroke="rgb(82,0,0)"/><path d="M790.19,963.32q2.2,-1.7 4.41,0l-2.2,2.55z" fill="rgb(82,0,0)"/><circle cx="792.4" cy="948" r="3.4" fill="rgb(255,18,116)"/>
<path d="M558.5,1056.2V1080.35" stroke="rgb(126,0,0)"/><path d="M555.82,1079.41q2.66,-1.89 5.32,0l-2.66,2.83z" fill="rgb(126,0,0)"/><circle cx="558.5" cy="1056.2" r="3.4" fill="rgb(55,18,55)"/>
<path d="M558.5,817.8V849.36" stroke="rgb(169,0,0)"/><path d="M555.39,848.34q3.08,-2.06 6.16,0l-3.08,3.08z" fill="rgb(169,0,0)"/><circle cx="558.5" cy="817.8" r="3.4" fill="rgb(255,83,255)"/>
<path d="M392.6,1103.7V1112.92" stroke="rgb(46,0,0)"/><path d="M390.8,1112.15q1.8,-1.54 3.61,0l-1.8,2.31z" fill="rgb(46,0,0)"/><circle cx="392.6" cy="1103.7" r="3.4" fill="rgb(7,7,18)"/>
<path d="M392.6,1035.9V1066.14" stroke="rgb(162,0,0)"/><path d="M389.6,1065.13q3.01,-2.03 6.01,0l-3.01,3.04z" fill="rgb(162,0,0)"/><circle cx="392.6" cy="1035.9" r="3.4" fill="rgb(34,34,83)"/>
<path d="M392.6,911.2V954.34" stroke="rgb(240,0,0)"/><path d="M388.86,953.18q3.75,-2.32 7.49,0l-3.75,3.49z" fill="rgb(240,0,0)"/><circle cx="392.6" cy="911.2" r="3.4" fill="rgb(83,83,202)"/>
<path d="M273.6,879.2V915.58" stroke="rgb(199,0,0)"/><path d="M270.25,914.49q3.36,-2.17 6.72,0l-3.36,3.25z" fill="rgb(199,0,0)"/><circle cx="273.6" cy="879.2" r="3.4" fill="rgb(18,116,255)"/>
<path d="M914.4,981V985.29" stroke="rgb(20,0,0)"/><path d="M913.26,984.76q1.1,-1.06 2.2,0l-1.1,1.59z" fill="rgb(20,0,0)"/><circle cx="914.4" cy="981" r="3.4" fill="rgb(255,2,83)"/>
<path d="M492.2,948.1V988.14" stroke="rgb(221,0,0)"/><path d="M488.67,987.02q3.57,-2.25 7.14,0l-3.57,3.38z" fill="rgb(221,0,0)"/><circle cx="492.2" cy="948.1" r="3.4" fill="rgb(116,55,156)"/>
<path d="M256.5,884.9V919.19" stroke="rgb(186,0,0)"/><path d="M253.23,918.13q3.24,-2.12 6.48,0l-3.24,3.18z" fill="rgb(186,0,0)"/><circle cx="256.5" cy="884.9" r="3.4" fill="rgb(7,116,255)"/>
<path d="M620,872.7V901.68" stroke="rgb(154,0,0)"/><path d="M617.07,900.68q2.94,-2 5.87,0l-2.94,3z" fill="rgb(154,0,0)"/><circle cx="620" cy="872.7" r="3.4" fill="rgb(255,55,202)"/>
<path d="M697.4,1078.3V1094.65" stroke="rgb(83,0,0)"/><path d="M695.15,1093.8q2.21,-1.71 4.43,0l-2.21,2.56z" fill="rgb(83,0,0)"/><circle cx="697.4" cy="1078.3" r="3.4" fill="rgb(55,7,34)"/>
<path d="M697.4,916V939.43" stroke="rgb(122,0,0)"/><path d="M694.74,938.5q2.61,-1.87 5.23,0l-2.61,2.8z" fill="rgb(122,0,0)"/><circle cx="697.4" cy="916" r="3.4" fill="rgb(255,34,156)"/>
<path d="M246.9,888V920.78" stroke="rgb(177,0,0)"/><path d="M243.78,919.73q3.15,-2.08 6.3,0l-3.15,3.13z" fill="rgb(177,0,0)"/><circle cx="246.9" cy="888" r="3.4" fill="rgb(2,116,255)"/>
<path d="M244.3,888.9V921.09" stroke="rgb(173,0,0)"/><path d="M241.13,920.05q3.12,-2.07 6.24,0l-3.12,3.11z" fill="rgb(173,0,0)"/><circle cx="244.3" cy="888.9" r="3.4" fill="rgb(0,116,255)"/>
<path d="M917.3,1093.4V1101.95" stroke="rgb(43,0,0)"/><path d="M915.52,1101.19q1.77,-1.53 3.53,0l-1.77,2.29z" fill="rgb(43,0,0)"/><circle cx="917.3" cy="1093.4" r="3.4" fill="rgb(55,0,18)"/>
<path d="M917.3,984.6V987.3" stroke="rgb(12,0,0)"/><circle cx="917.3" cy="984.6" r="3.4" fill="rgb(255,0,83)"/>
<path d="M833.7,998.5V1013.05" stroke="rgb(73,0,0)"/><path d="M831.64,1012.22q2.11,-1.66 4.21,0l-2.11,2.5z" fill="rgb(73,0,0)"/><circle cx="833.7" cy="998.5" r="3.4" fill="rgb(202,7,83)"/>
<path d="M345.6,926.1V968" stroke="rgb(232,0,0)"/><path d="M341.95,966.85q3.67,-2.29 7.34,0l-3.67,3.44z" fill="rgb(232,0,0)"/><circle cx="345.6" cy="926.1" r="3.4" fill="rgb(55,83,202)"/>
<path d="M885.8,1035.6V1047.67" stroke="rgb(60,0,0)"/><path d="M883.83,1046.86q1.97,-1.61 3.94,0l-1.97,2.41z" fill="rgb(60,0,0)"/><circle cx="885.8" cy="1035.6" r="3.4" fill="rgb(156,2,55)"/>
<path d="M781.4,1045.7V1064.23" stroke="rgb(95,0,0)"/><path d="M779.04,1063.36q2.34,-1.76 4.68,0l-2.34,2.64z" fill="rgb(95,0,0)"/><circle cx="781.4" cy="1045.7" r="3.4" fill="rgb(116,7,55)"/>
<path d="M505.2,845.8V882.8" stroke="rgb(202,0,0)"/><path d="M501.78,881.71q3.39,-2.18 6.79,0l-3.39,3.27z" fill="rgb(202,0,0)"/><circle cx="505.2" cy="845.8" r="3.4" fill="rgb(202,83,255)"/>
<path d="M559.3,992V1025.82" stroke="rgb(183,0,0)"/><path d="M556.13,1024.77q3.21,-2.11 6.42,0l-3.21,3.16z" fill="rgb(183,0,0)"/><circle cx="559.3" cy="992" r="3.4" fill="rgb(116,34,116)"/>
<path d="M324.6,1045.9V1073.9" stroke="rgb(148,0,0)"/><path d="M321.72,1072.91q2.88,-1.97 5.75,0l-2.88,2.96z" fill="rgb(148,0,0)"/><circle cx="324.6" cy="1045.9" r="3.4" fill="rgb(18,34,83)"/>
<path d="M428.6,966.8V1006.68" stroke="rgb(220,0,0)"/><path d="M425.09,1005.55q3.56,-2.25 7.12,0l-3.56,3.37z" fill="rgb(220,0,0)"/><circle cx="428.6" cy="966.8" r="3.4" fill="rgb(83,55,156)"/>
<path d="M305.5,938V977.87" stroke="rgb(220,0,0)"/><path d="M301.93,976.75q3.56,-2.25 7.12,0l-3.56,3.37z" fill="rgb(220,0,0)"/><circle cx="305.5" cy="938" r="3.4" fill="rgb(34,83,202)"/>
<path d="M653.4,1024.7V1050.85" stroke="rgb(138,0,0)"/><path d="M650.66,1049.88q2.77,-1.93 5.54,0l-2.77,2.9z" fill="rgb(138,0,0)"/><circle cx="653.4" cy="1024.7" r="3.4" fill="rgb(116,18,83)"/>
<path d="M890.1,1039.6V1049.86" stroke="rgb(51,0,0)"/><path d="M888.24,1049.08q1.86,-1.57 3.72,0l-1.86,2.35z" fill="rgb(51,0,0)"/><circle cx="890.1" cy="1039.6" r="3.4" fill="rgb(156,0,55)"/>
<path d="M559.8,901.1V935.63" stroke="rgb(187,0,0)"/><path d="M556.56,934.56q3.25,-2.12 6.5,0l-3.25,3.19z" fill="rgb(187,0,0)"/><circle cx="559.8" cy="901.1" r="3.4" fill="rgb(202,55,202)"/>
<path d="M839.4,1077V1089.55" stroke="rgb(63,0,0)"/><path d="M837.45,1088.74q1.99,-1.62 3.98,0l-1.99,2.43z" fill="rgb(63,0,0)"/><circle cx="839.4" cy="1077" r="3.4" fill="rgb(83,2,34)"/>
<path d="M721.8,977.6V999.32" stroke="rgb(112,0,0)"/><path d="M719.23,998.4q2.52,-1.83 5.03,0l-2.52,2.74z" fill="rgb(112,0,0)"/><circle cx="721.8" cy="977.6" r="3.4" fill="rgb(202,18,116)"/>
<path d="M273.8,1052.8V1078.65" stroke="rgb(136,0,0)"/><path d="M271.01,1077.69q2.76,-1.93 5.51,0l-2.76,2.89z" fill="rgb(136,0,0)"/><circle cx="273.8" cy="1052.8" r="3.4" fill="rgb(7,34,83)"/>
<path d="M273.8,1110.4V1118.06" stroke="rgb(38,0,0)"/><path d="M272.05,1117.3q1.72,-1.51 3.43,0l-1.72,2.26z" fill="rgb(38,0,0)"/><circle cx="273.8" cy="1110.4" r="3.4" fill="rgb(2,7,18)"/>
<path d="M273.8,946.9V984.45" stroke="rgb(206,0,0)"/><path d="M270.34,983.36q3.43,-2.2 6.86,0l-3.43,3.29z" fill="rgb(206,0,0)"/><circle cx="273.8" cy="946.9" r="3.4" fill="rgb(18,83,202)"/>
<path d="M630.9,945.1V973.97" stroke="rgb(154,0,0)"/><path d="M627.94,972.98q2.93,-1.99 5.86,0l-2.93,2.99z" fill="rgb(154,0,0)"/><circle cx="630.9" cy="945.1" r="3.4" fill="rgb(202,34,156)"/>
<path d="M452.7,1070.8V1093.01" stroke="rgb(115,0,0)"/><path d="M450.12,1092.09q2.54,-1.84 5.09,0l-2.54,2.76z" fill="rgb(115,0,0)"/><circle cx="452.7" cy="1070.8" r="3.4" fill="rgb(34,18,55)"/>
<path d="M452.7,870.5V910.69" stroke="rgb(222,0,0)"/><path d="M449.09,909.56q3.58,-2.26 7.16,0l-3.58,3.38z" fill="rgb(222,0,0)"/><circle cx="452.7" cy="870.5" r="3.4" fill="rgb(156,83,255)"/>
<path d="M251.5,952.8V988.29" stroke="rgb(193,0,0)"/><path d="M248.22,987.21q3.31,-2.15 6.61,0l-3.31,3.22z" fill="rgb(193,0,0)"/><circle cx="251.5" cy="952.8" r="3.4" fill="rgb(7,83,202)"/>
<path d="M803.8,970.5V979.56" stroke="rgb(45,0,0)"/><path d="M802.03,978.79q1.8,-1.54 3.59,0l-1.8,2.31z" fill="rgb(45,0,0)"/><circle cx="803.8" cy="970.5" r="3.4" fill="rgb(255,7,116)"/>
<path d="M244.1,1056.6V1080.92" stroke="rgb(127,0,0)"/><path d="M241.42,1079.97q2.67,-1.89 5.34,0l-2.67,2.83z" fill="rgb(127,0,0)"/><circle cx="244.1" cy="1056.6" r="3.4" fill="rgb(2,34,83)"/>
<path d="M369.6,982.4V1020.96" stroke="rgb(212,0,0)"/><path d="M366.08,1019.85q3.48,-2.22 6.97,0l-3.48,3.33z" fill="rgb(212,0,0)"/><circle cx="369.6" cy="982.4" r="3.4" fill="rgb(55,55,156)"/>
<path d="M239.1,956V990" stroke="rgb(184,0,0)"/><path d="M235.85,988.94q3.22,-2.11 6.44,0l-3.22,3.17z" fill="rgb(184,0,0)"/><circle cx="239.1" cy="956" r="3.4" fill="rgb(2,83,202)"/>
<path d="M843.4,1011.7V1021.1" stroke="rgb(46,0,0)"/><path d="M841.55,1020.32q1.81,-1.55 3.62,0l-1.81,2.32z" fill="rgb(46,0,0)"/><circle cx="843.4" cy="1011.7" r="3.4" fill="rgb(202,2,83)"/>
<path d="M235.6,1057.7V1081.42" stroke="rgb(124,0,0)"/><path d="M232.92,1080.49q2.64,-1.88 5.27,0l-2.64,2.82z" fill="rgb(124,0,0)"/><circle cx="235.6" cy="1057.7" r="3.4" fill="rgb(0,34,83)"/>
<path d="M235.6,1112.4V1119.53" stroke="rgb(36,0,0)"/><path d="M233.92,1118.78q1.63,-1.49 3.27,0l-1.63,2.24z" fill="rgb(36,0,0)"/><circle cx="235.6" cy="1112.4" r="3.4" fill="rgb(0,7,18)"/>
<path d="M235.6,956.9V990.34" stroke="rgb(180,0,0)"/><path d="M232.37,989.29q3.19,-2.1 6.38,0l-3.19,3.15z" fill="rgb(180,0,0)"/><circle cx="235.6" cy="956.9" r="3.4" fill="rgb(0,83,202)"/>
<path d="M482,1011.6V1045.24" stroke="rgb(182,0,0)"/><path d="M478.76,1044.19q3.2,-2.1 6.4,0l-3.2,3.15z" fill="rgb(182,0,0)"/><circle cx="482" cy="1011.6" r="3.4" fill="rgb(83,34,116)"/>
<path d="M499,926.4V964.09" stroke="rgb(206,0,0)"/><path d="M495.52,962.99q3.43,-2.2 6.87,0l-3.43,3.3z" fill="rgb(206,0,0)"/><circle cx="499" cy="926.4" r="3.4" fill="rgb(156,55,202)"/>
<path d="M402.3,891.9V933.44" stroke="rgb(230,0,0)"/><path d="M398.62,932.3q3.65,-2.29 7.3,0l-3.65,3.43z" fill="rgb(230,0,0)"/><circle cx="402.3" cy="891.9" r="3.4" fill="rgb(116,83,255)"/>
<path d="M846.1,1118.5V1122.51" stroke="rgb(19,0,0)"/><path d="M845.09,1122.01q1.05,-1 2.11,0l-1.05,1.51z" fill="rgb(19,0,0)"/><circle cx="846.1" cy="1118.5" r="3.4" fill="rgb(18,0,7)"/>
<path d="M846.1,1082.2V1092.88" stroke="rgb(53,0,0)"/><path d="M844.26,1092.09q1.89,-1.58 3.77,0l-1.89,2.36z" fill="rgb(53,0,0)"/><circle cx="846.1" cy="1082.2" r="3.4" fill="rgb(83,0,34)"/>
<path d="M846.1,1015.4V1022.94" stroke="rgb(37,0,0)"/><path d="M844.45,1022.19q1.69,-1.5 3.38,0l-1.69,2.25z" fill="rgb(37,0,0)"/><circle cx="846.1" cy="1015.4" r="3.4" fill="rgb(202,0,83)"/>
<path d="M753.4,1106.3V1114.81" stroke="rgb(42,0,0)"/><path d="M751.61,1114.05q1.76,-1.52 3.52,0l-1.76,2.29z" fill="rgb(42,0,0)"/><circle cx="753.4" cy="1106.3" r="3.4" fill="rgb(34,2,18)"/>
<path d="M753.4,1026V1043.72" stroke="rgb(90,0,0)"/><path d="M751.08,1042.86q2.29,-1.74 4.58,0l-2.29,2.61z" fill="rgb(90,0,0)"/><circle cx="753.4" cy="1026" r="3.4" fill="rgb(156,7,83)"/>
<path d="M317.8,994.9V1031.42" stroke="rgb(200,0,0)"/><path d="M314.43,1030.33q3.37,-2.17 6.74,0l-3.37,3.26z" fill="rgb(200,0,0)"/><circle cx="317.8" cy="994.9" r="3.4" fill="rgb(34,55,156)"/>
<path d="M706.9,948.6V964.34" stroke="rgb(80,0,0)"/><path d="M704.69,963.49q2.18,-1.69 4.36,0l-2.18,2.54z" fill="rgb(80,0,0)"/><circle cx="706.9" cy="948.6" r="3.4" fill="rgb(255,18,156)"/>
<path d="M561.4,1122.3V1126.16" stroke="rgb(18,0,0)"/><path d="M560.39,1125.68q1.01,-0.95 2.03,0l-1.01,1.43z" fill="rgb(18,0,0)"/><circle cx="561.4" cy="1122.3" r="3.4" fill="rgb(7,2,7)"/>
<path d="M561.4,1095.3V1109.69" stroke="rgb(72,0,0)"/><path d="M559.31,1108.86q2.1,-1.66 4.2,0l-2.1,2.49z" fill="rgb(72,0,0)"/><circle cx="561.4" cy="1095.3" r="3.4" fill="rgb(34,7,34)"/>
<path d="M561.4,1045.5V1071.45" stroke="rgb(136,0,0)"/><path d="M558.65,1070.48q2.76,-1.93 5.52,0l-2.76,2.89z" fill="rgb(136,0,0)"/><circle cx="561.4" cy="1045.5" r="3.4" fill="rgb(83,18,83)"/>
<path d="M561.4,971.1V1003.14" stroke="rgb(172,0,0)"/><path d="M558.3,1002.1q3.11,-2.07 6.22,0l-3.11,3.1z" fill="rgb(172,0,0)"/><circle cx="561.4" cy="971.1" r="3.4" fill="rgb(156,34,156)"/>
<path d="M561.4,870.4V897.59" stroke="rgb(144,0,0)"/><path d="M558.58,896.61q2.83,-1.95 5.66,0l-2.83,2.93z" fill="rgb(144,0,0)"/><circle cx="561.4" cy="870.4" r="3.4" fill="rgb(255,55,255)"/>
<path d="M678.2,1067.8V1086.18" stroke="rgb(94,0,0)"/><path d="M675.85,1085.3q2.33,-1.75 4.65,0l-2.33,2.63z" fill="rgb(94,0,0)"/><circle cx="678.2" cy="1067.8" r="3.4" fill="rgb(83,7,55)"/>
<path d="M810.4,982.8V987.15" stroke="rgb(21,0,0)"/><path d="M809.33,986.61q1.11,-1.07 2.22,0l-1.11,1.61z" fill="rgb(21,0,0)"/><circle cx="810.4" cy="982.8" r="3.4" fill="rgb(255,2,116)"/>
<path d="M794.4,1061.1V1074.54" stroke="rgb(67,0,0)"/><path d="M792.35,1073.72q2.04,-1.64 4.09,0l-2.04,2.46z" fill="rgb(67,0,0)"/><circle cx="794.4" cy="1061.1" r="3.4" fill="rgb(116,2,55)"/>
<path d="M644.9,1004.4V1029.27" stroke="rgb(131,0,0)"/><path d="M642.2,1028.32q2.7,-1.9 5.4,0l-2.7,2.85z" fill="rgb(131,0,0)"/><circle cx="644.9" cy="1004.4" r="3.4" fill="rgb(156,18,116)"/>
<path d="M626.3,915.2V937.53" stroke="rgb(116,0,0)"/><path d="M623.74,936.61q2.55,-1.84 5.11,0l-2.55,2.77z" fill="rgb(116,0,0)"/><circle cx="626.3" cy="915.2" r="3.4" fill="rgb(255,34,202)"/>
<path d="M355.5,1082.4V1102.32" stroke="rgb(102,0,0)"/><path d="M353.05,1101.42q2.41,-1.79 4.83,0l-2.41,2.68z" fill="rgb(102,0,0)"/><circle cx="355.5" cy="1082.4" r="3.4" fill="rgb(18,18,55)"/>
<path d="M355.5,910.2V951.48" stroke="rgb(228,0,0)"/><path d="M351.82,950.34q3.64,-2.28 7.28,0l-3.64,3.42z" fill="rgb(228,0,0)"/><circle cx="355.5" cy="910.2" r="3.4" fill="rgb(83,83,255)"/>
<path d="M276,1004.2V1038.49" stroke="rgb(186,0,0)"/><path d="M272.78,1037.43q3.24,-2.12 6.48,0l-3.24,3.18z" fill="rgb(186,0,0)"/><circle cx="276" cy="1004.2" r="3.4" fill="rgb(18,55,156)"/>
<path d="M812.3,986.3V989.09" stroke="rgb(12,0,0)"/><circle cx="812.3" cy="986.3" r="3.4" fill="rgb(255,0,116)"/>
<path d="M407.1,1028.2V1060.47" stroke="rgb(174,0,0)"/><path d="M404.02,1059.43q3.12,-2.07 6.25,0l-3.12,3.11z" fill="rgb(174,0,0)"/><circle cx="407.1" cy="1028.2" r="3.4" fill="rgb(55,34,116)"/>
<path d="M439,948.5V987.45" stroke="rgb(214,0,0)"/><path d="M435.54,986.33q3.51,-2.23 7.02,0l-3.51,3.34z" fill="rgb(214,0,0)"/><circle cx="439" cy="948.5" r="3.4" fill="rgb(116,55,202)"/>
<path d="M731.4,1000.9V1015.48" stroke="rgb(73,0,0)"/><path d="M729.26,1014.64q2.11,-1.67 4.22,0l-2.11,2.5z" fill="rgb(73,0,0)"/><circle cx="731.4" cy="1000.9" r="3.4" fill="rgb(202,7,116)"/>
<path d="M246.3,1010.5V1042.68" stroke="rgb(173,0,0)"/><path d="M243.14,1041.65q3.12,-2.07 6.24,0l-3.12,3.11z" fill="rgb(173,0,0)"/><circle cx="246.3" cy="1010.5" r="3.4" fill="rgb(7,55,156)"/>
<path d="M798.2,1065.5V1077.07" stroke="rgb(58,0,0)"/><path d="M796.3,1076.27q1.94,-1.6 3.87,0l-1.94,2.39z" fill="rgb(58,0,0)"/><circle cx="798.2" cy="1065.5" r="3.4" fill="rgb(116,0,55)"/>
<path d="M313.8,925.2V965.23" stroke="rgb(220,0,0)"/><path d="M310.19,964.11q3.57,-2.25 7.13,0l-3.57,3.38z" fill="rgb(220,0,0)"/><circle cx="313.8" cy="925.2" r="3.4" fill="rgb(55,83,255)"/>
<path d="M229.4,1013.9V1044.6" stroke="rgb(164,0,0)"/><path d="M226.38,1043.58q3.03,-2.04 6.06,0l-3.03,3.05z" fill="rgb(164,0,0)"/><circle cx="229.4" cy="1013.9" r="3.4" fill="rgb(2,55,156)"/>
<path d="M504.9,899V931.66" stroke="rgb(176,0,0)"/><path d="M501.71,930.62q3.14,-2.08 6.29,0l-3.14,3.12z" fill="rgb(176,0,0)"/><circle cx="504.9" cy="899" r="3.4" fill="rgb(202,55,255)"/>
<path d="M224.6,1014.9V1045.01" stroke="rgb(161,0,0)"/><path d="M221.64,1044q3,-2.02 6,0l-3,3.03z" fill="rgb(161,0,0)"/><circle cx="224.6" cy="1014.9" r="3.4" fill="rgb(0,55,156)"/>
<path d="M761.7,1039.9V1052.47" stroke="rgb(63,0,0)"/><path d="M759.67,1051.66q1.99,-1.62 3.99,0l-1.99,2.43z" fill="rgb(63,0,0)"/><circle cx="761.7" cy="1039.9" r="3.4" fill="rgb(156,2,83)"/>
<path d="M490.7,993.9V1027.3" stroke="rgb(180,0,0)"/><path d="M487.54,1026.25q3.19,-2.1 6.37,0l-3.19,3.15z" fill="rgb(180,0,0)"/><circle cx="490.7" cy="993.9" r="3.4" fill="rgb(116,34,156)"/>
<path d="M278.5,1090.6V1108.4" stroke="rgb(91,0,0)"/><path d="M276.25,1107.53q2.29,-1.74 4.59,0l-2.29,2.61z" fill="rgb(91,0,0)"/><circle cx="278.5" cy="1090.6" r="3.4" fill="rgb(7,18,55)"/>
<path d="M278.5,937.2V975.17" stroke="rgb(208,0,0)"/><path d="M275.1,974.07q3.45,-2.2 6.9,0l-3.45,3.31z" fill="rgb(208,0,0)"/><circle cx="278.5" cy="937.2" r="3.4" fill="rgb(34,83,255)"/>
<path d="M382,967.3V1006.11" stroke="rgb(213,0,0)"/><path d="M378.53,1005q3.5,-2.22 6.99,0l-3.5,3.33z" fill="rgb(213,0,0)"/><circle cx="382" cy="967.3" r="3.4" fill="rgb(83,55,202)"/>
<path d="M637.6,978.4V999.68" stroke="rgb(110,0,0)"/><path d="M635.12,998.77q2.49,-1.82 4.98,0l-2.49,2.73z" fill="rgb(110,0,0)"/><circle cx="637.6" cy="978.4" r="3.4" fill="rgb(202,18,156)"/>
<path d="M562.9,944.4V972.21" stroke="rgb(147,0,0)"/><path d="M560.02,971.23q2.87,-1.97 5.73,0l-2.87,2.95z" fill="rgb(147,0,0)"/><circle cx="562.9" cy="944.4" r="3.4" fill="rgb(202,34,202)"/>
<path d="M339.2,1041.5V1071.85" stroke="rgb(162,0,0)"/><path d="M336.16,1070.83q3.01,-2.03 6.02,0l-3.01,3.04z" fill="rgb(162,0,0)"/><circle cx="339.2" cy="1041.5" r="3.4" fill="rgb(34,34,116)"/>
<path d="M663.3,1050.9V1069.92" stroke="rgb(97,0,0)"/><path d="M660.97,1069.03q2.36,-1.77 4.73,0l-2.36,2.65z" fill="rgb(97,0,0)"/><circle cx="663.3" cy="1050.9" r="3.4" fill="rgb(116,7,83)"/>
<path d="M713.8,1098.6V1109.77" stroke="rgb(56,0,0)"/><path d="M711.87,1108.98q1.92,-1.59 3.83,0l-1.92,2.38z" fill="rgb(56,0,0)"/><circle cx="713.8" cy="1098.6" r="3.4" fill="rgb(55,2,34)"/>
<path d="M713.8,970.7V979.33" stroke="rgb(43,0,0)"/><path d="M712.02,978.57q1.77,-1.53 3.54,0l-1.77,2.29z" fill="rgb(43,0,0)"/><circle cx="713.8" cy="970.7" r="3.4" fill="rgb(255,7,156)"/>
<path d="M764.1,1114.6V1121.21" stroke="rgb(33,0,0)"/><path d="M762.53,1120.47q1.54,-1.48 3.08,0l-1.54,2.22z" fill="rgb(33,0,0)"/><circle cx="764.1" cy="1114.6" r="3.4" fill="rgb(34,0,18)"/>
<path d="M764.1,1043.8V1054.52" stroke="rgb(53,0,0)"/><path d="M762.18,1053.73q1.89,-1.58 3.77,0l-1.89,2.36z" fill="rgb(53,0,0)"/><circle cx="764.1" cy="1043.8" r="3.4" fill="rgb(156,0,83)"/>
<path d="M467.3,1063.5V1088.06" stroke="rgb(129,0,0)"/><path d="M464.6,1087.11q2.68,-1.9 5.37,0l-2.68,2.84z" fill="rgb(129,0,0)"/><circle cx="467.3" cy="1063.5" r="3.4" fill="rgb(55,18,83)"/>
<path d="M251,946V981.79" stroke="rgb(195,0,0)"/><path d="M247.67,980.71q3.32,-2.15 6.64,0l-3.32,3.23z" fill="rgb(195,0,0)"/><circle cx="251" cy="946" r="3.4" fill="rgb(18,83,255)"/>
<path d="M563.3,1028.2V1054.43" stroke="rgb(138,0,0)"/><path d="M560.51,1053.46q2.77,-1.93 5.55,0l-2.77,2.9z" fill="rgb(138,0,0)"/><circle cx="563.3" cy="1028.2" r="3.4" fill="rgb(116,18,116)"/>
<path d="M231.8,1095.3V1111.51" stroke="rgb(82,0,0)"/><path d="M229.6,1110.66q2.21,-1.7 4.41,0l-2.21,2.56z" fill="rgb(82,0,0)"/><circle cx="231.8" cy="1095.3" r="3.4" fill="rgb(2,18,55)"/>
<path d="M231.8,952V985.64" stroke="rgb(182,0,0)"/><path d="M228.61,984.59q3.2,-2.1 6.4,0l-3.2,3.16z" fill="rgb(182,0,0)"/><circle cx="231.8" cy="952" r="3.4" fill="rgb(7,83,255)"/>
<path d="M737,1013.8V1023.18" stroke="rgb(47,0,0)"/><path d="M735.16,1022.41q1.81,-1.55 3.63,0l-1.81,2.32z" fill="rgb(47,0,0)"/><circle cx="737" cy="1013.8" r="3.4" fill="rgb(202,2,116)"/>
<path d="M448.7,924.4V960.19" stroke="rgb(195,0,0)"/><path d="M445.37,959.11q3.33,-2.15 6.65,0l-3.33,3.23z" fill="rgb(195,0,0)"/><circle cx="448.7" cy="924.4" r="3.4" fill="rgb(156,55,255)"/>
<path d="M221.1,955.3V987.36" stroke="rgb(173,0,0)"/><path d="M218,986.33q3.11,-2.07 6.23,0l-3.11,3.1z" fill="rgb(173,0,0)"/><circle cx="221.1" cy="955.3" r="3.4" fill="rgb(2,83,255)"/>
<path d="M218.1,956.2V987.71" stroke="rgb(169,0,0)"/><path d="M215.02,986.69q3.08,-2.06 6.16,0l-3.08,3.08z" fill="rgb(169,0,0)"/><circle cx="218.1" cy="956.2" r="3.4" fill="rgb(0,83,255)"/>
<path d="M218.1,1096.6V1112.27" stroke="rgb(79,0,0)"/><path d="M215.93,1111.43q2.17,-1.69 4.35,0l-2.17,2.54z" fill="rgb(79,0,0)"/><circle cx="218.1" cy="1096.6" r="3.4" fill="rgb(0,18,55)"/>
<path d="M330.1,983V1020.47" stroke="rgb(205,0,0)"/><path d="M326.64,1019.37q3.42,-2.19 6.84,0l-3.42,3.29z" fill="rgb(205,0,0)"/><circle cx="330.1" cy="983" r="3.4" fill="rgb(55,55,202)"/>
<path d="M631.4,947.2V961.93" stroke="rgb(74,0,0)"/><path d="M629.31,961.1q2.12,-1.67 4.23,0l-2.12,2.5z" fill="rgb(74,0,0)"/><circle cx="631.4" cy="947.2" r="3.4" fill="rgb(255,18,202)"/>
<path d="M282.6,1051.7V1079.74" stroke="rgb(149,0,0)"/><path d="M279.68,1078.75q2.88,-1.98 5.76,0l-2.88,2.96z" fill="rgb(149,0,0)"/><circle cx="282.6" cy="1051.7" r="3.4" fill="rgb(18,34,116)"/>
<path d="M738.6,1017.4V1024.92" stroke="rgb(38,0,0)"/><path d="M736.88,1024.17q1.7,-1.5 3.4,0l-1.7,2.26z" fill="rgb(38,0,0)"/><circle cx="738.6" cy="1017.4" r="3.4" fill="rgb(202,0,116)"/>
<path d="M564,912.5V932.9" stroke="rgb(105,0,0)"/><path d="M561.53,932q2.45,-1.8 4.89,0l-2.45,2.7z" fill="rgb(105,0,0)"/><circle cx="564" cy="912.5" r="3.4" fill="rgb(255,34,255)"/>
<path d="M564,1087.6V1104.65" stroke="rgb(87,0,0)"/><path d="M561.73,1103.79q2.25,-1.72 4.5,0l-2.25,2.58z" fill="rgb(87,0,0)"/><circle cx="564" cy="1087.6" r="3.4" fill="rgb(55,7,55)"/>
<path d="M421.2,1013.7V1046.83" stroke="rgb(179,0,0)"/><path d="M418.05,1045.79q3.17,-2.09 6.35,0l-3.17,3.14z" fill="rgb(179,0,0)"/><circle cx="421.2" cy="1013.7" r="3.4" fill="rgb(83,34,156)"/>
<path d="M421.2,1109.8V1121.91" stroke="rgb(61,0,0)"/><path d="M419.25,1121.1q1.97,-1.61 3.94,0l-1.97,2.41z" fill="rgb(61,0,0)"/><circle cx="421.2" cy="1109.8" r="3.4" fill="rgb(18,7,34)"/>
<path d="M717.8,982.8V986.75" stroke="rgb(19,0,0)"/><path d="M716.71,986.25q1.04,-0.98 2.08,0l-1.04,1.48z" fill="rgb(19,0,0)"/><circle cx="717.8" cy="982.8" r="3.4" fill="rgb(255,2,156)"/>
<path d="M651.8,1028.5V1046.32" stroke="rgb(91,0,0)"/><path d="M649.46,1045.45q2.29,-1.74 4.59,0l-2.29,2.61z" fill="rgb(91,0,0)"/><circle cx="651.8" cy="1028.5" r="3.4" fill="rgb(156,7,116)"/>
<path d="M498.2,970.5V1001.44" stroke="rgb(166,0,0)"/><path d="M495.16,1000.42q3.05,-2.04 6.1,0l-3.05,3.06z" fill="rgb(166,0,0)"/><circle cx="498.2" cy="970.5" r="3.4" fill="rgb(156,34,202)"/>
<path d="M687.7,1084.6V1097.85" stroke="rgb(66,0,0)"/><path d="M685.63,1097.03q2.03,-1.63 4.06,0l-2.03,2.45z" fill="rgb(66,0,0)"/><circle cx="687.7" cy="1084.6" r="3.4" fill="rgb(83,2,55)"/>
<path d="M718.9,986.2V988.61" stroke="rgb(11,0,0)"/><circle cx="718.9" cy="986.2" r="3.4" fill="rgb(255,0,156)"/>
<path d="M718.9,1104.5V1113.89" stroke="rgb(46,0,0)"/><path d="M717.07,1113.12q1.81,-1.55 3.62,0l-1.81,2.32z" fill="rgb(46,0,0)"/><circle cx="718.9" cy="1104.5" r="3.4" fill="rgb(55,0,34)"/>
<path d="M285.3,995.5V1030.96" stroke="rgb(193,0,0)"/><path d="M282.02,1029.88q3.31,-2.15 6.61,0l-3.31,3.22z" fill="rgb(193,0,0)"/><circle cx="285.3" cy="995.5" r="3.4" fill="rgb(34,55,202)"/>
<path d="M564.5,1005.3V1029.71" stroke="rgb(128,0,0)"/><path d="M561.87,1028.77q2.67,-1.89 5.35,0l-2.67,2.84z" fill="rgb(128,0,0)"/><circle cx="564.5" cy="1005.3" r="3.4" fill="rgb(156,18,156)"/>
<path d="M241.2,1058.6V1084.56" stroke="rgb(137,0,0)"/><path d="M238.47,1083.59q2.76,-1.93 5.52,0l-2.76,2.89z" fill="rgb(137,0,0)"/><circle cx="241.2" cy="1058.6" r="3.4" fill="rgb(7,34,116)"/>
<path d="M394.4,946.5V983.58" stroke="rgb(203,0,0)"/><path d="M391,982.48q3.4,-2.18 6.8,0l-3.4,3.28z" fill="rgb(203,0,0)"/><circle cx="394.4" cy="946.5" r="3.4" fill="rgb(116,55,255)"/>
<path d="M377,1078.3V1100.93" stroke="rgb(118,0,0)"/><path d="M374.43,1100.01q2.57,-1.85 5.14,0l-2.57,2.78z" fill="rgb(118,0,0)"/><circle cx="377" cy="1078.3" r="3.4" fill="rgb(34,18,83)"/>
<path d="M642.6,1001.2V1015.29" stroke="rgb(71,0,0)"/><path d="M640.48,1014.47q2.08,-1.66 4.17,0l-2.08,2.48z" fill="rgb(71,0,0)"/><circle cx="642.6" cy="1001.2" r="3.4" fill="rgb(202,7,156)"/>
<path d="M217.5,1062.5V1086.84" stroke="rgb(128,0,0)"/><path d="M214.79,1085.9q2.67,-1.89 5.34,0l-2.67,2.84z" fill="rgb(128,0,0)"/><circle cx="217.5" cy="1062.5" r="3.4" fill="rgb(2,34,116)"/>
<path d="M210.7,1063.5V1087.36" stroke="rgb(125,0,0)"/><path d="M208.04,1086.42q2.64,-1.88 5.28,0l-2.64,2.82z" fill="rgb(125,0,0)"/><circle cx="210.7" cy="1063.5" r="3.4" fill="rgb(0,34,116)"/>
<path d="M479.5,1049.1V1075.12" stroke="rgb(137,0,0)"/><path d="M476.7,1074.16q2.76,-1.93 5.53,0l-2.76,2.89z" fill="rgb(137,0,0)"/><circle cx="479.5" cy="1049.1" r="3.4" fill="rgb(83,18,116)"/>
<path d="M249.7,1004.8V1038.03" stroke="rgb(179,0,0)"/><path d="M246.56,1036.99q3.18,-2.09 6.35,0l-3.18,3.14z" fill="rgb(179,0,0)"/><circle cx="249.7" cy="1004.8" r="3.4" fill="rgb(18,55,202)"/>
<path d="M669.3,1065.7V1079.5" stroke="rgb(70,0,0)"/><path d="M667.25,1078.68q2.07,-1.65 4.14,0l-2.07,2.47z" fill="rgb(70,0,0)"/><circle cx="669.3" cy="1065.7" r="3.4" fill="rgb(116,2,83)"/>
<path d="M690.5,1089.5V1100.81" stroke="rgb(56,0,0)"/><path d="M688.57,1100.01q1.92,-1.59 3.85,0l-1.92,2.39z" fill="rgb(56,0,0)"/><circle cx="690.5" cy="1089.5" r="3.4" fill="rgb(83,0,55)"/>
<path d="M504.6,941.7V967.58" stroke="rgb(137,0,0)"/><path d="M501.8,966.61q2.76,-1.93 5.52,0l-2.76,2.89z" fill="rgb(137,0,0)"/><circle cx="504.6" cy="941.7" r="3.4" fill="rgb(202,34,255)"/>
<path d="M355.9,1030.2V1062.08" stroke="rgb(171,0,0)"/><path d="M352.79,1061.05q3.1,-2.06 6.2,0l-3.1,3.09z" fill="rgb(171,0,0)"/><circle cx="355.9" cy="1030.2" r="3.4" fill="rgb(55,34,156)"/>
<path d="M565.4,977.1V997.26" stroke="rgb(104,0,0)"/><path d="M562.99,996.37q2.43,-1.79 4.86,0l-2.43,2.69z" fill="rgb(104,0,0)"/><circle cx="565.4" cy="977.1" r="3.4" fill="rgb(202,18,202)"/>
<path d="M565.4,1125.4V1131.61" stroke="rgb(31,0,0)"/><path d="M563.94,1130.88q1.48,-1.47 2.95,0l-1.48,2.21z" fill="rgb(31,0,0)"/><circle cx="565.4" cy="1125.4" r="3.4" fill="rgb(18,2,18)"/>
<path d="M565.4,1073.2V1092.01" stroke="rgb(96,0,0)"/><path d="M563.07,1091.12q2.35,-1.76 4.7,0l-2.35,2.64z" fill="rgb(96,0,0)"/><circle cx="565.4" cy="1073.2" r="3.4" fill="rgb(83,7,83)"/>
<path d="M635.1,968.9V976.52" stroke="rgb(38,0,0)"/><path d="M633.42,975.77q1.7,-1.5 3.41,0l-1.7,2.26z" fill="rgb(38,0,0)"/><circle cx="635.1" cy="968.9" r="3.4" fill="rgb(255,7,202)"/>
<path d="M224.7,1011.1V1042.22" stroke="rgb(167,0,0)"/><path d="M221.6,1041.19q3.06,-2.05 6.11,0l-3.06,3.07z" fill="rgb(167,0,0)"/><circle cx="224.7" cy="1011.1" r="3.4" fill="rgb(7,55,202)"/>
<path d="M343.6,965.3V1002.22" stroke="rgb(202,0,0)"/><path d="M340.23,1001.13q3.39,-2.18 6.78,0l-3.39,3.27z" fill="rgb(202,0,0)"/><circle cx="343.6" cy="965.3" r="3.4" fill="rgb(83,55,255)"/>
<path d="M434,993.3V1025.59" stroke="rgb(174,0,0)"/><path d="M430.83,1024.55q3.12,-2.07 6.25,0l-3.12,3.11z" fill="rgb(174,0,0)"/><circle cx="434" cy="993.3" r="3.4" fill="rgb(116,34,202)"/>
<path d="M655.8,1042V1054.57" stroke="rgb(63,0,0)"/><path d="M653.78,1053.76q2,-1.62 4,0l-2,2.43z" fill="rgb(63,0,0)"/><circle cx="655.8" cy="1042" r="3.4" fill="rgb(156,2,116)"/>
<path d="M210.6,1014.6V1044.13" stroke="rgb(158,0,0)"/><path d="M207.6,1043.12q2.97,-2.01 5.94,0l-2.97,3.02z" fill="rgb(158,0,0)"/><circle cx="210.6" cy="1014.6" r="3.4" fill="rgb(2,55,202)"/>
<path d="M671.1,1069.8V1081.81" stroke="rgb(60,0,0)"/><path d="M669.1,1081.01q1.96,-1.61 3.92,0l-1.96,2.41z" fill="rgb(60,0,0)"/><circle cx="671.1" cy="1069.8" r="3.4" fill="rgb(116,0,83)"/>
<path d="M206.6,1015.5V1044.53" stroke="rgb(154,0,0)"/><path d="M203.65,1043.53q2.94,-2 5.87,0l-2.94,3z" fill="rgb(154,0,0)"/><circle cx="206.6" cy="1015.5" r="3.4" fill="rgb(0,55,202)"/>
<path d="M566,944V956.8" stroke="rgb(64,0,0)"/><path d="M564.04,955.99q2.01,-1.63 4.02,0l-2.01,2.44z" fill="rgb(64,0,0)"/><circle cx="566" cy="944" r="3.4" fill="rgb(255,18,255)"/>
<path d="M645.4,1013.7V1022.65" stroke="rgb(45,0,0)"/><path d="M643.62,1021.89q1.79,-1.54 3.58,0l-1.79,2.31z" fill="rgb(45,0,0)"/><circle cx="645.4" cy="1013.7" r="3.4" fill="rgb(202,2,156)"/>
<path d="M656.9,1045.7V1056.47" stroke="rgb(53,0,0)"/><path d="M655.05,1055.68q1.89,-1.58 3.78,0l-1.89,2.37z" fill="rgb(53,0,0)"/><circle cx="656.9" cy="1045.7" r="3.4" fill="rgb(156,0,116)"/>
<path d="M489.4,1029.1V1054.81" stroke="rgb(135,0,0)"/><path d="M486.67,1053.85q2.75,-1.92 5.5,0l-2.75,2.88z" fill="rgb(135,0,0)"/><circle cx="489.4" cy="1029.1" r="3.4" fill="rgb(116,18,156)"/>
<path d="M566.3,1053.4V1072.47" stroke="rgb(98,0,0)"/><path d="M563.93,1071.59q2.37,-1.77 4.73,0l-2.37,2.65z" fill="rgb(98,0,0)"/><circle cx="566.3" cy="1053.4" r="3.4" fill="rgb(116,7,116)"/>
<path d="M298.1,1089.9V1110.24" stroke="rgb(105,0,0)"/><path d="M295.62,1109.34q2.44,-1.8 4.88,0l-2.44,2.7z" fill="rgb(105,0,0)"/><circle cx="298.1" cy="1089.9" r="3.4" fill="rgb(18,18,83)"/>
<path d="M298.1,1137.7V1140.26" stroke="rgb(11,0,0)"/><circle cx="298.1" cy="1137.7" r="3.4" fill="rgb(2,2,7)"/>
<path d="M298.1,1120.9V1130.87" stroke="rgb(50,0,0)"/><path d="M296.22,1130.09q1.85,-1.56 3.7,0l-1.85,2.34z" fill="rgb(50,0,0)"/><circle cx="298.1" cy="1120.9" r="3.4" fill="rgb(7,7,34)"/>
<path d="M298.1,1043.5V1073.41" stroke="rgb(159,0,0)"/><path d="M295.08,1072.4q2.99,-2.02 5.97,0l-2.99,3.03z" fill="rgb(159,0,0)"/><circle cx="298.1" cy="1043.5" r="3.4" fill="rgb(34,34,156)"/>
<path d="M298.1,980.9V1016.53" stroke="rgb(194,0,0)"/><path d="M294.75,1015.45q3.31,-2.15 6.63,0l-3.31,3.22z" fill="rgb(194,0,0)"/><circle cx="298.1" cy="980.9" r="3.4" fill="rgb(55,55,255)"/>
<path d="M637.2,980.8V983.88" stroke="rgb(14,0,0)"/><circle cx="637.2" cy="980.8" r="3.4" fill="rgb(255,2,202)"/>
<path d="M646.2,1017.2V1024.29" stroke="rgb(35,0,0)"/><path d="M644.6,1023.54q1.63,-1.49 3.26,0l-1.63,2.24z" fill="rgb(35,0,0)"/><circle cx="646.2" cy="1017.2" r="3.4" fill="rgb(202,0,156)"/>
<path d="M445.2,1104.7V1119.81" stroke="rgb(76,0,0)"/><path d="M443.04,1118.97q2.14,-1.68 4.27,0l-2.14,2.51z" fill="rgb(76,0,0)"/><circle cx="445.2" cy="1104.7" r="3.4" fill="rgb(34,7,55)"/>
<path d="M445.2,967.6V996.73" stroke="rgb(155,0,0)"/><path d="M442.23,995.73q2.94,-2 5.89,0l-2.94,3z" fill="rgb(155,0,0)"/><circle cx="445.2" cy="967.6" r="3.4" fill="rgb(156,34,255)"/>
<path d="M637.8,984.2V985.67" stroke="rgb(6,0,0)"/><circle cx="637.8" cy="984.2" r="3.4" fill="rgb(255,0,202)"/>
<path d="M397.2,1067V1091.65" stroke="rgb(129,0,0)"/><path d="M394.54,1090.7q2.69,-1.9 5.38,0l-2.69,2.85z" fill="rgb(129,0,0)"/><circle cx="397.2" cy="1067" r="3.4" fill="rgb(55,18,116)"/>
<path d="M372.3,1013V1045.03" stroke="rgb(173,0,0)"/><path d="M369.16,1044q3.11,-2.07 6.22,0l-3.11,3.1z" fill="rgb(173,0,0)"/><circle cx="372.3" cy="1013" r="3.4" fill="rgb(83,34,202)"/>
<path d="M566.9,1028.7V1046.02" stroke="rgb(88,0,0)"/><path d="M564.6,1045.16q2.27,-1.73 4.54,0l-2.27,2.59z" fill="rgb(88,0,0)"/><circle cx="566.9" cy="1028.7" r="3.4" fill="rgb(156,7,156)"/>
<path d="M566.9,1118.6V1127.8" stroke="rgb(46,0,0)"/><path d="M565.06,1127.03q1.8,-1.54 3.61,0l-1.8,2.31z" fill="rgb(46,0,0)"/><circle cx="566.9" cy="1118.6" r="3.4" fill="rgb(34,2,34)"/>
<path d="M497.6,1003.8V1027.19" stroke="rgb(122,0,0)"/><path d="M494.97,1026.25q2.61,-1.87 5.23,0l-2.61,2.8z" fill="rgb(122,0,0)"/><circle cx="497.6" cy="1003.8" r="3.4" fill="rgb(156,18,202)"/>
<path d="M259.4,993.3V1026.94" stroke="rgb(182,0,0)"/><path d="M256.19,1025.89q3.2,-2.1 6.4,0l-3.2,3.16z" fill="rgb(182,0,0)"/><circle cx="259.4" cy="993.3" r="3.4" fill="rgb(34,55,255)"/>
<path d="M567.3,999.3V1012.35" stroke="rgb(65,0,0)"/><path d="M565.23,1011.53q2.02,-1.63 4.05,0l-2.02,2.45z" fill="rgb(65,0,0)"/><circle cx="567.3" cy="999.3" r="3.4" fill="rgb(202,7,202)"/>
<path d="M251,1053.6V1081.2" stroke="rgb(146,0,0)"/><path d="M248.12,1080.22q2.86,-1.97 5.71,0l-2.86,2.95z" fill="rgb(146,0,0)"/><circle cx="251" cy="1053.6" r="3.4" fill="rgb(18,34,156)"/>
<path d="M238.1,1098V1116.2" stroke="rgb(93,0,0)"/><path d="M235.82,1115.33q2.32,-1.75 4.64,0l-2.32,2.62z" fill="rgb(93,0,0)"/><circle cx="238.1" cy="1098" r="3.4" fill="rgb(7,18,83)"/>
<path d="M567.5,1106.1V1117.96" stroke="rgb(59,0,0)"/><path d="M565.57,1117.16q1.96,-1.6 3.91,0l-1.96,2.41z" fill="rgb(59,0,0)"/><circle cx="567.5" cy="1106.1" r="3.4" fill="rgb(55,2,55)"/>
<path d="M567.5,965.3V971.02" stroke="rgb(29,0,0)"/><path d="M566.13,970.3q1.4,-1.44 2.8,0l-1.4,2.16z" fill="rgb(29,0,0)"/><circle cx="567.5" cy="965.3" r="3.4" fill="rgb(255,7,255)"/>
<path d="M504.3,973.7V992" stroke="rgb(94,0,0)"/><path d="M502.01,991.12q2.32,-1.75 4.65,0l-2.32,2.63z" fill="rgb(94,0,0)"/><circle cx="504.3" cy="973.7" r="3.4" fill="rgb(202,18,255)"/>
<path d="M229,1002.6V1033.95" stroke="rgb(168,0,0)"/><path d="M225.92,1032.92q3.07,-2.05 6.14,0l-3.07,3.08z" fill="rgb(168,0,0)"/><circle cx="229" cy="1002.6" r="3.4" fill="rgb(18,55,255)"/>
<path d="M463.5,1092.8V1110.25" stroke="rgb(89,0,0)"/><path d="M461.24,1109.38q2.28,-1.73 4.55,0l-2.28,2.6z" fill="rgb(89,0,0)"/><circle cx="463.5" cy="1092.8" r="3.4" fill="rgb(55,7,83)"/>
<path d="M387.4,990.3V1020.74" stroke="rgb(163,0,0)"/><path d="M384.35,1019.72q3.02,-2.03 6.03,0l-3.02,3.05z" fill="rgb(163,0,0)"/><circle cx="387.4" cy="990.3" r="3.4" fill="rgb(116,34,255)"/>
<path d="M567.9,1088.9V1102.57" stroke="rgb(68,0,0)"/><path d="M565.82,1101.75q2.06,-1.64 4.11,0l-2.06,2.47z" fill="rgb(68,0,0)"/><circle cx="567.9" cy="1088.9" r="3.4" fill="rgb(83,2,83)"/>
<path d="M217.2,1127.5V1136.02" stroke="rgb(42,0,0)"/><path d="M215.43,1135.26q1.76,-1.53 3.52,0l-1.76,2.29z" fill="rgb(42,0,0)"/><circle cx="217.2" cy="1127.5" r="3.4" fill="rgb(2,7,34)"/>
<path d="M217.2,1060.4V1085.92" stroke="rgb(134,0,0)"/><path d="M214.46,1084.97q2.73,-1.92 5.47,0l-2.73,2.87z" fill="rgb(134,0,0)"/><circle cx="217.2" cy="1060.4" r="3.4" fill="rgb(7,34,156)"/>
<path d="M414.8,1049.8V1075.31" stroke="rgb(134,0,0)"/><path d="M412.05,1074.35q2.74,-1.92 5.47,0l-2.74,2.88z" fill="rgb(134,0,0)"/><circle cx="414.8" cy="1049.8" r="3.4" fill="rgb(83,18,156)"/>
<path d="M315.6,1029.4V1060.13" stroke="rgb(165,0,0)"/><path d="M312.56,1059.11q3.04,-2.04 6.07,0l-3.04,3.06z" fill="rgb(165,0,0)"/><circle cx="315.6" cy="1029.4" r="3.4" fill="rgb(55,34,202)"/>
<path d="M568.1,1067.4V1081.35" stroke="rgb(70,0,0)"/><path d="M566.01,1080.52q2.07,-1.65 4.14,0l-2.07,2.48z" fill="rgb(70,0,0)"/><circle cx="568.1" cy="1067.4" r="3.4" fill="rgb(116,2,116)"/>
<path d="M207.7,1008.8V1038.07" stroke="rgb(156,0,0)"/><path d="M204.8,1037.07q2.95,-2 5.9,0l-2.95,3z" fill="rgb(156,0,0)"/><circle cx="207.7" cy="1008.8" r="3.4" fill="rgb(7,55,255)"/>
<path d="M202.8,1102.5V1119.19" stroke="rgb(85,0,0)"/><path d="M200.53,1118.33q2.23,-1.71 4.46,0l-2.23,2.57z" fill="rgb(85,0,0)"/><circle cx="202.8" cy="1102.5" r="3.4" fill="rgb(2,18,83)"/>
<path d="M568.2,1041.6V1053.8" stroke="rgb(61,0,0)"/><path d="M566.24,1053q1.97,-1.61 3.94,0l-1.97,2.42z" fill="rgb(61,0,0)"/><circle cx="568.2" cy="1041.6" r="3.4" fill="rgb(156,2,156)"/>
<path d="M198,1064.2V1088.14" stroke="rgb(125,0,0)"/><path d="M195.34,1087.2q2.65,-1.88 5.29,0l-2.65,2.82z" fill="rgb(125,0,0)"/><circle cx="198" cy="1064.2" r="3.4" fill="rgb(2,34,156)"/>
<path d="M568.3,1011.5V1019.38" stroke="rgb(39,0,0)"/><path d="M566.57,1018.62q1.73,-1.51 3.45,0l-1.73,2.27z" fill="rgb(39,0,0)"/><circle cx="568.3" cy="1011.5" r="3.4" fill="rgb(202,2,202)"/>
<path d="M195.9,1012.2V1039.94" stroke="rgb(147,0,0)"/><path d="M193.02,1038.96q2.86,-1.97 5.72,0l-2.86,2.95z" fill="rgb(147,0,0)"/><circle cx="195.9" cy="1012.2" r="3.4" fill="rgb(2,55,255)"/>
<path d="M568.4,976.9V978.45" stroke="rgb(6,0,0)"/><circle cx="568.4" cy="976.9" r="3.4" fill="rgb(255,2,255)"/>
<path d="M192.5,1143.5V1145.61" stroke="rgb(9,0,0)"/><circle cx="192.5" cy="1143.5" r="3.4" fill="rgb(0,2,7)"/>
<path d="M192.5,1129.5V1137.43" stroke="rgb(39,0,0)"/><path d="M190.81,1136.67q1.73,-1.51 3.46,0l-1.73,2.27z" fill="rgb(39,0,0)"/><circle cx="192.5" cy="1129.5" r="3.4" fill="rgb(0,7,34)"/>
<path d="M192.5,1103.8V1119.91" stroke="rgb(82,0,0)"/><path d="M190.34,1119.06q2.2,-1.7 4.4,0l-2.2,2.55z" fill="rgb(82,0,0)"/><circle cx="192.5" cy="1103.8" r="3.4" fill="rgb(0,18,83)"/>
<path d="M192.5,1065.2V1088.64" stroke="rgb(122,0,0)"/><path d="M189.92,1087.7q2.61,-1.87 5.23,0l-2.61,2.8z" fill="rgb(122,0,0)"/><circle cx="192.5" cy="1065.2" r="3.4" fill="rgb(0,34,156)"/>
<path d="M192.5,1013.2V1040.34" stroke="rgb(144,0,0)"/><path d="M189.71,1039.36q2.83,-1.95 5.66,0l-2.83,2.93z" fill="rgb(144,0,0)"/><circle cx="192.5" cy="1013.2" r="3.4" fill="rgb(0,55,255)"/>
<path d="M321.5,1081.6V1104.26" stroke="rgb(118,0,0)"/><path d="M318.89,1103.34q2.57,-1.85 5.15,0l-2.57,2.78z" fill="rgb(118,0,0)"/><circle cx="321.5" cy="1081.6" r="3.4" fill="rgb(34,18,116)"/>
<path d="M477.5,1075.4V1094.25" stroke="rgb(97,0,0)"/><path d="M475.18,1093.37q2.36,-1.76 4.71,0l-2.36,2.65z" fill="rgb(97,0,0)"/><circle cx="477.5" cy="1075.4" r="3.4" fill="rgb(83,7,116)"/>
<circle cx="568.6" cy="1146.9" r="3.4" fill="rgb(2,0,2)"/>
<path d="M568.6,1143.1V1145.35" stroke="rgb(10,0,0)"/><circle cx="568.6" cy="1143.1" r="3.4" fill="rgb(7,0,7)"/>
<path d="M568.6,1136.1V1140.66" stroke="rgb(22,0,0)"/><path d="M567.43,1140.09q1.17,-1.15 2.34,0l-1.17,1.73z" fill="rgb(22,0,0)"/><circle cx="568.6" cy="1136.1" r="3.4" fill="rgb(18,0,18)"/>
<path d="M568.6,1111.4V1121.45" stroke="rgb(50,0,0)"/><path d="M566.75,1120.67q1.85,-1.56 3.7,0l-1.85,2.34z" fill="rgb(50,0,0)"/><circle cx="568.6" cy="1111.4" r="3.4" fill="rgb(55,0,55)"/>
<path d="M568.6,1093.4V1105.18" stroke="rgb(59,0,0)"/><path d="M566.65,1104.38q1.95,-1.6 3.9,0l-1.95,2.4z" fill="rgb(59,0,0)"/><circle cx="568.6" cy="1093.4" r="3.4" fill="rgb(83,0,83)"/>
<path d="M568.6,1045.3V1055.56" stroke="rgb(51,0,0)"/><path d="M566.73,1054.78q1.87,-1.57 3.73,0l-1.87,2.35z" fill="rgb(51,0,0)"/><circle cx="568.6" cy="1045.3" r="3.4" fill="rgb(156,0,156)"/>
<path d="M568.6,1014.9V1020.92" stroke="rgb(30,0,0)"/><path d="M567.15,1020.18q1.45,-1.47 2.9,0l-1.45,2.2z" fill="rgb(30,0,0)"/><circle cx="568.6" cy="1014.9" r="3.4" fill="rgb(202,0,202)"/>
<path d="M568.6,1125.6V1132.94" stroke="rgb(37,0,0)"/><path d="M566.93,1132.19q1.67,-1.5 3.34,0l-1.67,2.25z" fill="rgb(37,0,0)"/><circle cx="568.6" cy="1125.6" r="3.4" fill="rgb(34,0,34)"/>
<path d="M568.6,1071.4V1083.44" stroke="rgb(60,0,0)"/><path d="M566.63,1082.63q1.96,-1.61 3.93,0l-1.96,2.41z" fill="rgb(60,0,0)"/><circle cx="568.6" cy="1071.4" r="3.4" fill="rgb(116,0,116)"/>
<circle cx="568.6" cy="980.2" r="3.4" fill="rgb(255,0,255)"/>
<path d="M429.7,1027.4V1052.06" stroke="rgb(129,0,0)"/><path d="M427.01,1051.11q2.69,-1.9 5.37,0l-2.69,2.85z" fill="rgb(129,0,0)"/><circle cx="429.7" cy="1027.4" r="3.4" fill="rgb(116,18,202)"/>
<path d="M488.5,1053.2V1071.87" stroke="rgb(95,0,0)"/><path d="M486.11,1070.99q2.34,-1.76 4.68,0l-2.34,2.64z" fill="rgb(95,0,0)"/><circle cx="488.5" cy="1053.2" r="3.4" fill="rgb(116,7,156)"/>
<path d="M266.4,1042.5V1071.26" stroke="rgb(153,0,0)"/><path d="M263.52,1070.27q2.92,-1.99 5.85,0l-2.92,2.99z" fill="rgb(153,0,0)"/><circle cx="266.4" cy="1042.5" r="3.4" fill="rgb(34,34,202)"/>
<path d="M332.9,1118.8V1131.58" stroke="rgb(64,0,0)"/><path d="M330.94,1130.77q2.01,-1.62 4.02,0l-2.01,2.44z" fill="rgb(64,0,0)"/><circle cx="332.9" cy="1118.8" r="3.4" fill="rgb(18,7,55)"/>
<path d="M332.9,1009.8V1039.98" stroke="rgb(162,0,0)"/><path d="M329.94,1038.97q3.01,-2.03 6.01,0l-3.01,3.04z" fill="rgb(162,0,0)"/><circle cx="332.9" cy="1009.8" r="3.4" fill="rgb(83,34,255)"/>
<path d="M497.1,1026.6V1042.8" stroke="rgb(82,0,0)"/><path d="M494.92,1041.95q2.21,-1.7 4.41,0l-2.21,2.56z" fill="rgb(82,0,0)"/><circle cx="497.1" cy="1026.6" r="3.4" fill="rgb(156,7,202)"/>
<path d="M442.3,1000.2V1021.69" stroke="rgb(111,0,0)"/><path d="M439.79,1020.78q2.51,-1.82 5.01,0l-2.51,2.74z" fill="rgb(111,0,0)"/><circle cx="442.3" cy="1000.2" r="3.4" fill="rgb(156,18,255)"/>
<path d="M504.2,995.4V1006.58" stroke="rgb(56,0,0)"/><path d="M502.25,1005.79q1.92,-1.59 3.83,0l-1.92,2.38z" fill="rgb(56,0,0)"/><circle cx="504.2" cy="995.4" r="3.4" fill="rgb(202,7,255)"/>
<path d="M343.9,1067.3V1091.5" stroke="rgb(127,0,0)"/><path d="M341.27,1090.56q2.66,-1.89 5.33,0l-2.66,2.83z" fill="rgb(127,0,0)"/><circle cx="343.9" cy="1067.3" r="3.4" fill="rgb(55,18,156)"/>
<path d="M257.6,1092.8V1113.22" stroke="rgb(105,0,0)"/><path d="M255.15,1112.32q2.44,-1.8 4.89,0l-2.44,2.7z" fill="rgb(105,0,0)"/><circle cx="257.6" cy="1092.8" r="3.4" fill="rgb(18,18,116)"/>
<path d="M227.1,1052.4V1078.87" stroke="rgb(140,0,0)"/><path d="M224.32,1077.9q2.79,-1.94 5.59,0l-2.79,2.91z" fill="rgb(140,0,0)"/><circle cx="227.1" cy="1052.4" r="3.4" fill="rgb(18,34,202)"/>
<path d="M504.1,1007.3V1013.31" stroke="rgb(30,0,0)"/><path d="M502.62,1012.57q1.45,-1.47 2.9,0l-1.45,2.2z" fill="rgb(30,0,0)"/><circle cx="504.1" cy="1007.3" r="3.4" fill="rgb(202,2,255)"/>
<path d="M283.9,1025.9V1054.84" stroke="rgb(154,0,0)"/><path d="M280.92,1053.85q2.93,-2 5.86,0l-2.93,2.99z" fill="rgb(154,0,0)"/><circle cx="283.9" cy="1025.9" r="3.4" fill="rgb(55,34,255)"/>
<path d="M364,1142.7V1147.1" stroke="rgb(21,0,0)"/><path d="M362.91,1146.55q1.13,-1.1 2.26,0l-1.13,1.65z" fill="rgb(21,0,0)"/><circle cx="364" cy="1142.7" r="3.4" fill="rgb(7,2,18)"/>
<path d="M364,1109.3V1124.78" stroke="rgb(78,0,0)"/><path d="M361.88,1123.94q2.16,-1.69 4.33,0l-2.16,2.53z" fill="rgb(78,0,0)"/><circle cx="364" cy="1109.3" r="3.4" fill="rgb(34,7,83)"/>
<path d="M364,1047.8V1072.21" stroke="rgb(128,0,0)"/><path d="M361.37,1071.27q2.68,-1.89 5.35,0l-2.68,2.84z" fill="rgb(128,0,0)"/><circle cx="364" cy="1047.8" r="3.4" fill="rgb(83,18,202)"/>
<path d="M496.9,1039.1V1050.15" stroke="rgb(55,0,0)"/><path d="M494.96,1049.36q1.91,-1.59 3.82,0l-1.91,2.38z" fill="rgb(55,0,0)"/><circle cx="496.9" cy="1039.1" r="3.4" fill="rgb(156,2,202)"/>
<path d="M504,1010.6V1015.06" stroke="rgb(22,0,0)"/><path d="M502.9,1014.5q1.15,-1.12 2.29,0l-1.15,1.68z" fill="rgb(22,0,0)"/><circle cx="504" cy="1010.6" r="3.4" fill="rgb(202,0,255)"/>
<path d="M487.9,1066.6V1080.11" stroke="rgb(68,0,0)"/><path d="M485.84,1079.29q2.05,-1.64 4.09,0l-2.05,2.46z" fill="rgb(68,0,0)"/><circle cx="487.9" cy="1066.6" r="3.4" fill="rgb(116,2,156)"/>
<path d="M199.3,1059V1083.43" stroke="rgb(128,0,0)"/><path d="M196.59,1082.49q2.67,-1.89 5.34,0l-2.67,2.84z" fill="rgb(128,0,0)"/><circle cx="199.3" cy="1059" r="3.4" fill="rgb(7,34,202)"/>
<path d="M476.4,1090.1V1103.82" stroke="rgb(69,0,0)"/><path d="M474.32,1103q2.06,-1.65 4.12,0l-2.06,2.47z" fill="rgb(69,0,0)"/><circle cx="476.4" cy="1090.1" r="3.4" fill="rgb(83,2,116)"/>
<path d="M381.6,1023.5V1046.25" stroke="rgb(119,0,0)"/><path d="M379,1045.32q2.58,-1.85 5.16,0l-2.58,2.78z" fill="rgb(119,0,0)"/><circle cx="381.6" cy="1023.5" r="3.4" fill="rgb(116,18,255)"/>
<path d="M496.8,1042.6V1051.78" stroke="rgb(46,0,0)"/><path d="M494.99,1051.01q1.8,-1.54 3.61,0l-1.8,2.31z" fill="rgb(46,0,0)"/><circle cx="496.8" cy="1042.6" r="3.4" fill="rgb(156,0,202)"/>
<path d="M389.5,1094.3V1111.91" stroke="rgb(90,0,0)"/><path d="M387.17,1111.04q2.28,-1.73 4.56,0l-2.28,2.6z" fill="rgb(90,0,0)"/><circle cx="389.5" cy="1094.3" r="3.4" fill="rgb(55,7,116)"/>
<path d="M461.2,1109.6V1121.91" stroke="rgb(62,0,0)"/><path d="M459.19,1121.11q1.98,-1.61 3.96,0l-1.98,2.42z" fill="rgb(62,0,0)"/><circle cx="461.2" cy="1109.6" r="3.4" fill="rgb(55,2,83)"/>
<path d="M183.6,1062.7V1085.56" stroke="rgb(119,0,0)"/><path d="M180.99,1084.63q2.58,-1.86 5.17,0l-2.58,2.78z" fill="rgb(119,0,0)"/><circle cx="183.6" cy="1062.7" r="3.4" fill="rgb(2,34,202)"/>
<path d="M210.5,1100.5V1118.85" stroke="rgb(94,0,0)"/><path d="M208.18,1117.97q2.32,-1.75 4.65,0l-2.32,2.63z" fill="rgb(94,0,0)"/><circle cx="210.5" cy="1100.5" r="3.4" fill="rgb(7,18,116)"/>
<path d="M179.1,1063.7V1086.02" stroke="rgb(116,0,0)"/><path d="M176.58,1085.1q2.55,-1.84 5.11,0l-2.55,2.77z" fill="rgb(116,0,0)"/><circle cx="179.1" cy="1063.7" r="3.4" fill="rgb(0,34,202)"/>
<path d="M487.7,1070.4V1082" stroke="rgb(58,0,0)"/><path d="M485.78,1081.21q1.94,-1.6 3.88,0l-1.94,2.4z" fill="rgb(58,0,0)"/><circle cx="487.7" cy="1070.4" r="3.4" fill="rgb(116,0,156)"/>
<path d="M409.9,1136.5V1143.45" stroke="rgb(35,0,0)"/><path d="M408.34,1142.7q1.6,-1.49 3.21,0l-1.6,2.24z" fill="rgb(35,0,0)"/><circle cx="409.9" cy="1136.5" r="3.4" fill="rgb(18,2,34)"/>
<path d="M409.9,1074.7V1093.15" stroke="rgb(94,0,0)"/><path d="M407.61,1092.27q2.33,-1.75 4.66,0l-2.33,2.63z" fill="rgb(94,0,0)"/><circle cx="409.9" cy="1074.7" r="3.4" fill="rgb(83,7,156)"/>
<path d="M440.2,1022.3V1036.69" stroke="rgb(72,0,0)"/><path d="M438.13,1035.85q2.1,-1.66 4.2,0l-2.1,2.49z" fill="rgb(72,0,0)"/><circle cx="440.2" cy="1022.3" r="3.4" fill="rgb(156,7,255)"/>
<path d="M440.2,1125.1V1134.99" stroke="rgb(49,0,0)"/><path d="M438.38,1134.21q1.84,-1.56 3.68,0l-1.84,2.34z" fill="rgb(49,0,0)"/><circle cx="440.2" cy="1125.1" r="3.4" fill="rgb(34,2,55)"/>
<path d="M426.6,1050.7V1068.23" stroke="rgb(89,0,0)"/><path d="M424.29,1067.37q2.28,-1.73 4.56,0l-2.28,2.6z" fill="rgb(89,0,0)"/><circle cx="426.6" cy="1050.7" r="3.4" fill="rgb(116,7,202)"/>
<path d="M280.6,1081.5V1103.7" stroke="rgb(115,0,0)"/><path d="M278.09,1102.78q2.55,-1.84 5.1,0l-2.55,2.76z" fill="rgb(115,0,0)"/><circle cx="280.6" cy="1081.5" r="3.4" fill="rgb(34,18,156)"/>
<path d="M242,1129.1V1139.73" stroke="rgb(53,0,0)"/><path d="M240.07,1138.95q1.89,-1.58 3.77,0l-1.89,2.36z" fill="rgb(53,0,0)"/><circle cx="242" cy="1129.1" r="3.4" fill="rgb(7,7,55)"/>
<path d="M242,1038.8V1065.74" stroke="rgb(142,0,0)"/><path d="M239.14,1064.77q2.82,-1.95 5.63,0l-2.82,2.92z" fill="rgb(142,0,0)"/><circle cx="242" cy="1038.8" r="3.4" fill="rgb(34,34,255)"/>
<path d="M476,1094.3V1106.11" stroke="rgb(59,0,0)"/><path d="M474.09,1105.31q1.95,-1.6 3.91,0l-1.95,2.4z" fill="rgb(59,0,0)"/><circle cx="476" cy="1094.3" r="3.4" fill="rgb(83,0,116)"/>
<path d="M183.3,1104.8V1121.61" stroke="rgb(85,0,0)"/><path d="M181.03,1120.75q2.24,-1.72 4.47,0l-2.24,2.57z" fill="rgb(85,0,0)"/><circle cx="183.3" cy="1104.8" r="3.4" fill="rgb(2,18,116)"/>
<path d="M175.5,1106V1122.26" stroke="rgb(82,0,0)"/><path d="M173.26,1121.4q2.2,-1.7 4.41,0l-2.2,2.55z" fill="rgb(82,0,0)"/><circle cx="175.5" cy="1106" r="3.4" fill="rgb(0,18,116)"/>
<path d="M460.5,1114.4V1124.86" stroke="rgb(52,0,0)"/><path d="M458.6,1124.07q1.87,-1.57 3.75,0l-1.87,2.36z" fill="rgb(52,0,0)"/><circle cx="460.5" cy="1114.4" r="3.4" fill="rgb(55,0,83)"/>
<path d="M303.3,1064.8V1087.99" stroke="rgb(121,0,0)"/><path d="M300.7,1087.06q2.6,-1.86 5.2,0l-2.6,2.79z" fill="rgb(121,0,0)"/><circle cx="303.3" cy="1064.8" r="3.4" fill="rgb(55,18,202)"/>
<path d="M208.9,1048.5V1073.13" stroke="rgb(129,0,0)"/><path d="M206.2,1072.18q2.69,-1.9 5.37,0l-2.69,2.85z" fill="rgb(129,0,0)"/><circle cx="208.9" cy="1048.5" r="3.4" fill="rgb(18,34,255)"/>
<path d="M439,1034.4V1043.65" stroke="rgb(46,0,0)"/><path d="M437.24,1042.88q1.8,-1.54 3.61,0l-1.8,2.31z" fill="rgb(46,0,0)"/><circle cx="439" cy="1034.4" r="3.4" fill="rgb(156,2,255)"/>
<path d="M324.1,1043.4V1066.03" stroke="rgb(117,0,0)"/><path d="M321.56,1065.1q2.57,-1.85 5.14,0l-2.57,2.77z" fill="rgb(117,0,0)"/><circle cx="324.1" cy="1043.4" r="3.4" fill="rgb(83,18,255)"/>
<path d="M228.7,1092.2V1112.22" stroke="rgb(103,0,0)"/><path d="M226.27,1111.33q2.42,-1.79 4.84,0l-2.42,2.68z" fill="rgb(103,0,0)"/><circle cx="228.7" cy="1092.2" r="3.4" fill="rgb(18,18,156)"/>
<path d="M438.7,1037.8V1045.17" stroke="rgb(37,0,0)"/><path d="M437.04,1044.42q1.67,-1.5 3.34,0l-1.67,2.25z" fill="rgb(37,0,0)"/><circle cx="438.7" cy="1037.8" r="3.4" fill="rgb(156,0,255)"/>
<path d="M438.7,1131V1139.08" stroke="rgb(40,0,0)"/><path d="M436.98,1138.32q1.73,-1.51 3.47,0l-1.73,2.27z" fill="rgb(40,0,0)"/><circle cx="438.7" cy="1131" r="3.4" fill="rgb(34,0,55)"/>
<path d="M424.8,1063.5V1075.92" stroke="rgb(62,0,0)"/><path d="M422.79,1075.11q1.98,-1.62 3.97,0l-1.98,2.42z" fill="rgb(62,0,0)"/><circle cx="424.8" cy="1063.5" r="3.4" fill="rgb(116,2,202)"/>
<path d="M185.7,1135V1144.16" stroke="rgb(45,0,0)"/><path d="M183.9,1143.39q1.8,-1.54 3.6,0l-1.8,2.31z" fill="rgb(45,0,0)"/><circle cx="185.7" cy="1135" r="3.4" fill="rgb(2,7,55)"/>
<path d="M185.7,1055V1077.53" stroke="rgb(117,0,0)"/><path d="M183.13,1076.61q2.57,-1.85 5.13,0l-2.57,2.77z" fill="rgb(117,0,0)"/><circle cx="185.7" cy="1055" r="3.4" fill="rgb(7,34,255)"/>
<path d="M275.7,1122.4V1135.62" stroke="rgb(66,0,0)"/><path d="M273.63,1134.81q2.03,-1.63 4.07,0l-2.03,2.45z" fill="rgb(66,0,0)"/><circle cx="275.7" cy="1122.4" r="3.4" fill="rgb(18,7,83)"/>
<path d="M377.4,1046V1061.66" stroke="rgb(79,0,0)"/><path d="M375.23,1060.81q2.17,-1.69 4.35,0l-2.17,2.54z" fill="rgb(79,0,0)"/><circle cx="377.4" cy="1046" r="3.4" fill="rgb(116,7,255)"/>
<path d="M424.3,1067.1V1077.64" stroke="rgb(52,0,0)"/><path d="M422.38,1076.86q1.88,-1.57 3.75,0l-1.88,2.36z" fill="rgb(52,0,0)"/><circle cx="424.3" cy="1067.1" r="3.4" fill="rgb(116,0,202)"/>
<path d="M172.7,1058.6V1079.56" stroke="rgb(109,0,0)"/><path d="M170.24,1078.65q2.48,-1.81 4.96,0l-2.48,2.72z" fill="rgb(109,0,0)"/><circle cx="172.7" cy="1058.6" r="3.4" fill="rgb(2,34,255)"/>
<path d="M407.1,1088.6V1101.87" stroke="rgb(67,0,0)"/><path d="M405.07,1101.05q2.03,-1.64 4.07,0l-2.03,2.45z" fill="rgb(67,0,0)"/><circle cx="407.1" cy="1088.6" r="3.4" fill="rgb(83,2,156)"/>
<path d="M169.1,1136.7V1145.31" stroke="rgb(43,0,0)"/><path d="M167.3,1144.55q1.77,-1.53 3.53,0l-1.77,2.29z" fill="rgb(43,0,0)"/><circle cx="169.1" cy="1136.7" r="3.4" fill="rgb(0,7,55)"/>
<path d="M169.1,1059.5V1080" stroke="rgb(105,0,0)"/><path d="M166.62,1079.1q2.45,-1.8 4.89,0l-2.45,2.7z" fill="rgb(105,0,0)"/><circle cx="169.1" cy="1059.5" r="3.4" fill="rgb(0,34,255)"/>
<path d="M358,1071.6V1088.95" stroke="rgb(88,0,0)"/><path d="M355.7,1088.09q2.27,-1.73 4.54,0l-2.27,2.59z" fill="rgb(88,0,0)"/><circle cx="358" cy="1071.6" r="3.4" fill="rgb(83,7,202)"/>
<path d="M307.4,1110V1125.61" stroke="rgb(79,0,0)"/><path d="M305.26,1124.77q2.17,-1.69 4.33,0l-2.17,2.53z" fill="rgb(79,0,0)"/><circle cx="307.4" cy="1110" r="3.4" fill="rgb(34,7,116)"/>
<path d="M334.9,1093V1110.12" stroke="rgb(87,0,0)"/><path d="M332.6,1109.26q2.26,-1.72 4.51,0l-2.26,2.59z" fill="rgb(87,0,0)"/><circle cx="334.9" cy="1093" r="3.4" fill="rgb(55,7,156)"/>
<path d="M250.3,1078.6V1099.74" stroke="rgb(109,0,0)"/><path d="M247.82,1098.83q2.49,-1.82 4.97,0l-2.49,2.73z" fill="rgb(109,0,0)"/><circle cx="250.3" cy="1078.6" r="3.4" fill="rgb(34,18,202)"/>
<path d="M191.2,1099.6V1117.48" stroke="rgb(91,0,0)"/><path d="M188.9,1116.61q2.3,-1.74 4.6,0l-2.3,2.61z" fill="rgb(91,0,0)"/><circle cx="191.2" cy="1099.6" r="3.4" fill="rgb(7,18,156)"/>
<path d="M384.8,1109.8V1122.2" stroke="rgb(62,0,0)"/><path d="M382.78,1121.39q1.99,-1.62 3.97,0l-1.99,2.42z" fill="rgb(62,0,0)"/><circle cx="384.8" cy="1109.8" r="3.4" fill="rgb(55,2,116)"/>
<path d="M406.3,1092.5V1103.91" stroke="rgb(57,0,0)"/><path d="M404.35,1103.11q1.93,-1.59 3.86,0l-1.93,2.39z" fill="rgb(57,0,0)"/><circle cx="406.3" cy="1092.5" r="3.4" fill="rgb(83,0,156)"/>
<path d="M406.3,1144.7V1149.94" stroke="rgb(26,0,0)"/><path d="M404.99,1149.29q1.3,-1.31 2.59,0l-1.3,1.96z" fill="rgb(26,0,0)"/><circle cx="406.3" cy="1144.7" r="3.4" fill="rgb(18,0,34)"/>
<path d="M272,1060.1V1081.39" stroke="rgb(110,0,0)"/><path d="M269.55,1080.48q2.49,-1.82 4.99,0l-2.49,2.73z" fill="rgb(110,0,0)"/><circle cx="272" cy="1060.1" r="3.4" fill="rgb(55,18,255)"/>
<path d="M169.8,1103.7V1120.01" stroke="rgb(83,0,0)"/><path d="M167.59,1119.16q2.21,-1.71 4.42,0l-2.21,2.56z" fill="rgb(83,0,0)"/><circle cx="169.8" cy="1103.7" r="3.4" fill="rgb(2,18,156)"/>
<path d="M355.9,1127.2V1137.59" stroke="rgb(51,0,0)"/><path d="M354.02,1136.81q1.87,-1.57 3.73,0l-1.87,2.35z" fill="rgb(51,0,0)"/><circle cx="355.9" cy="1127.2" r="3.4" fill="rgb(34,2,83)"/>
<path d="M163.7,1104.8V1120.59" stroke="rgb(80,0,0)"/><path d="M161.54,1119.75q2.18,-1.69 4.36,0l-2.18,2.54z" fill="rgb(80,0,0)"/><circle cx="163.7" cy="1104.8" r="3.4" fill="rgb(0,18,156)"/>
<path d="M375,1058.3V1068.87" stroke="rgb(52,0,0)"/><path d="M373.14,1068.09q1.88,-1.57 3.76,0l-1.88,2.36z" fill="rgb(52,0,0)"/><circle cx="375" cy="1058.3" r="3.4" fill="rgb(116,2,255)"/>
<path d="M383.4,1114.2V1124.71" stroke="rgb(52,0,0)"/><path d="M381.52,1123.93q1.88,-1.57 3.76,0l-1.88,2.36z" fill="rgb(52,0,0)"/><circle cx="383.4" cy="1114.2" r="3.4" fill="rgb(55,0,116)"/>
<path d="M207.7,1154.9V1158.04" stroke="rgb(14,0,0)"/><circle cx="207.7" cy="1154.9" r="3.4" fill="rgb(2,2,18)"/>
<path d="M207.7,1131.7V1142.81" stroke="rgb(55,0,0)"/><path d="M205.75,1142.01q1.91,-1.59 3.82,0l-1.91,2.38z" fill="rgb(55,0,0)"/><circle cx="207.7" cy="1131.7" r="3.4" fill="rgb(7,7,83)"/>
<path d="M207.7,1089V1107.85" stroke="rgb(97,0,0)"/><path d="M205.31,1106.97q2.36,-1.76 4.71,0l-2.36,2.65z" fill="rgb(97,0,0)"/><circle cx="207.7" cy="1089" r="3.4" fill="rgb(18,18,202)"/>
<path d="M374.3,1061.8V1070.46" stroke="rgb(43,0,0)"/><path d="M372.57,1069.7q1.77,-1.53 3.54,0l-1.77,2.29z" fill="rgb(43,0,0)"/><circle cx="374.3" cy="1061.8" r="3.4" fill="rgb(116,0,255)"/>
<path d="M317.7,1141V1148.67" stroke="rgb(38,0,0)"/><path d="M316.02,1147.92q1.71,-1.51 3.42,0l-1.71,2.26z" fill="rgb(38,0,0)"/><circle cx="317.7" cy="1141" r="3.4" fill="rgb(18,2,55)"/>
<path d="M317.7,1066.4V1081.85" stroke="rgb(78,0,0)"/><path d="M315.57,1081q2.16,-1.69 4.32,0l-2.16,2.53z" fill="rgb(78,0,0)"/><circle cx="317.7" cy="1066.4" r="3.4" fill="rgb(83,7,255)"/>
<path d="M354.5,1084.8V1096.98" stroke="rgb(61,0,0)"/><path d="M352.48,1096.17q1.97,-1.61 3.95,0l-1.97,2.42z" fill="rgb(61,0,0)"/><circle cx="354.5" cy="1084.8" r="3.4" fill="rgb(83,2,202)"/>
<path d="M294.2,1089.2V1105.28" stroke="rgb(81,0,0)"/><path d="M291.99,1104.43q2.19,-1.7 4.39,0l-2.19,2.55z" fill="rgb(81,0,0)"/><circle cx="294.2" cy="1089.2" r="3.4" fill="rgb(55,7,202)"/>
<path d="M227.4,1073.4V1092.73" stroke="rgb(99,0,0)"/><path d="M225.04,1091.84q2.38,-1.77 4.76,0l-2.38,2.66z" fill="rgb(99,0,0)"/><circle cx="227.4" cy="1073.4" r="3.4" fill="rgb(34,18,255)"/>
<path d="M237.6,1122.2V1135.54" stroke="rgb(67,0,0)"/><path d="M235.57,1134.72q2.04,-1.64 4.07,0l-2.04,2.45z" fill="rgb(67,0,0)"/><circle cx="237.6" cy="1122.2" r="3.4" fill="rgb(18,7,116)"/>
<path d="M267.3,1150.9V1155.92" stroke="rgb(25,0,0)"/><path d="M266.05,1155.29q1.26,-1.26 2.51,0l-1.26,1.89z" fill="rgb(25,0,0)"/><circle cx="267.3" cy="1150.9" r="3.4" fill="rgb(7,2,34)"/>
<path d="M267.3,1107.9V1123.05" stroke="rgb(76,0,0)"/><path d="M265.17,1122.21q2.14,-1.68 4.28,0l-2.14,2.52z" fill="rgb(76,0,0)"/><circle cx="267.3" cy="1107.9" r="3.4" fill="rgb(34,7,156)"/>
<path d="M353.4,1156.3V1159.15" stroke="rgb(13,0,0)"/><circle cx="353.4" cy="1156.3" r="3.4" fill="rgb(7,0,18)"/>
<path d="M353.4,1132.4V1140.89" stroke="rgb(42,0,0)"/><path d="M351.69,1140.13q1.76,-1.53 3.52,0l-1.76,2.29z" fill="rgb(42,0,0)"/><circle cx="353.4" cy="1132.4" r="3.4" fill="rgb(34,0,83)"/>
<path d="M353.4,1088.5V1098.81" stroke="rgb(51,0,0)"/><path d="M351.58,1098.02q1.87,-1.57 3.73,0l-1.87,2.35z" fill="rgb(51,0,0)"/><circle cx="353.4" cy="1088.5" r="3.4" fill="rgb(83,0,202)"/>
<path d="M177.4,1096V1112.78" stroke="rgb(85,0,0)"/><path d="M175.13,1111.92q2.24,-1.72 4.47,0l-2.24,2.57z" fill="rgb(85,0,0)"/><circle cx="177.4" cy="1096" r="3.4" fill="rgb(7,18,202)"/>
<path d="M329.5,1107.4V1119.33" stroke="rgb(60,0,0)"/><path d="M327.53,1118.53q1.96,-1.61 3.92,0l-1.96,2.41z" fill="rgb(60,0,0)"/><circle cx="329.5" cy="1107.4" r="3.4" fill="rgb(55,2,156)"/>
<path d="M167.2,1136.9V1146.54" stroke="rgb(48,0,0)"/><path d="M165.33,1145.76q1.82,-1.55 3.65,0l-1.82,2.33z" fill="rgb(48,0,0)"/><circle cx="167.2" cy="1136.9" r="3.4" fill="rgb(2,7,83)"/>
<path d="M160.2,1099.9V1115.11" stroke="rgb(77,0,0)"/><path d="M158.1,1114.27q2.15,-1.68 4.3,0l-2.15,2.52z" fill="rgb(77,0,0)"/><circle cx="160.2" cy="1099.9" r="3.4" fill="rgb(2,18,202)"/>
<path d="M155.4,1138.4V1147.48" stroke="rgb(45,0,0)"/><path d="M153.6,1146.71q1.79,-1.54 3.58,0l-1.79,2.31z" fill="rgb(45,0,0)"/><circle cx="155.4" cy="1138.4" r="3.4" fill="rgb(0,7,83)"/>
<path d="M155.4,1158.8V1161.5" stroke="rgb(12,0,0)"/><circle cx="155.4" cy="1158.8" r="3.4" fill="rgb(0,2,18)"/>
<path d="M155.4,1100.9V1115.64" stroke="rgb(74,0,0)"/><path d="M153.28,1114.8q2.12,-1.67 4.23,0l-2.12,2.5z" fill="rgb(74,0,0)"/><circle cx="155.4" cy="1100.9" r="3.4" fill="rgb(0,18,202)"/>
<path d="M192.1,1083.4V1100.47" stroke="rgb(87,0,0)"/><path d="M189.8,1099.61q2.25,-1.72 4.5,0l-2.25,2.58z" fill="rgb(87,0,0)"/><circle cx="192.1" cy="1083.4" r="3.4" fill="rgb(18,18,255)"/>
<path d="M327.9,1111.4V1121.51" stroke="rgb(50,0,0)"/><path d="M326.09,1120.73q1.85,-1.56 3.71,0l-1.85,2.34z" fill="rgb(50,0,0)"/><circle cx="327.9" cy="1111.4" r="3.4" fill="rgb(55,0,156)"/>
<path d="M314.1,1079V1089.3" stroke="rgb(51,0,0)"/><path d="M312.2,1088.52q1.87,-1.57 3.73,0l-1.87,2.35z" fill="rgb(51,0,0)"/><circle cx="314.1" cy="1079" r="3.4" fill="rgb(83,2,255)"/>
<path d="M298.9,1126.2V1136.63" stroke="rgb(52,0,0)"/><path d="M297.02,1135.84q1.87,-1.57 3.74,0l-1.87,2.35z" fill="rgb(52,0,0)"/><circle cx="298.9" cy="1126.2" r="3.4" fill="rgb(34,2,116)"/>
<path d="M263.4,1083.4V1097.6" stroke="rgb(71,0,0)"/><path d="M261.36,1096.77q2.09,-1.66 4.17,0l-2.09,2.48z" fill="rgb(71,0,0)"/><circle cx="263.4" cy="1083.4" r="3.4" fill="rgb(55,7,255)"/>
<path d="M313,1147.6V1153.41" stroke="rgb(29,0,0)"/><path d="M311.62,1152.68q1.41,-1.45 2.82,0l-1.41,2.17z" fill="rgb(29,0,0)"/><circle cx="313" cy="1147.6" r="3.4" fill="rgb(18,0,55)"/>
<path d="M313,1082.5V1090.96" stroke="rgb(42,0,0)"/><path d="M311.26,1090.2q1.76,-1.52 3.52,0l-1.76,2.29z" fill="rgb(42,0,0)"/><circle cx="313" cy="1082.5" r="3.4" fill="rgb(83,0,255)"/>
<path d="M185.7,1130.7V1141.9" stroke="rgb(56,0,0)"/><path d="M183.83,1141.1q1.92,-1.59 3.83,0l-1.92,2.38z" fill="rgb(56,0,0)"/><circle cx="185.7" cy="1130.7" r="3.4" fill="rgb(7,7,116)"/>
<path d="M238.3,1103.5V1117.52" stroke="rgb(71,0,0)"/><path d="M236.19,1116.69q2.08,-1.65 4.16,0l-2.08,2.48z" fill="rgb(71,0,0)"/><circle cx="238.3" cy="1103.5" r="3.4" fill="rgb(34,7,202)"/>
<path d="M167.2,1090.2V1105.12" stroke="rgb(75,0,0)"/><path d="M165.07,1104.28q2.13,-1.67 4.26,0l-2.13,2.51z" fill="rgb(75,0,0)"/><circle cx="167.2" cy="1090.2" r="3.4" fill="rgb(7,18,255)"/>
<path d="M288.9,1102.7V1113.63" stroke="rgb(54,0,0)"/><path d="M286.98,1112.84q1.9,-1.58 3.8,0l-1.9,2.37z" fill="rgb(54,0,0)"/><circle cx="288.9" cy="1102.7" r="3.4" fill="rgb(55,2,202)"/>
<path d="M211.5,1119.3V1132.19" stroke="rgb(64,0,0)"/><path d="M209.53,1131.38q2.01,-1.63 4.02,0l-2.01,2.44z" fill="rgb(64,0,0)"/><circle cx="211.5" cy="1119.3" r="3.4" fill="rgb(18,7,156)"/>
<path d="M261.4,1141.4V1149.52" stroke="rgb(40,0,0)"/><path d="M259.65,1148.76q1.74,-1.52 3.48,0l-1.74,2.27z" fill="rgb(40,0,0)"/><circle cx="261.4" cy="1141.4" r="3.4" fill="rgb(18,2,83)"/>
<path d="M296.4,1130.8V1139.36" stroke="rgb(42,0,0)"/><path d="M294.63,1138.59q1.76,-1.53 3.53,0l-1.76,2.29z" fill="rgb(42,0,0)"/><circle cx="296.4" cy="1130.8" r="3.4" fill="rgb(34,0,116)"/>
<path d="M153.3,1093.9V1107.29" stroke="rgb(67,0,0)"/><path d="M151.22,1106.47q2.04,-1.64 4.08,0l-2.04,2.46z" fill="rgb(67,0,0)"/><circle cx="153.3" cy="1093.9" r="3.4" fill="rgb(2,18,255)"/>
<path d="M149.3,1094.9V1107.77" stroke="rgb(64,0,0)"/><path d="M147.32,1106.96q2.01,-1.63 4.02,0l-2.01,2.44z" fill="rgb(64,0,0)"/><circle cx="149.3" cy="1094.9" r="3.4" fill="rgb(0,18,255)"/>
<path d="M287.4,1106.5V1115.56" stroke="rgb(45,0,0)"/><path d="M285.57,1114.79q1.79,-1.54 3.58,0l-1.79,2.31z" fill="rgb(45,0,0)"/><circle cx="287.4" cy="1106.5" r="3.4" fill="rgb(55,0,202)"/>
<path d="M155.6,1135.4V1145.09" stroke="rgb(48,0,0)"/><path d="M153.74,1144.32q1.83,-1.55 3.66,0l-1.83,2.33z" fill="rgb(48,0,0)"/><circle cx="155.6" cy="1135.4" r="3.4" fill="rgb(2,7,116)"/>
<path d="M259.4,1122.7V1132.71" stroke="rgb(50,0,0)"/><path d="M257.55,1131.93q1.85,-1.56 3.69,0l-1.85,2.34z" fill="rgb(50,0,0)"/><circle cx="259.4" cy="1122.7" r="3.4" fill="rgb(34,2,156)"/>
<path d="M146.9,1136.8V1145.87" stroke="rgb(45,0,0)"/><path d="M145.12,1145.1q1.8,-1.54 3.59,0l-1.8,2.31z" fill="rgb(45,0,0)"/><circle cx="146.9" cy="1136.8" r="3.4" fill="rgb(0,7,116)"/>
<path d="M216.8,1153V1158.55" stroke="rgb(28,0,0)"/><path d="M215.42,1157.85q1.37,-1.4 2.74,0l-1.37,2.1z" fill="rgb(28,0,0)"/><circle cx="216.8" cy="1153" r="3.4" fill="rgb(7,2,55)"/>
<path d="M216.8,1097.1V1109.27" stroke="rgb(61,0,0)"/><path d="M214.81,1108.47q1.97,-1.61 3.95,0l-1.97,2.42z" fill="rgb(61,0,0)"/><circle cx="216.8" cy="1097.1" r="3.4" fill="rgb(34,7,255)"/>
<path d="M258.5,1096.3V1105.28" stroke="rgb(45,0,0)"/><path d="M256.72,1104.51q1.79,-1.54 3.58,0l-1.79,2.31z" fill="rgb(45,0,0)"/><circle cx="258.5" cy="1096.3" r="3.4" fill="rgb(55,2,255)"/>
<path d="M171.1,1159.9V1163.69" stroke="rgb(18,0,0)"/><path d="M170.09,1163.22q1.01,-0.95 2.01,0l-1.01,1.42z" fill="rgb(18,0,0)"/><circle cx="171.1" cy="1159.9" r="3.4" fill="rgb(2,2,34)"/>
<path d="M171.1,1127.2V1137.91" stroke="rgb(53,0,0)"/><path d="M169.2,1137.12q1.89,-1.58 3.78,0l-1.89,2.37z" fill="rgb(53,0,0)"/><circle cx="171.1" cy="1127.2" r="3.4" fill="rgb(7,7,156)"/>
<path d="M193.1,1114.3V1126.03" stroke="rgb(59,0,0)"/><path d="M191.16,1125.23q1.95,-1.6 3.9,0l-1.95,2.4z" fill="rgb(59,0,0)"/><circle cx="193.1" cy="1114.3" r="3.4" fill="rgb(18,7,202)"/>
<path d="M257.1,1099.8V1107.01" stroke="rgb(36,0,0)"/><path d="M255.46,1106.26q1.63,-1.49 3.27,0l-1.63,2.24z" fill="rgb(36,0,0)"/><circle cx="257.1" cy="1099.8" r="3.4" fill="rgb(55,0,255)"/>
<path d="M257.1,1167.6V1168.64" stroke="rgb(4,0,0)"/><circle cx="257.1" cy="1167.6" r="3.4" fill="rgb(2,0,7)"/>
<path d="M257.1,1160.3V1163.84" stroke="rgb(16,0,0)"/><path d="M256.15,1163.4q0.95,-0.88 1.9,0l-0.95,1.31z" fill="rgb(16,0,0)"/><circle cx="257.1" cy="1160.3" r="3.4" fill="rgb(7,0,34)"/>
<path d="M257.1,1146.9V1153.16" stroke="rgb(31,0,0)"/><path d="M255.62,1152.43q1.48,-1.47 2.96,0l-1.48,2.21z" fill="rgb(31,0,0)"/><circle cx="257.1" cy="1146.9" r="3.4" fill="rgb(18,0,83)"/>
<path d="M257.1,1126.9V1135.03" stroke="rgb(40,0,0)"/><path d="M255.36,1134.27q1.74,-1.52 3.48,0l-1.74,2.27z" fill="rgb(40,0,0)"/><circle cx="257.1" cy="1126.9" r="3.4" fill="rgb(34,0,156)"/>
<path d="M225.4,1139V1147.19" stroke="rgb(40,0,0)"/><path d="M223.63,1146.43q1.74,-1.52 3.48,0l-1.74,2.28z" fill="rgb(40,0,0)"/><circle cx="225.4" cy="1139" r="3.4" fill="rgb(18,2,116)"/>
<path d="M231.2,1117.3V1126.17" stroke="rgb(44,0,0)"/><path d="M229.47,1125.41q1.78,-1.53 3.57,0l-1.78,2.3z" fill="rgb(44,0,0)"/><circle cx="231.2" cy="1117.3" r="3.4" fill="rgb(34,2,202)"/>
<path d="M147.9,1131.5V1140.7" stroke="rgb(46,0,0)"/><path d="M146.14,1139.93q1.8,-1.54 3.61,0l-1.8,2.31z" fill="rgb(46,0,0)"/><circle cx="147.9" cy="1131.5" r="3.4" fill="rgb(2,7,156)"/>
<path d="M141.4,1132.7V1141.36" stroke="rgb(43,0,0)"/><path d="M139.58,1140.6q1.77,-1.53 3.54,0l-1.77,2.29z" fill="rgb(43,0,0)"/><circle cx="141.4" cy="1132.7" r="3.4" fill="rgb(0,7,156)"/>
<path d="M141.4,1162.6V1165.94" stroke="rgb(15,0,0)"/><path d="M140.44,1165.52q0.92,-0.83 1.83,0l-0.92,1.25z" fill="rgb(15,0,0)"/><circle cx="141.4" cy="1162.6" r="3.4" fill="rgb(0,2,34)"/>
<path d="M179.7,1107.4V1117.29" stroke="rgb(49,0,0)"/><path d="M177.87,1116.51q1.84,-1.56 3.69,0l-1.84,2.34z" fill="rgb(49,0,0)"/><circle cx="179.7" cy="1107.4" r="3.4" fill="rgb(18,7,255)"/>
<path d="M160.9,1121.6V1131.26" stroke="rgb(48,0,0)"/><path d="M159.09,1130.48q1.83,-1.55 3.66,0l-1.83,2.33z" fill="rgb(48,0,0)"/><circle cx="160.9" cy="1121.6" r="3.4" fill="rgb(7,7,202)"/>
<path d="M229.2,1121.2V1128.19" stroke="rgb(35,0,0)"/><path d="M227.62,1127.44q1.61,-1.49 3.23,0l-1.61,2.24z" fill="rgb(35,0,0)"/><circle cx="229.2" cy="1121.2" r="3.4" fill="rgb(34,0,202)"/>
<path d="M188.1,1151.6V1157.58" stroke="rgb(30,0,0)"/><path d="M186.62,1156.85q1.44,-1.47 2.88,0l-1.44,2.2z" fill="rgb(30,0,0)"/><circle cx="188.1" cy="1151.6" r="3.4" fill="rgb(7,2,83)"/>
<path d="M210.7,1110.1V1117.16" stroke="rgb(35,0,0)"/><path d="M209.05,1116.41q1.61,-1.49 3.23,0l-1.61,2.24z" fill="rgb(35,0,0)"/><circle cx="210.7" cy="1110.1" r="3.4" fill="rgb(34,2,255)"/>
<path d="M201.3,1134.5V1142.25" stroke="rgb(38,0,0)"/><path d="M199.59,1141.49q1.72,-1.51 3.43,0l-1.72,2.26z" fill="rgb(38,0,0)"/><circle cx="201.3" cy="1134.5" r="3.4" fill="rgb(18,2,156)"/>
<path d="M221.8,1143.8V1150.11" stroke="rgb(31,0,0)"/><path d="M220.27,1149.38q1.49,-1.47 2.98,0l-1.49,2.21z" fill="rgb(31,0,0)"/><circle cx="221.8" cy="1143.8" r="3.4" fill="rgb(18,0,116)"/>
<path d="M142.7,1125.6V1133.76" stroke="rgb(40,0,0)"/><path d="M140.96,1133q1.74,-1.52 3.48,0l-1.74,2.28z" fill="rgb(40,0,0)"/><circle cx="142.7" cy="1125.6" r="3.4" fill="rgb(2,7,202)"/>
<path d="M137.5,1126.7V1134.33" stroke="rgb(38,0,0)"/><path d="M135.83,1133.58q1.7,-1.5 3.41,0l-1.7,2.26z" fill="rgb(38,0,0)"/><circle cx="137.5" cy="1126.7" r="3.4" fill="rgb(0,7,202)"/>
<path d="M153.6,1160V1164.32" stroke="rgb(21,0,0)"/><path d="M152.5,1163.78q1.12,-1.08 2.23,0l-1.12,1.63z" fill="rgb(21,0,0)"/><circle cx="153.6" cy="1160" r="3.4" fill="rgb(2,2,55)"/>
<path d="M153.6,1114.3V1122.13" stroke="rgb(39,0,0)"/><path d="M151.89,1121.38q1.72,-1.51 3.44,0l-1.72,2.26z" fill="rgb(39,0,0)"/><circle cx="153.6" cy="1114.3" r="3.4" fill="rgb(7,7,255)"/>
<path d="M208.9,1160.1V1164.16" stroke="rgb(19,0,0)"/><path d="M207.86,1163.65q1.06,-1.01 2.12,0l-1.06,1.52z" fill="rgb(19,0,0)"/><circle cx="208.9" cy="1160.1" r="3.4" fill="rgb(7,0,55)"/>
<path d="M208.9,1113.8V1119.07" stroke="rgb(26,0,0)"/><path d="M207.61,1118.41q1.31,-1.32 2.62,0l-1.31,1.98z" fill="rgb(26,0,0)"/><circle cx="208.9" cy="1113.8" r="3.4" fill="rgb(34,0,255)"/>
<path d="M184.6,1128.3V1134.94" stroke="rgb(33,0,0)"/><path d="M183.05,1134.2q1.55,-1.48 3.1,0l-1.55,2.22z" fill="rgb(33,0,0)"/><circle cx="184.6" cy="1128.3" r="3.4" fill="rgb(18,2,202)"/>
<path d="M139,1118.1V1124.41" stroke="rgb(31,0,0)"/><path d="M137.47,1123.68q1.49,-1.47 2.98,0l-1.49,2.21z" fill="rgb(31,0,0)"/><circle cx="139" cy="1118.1" r="3.4" fill="rgb(2,7,255)"/>
<path d="M170.5,1148V1154.04" stroke="rgb(30,0,0)"/><path d="M169.04,1153.31q1.45,-1.47 2.9,0l-1.45,2.2z" fill="rgb(30,0,0)"/><circle cx="170.5" cy="1148" r="3.4" fill="rgb(7,2,116)"/>
<path d="M198.3,1138.8V1144.68" stroke="rgb(29,0,0)"/><path d="M196.92,1143.95q1.42,-1.46 2.84,0l-1.42,2.19z" fill="rgb(29,0,0)"/><circle cx="198.3" cy="1138.8" r="3.4" fill="rgb(18,0,156)"/>
<path d="M134.8,1162V1165.91" stroke="rgb(18,0,0)"/><path d="M133.8,1165.42q1.03,-0.97 2.05,0l-1.03,1.46z" fill="rgb(18,0,0)"/><circle cx="134.8" cy="1162" r="3.4" fill="rgb(0,2,55)"/>
<path d="M134.8,1119.2V1124.95" stroke="rgb(29,0,0)"/><path d="M133.42,1124.23q1.4,-1.44 2.8,0l-1.4,2.16z" fill="rgb(29,0,0)"/><circle cx="134.8" cy="1119.2" r="3.4" fill="rgb(0,7,255)"/>
<path d="M172.6,1120.6V1125.54" stroke="rgb(24,0,0)"/><path d="M171.36,1124.92q1.24,-1.24 2.49,0l-1.24,1.86z" fill="rgb(24,0,0)"/><circle cx="172.6" cy="1120.6" r="3.4" fill="rgb(18,2,255)"/>
<path d="M144.1,1157.4V1162.11" stroke="rgb(23,0,0)"/><path d="M142.94,1161.52q1.19,-1.17 2.38,0l-1.19,1.76z" fill="rgb(23,0,0)"/><circle cx="144.1" cy="1157.4" r="3.4" fill="rgb(2,2,83)"/>
<path d="M182.2,1157.4V1161.82" stroke="rgb(21,0,0)"/><path d="M181.02,1161.27q1.13,-1.11 2.27,0l-1.13,1.66z" fill="rgb(21,0,0)"/><circle cx="182.2" cy="1157.4" r="3.4" fill="rgb(7,0,83)"/>
<path d="M182.2,1132.3V1137.22" stroke="rgb(24,0,0)"/><path d="M180.91,1136.6q1.24,-1.24 2.48,0l-1.24,1.86z" fill="rgb(24,0,0)"/><circle cx="182.2" cy="1132.3" r="3.4" fill="rgb(18,0,202)"/>
<path d="M182.2,1171.1V1172.67" stroke="rgb(7,0,0)"/><circle cx="182.2" cy="1171.1" r="3.4" fill="rgb(2,0,18)"/>
<path d="M159.1,1142.7V1148.3" stroke="rgb(28,0,0)"/><path d="M157.69,1147.6q1.38,-1.41 2.76,0l-1.38,2.12z" fill="rgb(28,0,0)"/><circle cx="159.1" cy="1142.7" r="3.4" fill="rgb(7,2,156)"/>
<path d="M131.3,1159.1V1163.31" stroke="rgb(20,0,0)"/><path d="M130.23,1162.78q1.1,-1.06 2.2,0l-1.1,1.59z" fill="rgb(20,0,0)"/><circle cx="131.3" cy="1159.1" r="3.4" fill="rgb(0,2,83)"/>
<path d="M170.6,1124.3V1127.71" stroke="rgb(16,0,0)"/><path d="M169.63,1127.28q0.94,-0.86 1.88,0l-0.94,1.29z" fill="rgb(16,0,0)"/><circle cx="170.6" cy="1124.3" r="3.4" fill="rgb(18,0,255)"/>
<path d="M151.3,1135.8V1140.59" stroke="rgb(23,0,0)"/><path d="M150.09,1139.99q1.2,-1.19 2.4,0l-1.2,1.79z" fill="rgb(23,0,0)"/><circle cx="151.3" cy="1135.8" r="3.4" fill="rgb(7,2,202)"/>
<path d="M138.5,1153V1157.77" stroke="rgb(23,0,0)"/><path d="M137.27,1157.18q1.2,-1.19 2.4,0l-1.2,1.78z" fill="rgb(23,0,0)"/><circle cx="138.5" cy="1153" r="3.4" fill="rgb(2,2,116)"/>
<path d="M166,1152.9V1157.42" stroke="rgb(22,0,0)"/><path d="M164.84,1156.86q1.15,-1.12 2.29,0l-1.15,1.68z" fill="rgb(22,0,0)"/><circle cx="166" cy="1152.9" r="3.4" fill="rgb(7,0,116)"/>
<path d="M145.8,1127.6V1130.89" stroke="rgb(15,0,0)"/><path d="M144.88,1130.48q0.9,-0.81 1.8,0l-0.9,1.21z" fill="rgb(15,0,0)"/><circle cx="145.8" cy="1127.6" r="3.4" fill="rgb(7,2,255)"/>
<path d="M129.3,1154.4V1158.74" stroke="rgb(21,0,0)"/><path d="M128.15,1158.2q1.11,-1.07 2.22,0l-1.11,1.61z" fill="rgb(21,0,0)"/><circle cx="129.3" cy="1154.4" r="3.4" fill="rgb(0,2,116)"/>
<path d="M134.9,1147.2V1151.55" stroke="rgb(21,0,0)"/><path d="M133.73,1151q1.13,-1.1 2.26,0l-1.13,1.65z" fill="rgb(21,0,0)"/><circle cx="134.9" cy="1147.2" r="3.4" fill="rgb(2,2,156)"/>
<path d="M155.6,1170.2V1172.5" stroke="rgb(10,0,0)"/><circle cx="155.6" cy="1170.2" r="3.4" fill="rgb(2,0,34)"/>
<path d="M155.6,1147V1151.16" stroke="rgb(20,0,0)"/><path d="M154.5,1150.64q1.07,-1.03 2.15,0l-1.07,1.54z" fill="rgb(20,0,0)"/><circle cx="155.6" cy="1147" r="3.4" fill="rgb(7,0,156)"/>
<path d="M127.9,1148.4V1152.35" stroke="rgb(19,0,0)"/><path d="M126.91,1151.86q1.04,-0.98 2.08,0l-1.04,1.48z" fill="rgb(19,0,0)"/><circle cx="127.9" cy="1148.4" r="3.4" fill="rgb(0,2,156)"/>
<path d="M132.4,1140V1143.47" stroke="rgb(16,0,0)"/><path d="M131.46,1143.03q0.95,-0.88 1.9,0l-0.95,1.31z" fill="rgb(16,0,0)"/><circle cx="132.4" cy="1140" r="3.4" fill="rgb(2,2,202)"/>
<path d="M148.5,1139.8V1143.07" stroke="rgb(15,0,0)"/><path d="M147.62,1142.66q0.9,-0.81 1.79,0l-0.9,1.21z" fill="rgb(15,0,0)"/><circle cx="148.5" cy="1139.8" r="3.4" fill="rgb(7,0,202)"/>
<path d="M130.7,1131.5V1133.51" stroke="rgb(8,0,0)"/><circle cx="130.7" cy="1131.5" r="3.4" fill="rgb(2,2,255)"/>
<path d="M127.1,1141.1V1144.17" stroke="rgb(14,0,0)"/><circle cx="127.1" cy="1141.1" r="3.4" fill="rgb(0,2,202)"/>
<path d="M143.5,1167.5V1170.3" stroke="rgb(13,0,0)"/><circle cx="143.5" cy="1167.5" r="3.4" fill="rgb(2,0,55)"/>
<path d="M143.5,1131.4V1133.09" stroke="rgb(7,0,0)"/><circle cx="143.5" cy="1131.4" r="3.4" fill="rgb(7,0,255)"/>
<path d="M126.4,1132.6V1134.14" stroke="rgb(6,0,0)"/><circle cx="126.4" cy="1132.6" r="3.4" fill="rgb(0,2,255)"/>
<path d="M137.2,1163.4V1166.54" stroke="rgb(14,0,0)"/><circle cx="137.2" cy="1163.4" r="3.4" fill="rgb(2,0,83)"/>
<path d="M133.4,1158.1V1161.28" stroke="rgb(15,0,0)"/><path d="M132.52,1160.87q0.89,-0.81 1.79,0l-0.89,1.21z" fill="rgb(15,0,0)"/><circle cx="133.4" cy="1158.1" r="3.4" fill="rgb(2,0,116)"/>
<path d="M131,1151.6V1154.46" stroke="rgb(13,0,0)"/><circle cx="131" cy="1151.6" r="3.4" fill="rgb(2,0,156)"/>
<path d="M129.5,1144V1145.98" stroke="rgb(8,0,0)"/><circle cx="129.5" cy="1144" r="3.4" fill="rgb(2,0,202)"/>
<circle cx="128.3" cy="1135.3" r="3.4" fill="rgb(2,0,255)"/>
<circle cx="124" cy="1177.7" r="3.4" fill="rgb(0,0,7)"/>
<path d="M124,1175.9V1177.06" stroke="rgb(5,0,0)"/><circle cx="124" cy="1175.9" r="3.4" fill="rgb(0,0,18)"/>
<path d="M124,1165.1V1167.79" stroke="rgb(12,0,0)"/><circle cx="124" cy="1165.1" r="3.4" fill="rgb(0,0,83)"/>
<path d="M124,1159.5V1162.26" stroke="rgb(12,0,0)"/><circle cx="124" cy="1159.5" r="3.4" fill="rgb(0,0,116)"/>
<path d="M124,1152.9V1155.28" stroke="rgb(11,0,0)"/><circle cx="124" cy="1152.9" r="3.4" fill="rgb(0,0,156)"/>
<path d="M124,1145.2V1146.69" stroke="rgb(6,0,0)"/><circle cx="124" cy="1145.2" r="3.4" fill="rgb(0,0,202)"/>
<circle cx="124" cy="1136.4" r="3.4" fill="rgb(0,0,255)"/>
<circle cx="124" cy="1178.6" r="3.4" fill="rgb(0,0,2)"/>
<path d="M124,1169.6V1171.99" stroke="rgb(10,0,0)"/><circle cx="124" cy="1169.6" r="3.4" fill="rgb(0,0,55)"/>
<path d="M124,1173.2V1175.03" stroke="rgb(8,0,0)"/><circle cx="124" cy="1173.2" r="3.4" fill="rgb(0,0,34)"/>
</g>
<g fill="none" stroke="#7e7e7e" stroke-width="1.1" opacity="0.5"><polyline points="124,1136.4 124.2,1136.2 124.6,1135.6 125.3,1134.4 126.4,1132.6 127.9,1130.2 129.8,1127.2 132.1,1123.5 134.8,1119.2 137.9,1114.2 141.4,1108.5 145.2,1102 149.3,1094.9 153.8,1087.1 158.6,1078.6 163.7,1069.4 169.1,1059.5 174.6,1049 180.4,1037.7 186.4,1025.8 192.5,1013.2 198.8,999.9 205.2,986 211.6,971.4 218.1,956.2 224.6,940.3 231.2,923.8 237.7,906.6 244.3,888.9 250.7,870.5 257.2,851.4 263.5,831.8 269.8,811.5 276,790.6 282.1,769 288.1,746.9 294,724.1 299.7,700.7 305.3,676.7 310.8,652 316.2,626.7"/><polyline points="316.2,626.7 316.3,626.7 316.6,626.5 317.2,626.3 318.1,625.9 319.2,625.4 320.7,624.8 322.5,624 324.6,623.1 327,622 329.8,620.8 333,619.4 336.4,617.8 340.2,616.1 344.4,614.3 348.9,612.2 353.7,610 358.8,607.6 364.3,605.1 370,602.3 376.1,599.4 382.5,596.3 389.1,593.1 396.1,589.6 403.3,586 410.7,582.1 418.4,578.1 426.4,573.9 434.6,569.5 442.9,564.9 451.5,560.2 460.3,555.2 469.3,550 478.4,544.6 487.6,539.1 497,533.3 506.6,527.3 516.2,521.1 526,514.8 535.8,508.2 545.7,501.4"/><polyline points="545.7,501.4 554.9,501.8 564.3,502 573.8,502.2 583.3,502.3 592.9,502.3 602.6,502.2 612.4,502.1 622.2,501.8 632,501.5 641.8,501.2 651.6,500.7 661.3,500.2 671,499.7 680.6,499.1 690.1,498.5 699.4,497.8 708.6,497.1 717.6,496.4 726.4,495.7 734.9,495 743.1,494.2 751.1,493.5 758.7,492.7 766,492 772.8,491.3 779.3,490.7 785.4,490 791.1,489.4 796.2,488.9 801,488.3 805.2,487.9 809,487.4 812.2,487.1 815,486.7 817.3,486.5 819.1,486.3 820.4,486.1 821.4,486 821.8,486 822,485.9"/><polyline points="822,485.9 833.3,509.9 845.2,533.2 857.5,555.9 870.3,577.9 883.7,599.3 897.6,620.1 912,640.3 926.9,659.8 942.4,678.8 958.4,697.1 975,714.9 992,732 1009.6,748.5 1027.7,764.5 1046.2,779.8 1065.1,794.6 1084.4,808.7 1103.9,822.3 1123.8,835.3 1143.7,847.7 1163.7,859.5 1183.7,870.6 1203.5,881.2 1223.1,891.2 1242.3,900.5 1260.9,909.2 1278.8,917.3 1296,924.8 1312.1,931.6 1327.2,937.7 1341,943.3 1353.6,948.1 1364.6,952.3 1374.2,955.9 1382.2,958.9 1388.5,961.2 1393.3,962.9 1396.5,964.1 1398.3,964.7 1398.8,964.9"/></g><circle cx="545.7" cy="501.4" r="3.4" fill="#fff"/>
</svg>
</body>
</html>
